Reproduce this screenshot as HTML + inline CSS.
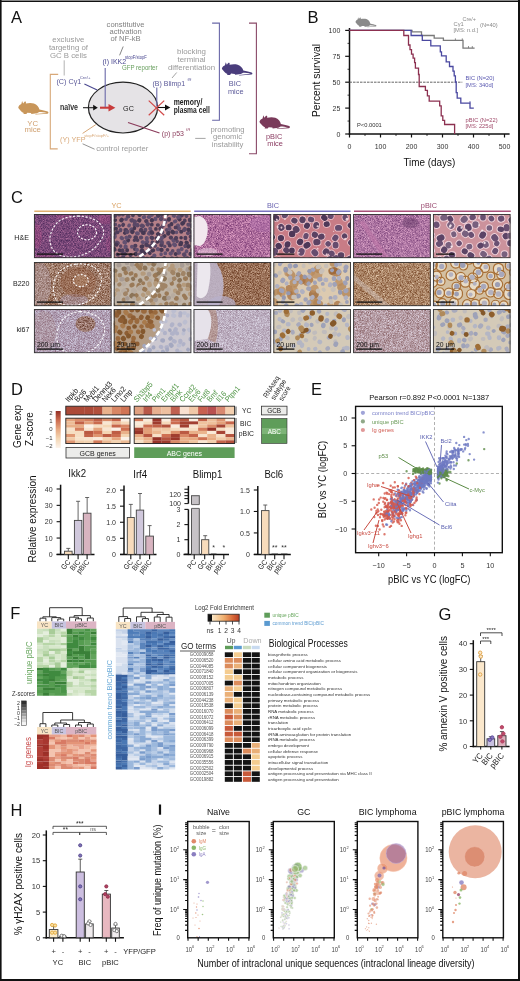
<!DOCTYPE html>
<html><head><meta charset="utf-8"><style>
html,body{margin:0;padding:0;background:#fff;}
body{width:520px;height:981px;overflow:hidden;}
svg{display:block;will-change:transform;}
text{font-family:"Liberation Sans",sans-serif;}
</style></head><body>
<svg width="520" height="981" viewBox="0 0 520 981">
<defs><filter id="tHE1" x="0" y="0" width="100%" height="100%" color-interpolation-filters="sRGB"><feTurbulence type="fractalNoise" baseFrequency="1.4" numOctaves="2" seed="3"/><feColorMatrix type="matrix" values="0.600 0 0 0 0.182  0.413 0 0 0 0.080  0.400 0 0 0 0.278  0 0 0 0 1"/></filter><filter id="tHE3" x="0" y="0" width="100%" height="100%" color-interpolation-filters="sRGB"><feTurbulence type="fractalNoise" baseFrequency="1.4" numOctaves="2" seed="4"/><feColorMatrix type="matrix" values="0.707 0 0 0 0.333  0.707 0 0 0 0.082  0.560 0 0 0 0.340  0 0 0 0 1"/></filter><filter id="tHE5" x="0" y="0" width="100%" height="100%" color-interpolation-filters="sRGB"><feTurbulence type="fractalNoise" baseFrequency="1.4" numOctaves="2" seed="5"/><feColorMatrix type="matrix" values="0.613 0 0 0 0.376  0.613 0 0 0 0.156  0.493 0 0 0 0.393  0 0 0 0 1"/></filter><filter id="tB1" x="0" y="0" width="100%" height="100%" color-interpolation-filters="sRGB"><feTurbulence type="fractalNoise" baseFrequency="1.4" numOctaves="2" seed="6"/><feColorMatrix type="matrix" values="0.707 0 0 0 0.270  0.853 0 0 0 0.060  0.933 0 0 0 -0.051  0 0 0 0 1"/></filter><filter id="tB3" x="0" y="0" width="100%" height="100%" color-interpolation-filters="sRGB"><feTurbulence type="fractalNoise" baseFrequency="1.4" numOctaves="2" seed="7"/><feColorMatrix type="matrix" values="0.640 0 0 0 0.284  0.733 0 0 0 0.076  0.747 0 0 0 -0.028  0 0 0 0 1"/></filter><filter id="tB5" x="0" y="0" width="100%" height="100%" color-interpolation-filters="sRGB"><feTurbulence type="fractalNoise" baseFrequency="1.4" numOctaves="2" seed="8"/><feColorMatrix type="matrix" values="0.653 0 0 0 0.344  0.787 0 0 0 0.128  0.813 0 0 0 -0.003  0 0 0 0 1"/></filter><filter id="tK1" x="0" y="0" width="100%" height="100%" color-interpolation-filters="sRGB"><feTurbulence type="fractalNoise" baseFrequency="1.4" numOctaves="2" seed="9"/><feColorMatrix type="matrix" values="0.464 0 0 0 0.454  0.640 0 0 0 0.296  0.627 0 0 0 0.384  0 0 0 0 1"/></filter><filter id="tK3" x="0" y="0" width="100%" height="100%" color-interpolation-filters="sRGB"><feTurbulence type="fractalNoise" baseFrequency="1.4" numOctaves="2" seed="10"/><feColorMatrix type="matrix" values="0.439 0 0 0 0.522  0.552 0 0 0 0.414  0.515 0 0 0 0.500  0 0 0 0 1"/></filter><filter id="tK1b" x="0" y="0" width="100%" height="100%" color-interpolation-filters="sRGB"><feTurbulence type="fractalNoise" baseFrequency="1.4" numOctaves="2" seed="12"/><feColorMatrix type="matrix" values="0.664 0 0 0 0.268  0.762 0 0 0 0.082  0.833 0 0 0 0.011  0 0 0 0 1"/></filter><filter id="tK5" x="0" y="0" width="100%" height="100%" color-interpolation-filters="sRGB"><feTurbulence type="fractalNoise" baseFrequency="1.4" numOctaves="2" seed="11"/><feColorMatrix type="matrix" values="0.540 0 0 0 0.440  0.703 0 0 0 0.260  0.753 0 0 0 0.267  0 0 0 0 1"/></filter><clipPath id="c00"><rect x="34.0" y="214.1" width="77.5" height="44"/></clipPath><clipPath id="c10"><rect x="113.8" y="214.1" width="77.5" height="44"/></clipPath><clipPath id="c20"><rect x="193.6" y="214.1" width="77.5" height="44"/></clipPath><clipPath id="c30"><rect x="273.4" y="214.1" width="77.5" height="44"/></clipPath><clipPath id="c40"><rect x="353.2" y="214.1" width="77.5" height="44"/></clipPath><clipPath id="c50"><rect x="433.0" y="214.1" width="77.5" height="44"/></clipPath><clipPath id="c01"><rect x="34.0" y="262.1" width="77.5" height="44"/></clipPath><clipPath id="c11"><rect x="113.8" y="262.1" width="77.5" height="44"/></clipPath><clipPath id="c21"><rect x="193.6" y="262.1" width="77.5" height="44"/></clipPath><clipPath id="c31"><rect x="273.4" y="262.1" width="77.5" height="44"/></clipPath><clipPath id="c41"><rect x="353.2" y="262.1" width="77.5" height="44"/></clipPath><clipPath id="c51"><rect x="433.0" y="262.1" width="77.5" height="44"/></clipPath><clipPath id="c02"><rect x="34.0" y="309.1" width="77.5" height="44"/></clipPath><clipPath id="c12"><rect x="113.8" y="309.1" width="77.5" height="44"/></clipPath><clipPath id="c22"><rect x="193.6" y="309.1" width="77.5" height="44"/></clipPath><clipPath id="c32"><rect x="273.4" y="309.1" width="77.5" height="44"/></clipPath><clipPath id="c42"><rect x="353.2" y="309.1" width="77.5" height="44"/></clipPath><clipPath id="c52"><rect x="433.0" y="309.1" width="77.5" height="44"/></clipPath><clipPath id="k1in"><ellipse cx="85.5" cy="323.90000000000003" rx="10" ry="8"/></clipPath><clipPath id="ecl"><rect x="355.6" y="406.4" width="146.7" height="146.30000000000007"/></clipPath><linearGradient id="lfe" x1="0" x2="1" y1="0" y2="0"><stop offset="0" stop-color="#111"/><stop offset="0.12" stop-color="#111"/><stop offset="0.14" stop-color="#fbe6c4"/><stop offset="0.5" stop-color="#f0b070"/><stop offset="0.8" stop-color="#d86838"/><stop offset="1" stop-color="#b83c24"/></linearGradient></defs>
<rect x="0" y="0" width="520" height="981" fill="#fff"/>
<text x="11.00" y="23.30" font-size="16.5" fill="#111" text-anchor="start">A</text>
<text x="68.40" y="42.40" font-size="7.8" fill="#9a9a9a" text-anchor="middle">exclusive</text>
<text x="68.40" y="50.35" font-size="7.8" fill="#9a9a9a" text-anchor="middle">targeting of</text>
<text x="68.40" y="58.30" font-size="7.8" fill="#9a9a9a" text-anchor="middle">GC B cells</text>
<line x1="64.20" y1="60.30" x2="64.20" y2="75.50" stroke="#aaa" stroke-width="0.9"/>
<text x="125.60" y="26.50" font-size="7.6" fill="#808080" text-anchor="middle">constitutive</text>
<text x="125.60" y="33.90" font-size="7.6" fill="#808080" text-anchor="middle">activation</text>
<text x="125.60" y="41.30" font-size="7.6" fill="#808080" text-anchor="middle">of NF-kB</text>
<line x1="123.20" y1="46.50" x2="119.60" y2="55.30" stroke="#777" stroke-width="0.9"/>
<text x="191.50" y="53.80" font-size="7.9" fill="#9a9a9a" text-anchor="middle">blocking</text>
<text x="191.50" y="62.05" font-size="7.9" fill="#9a9a9a" text-anchor="middle">terminal</text>
<text x="191.50" y="70.30" font-size="7.9" fill="#9a9a9a" text-anchor="middle">differentiation</text>
<line x1="176.70" y1="72.50" x2="172.00" y2="78.00" stroke="#9a9a9a" stroke-width="0.9"/>
<text x="227.50" y="131.90" font-size="7.7" fill="#9a9a9a" text-anchor="middle">promoting</text>
<text x="227.50" y="139.40" font-size="7.7" fill="#9a9a9a" text-anchor="middle">genomic</text>
<text x="227.50" y="146.90" font-size="7.7" fill="#9a9a9a" text-anchor="middle">instability</text>
<line x1="195.20" y1="138.40" x2="205.60" y2="138.40" stroke="#9a9a9a" stroke-width="0.9"/>
<line x1="82.60" y1="143.80" x2="94.60" y2="149.20" stroke="#888" stroke-width="0.9"/>
<text x="96.20" y="151.20" font-size="7.7" fill="#9a9a9a" text-anchor="start">control reporter</text>
<ellipse cx="123" cy="107.6" rx="34.6" ry="25.4" fill="#e5e3e6" stroke="#222" stroke-width="1.2"/>
<text transform="translate(128.50 111.00) scale(0.9 1)" font-size="8" fill="#222" text-anchor="middle">GC</text>
<text transform="translate(60.00 109.70) scale(0.82 1)" font-size="8.6" fill="#333" text-anchor="start" font-weight="bold">naïve</text>
<line x1="83.00" y1="107.70" x2="94.50" y2="107.70" stroke="#222" stroke-width="1.1"/>
<path d="M93.2,104.8 L97.8,107.7 L93.2,110.6 Z" fill="#111" stroke="none" stroke-width="1"/>
<line x1="100.00" y1="107.70" x2="110.50" y2="107.70" stroke="#c83c3c" stroke-width="2.1"/>
<path d="M108.5,104 L115.4,107.7 L108.5,111.4 Z" fill="#c83c3c" stroke="none" stroke-width="1"/>
<line x1="105.20" y1="68.00" x2="105.20" y2="107.00" stroke="#6a68a8" stroke-width="1.1"/>
<text transform="translate(102.40 64.20) scale(0.92 1)" font-size="7.6" fill="#4a4890" text-anchor="start">(I) IKK2</text>
<text transform="translate(125.00 58.80) scale(0.9 1)" font-size="4.6" fill="#4a4890" text-anchor="start">stopF/stopF</text>
<text transform="translate(121.90 70.00) scale(0.93 1)" font-size="6.6" fill="#6aa060" text-anchor="start">GFP reporter</text>
<text transform="translate(56.40 83.80) scale(0.95 1)" font-size="7.6" fill="#5a5898" text-anchor="start">(C) Cγ1</text>
<text x="79.70" y="78.50" font-size="4.4" fill="#5a5898" text-anchor="start">Cre/+</text>
<line x1="84.40" y1="84.10" x2="97.20" y2="89.90" stroke="#4a4890" stroke-width="1.1"/>
<text transform="translate(60.00 142.30) scale(0.95 1)" font-size="7.6" fill="#d8a878" text-anchor="start">(Y) YFP</text>
<text transform="translate(84.20 137.00) scale(0.92 1)" font-size="4.4" fill="#d8a878" text-anchor="start">stopF/stopF/+</text>
<line x1="82.60" y1="133.40" x2="95.80" y2="124.60" stroke="#d8a878" stroke-width="1"/>
<text transform="translate(152.50 85.80) scale(0.92 1)" font-size="7.6" fill="#5a5898" text-anchor="start">(B) Blimp1</text>
<text x="187.60" y="80.70" font-size="4.4" fill="#5a5898" text-anchor="start">f/f</text>
<line x1="156.80" y1="87.60" x2="156.80" y2="106.60" stroke="#6a68a8" stroke-width="1.1"/>
<line x1="157.50" y1="107.50" x2="166.00" y2="107.50" stroke="#111" stroke-width="1.1"/>
<path d="M165,104.6 L170.3,107.5 L165,110.4 Z" fill="#111" stroke="none" stroke-width="1"/>
<line x1="148.70" y1="100.60" x2="164.20" y2="115.30" stroke="#d04848" stroke-width="1.2"/>
<line x1="148.70" y1="115.30" x2="164.20" y2="100.60" stroke="#d04848" stroke-width="1.2"/>
<text transform="translate(173.70 104.90) scale(0.8 1)" font-size="8.6" fill="#222" text-anchor="start" font-weight="bold">memory/</text>
<text transform="translate(173.70 113.00) scale(0.78 1)" font-size="8.6" fill="#222" text-anchor="start" font-weight="bold">plasma cell</text>
<line x1="128.00" y1="122.50" x2="159.50" y2="133.00" stroke="#8a3a5a" stroke-width="1.1"/>
<text transform="translate(161.80 136.10) scale(0.92 1)" font-size="7.6" fill="#8a3a5a" text-anchor="start">(p) p53</text>
<text x="186.30" y="131.20" font-size="4.4" fill="#8a3a5a" text-anchor="start">f/f</text>
<polyline points="58.20,74.40 50.30,74.40 50.30,148.90 57.70,148.90" fill="none" stroke="#d8a878" stroke-width="1.1"/>
<polyline points="212.10,23.10 219.40,23.10 219.40,120.20 212.10,120.20" fill="none" stroke="#6a68a8" stroke-width="1.1"/>
<polyline points="249.00,23.10 256.40,23.10 256.40,153.70 249.00,153.70" fill="none" stroke="#8a4a68" stroke-width="1.1"/>
<path transform="translate(18.3,100.4) scale(1.007,1.029)" d="M0,6.6C0.5,5 2,4 3,3.6L3.8,0.6L4.8,3L6.2,1.2C7,0.6 7.8,1.2 7.6,2.2L7.5,3C10,2.4 13,2.2 15.5,3C18.5,4 20.5,6.5 21,8.8C24,9.6 27,10.2 29.2,10.8C30.2,11.3 30.2,12.6 29,12.9L17,13.8L17,13.3L28.2,12.2C26,11.6 23,11.3 20.8,11.2L18.6,12.4L15,13L13,13.2L12.6,12.3L9,12L8,13.3L5,13.3L5.5,12.3C4,11.6 2.5,10.5 1.5,9C0.7,8.2 0,7.5 0,6.6Z" fill="#c8965a"/>
<text x="32.70" y="125.50" font-size="7.8" fill="#d0a070" text-anchor="middle">YC</text>
<text x="32.70" y="132.30" font-size="7.8" fill="#d0a070" text-anchor="middle">mice</text>
<path transform="translate(221.9,61.7) scale(1.020,0.993)" d="M0,6.6C0.5,5 2,4 3,3.6L3.8,0.6L4.8,3L6.2,1.2C7,0.6 7.8,1.2 7.6,2.2L7.5,3C10,2.4 13,2.2 15.5,3C18.5,4 20.5,6.5 21,8.8C24,9.6 27,10.2 29.2,10.8C30.2,11.3 30.2,12.6 29,12.9L17,13.8L17,13.3L28.2,12.2C26,11.6 23,11.3 20.8,11.2L18.6,12.4L15,13L13,13.2L12.6,12.3L9,12L8,13.3L5,13.3L5.5,12.3C4,11.6 2.5,10.5 1.5,9C0.7,8.2 0,7.5 0,6.6Z" fill="#4a3d7c"/>
<text transform="translate(234.90 85.60) scale(0.95 1)" font-size="7.8" fill="#5a5898" text-anchor="middle">BIC</text>
<text transform="translate(235.70 93.50) scale(0.95 1)" font-size="7.8" fill="#5a5898" text-anchor="middle">mice</text>
<path transform="translate(259.5,114.7) scale(1.017,1.043)" d="M0,6.6C0.5,5 2,4 3,3.6L3.8,0.6L4.8,3L6.2,1.2C7,0.6 7.8,1.2 7.6,2.2L7.5,3C10,2.4 13,2.2 15.5,3C18.5,4 20.5,6.5 21,8.8C24,9.6 27,10.2 29.2,10.8C30.2,11.3 30.2,12.6 29,12.9L17,13.8L17,13.3L28.2,12.2C26,11.6 23,11.3 20.8,11.2L18.6,12.4L15,13L13,13.2L12.6,12.3L9,12L8,13.3L5,13.3L5.5,12.3C4,11.6 2.5,10.5 1.5,9C0.7,8.2 0,7.5 0,6.6Z" fill="#7a3a5a"/>
<text transform="translate(274.20 138.90) scale(0.95 1)" font-size="7.8" fill="#8a3a60" text-anchor="middle">pBIC</text>
<text transform="translate(275.10 145.80) scale(0.95 1)" font-size="7.8" fill="#8a3a60" text-anchor="middle">mice</text>
<text x="307.50" y="22.50" font-size="16.5" fill="#111" text-anchor="start">B</text>
<line x1="349.50" y1="28.00" x2="349.50" y2="134.80" stroke="#111" stroke-width="1.5"/>
<line x1="348.80" y1="134.00" x2="509.60" y2="134.00" stroke="#111" stroke-width="1.5"/>
<line x1="345.20" y1="134.00" x2="349.50" y2="134.00" stroke="#111" stroke-width="1.2"/>
<text x="340.30" y="136.50" font-size="7" fill="#333" text-anchor="end">0</text>
<line x1="345.20" y1="108.10" x2="349.50" y2="108.10" stroke="#111" stroke-width="1.2"/>
<text x="340.30" y="110.60" font-size="7" fill="#333" text-anchor="end">25</text>
<line x1="345.20" y1="82.20" x2="349.50" y2="82.20" stroke="#111" stroke-width="1.2"/>
<text x="340.30" y="84.70" font-size="7" fill="#333" text-anchor="end">50</text>
<line x1="345.20" y1="56.30" x2="349.50" y2="56.30" stroke="#111" stroke-width="1.2"/>
<text x="340.30" y="58.80" font-size="7" fill="#333" text-anchor="end">75</text>
<line x1="345.20" y1="30.40" x2="349.50" y2="30.40" stroke="#111" stroke-width="1.2"/>
<text x="340.30" y="32.90" font-size="7" fill="#333" text-anchor="end">100</text>
<line x1="347.50" y1="121.05" x2="349.50" y2="121.05" stroke="#111" stroke-width="0.8"/>
<line x1="347.50" y1="95.15" x2="349.50" y2="95.15" stroke="#111" stroke-width="0.8"/>
<line x1="347.50" y1="69.25" x2="349.50" y2="69.25" stroke="#111" stroke-width="0.8"/>
<line x1="347.50" y1="43.35" x2="349.50" y2="43.35" stroke="#111" stroke-width="0.8"/>
<line x1="349.50" y1="134.00" x2="349.50" y2="137.50" stroke="#111" stroke-width="1.2"/>
<text x="349.50" y="149.40" font-size="7" fill="#333" text-anchor="middle">0</text>
<line x1="380.50" y1="134.00" x2="380.50" y2="137.50" stroke="#111" stroke-width="1.2"/>
<text x="380.50" y="149.40" font-size="7" fill="#333" text-anchor="middle">100</text>
<line x1="411.50" y1="134.00" x2="411.50" y2="137.50" stroke="#111" stroke-width="1.2"/>
<text x="411.50" y="149.40" font-size="7" fill="#333" text-anchor="middle">200</text>
<line x1="442.50" y1="134.00" x2="442.50" y2="137.50" stroke="#111" stroke-width="1.2"/>
<text x="442.50" y="149.40" font-size="7" fill="#333" text-anchor="middle">300</text>
<line x1="473.50" y1="134.00" x2="473.50" y2="137.50" stroke="#111" stroke-width="1.2"/>
<text x="473.50" y="149.40" font-size="7" fill="#333" text-anchor="middle">400</text>
<line x1="504.50" y1="134.00" x2="504.50" y2="137.50" stroke="#111" stroke-width="1.2"/>
<text x="504.50" y="149.40" font-size="7" fill="#333" text-anchor="middle">500</text>
<line x1="365.00" y1="134.00" x2="365.00" y2="136.00" stroke="#111" stroke-width="0.8"/>
<line x1="396.00" y1="134.00" x2="396.00" y2="136.00" stroke="#111" stroke-width="0.8"/>
<line x1="427.00" y1="134.00" x2="427.00" y2="136.00" stroke="#111" stroke-width="0.8"/>
<line x1="458.00" y1="134.00" x2="458.00" y2="136.00" stroke="#111" stroke-width="0.8"/>
<line x1="489.00" y1="134.00" x2="489.00" y2="136.00" stroke="#111" stroke-width="0.8"/>
<text transform="translate(429.30 166.00) scale(0.9 1)" font-size="11" fill="#111" text-anchor="middle">Time (days)</text>
<text transform="translate(319.60 80.50) rotate(-90) scale(0.98 1)" font-size="10.5" fill="#111" text-anchor="middle">Percent survival</text>
<line x1="349.50" y1="82.20" x2="462.30" y2="82.20" stroke="#555" stroke-width="0.9" stroke-dasharray="2.5,1"/>
<polyline points="349.50,30.40 412.00,30.40 412.00,31.90 421.50,31.90 421.50,35.50 434.20,35.50 434.20,38.10 443.40,38.10 443.40,40.40 463.00,40.40 463.00,48.10 474.60,48.10" fill="none" stroke="#7a7a7a" stroke-width="1.3"/>
<line x1="455.40" y1="38.40" x2="455.40" y2="40.40" stroke="#7a7a7a" stroke-width="0.9"/>
<line x1="462.30" y1="38.40" x2="462.30" y2="40.40" stroke="#7a7a7a" stroke-width="0.9"/>
<line x1="468.50" y1="46.10" x2="468.50" y2="48.10" stroke="#7a7a7a" stroke-width="0.9"/>
<line x1="472.30" y1="46.10" x2="472.30" y2="48.10" stroke="#7a7a7a" stroke-width="0.9"/>
<polyline points="349.50,30.40 411.10,30.40 411.10,35.50 422.30,35.50 422.30,40.40 430.80,40.40 430.80,45.80 440.30,45.80 440.30,51.90 441.50,51.90 441.50,55.80 446.20,55.80 446.20,61.90 449.50,61.90 449.50,66.50 453.00,66.50 453.00,71.20 454.20,71.20 454.20,75.80 455.40,75.80 455.40,82.00 456.20,82.00 456.20,92.70 457.20,92.70 457.20,98.10 460.80,98.10 460.80,103.20 470.00,103.20 470.00,108.10 473.80,108.10" fill="none" stroke="#4a48a0" stroke-width="1.3"/>
<line x1="470.00" y1="101.20" x2="470.00" y2="103.20" stroke="#4a48a0" stroke-width="0.9"/>
<polyline points="349.50,30.40 403.80,30.40 403.80,35.50 408.50,35.50 408.50,45.00 410.00,45.00 410.00,49.60 411.50,49.60 411.50,54.20 413.10,54.20 413.10,58.10 414.60,58.10 414.60,62.70 415.40,62.70 415.40,68.10 418.50,68.10 418.50,74.50 419.20,74.50 419.20,86.50 425.40,86.50 425.40,90.40 427.40,90.40 427.40,95.80 429.20,95.80 429.20,101.20 439.70,101.20 439.70,105.80 441.20,105.80 441.20,115.80 442.80,115.80 442.80,120.40 444.60,120.40 444.60,124.50 454.60,124.50 454.60,134.00 454.60,134.00" fill="none" stroke="#8c3050" stroke-width="1.3"/>
<text transform="translate(453.50 26.00) scale(0.93 1)" font-size="6.2" fill="#8a8a8a" text-anchor="start">Cγ1</text>
<text transform="translate(462.50 20.50) scale(0.93 1)" font-size="5.8" fill="#8a8a8a" text-anchor="start">Cre/+</text>
<text transform="translate(480.00 26.50) scale(0.93 1)" font-size="6.2" fill="#8a8a8a" text-anchor="start">(N=40)</text>
<text transform="translate(453.50 32.40) scale(0.93 1)" font-size="6.2" fill="#8a8a8a" text-anchor="start">[MS: n.d.]</text>
<text transform="translate(465.50 79.90) scale(0.93 1)" font-size="6.2" fill="#5a58b0" text-anchor="start">BIC (N=20)</text>
<text transform="translate(465.50 86.50) scale(0.93 1)" font-size="6.2" fill="#5a58b0" text-anchor="start">[MS: 340d]</text>
<text transform="translate(465.50 122.00) scale(0.93 1)" font-size="6.2" fill="#a04a6a" text-anchor="start">pBIC (N=22)</text>
<text transform="translate(465.50 128.40) scale(0.93 1)" font-size="6.2" fill="#a04a6a" text-anchor="start">[MS: 225d]</text>
<text transform="translate(357.00 126.80) scale(0.93 1)" font-size="6.2" fill="#333" text-anchor="start">P&lt;0.0001</text>
<path transform="translate(355.5,16.8) scale(0.700,0.757)" d="M0,6.6C0.5,5 2,4 3,3.6L3.8,0.6L4.8,3L6.2,1.2C7,0.6 7.8,1.2 7.6,2.2L7.5,3C10,2.4 13,2.2 15.5,3C18.5,4 20.5,6.5 21,8.8C24,9.6 27,10.2 29.2,10.8C30.2,11.3 30.2,12.6 29,12.9L17,13.8L17,13.3L28.2,12.2C26,11.6 23,11.3 20.8,11.2L18.6,12.4L15,13L13,13.2L12.6,12.3L9,12L8,13.3L5,13.3L5.5,12.3C4,11.6 2.5,10.5 1.5,9C0.7,8.2 0,7.5 0,6.6Z" fill="#8a8a8a"/>
<text x="11.00" y="202.50" font-size="16.5" fill="#111" text-anchor="start">C</text>
<text transform="translate(116.50 208.00) scale(0.92 1)" font-size="8" fill="#d8a060" text-anchor="middle">YC</text>
<text transform="translate(273.00 208.00) scale(0.92 1)" font-size="8" fill="#6a64b0" text-anchor="middle">BIC</text>
<text transform="translate(429.00 208.00) scale(0.92 1)" font-size="8" fill="#9a4a70" text-anchor="middle">pBIC</text>
<line x1="34.30" y1="211.20" x2="190.70" y2="211.20" stroke="#e0b070" stroke-width="1.4"/>
<line x1="194.20" y1="211.20" x2="350.50" y2="211.20" stroke="#7a74c0" stroke-width="1.4"/>
<line x1="354.00" y1="211.20" x2="510.80" y2="211.20" stroke="#a85078" stroke-width="1.4"/>
<text transform="translate(29.00 240.00) scale(0.95 1)" font-size="7.5" fill="#222" text-anchor="end">H&amp;E</text>
<text transform="translate(29.50 285.50) scale(0.95 1)" font-size="7.5" fill="#222" text-anchor="end">B220</text>
<text transform="translate(29.50 331.50) scale(0.95 1)" font-size="7.5" fill="#222" text-anchor="end">ki67</text>
<g clip-path="url(#c00)">
<rect x="34.0" y="214.1" width="77.5" height="44" filter="url(#tHE1)"/>
<ellipse cx="37.0" cy="236.1" rx="5" ry="12" fill="#c04a88" fill-opacity="0.25"/>
<ellipse cx="44.0" cy="257.1" rx="10" ry="3" fill="#c04a88" fill-opacity="0.2"/>
<ellipse cx="106.0" cy="219.1" rx="8" ry="5" fill="#c04a88" fill-opacity="0.25"/>
<ellipse cx="110.0" cy="244.1" rx="4" ry="8" fill="#c04a88" fill-opacity="0.2"/>
<ellipse cx="64.0" cy="216.1" rx="8" ry="3" fill="#c04a88" fill-opacity="0.2"/>
<path d="M78.0,216.1 C84.3,216.1 92.8,218.1 97.0,221.1 C101.2,224.1 104.3,229.3 103.5,234.1 C102.7,238.9 97.2,246.3 92.0,250.1 C86.8,253.9 78.2,256.8 72.0,257.1 C65.8,257.4 58.7,255.4 55.0,252.1 C51.3,248.8 49.3,242.3 50.0,237.1 C50.7,231.9 54.3,224.6 59.0,221.1 C63.7,217.6 71.7,216.1 78.0,216.1 Z" fill="none" stroke="#fff" stroke-width="1.1" stroke-dasharray="2.2,1.6" stroke-opacity="0.95"/>
<ellipse cx="87.0" cy="232.29999999999998" rx="9.5" ry="7.5" fill="none" stroke="#fff" stroke-width="1.1" stroke-dasharray="2,1.5"/>
</g>
<rect x="34.40" y="214.50" width="76.70" height="43.20" fill="none" stroke="#333" stroke-width="0.9"/>
<line x1="37.00" y1="254.10" x2="63.00" y2="254.10" stroke="#111" stroke-width="1.3"/>
<g clip-path="url(#c10)">
<rect x="113.80" y="214.10" width="77.50" height="44.00" fill="#b48088" stroke="none" stroke-width="1"/>
<path d="M173.3 240.2l0.3 0.5M131.9 246.8l0.1 0.0M147.2 241.8l-0.4 0.4M121.5 237.8l0.6 0.6M181.8 259.6l-0.0 0.0" stroke="#625070" stroke-width="3.9" stroke-linecap="round" fill="none"/>
<path d="M155.1 245.8l-0.1 0.1M185.5 245.9l-0.2 0.1M128.3 216.5l-0.5 0.1M186.4 261.1l-0.5 0.5M178.5 210.8l0.1 0.9M168.1 242.9l0.5 0.0" stroke="#5a4866" stroke-width="4.0" stroke-linecap="round" fill="none"/>
<path d="M134.9 249.1l-0.1 0.0M137.0 258.9l-0.2 0.5M176.1 263.1l-0.1 0.8M152.7 257.8l-0.8 0.0M156.2 210.5l0.0 0.0M155.3 262.4l0.1 0.0M157.7 225.0l0.4 0.0M152.4 242.3l0.2 0.1M167.5 249.8l-0.0 0.0M116.9 261.9l-0.2 0.3M117.0 232.0l0.7 0.4" stroke="#4e3e5a" stroke-width="3.7" stroke-linecap="round" fill="none"/>
<path d="M134.6 224.2l-0.2 0.7M195.2 227.7l0.1 0.1M122.8 214.6l0.1 0.0M172.7 250.9l0.0 0.0M118.7 214.6l0.6 0.1M188.2 233.3l-0.4 0.1M191.0 240.0l-0.1 0.2M186.2 215.4l0.3 0.7" stroke="#5a4866" stroke-width="3.7" stroke-linecap="round" fill="none"/>
<path d="M179.2 219.0l0.4 0.3M169.0 219.0l-0.1 0.7M151.5 261.9l0.4 0.4M153.1 250.3l-0.6 0.4M142.3 246.3l-0.7 0.3M110.8 263.3l0.7 0.3M135.8 253.8l0.0 0.4" stroke="#463852" stroke-width="4.0" stroke-linecap="round" fill="none"/>
<path d="M175.5 221.2l-0.7 0.3M131.4 229.3l-0.3 0.3M150.2 228.5l0.2 0.5M173.6 215.7l0.5 0.3M151.7 214.5l0.2 0.6M178.0 225.3l0.1 0.3M190.6 212.6l-0.2 0.7M132.6 258.9l0.2 0.3M165.3 253.0l-0.0 0.4M195.5 219.8l0.0 0.1" stroke="#625070" stroke-width="3.7" stroke-linecap="round" fill="none"/>
<path d="M172.5 231.8l0.6 0.5M190.5 253.9l0.0 0.1M132.5 231.8l-0.2 0.2M188.7 229.7l-0.1 0.2M152.0 220.2l-0.1 0.2M192.1 232.2l0.0 0.6M183.1 223.0l-0.7 0.5M168.3 232.8l-0.1 0.8" stroke="#463852" stroke-width="4.2" stroke-linecap="round" fill="none"/>
<path d="M185.7 210.5l0.5 0.5M166.7 229.8l0.0 0.3M129.4 236.5l0.5 0.3M177.1 241.3l-0.0 0.2" stroke="#5a4866" stroke-width="3.6" stroke-linecap="round" fill="none"/>
<path d="M125.8 219.2l0.4 0.0M176.5 232.3l0.0 0.1M186.6 251.1l-0.2 0.6M129.2 225.2l-0.2 0.6M179.3 252.8l-0.4 0.3M161.1 254.1l0.0 0.5" stroke="#625070" stroke-width="3.5" stroke-linecap="round" fill="none"/>
<path d="M188.8 246.1l-0.5 0.6M180.1 244.4l0.8 0.0M151.8 224.6l0.0 0.1M128.3 240.2l-0.3 0.4M146.8 258.6l0.4 0.0M156.4 238.1l0.7 0.1M164.6 236.0l-0.6 0.4M175.6 253.9l0.1 0.2M125.1 232.8l-0.2 0.2" stroke="#463852" stroke-width="3.8" stroke-linecap="round" fill="none"/>
<path d="M143.1 257.8l-0.3 0.1M178.5 250.7l-0.1 0.0M192.8 216.5l-0.3 0.2M165.0 262.4l0.4 0.3M154.4 255.7l-0.1 0.0M174.2 244.5l0.7 0.5M136.9 249.9l0.0 0.0" stroke="#625070" stroke-width="4.2" stroke-linecap="round" fill="none"/>
<path d="M151.7 237.6l0.4 0.3M111.0 246.0l0.1 0.1M176.1 238.1l-0.1 0.3M158.1 259.3l-0.1 0.6M190.6 263.3l0.1 0.9M161.6 244.2l-0.2 0.8M158.1 215.5l-0.0 0.5" stroke="#4e3e5a" stroke-width="4.2" stroke-linecap="round" fill="none"/>
<path d="M179.0 228.3l-0.2 0.5M181.7 249.0l0.0 0.1M170.7 253.5l0.1 0.1M149.5 233.0l-0.4 0.6" stroke="#625070" stroke-width="4.1" stroke-linecap="round" fill="none"/>
<path d="M141.1 229.9l-0.2 0.4M126.1 230.1l-0.7 0.0M161.0 228.1l-0.6 0.6M189.9 219.7l0.1 0.9M146.4 221.1l-0.2 0.1M127.2 261.2l0.7 0.5" stroke="#4e3e5a" stroke-width="4.1" stroke-linecap="round" fill="none"/>
<path d="M184.8 220.3l0.1 0.4M133.1 215.2l-0.2 0.3M130.0 210.9l0.2 0.3M115.0 234.1l0.0 0.0" stroke="#4e3e5a" stroke-width="3.5" stroke-linecap="round" fill="none"/>
<path d="M124.7 212.6l-0.1 0.3M139.8 254.2l-0.0 0.1M148.8 217.0l0.4 0.0M146.8 238.1l0.0 0.8M157.8 249.1l0.2 0.1M137.0 233.3l0.8 0.2" stroke="#625070" stroke-width="4.0" stroke-linecap="round" fill="none"/>
<path d="M161.7 214.3l-0.2 0.5M146.4 244.9l0.4 0.2M181.7 215.4l-0.7 0.1M151.0 245.8l-0.6 0.7M135.6 237.4l0.3 0.2" stroke="#4e3e5a" stroke-width="4.3" stroke-linecap="round" fill="none"/>
<path d="M122.4 253.9l0.0 0.0M160.5 261.1l0.7 0.5M114.8 224.4l0.4 0.0M120.5 229.8l-0.1 0.6M167.1 214.3l-0.3 0.3M113.1 259.2l-0.3 0.3M145.4 229.6l-0.1 0.7" stroke="#5a4866" stroke-width="3.8" stroke-linecap="round" fill="none"/>
<path d="M125.6 246.6l0.0 0.7M112.7 241.2l-0.0 0.2M144.3 210.7l-0.2 0.3M112.4 237.8l-0.7 0.0M124.6 242.2l0.5 0.1M178.5 217.1l-0.2 0.1M165.2 221.2l0.0 0.9M169.5 228.8l-0.1 0.0M161.7 238.0l-0.5 0.6" stroke="#625070" stroke-width="4.3" stroke-linecap="round" fill="none"/>
<path d="M171.9 258.2l0.2 0.1M187.3 258.0l-0.1 0.2M193.1 253.7l0.5 0.4M126.3 237.6l0.2 0.3M155.5 218.5l0.0 0.7M144.4 217.0l-0.7 0.3M142.6 242.1l0.7 0.3" stroke="#625070" stroke-width="3.8" stroke-linecap="round" fill="none"/>
<path d="M134.4 227.8l-0.0 0.5M127.2 250.1l-0.1 0.4M119.5 250.1l0.6 0.4M158.0 241.5l-0.6 0.3M111.8 220.6l-0.2 0.2M186.4 242.5l0.6 0.4M171.5 262.1l-0.7 0.0M122.3 261.9l0.2 0.5M145.0 252.7l-0.1 0.4M119.3 258.5l0.6 0.0M130.7 255.0l-0.2 0.1M155.9 228.9l-0.0 0.0" stroke="#463852" stroke-width="3.7" stroke-linecap="round" fill="none"/>
<path d="M111.5 212.8l0.0 0.2M163.1 225.6l0.1 0.1M188.6 224.8l-0.4 0.0M160.8 210.6l0.1 0.4M141.2 237.5l-0.4 0.1M121.7 211.2l-0.5 0.3" stroke="#5a4866" stroke-width="3.9" stroke-linecap="round" fill="none"/>
<path d="M116.9 242.7l0.8 0.4M137.4 225.0l0.2 0.3M127.4 231.7l-0.3 0.3M191.4 225.3l0.2 0.7M193.1 257.4l-0.7 0.4M168.3 259.8l-0.2 0.3M161.4 218.7l-0.3 0.4M184.8 229.1l-0.6 0.7M112.6 229.1l-0.2 0.3" stroke="#5a4866" stroke-width="4.2" stroke-linecap="round" fill="none"/>
<path d="M170.9 237.5l-0.1 0.1M115.0 215.8l0.0 0.1M140.0 214.4l-0.5 0.6M179.0 261.4l0.5 0.0M194.2 263.8l0.4 0.3M171.3 211.7l0.7 0.6M169.8 245.2l0.0 0.3" stroke="#4e3e5a" stroke-width="4.0" stroke-linecap="round" fill="none"/>
<path d="M116.2 244.5l0.3 0.3M171.5 223.9l-0.1 0.4" stroke="#463852" stroke-width="3.9" stroke-linecap="round" fill="none"/>
<path d="M185.4 237.8l-0.0 0.5M131.4 263.5l-0.6 0.3M111.3 253.3l-0.5 0.7M195.3 247.0l-0.1 0.1M175.6 227.4l0.2 0.0M135.2 245.8l0.3 0.0M123.3 257.2l-0.3 0.2M137.4 240.1l0.1 0.0M122.5 250.3l-0.0 0.4" stroke="#4e3e5a" stroke-width="3.9" stroke-linecap="round" fill="none"/>
<path d="M139.4 220.1l-0.2 0.4M114.2 249.0l0.3 0.7M158.3 234.0l-0.3 0.2M150.7 210.7l0.1 0.1M151.7 232.2l0.5 0.7M121.8 219.6l-0.5 0.7M181.2 231.7l-0.0 0.1M137.3 212.3l-0.0 0.7M143.0 232.9l0.8 0.0" stroke="#463852" stroke-width="4.1" stroke-linecap="round" fill="none"/>
<path d="M117.5 254.4l0.4 0.3M117.3 210.4l-0.4 0.2M164.3 257.9l-0.2 0.2M191.0 236.7l-0.5 0.0M175.8 211.1l0.1 0.0" stroke="#4e3e5a" stroke-width="3.8" stroke-linecap="round" fill="none"/>
<path d="M169.2 225.6l-0.0 0.1M123.3 224.5l-0.3 0.6M134.4 240.2l-0.0 0.1M129.3 259.6l-0.3 0.1M176.9 258.4l-0.7 0.4" stroke="#4e3e5a" stroke-width="3.6" stroke-linecap="round" fill="none"/>
<path d="M139.9 262.9l-0.4 0.3M124.7 253.6l0.2 0.4M148.3 250.8l-0.4 0.4M134.5 221.3l0.4 0.2" stroke="#5a4866" stroke-width="4.1" stroke-linecap="round" fill="none"/>
<path d="M142.2 250.6l-0.5 0.4M134.6 262.5l-0.1 0.2M166.2 210.2l1.0 0.1M144.6 261.2l0.2 0.8M161.4 249.9l0.2 0.0" stroke="#463852" stroke-width="4.3" stroke-linecap="round" fill="none"/>
<path d="M164.7 246.4l-0.0 0.0M120.7 246.0l0.0 0.3M119.3 225.8l-0.1 0.2" stroke="#5a4866" stroke-width="3.5" stroke-linecap="round" fill="none"/>
<path d="M115.0 236.5l-0.3 0.7M193.6 235.8l-0.4 0.4" stroke="#625070" stroke-width="3.6" stroke-linecap="round" fill="none"/>
<path d="M161.8 242.1l0.0 0.3M147.8 224.2l-0.1 0.2M142.0 225.7l0.8 0.4M162.3 232.6l-0.1 0.0M131.9 220.2l-0.3 0.2M184.1 254.5l0.3 0.5M193.4 209.9l0.3 0.7" stroke="#5a4866" stroke-width="4.3" stroke-linecap="round" fill="none"/>
<path d="M141.1 210.5l-0.3 0.0M149.7 253.1l0.1 0.1M181.1 237.8l0.0 0.0M180.9 242.6l0.5 0.2" stroke="#463852" stroke-width="3.6" stroke-linecap="round" fill="none"/>
<path d="M115.1 220.0l0.2 0.1M116.2 228.5l-0.7 0.2" stroke="#463852" stroke-width="3.5" stroke-linecap="round" fill="none"/>
<path d="M193.0 250.0l-0.2 0.1" stroke="#4e3e5a" stroke-width="4.4" stroke-linecap="round" fill="none"/>
<path d="M165.8,213.1 C163.8,234.1 153.8,250.1 132.8,260.1" fill="none" stroke="#fff" stroke-width="2.6" stroke-dasharray="5,3"/>
</g>
<rect x="114.20" y="214.50" width="76.70" height="43.20" fill="none" stroke="#333" stroke-width="0.9"/>
<line x1="116.80" y1="254.10" x2="134.80" y2="254.10" stroke="#111" stroke-width="1.3"/>
<g clip-path="url(#c20)">
<rect x="193.6" y="214.1" width="77.5" height="44" filter="url(#tHE3)"/>
<ellipse cx="263.6" cy="224.1" rx="14" ry="8" fill="#b070b0" fill-opacity="0.35"/>
<path d="M193.6,217.1 L199.6,216.1 C205.6,218.1 208.6,224.1 207.6,232.1 C206.6,240.1 203.6,245.1 199.6,246.1 L193.6,245.1 Z" fill="#f2e8ee" stroke="none" stroke-width="0"/>
<ellipse cx="207.6" cy="252.1" rx="10" ry="4" fill="#e8c8dc" fill-opacity="0.6"/>
</g>
<rect x="194.00" y="214.50" width="76.70" height="43.20" fill="none" stroke="#333" stroke-width="0.9"/>
<line x1="196.60" y1="254.10" x2="222.60" y2="254.10" stroke="#111" stroke-width="1.3"/>
<g clip-path="url(#c30)">
<rect x="273.40" y="214.10" width="77.50" height="44.00" fill="#c87c86" stroke="none" stroke-width="1"/>
<path d="M356.1 233.1l0.0 0.0M299.2 209.6l-0.5 0.9M331.5 253.3l0.4 0.4M269.8 225.8l0.1 0.0M277.0 210.8l0.2 1.0M350.8 242.7l1.0 0.8M323.9 217.4l0.9 0.8M310.6 219.4l0.9 0.2" stroke="#ecc4cc" stroke-width="7.1" stroke-linecap="round" fill="none"/>
<path d="M321.6 236.6l-0.7 0.2M314.4 252.3l0.9 1.0M314.7 234.7l0.3 0.1M340.8 255.2l0.5 0.0M317.9 261.2l0.8 1.3M278.5 260.5l0.4 0.8" stroke="#ecc4cc" stroke-width="7.6" stroke-linecap="round" fill="none"/>
<path d="M265.8 206.5l0.8 0.7M320.8 210.7l-0.1 0.0M300.9 263.6l0.3 0.2" stroke="#ecc4cc" stroke-width="6.8" stroke-linecap="round" fill="none"/>
<path d="M274.8 251.1l-0.5 1.4M349.1 208.9l0.6 1.7M296.0 229.1l0.4 0.6" stroke="#ecc4cc" stroke-width="8.0" stroke-linecap="round" fill="none"/>
<path d="M357.5 260.2l-0.1 0.4M306.1 235.5l-0.3 1.1" stroke="#ecc4cc" stroke-width="6.7" stroke-linecap="round" fill="none"/>
<path d="M355.7 220.5l-0.3 0.2M271.8 236.7l0.4 0.5M307.1 225.4l-0.3 0.6M288.8 227.4l-0.3 0.0M330.6 216.1l0.2 0.1M294.1 220.5l0.6 0.3M286.7 262.4l-0.2 0.3" stroke="#ecc4cc" stroke-width="7.3" stroke-linecap="round" fill="none"/>
<path d="M266.6 258.4l-1.6 0.1M275.7 217.8l0.6 0.3M350.6 225.3l1.1 0.9M287.5 210.1l0.4 1.0M335.6 244.7l0.0 0.8M307.6 244.8l-1.2 0.9" stroke="#ecc4cc" stroke-width="7.5" stroke-linecap="round" fill="none"/>
<path d="M281.0 227.1l0.4 0.6M307.1 261.4l-1.5 0.3M307.6 206.6l0.5 0.5M317.4 242.1l-1.0 0.1M330.1 259.2l-0.2 0.1M302.6 219.5l-0.1 0.6" stroke="#ecc4cc" stroke-width="7.9" stroke-linecap="round" fill="none"/>
<path d="M336.0 258.2l-0.9 0.5M326.3 251.4l-0.5 0.7M301.6 251.2l-0.5 1.4M278.6 245.9l0.2 0.3M280.9 238.1l0.1 0.0" stroke="#ecc4cc" stroke-width="7.8" stroke-linecap="round" fill="none"/>
<path d="M335.7 237.5l-0.7 0.9M327.0 224.1l-0.6 0.1M350.1 258.4l-1.3 0.8M286.0 250.0l0.6 0.6M337.8 227.9l1.5 0.0M355.5 250.6l1.4 0.3" stroke="#ecc4cc" stroke-width="7.2" stroke-linecap="round" fill="none"/>
<path d="M316.2 224.9l-0.1 0.9M287.6 244.1l-0.2 0.7M269.5 245.8l-0.0 1.3M291.9 250.4l-0.0 0.0" stroke="#ecc4cc" stroke-width="7.4" stroke-linecap="round" fill="none"/>
<path d="M345.1 217.4l0.2 0.8M340.6 209.8l0.1 0.5M359.0 244.4l-0.8 0.3M344.5 236.1l0.1 0.1M355.7 224.6l0.1 0.0M285.3 215.0l-0.8 0.7" stroke="#ecc4cc" stroke-width="6.9" stroke-linecap="round" fill="none"/>
<path d="M292.1 233.9l-0.0 0.1M359.7 209.5l-0.8 1.6" stroke="#ecc4cc" stroke-width="8.1" stroke-linecap="round" fill="none"/>
<path d="M328.2 208.3l-1.2 0.0M300.2 241.6l-0.3 0.5" stroke="#ecc4cc" stroke-width="7.7" stroke-linecap="round" fill="none"/>
<path d="M328.1 243.8l0.1 0.1" stroke="#ecc4cc" stroke-width="7.0" stroke-linecap="round" fill="none"/>
<path d="M356.1 233.1l0.0 0.0M323.9 217.4l0.9 0.8" stroke="#4e3858" stroke-width="5.5" stroke-linecap="round" fill="none"/>
<path d="M321.6 236.6l-0.7 0.2M314.7 234.7l0.3 0.1M340.8 255.2l0.5 0.0M278.5 260.5l0.4 0.8" stroke="#5a4262" stroke-width="6.0" stroke-linecap="round" fill="none"/>
<path d="M265.8 206.5l0.8 0.7M320.8 210.7l-0.1 0.0" stroke="#664c6e" stroke-width="5.2" stroke-linecap="round" fill="none"/>
<path d="M274.8 251.1l-0.5 1.4" stroke="#664c6e" stroke-width="6.4" stroke-linecap="round" fill="none"/>
<path d="M357.5 260.2l-0.1 0.4" stroke="#5a4262" stroke-width="5.1" stroke-linecap="round" fill="none"/>
<path d="M299.2 209.6l-0.5 0.9M331.5 253.3l0.4 0.4M269.8 225.8l0.1 0.0M310.6 219.4l0.9 0.2" stroke="#664c6e" stroke-width="5.5" stroke-linecap="round" fill="none"/>
<path d="M355.7 220.5l-0.3 0.2M294.1 220.5l0.6 0.3" stroke="#5a4262" stroke-width="5.7" stroke-linecap="round" fill="none"/>
<path d="M271.8 236.7l0.4 0.5M307.1 225.4l-0.3 0.6M288.8 227.4l-0.3 0.0M286.7 262.4l-0.2 0.3" stroke="#4e3858" stroke-width="5.7" stroke-linecap="round" fill="none"/>
<path d="M266.6 258.4l-1.6 0.1M335.6 244.7l0.0 0.8" stroke="#664c6e" stroke-width="5.9" stroke-linecap="round" fill="none"/>
<path d="M281.0 227.1l0.4 0.6M307.1 261.4l-1.5 0.3M317.4 242.1l-1.0 0.1M330.1 259.2l-0.2 0.1M302.6 219.5l-0.1 0.6" stroke="#5a4262" stroke-width="6.3" stroke-linecap="round" fill="none"/>
<path d="M336.0 258.2l-0.9 0.5M301.6 251.2l-0.5 1.4" stroke="#664c6e" stroke-width="6.2" stroke-linecap="round" fill="none"/>
<path d="M275.7 217.8l0.6 0.3M350.6 225.3l1.1 0.9M287.5 210.1l0.4 1.0M307.6 244.8l-1.2 0.9" stroke="#4e3858" stroke-width="5.9" stroke-linecap="round" fill="none"/>
<path d="M349.1 208.9l0.6 1.7M296.0 229.1l0.4 0.6" stroke="#5a4262" stroke-width="6.4" stroke-linecap="round" fill="none"/>
<path d="M300.9 263.6l0.3 0.2" stroke="#4e3858" stroke-width="5.2" stroke-linecap="round" fill="none"/>
<path d="M335.7 237.5l-0.7 0.9M337.8 227.9l1.5 0.0" stroke="#664c6e" stroke-width="5.6" stroke-linecap="round" fill="none"/>
<path d="M316.2 224.9l-0.1 0.9" stroke="#5a4262" stroke-width="5.8" stroke-linecap="round" fill="none"/>
<path d="M287.6 244.1l-0.2 0.7M291.9 250.4l-0.0 0.0" stroke="#4e3858" stroke-width="5.8" stroke-linecap="round" fill="none"/>
<path d="M345.1 217.4l0.2 0.8M285.3 215.0l-0.8 0.7" stroke="#664c6e" stroke-width="5.3" stroke-linecap="round" fill="none"/>
<path d="M340.6 209.8l0.1 0.5M359.0 244.4l-0.8 0.3M344.5 236.1l0.1 0.1" stroke="#5a4262" stroke-width="5.3" stroke-linecap="round" fill="none"/>
<path d="M327.0 224.1l-0.6 0.1M355.5 250.6l1.4 0.3" stroke="#4e3858" stroke-width="5.6" stroke-linecap="round" fill="none"/>
<path d="M292.1 233.9l-0.0 0.1" stroke="#4e3858" stroke-width="6.5" stroke-linecap="round" fill="none"/>
<path d="M328.2 208.3l-1.2 0.0" stroke="#664c6e" stroke-width="6.1" stroke-linecap="round" fill="none"/>
<path d="M326.3 251.4l-0.5 0.7" stroke="#5a4262" stroke-width="6.2" stroke-linecap="round" fill="none"/>
<path d="M306.1 235.5l-0.3 1.1" stroke="#664c6e" stroke-width="5.1" stroke-linecap="round" fill="none"/>
<path d="M350.1 258.4l-1.3 0.8M286.0 250.0l0.6 0.6" stroke="#5a4262" stroke-width="5.6" stroke-linecap="round" fill="none"/>
<path d="M307.6 206.6l0.5 0.5" stroke="#4e3858" stroke-width="6.3" stroke-linecap="round" fill="none"/>
<path d="M314.4 252.3l0.9 1.0M317.9 261.2l0.8 1.3" stroke="#664c6e" stroke-width="6.0" stroke-linecap="round" fill="none"/>
<path d="M277.0 210.8l0.2 1.0M350.8 242.7l1.0 0.8" stroke="#5a4262" stroke-width="5.5" stroke-linecap="round" fill="none"/>
<path d="M328.1 243.8l0.1 0.1" stroke="#664c6e" stroke-width="5.4" stroke-linecap="round" fill="none"/>
<path d="M269.5 245.8l-0.0 1.3" stroke="#664c6e" stroke-width="5.8" stroke-linecap="round" fill="none"/>
<path d="M278.6 245.9l0.2 0.3M280.9 238.1l0.1 0.0" stroke="#4e3858" stroke-width="6.2" stroke-linecap="round" fill="none"/>
<path d="M300.2 241.6l-0.3 0.5" stroke="#4e3858" stroke-width="6.1" stroke-linecap="round" fill="none"/>
<path d="M355.7 224.6l0.1 0.0" stroke="#4e3858" stroke-width="5.3" stroke-linecap="round" fill="none"/>
<path d="M330.6 216.1l0.2 0.1" stroke="#664c6e" stroke-width="5.7" stroke-linecap="round" fill="none"/>
<path d="M359.7 209.5l-0.8 1.6" stroke="#5a4262" stroke-width="6.5" stroke-linecap="round" fill="none"/>
<path d="M345.5 238.9l-0.5 0.3" stroke="#f0d4dc" stroke-width="2.2" stroke-linecap="round" fill="none" stroke-opacity="0.9"/>
<path d="M272.4 236.0l0.3 0.2" stroke="#f0d4dc" stroke-width="1.6" stroke-linecap="round" fill="none" stroke-opacity="0.9"/>
<path d="M276.7 219.4l0.4 0.8" stroke="#f0d4dc" stroke-width="1.7" stroke-linecap="round" fill="none" stroke-opacity="0.9"/>
<path d="M347.2 218.9l0.2 0.1M326.8 254.3l-0.2 0.3M277.6 226.9l0.1 0.1M317.9 226.2l-0.4 0.0" stroke="#f0d4dc" stroke-width="2.0" stroke-linecap="round" fill="none" stroke-opacity="0.9"/>
<path d="M346.9 218.8l-0.4 0.7" stroke="#f0d4dc" stroke-width="2.1" stroke-linecap="round" fill="none" stroke-opacity="0.9"/>
<path d="M281.5 227.3l-0.1 0.5M317.6 248.7l0.1 0.0M298.9 252.7l-0.2 0.2M285.0 218.8l-0.1 0.4" stroke="#f0d4dc" stroke-width="1.8" stroke-linecap="round" fill="none" stroke-opacity="0.9"/>
<path d="M310.9 213.9l0.7 0.1M324.7 234.4l-0.1 0.0" stroke="#f0d4dc" stroke-width="1.4" stroke-linecap="round" fill="none" stroke-opacity="0.9"/>
<path d="M333.6 231.3l0.0 0.0" stroke="#f0d4dc" stroke-width="1.3" stroke-linecap="round" fill="none" stroke-opacity="0.9"/>
<path d="M338.4 258.0l0.0 0.5" stroke="#f0d4dc" stroke-width="1.2" stroke-linecap="round" fill="none" stroke-opacity="0.9"/>
</g>
<rect x="273.80" y="214.50" width="76.70" height="43.20" fill="none" stroke="#333" stroke-width="0.9"/>
<line x1="276.40" y1="254.10" x2="294.40" y2="254.10" stroke="#111" stroke-width="1.3"/>
<g clip-path="url(#c40)">
<rect x="353.2" y="214.1" width="77.5" height="44" filter="url(#tHE5)"/>
<path d="M359.2,222.1 L383.2,258.1 L389.2,258.1 L364.2,221.1 Z" fill="#c078a8" stroke="none" stroke-width="0" fill-opacity="0.6"/>
<ellipse cx="410.2" cy="223.1" rx="8" ry="5" fill="#5a3060" fill-opacity="0.45"/>
</g>
<rect x="353.60" y="214.50" width="76.70" height="43.20" fill="none" stroke="#333" stroke-width="0.9"/>
<line x1="356.20" y1="254.10" x2="382.20" y2="254.10" stroke="#111" stroke-width="1.3"/>
<g clip-path="url(#c50)">
<rect x="433.00" y="214.10" width="77.50" height="44.00" fill="#cc929c" stroke="none" stroke-width="1"/>
<path d="M465.1 233.6l0.4 0.3M444.3 249.6l-0.2 0.3M518.1 243.2l-1.5 0.3" stroke="#f0d4dc" stroke-width="8.0" stroke-linecap="round" fill="none"/>
<path d="M485.8 244.1l0.2 0.9M489.0 258.5l-0.3 0.1M483.1 253.8l0.9 0.7M506.6 226.9l0.0 1.6" stroke="#f0d4dc" stroke-width="7.5" stroke-linecap="round" fill="none"/>
<path d="M446.5 258.3l0.2 0.1M469.6 246.6l-0.5 0.1M489.3 227.9l0.1 0.0M510.0 242.7l-0.0 0.9M429.2 259.3l-0.1 0.2M431.1 219.7l-0.0 0.0M518.7 261.4l-0.8 0.0M437.7 211.4l0.8 1.2" stroke="#f0d4dc" stroke-width="7.3" stroke-linecap="round" fill="none"/>
<path d="M468.2 226.8l0.3 1.0M509.2 209.0l-0.3 0.2M477.4 209.9l1.0 0.2M464.6 218.9l-0.8 0.8M458.7 208.6l-0.6 1.0M496.9 209.1l1.4 0.7M475.5 224.5l-0.0 0.3" stroke="#f0d4dc" stroke-width="8.2" stroke-linecap="round" fill="none"/>
<path d="M429.2 241.9l0.9 1.2M436.4 224.4l0.2 0.7M511.4 219.9l0.7 1.1" stroke="#f0d4dc" stroke-width="7.7" stroke-linecap="round" fill="none"/>
<path d="M428.1 226.0l0.1 0.8M453.7 233.9l0.2 0.7M439.5 259.4l0.4 0.4" stroke="#f0d4dc" stroke-width="6.9" stroke-linecap="round" fill="none"/>
<path d="M471.0 234.6l0.4 0.5M500.2 229.1l1.3 0.2M456.1 261.9l-1.0 0.9M451.5 254.8l1.1 0.1M516.2 228.3l0.6 0.2" stroke="#f0d4dc" stroke-width="7.2" stroke-linecap="round" fill="none"/>
<path d="M504.5 254.2l0.0 0.0M501.4 218.6l-0.5 0.1M431.4 208.8l-1.3 0.5M505.6 236.0l0.2 0.3M444.7 217.5l-1.5 0.3M521.4 211.3l-1.0 0.7" stroke="#f0d4dc" stroke-width="7.8" stroke-linecap="round" fill="none"/>
<path d="M441.4 237.6l-1.6 0.7M508.4 262.2l0.1 0.1M450.4 225.0l0.7 0.6M467.0 209.0l0.8 0.2M483.0 234.5l-0.6 1.0M494.4 237.3l0.8 1.1" stroke="#f0d4dc" stroke-width="8.1" stroke-linecap="round" fill="none"/>
<path d="M447.5 210.2l-0.1 0.1M470.3 255.0l1.2 0.7M485.5 209.5l-0.4 0.1M495.4 250.6l-0.4 0.7M483.0 216.4l0.0 1.4M431.5 235.6l0.0 0.1M473.1 217.2l-0.9 0.2" stroke="#f0d4dc" stroke-width="7.4" stroke-linecap="round" fill="none"/>
<path d="M440.1 243.2l-1.2 0.7M468.7 261.8l0.6 1.2M480.7 245.5l-0.4 0.3M514.5 252.5l0.1 0.0M464.6 251.2l0.3 0.2" stroke="#f0d4dc" stroke-width="7.6" stroke-linecap="round" fill="none"/>
<path d="M450.0 218.3l0.7 1.1M459.9 228.7l-0.3 0.5M430.7 249.9l0.7 0.8M496.9 243.3l-0.2 0.4" stroke="#f0d4dc" stroke-width="7.0" stroke-linecap="round" fill="none"/>
<path d="M491.2 218.2l0.4 0.6M459.2 243.3l-0.1 0.1" stroke="#f0d4dc" stroke-width="7.1" stroke-linecap="round" fill="none"/>
<path d="M499.1 262.4l0.0 0.2M509.9 235.7l1.2 0.1M448.5 244.9l0.1 0.6" stroke="#f0d4dc" stroke-width="7.9" stroke-linecap="round" fill="none"/>
<path d="M477.5 261.5l0.3 0.4" stroke="#f0d4dc" stroke-width="8.3" stroke-linecap="round" fill="none"/>
<path d="M465.1 233.6l0.4 0.3M518.1 243.2l-1.5 0.3" stroke="#78607e" stroke-width="6.2" stroke-linecap="round" fill="none"/>
<path d="M485.8 244.1l0.2 0.9M489.0 258.5l-0.3 0.1M483.1 253.8l0.9 0.7" stroke="#78607e" stroke-width="5.7" stroke-linecap="round" fill="none"/>
<path d="M446.5 258.3l0.2 0.1M469.6 246.6l-0.5 0.1M489.3 227.9l0.1 0.0M429.2 259.3l-0.1 0.2" stroke="#78607e" stroke-width="5.5" stroke-linecap="round" fill="none"/>
<path d="M468.2 226.8l0.3 1.0M477.4 209.9l1.0 0.2M496.9 209.1l1.4 0.7" stroke="#5c4466" stroke-width="6.4" stroke-linecap="round" fill="none"/>
<path d="M429.2 241.9l0.9 1.2M436.4 224.4l0.2 0.7" stroke="#6a5072" stroke-width="5.9" stroke-linecap="round" fill="none"/>
<path d="M428.1 226.0l0.1 0.8M453.7 233.9l0.2 0.7" stroke="#78607e" stroke-width="5.1" stroke-linecap="round" fill="none"/>
<path d="M471.0 234.6l0.4 0.5" stroke="#6a5072" stroke-width="5.4" stroke-linecap="round" fill="none"/>
<path d="M504.5 254.2l0.0 0.0M431.4 208.8l-1.3 0.5M444.7 217.5l-1.5 0.3M521.4 211.3l-1.0 0.7" stroke="#78607e" stroke-width="6.0" stroke-linecap="round" fill="none"/>
<path d="M441.4 237.6l-1.6 0.7M483.0 234.5l-0.6 1.0" stroke="#5c4466" stroke-width="6.3" stroke-linecap="round" fill="none"/>
<path d="M447.5 210.2l-0.1 0.1" stroke="#78607e" stroke-width="5.6" stroke-linecap="round" fill="none"/>
<path d="M440.1 243.2l-1.2 0.7" stroke="#6a5072" stroke-width="5.8" stroke-linecap="round" fill="none"/>
<path d="M450.0 218.3l0.7 1.1M459.9 228.7l-0.3 0.5" stroke="#5c4466" stroke-width="5.2" stroke-linecap="round" fill="none"/>
<path d="M500.2 229.1l1.3 0.2M451.5 254.8l1.1 0.1" stroke="#5c4466" stroke-width="5.4" stroke-linecap="round" fill="none"/>
<path d="M510.0 242.7l-0.0 0.9M518.7 261.4l-0.8 0.0" stroke="#5c4466" stroke-width="5.5" stroke-linecap="round" fill="none"/>
<path d="M470.3 255.0l1.2 0.7M431.5 235.6l0.0 0.1" stroke="#5c4466" stroke-width="5.6" stroke-linecap="round" fill="none"/>
<path d="M485.5 209.5l-0.4 0.1M495.4 250.6l-0.4 0.7M483.0 216.4l0.0 1.4M473.1 217.2l-0.9 0.2" stroke="#6a5072" stroke-width="5.6" stroke-linecap="round" fill="none"/>
<path d="M509.2 209.0l-0.3 0.2M464.6 218.9l-0.8 0.8M458.7 208.6l-0.6 1.0M475.5 224.5l-0.0 0.3" stroke="#78607e" stroke-width="6.4" stroke-linecap="round" fill="none"/>
<path d="M444.3 249.6l-0.2 0.3" stroke="#5c4466" stroke-width="6.2" stroke-linecap="round" fill="none"/>
<path d="M491.2 218.2l0.4 0.6M459.2 243.3l-0.1 0.1" stroke="#6a5072" stroke-width="5.3" stroke-linecap="round" fill="none"/>
<path d="M501.4 218.6l-0.5 0.1" stroke="#6a5072" stroke-width="6.0" stroke-linecap="round" fill="none"/>
<path d="M431.1 219.7l-0.0 0.0M437.7 211.4l0.8 1.2" stroke="#6a5072" stroke-width="5.5" stroke-linecap="round" fill="none"/>
<path d="M468.7 261.8l0.6 1.2M480.7 245.5l-0.4 0.3M514.5 252.5l0.1 0.0M464.6 251.2l0.3 0.2" stroke="#5c4466" stroke-width="5.8" stroke-linecap="round" fill="none"/>
<path d="M508.4 262.2l0.1 0.1M494.4 237.3l0.8 1.1" stroke="#6a5072" stroke-width="6.3" stroke-linecap="round" fill="none"/>
<path d="M499.1 262.4l0.0 0.2" stroke="#5c4466" stroke-width="6.1" stroke-linecap="round" fill="none"/>
<path d="M505.6 236.0l0.2 0.3" stroke="#5c4466" stroke-width="6.0" stroke-linecap="round" fill="none"/>
<path d="M450.4 225.0l0.7 0.6M467.0 209.0l0.8 0.2" stroke="#78607e" stroke-width="6.3" stroke-linecap="round" fill="none"/>
<path d="M477.5 261.5l0.3 0.4" stroke="#6a5072" stroke-width="6.5" stroke-linecap="round" fill="none"/>
<path d="M456.1 261.9l-1.0 0.9M516.2 228.3l0.6 0.2" stroke="#78607e" stroke-width="5.4" stroke-linecap="round" fill="none"/>
<path d="M439.5 259.4l0.4 0.4" stroke="#6a5072" stroke-width="5.1" stroke-linecap="round" fill="none"/>
<path d="M509.9 235.7l1.2 0.1M448.5 244.9l0.1 0.6" stroke="#78607e" stroke-width="6.1" stroke-linecap="round" fill="none"/>
<path d="M506.6 226.9l0.0 1.6" stroke="#6a5072" stroke-width="5.7" stroke-linecap="round" fill="none"/>
<path d="M430.7 249.9l0.7 0.8M496.9 243.3l-0.2 0.4" stroke="#6a5072" stroke-width="5.2" stroke-linecap="round" fill="none"/>
<path d="M511.4 219.9l0.7 1.1" stroke="#5c4466" stroke-width="5.9" stroke-linecap="round" fill="none"/>
<path d="M481.3 256.9l-0.3 0.2M437.2 253.5l0.2 0.2" stroke="#f8ecf0" stroke-width="1.5" stroke-linecap="round" fill="none" stroke-opacity="0.9"/>
<path d="M451.3 246.4l0.6 0.1M479.1 225.1l0.1 0.0M478.9 218.0l-0.0 0.0" stroke="#f8ecf0" stroke-width="1.7" stroke-linecap="round" fill="none" stroke-opacity="0.9"/>
<path d="M450.6 225.5l-0.6 1.0" stroke="#f8ecf0" stroke-width="2.3" stroke-linecap="round" fill="none" stroke-opacity="0.9"/>
<path d="M482.2 230.5l0.0 0.0M484.7 242.9l-0.1 0.2" stroke="#f8ecf0" stroke-width="2.1" stroke-linecap="round" fill="none" stroke-opacity="0.9"/>
<path d="M461.2 227.9l0.2 0.0M466.2 230.1l0.6 0.1" stroke="#f8ecf0" stroke-width="1.6" stroke-linecap="round" fill="none" stroke-opacity="0.9"/>
</g>
<rect x="433.40" y="214.50" width="76.70" height="43.20" fill="none" stroke="#333" stroke-width="0.9"/>
<line x1="436.00" y1="254.10" x2="454.00" y2="254.10" stroke="#111" stroke-width="1.3"/>
<g clip-path="url(#c01)">
<rect x="34.0" y="262.1" width="77.5" height="44" filter="url(#tB1)"/>
<ellipse cx="40.0" cy="284.1" rx="11" ry="22" fill="#b8acc4" fill-opacity="0.3"/>
<ellipse cx="74.0" cy="300.1" rx="14" ry="6" fill="#b0a4c8" fill-opacity="0.35"/>
<ellipse cx="78.0" cy="282.1" rx="18" ry="15" fill="#8a4e2e" fill-opacity="0.35"/>
<ellipse cx="81.0" cy="280.6" rx="7" ry="5.5" fill="#c09878" fill-opacity="0.35"/>
<path d="M76.0,264.1 C81.7,263.4 89.8,264.4 94.0,267.1 C98.2,269.8 101.5,275.1 101.5,280.1 C101.5,285.1 98.2,292.9 94.0,297.1 C89.8,301.3 82.0,304.3 76.0,305.1 C70.0,305.9 61.8,305.3 58.0,302.1 C54.2,298.9 53.2,291.3 53.5,286.1 C53.8,280.9 56.2,274.8 60.0,271.1 C63.8,267.4 70.3,264.8 76.0,264.1 Z" fill="none" stroke="#fff" stroke-width="1.1" stroke-dasharray="2.2,1.6" stroke-opacity="0.95"/>
<ellipse cx="80.8" cy="280.6" rx="7.5" ry="6" fill="none" stroke="#fff" stroke-width="1.1" stroke-dasharray="2,1.5"/>
</g>
<rect x="34.40" y="262.50" width="76.70" height="43.20" fill="none" stroke="#333" stroke-width="0.9"/>
<line x1="37.00" y1="302.10" x2="63.00" y2="302.10" stroke="#111" stroke-width="1.3"/>
<g clip-path="url(#c11)">
<rect x="113.80" y="262.10" width="77.50" height="44.00" fill="#c0b4a6" stroke="none" stroke-width="1"/>
<path d="M127.0 262.9l0.0 0.0M182.0 264.4l0.2 1.2M155.3 299.6l0.5 0.2M145.5 311.1l0.2 0.2M164.5 272.8l0.5 0.9" stroke="#a89c94" stroke-width="4.5" stroke-linecap="round" fill="none"/>
<path d="M147.3 298.6l-0.0 0.1M164.8 259.0l-0.5 1.0M164.4 298.2l0.7 0.2" stroke="#8c7458" stroke-width="4.8" stroke-linecap="round" fill="none"/>
<path d="M135.3 295.1l0.9 0.5M156.5 280.2l-0.0 0.5M155.8 275.0l-0.6 0.5M179.0 285.8l0.2 0.2M191.4 287.8l0.1 0.4M138.8 285.5l-0.1 0.7" stroke="#9a7a58" stroke-width="4.8" stroke-linecap="round" fill="none"/>
<path d="M135.7 275.0l0.0 0.7M122.2 258.9l0.2 0.1M166.5 303.7l-0.3 0.2M159.3 295.2l0.1 0.9M131.5 273.3l-1.0 0.4M184.0 295.5l0.4 0.5M143.6 306.1l0.4 0.2" stroke="#9a7a58" stroke-width="4.0" stroke-linecap="round" fill="none"/>
<path d="M164.1 285.6l1.0 0.4" stroke="#a08466" stroke-width="4.9" stroke-linecap="round" fill="none"/>
<path d="M133.0 278.7l0.2 0.3M159.2 272.8l-0.8 0.7M128.9 308.3l-0.1 1.0" stroke="#8c7458" stroke-width="4.0" stroke-linecap="round" fill="none"/>
<path d="M144.3 289.1l0.8 0.4M134.6 309.4l-0.3 1.0M137.1 265.2l-0.5 0.3M166.7 293.6l0.0 0.0" stroke="#9a7a58" stroke-width="4.6" stroke-linecap="round" fill="none"/>
<path d="M194.1 285.7l-1.2 0.1M118.1 298.3l-0.5 0.1M180.8 309.8l0.1 1.3M179.3 300.6l-0.5 0.1" stroke="#b8aca0" stroke-width="4.5" stroke-linecap="round" fill="none"/>
<path d="M136.0 257.4l-0.4 0.3M185.9 259.6l0.0 0.0M146.6 278.2l0.1 0.2" stroke="#a08466" stroke-width="4.7" stroke-linecap="round" fill="none"/>
<path d="M189.1 273.8l0.4 1.1M164.3 278.7l0.1 0.1M132.6 295.1l-0.8 0.9" stroke="#8c7458" stroke-width="4.9" stroke-linecap="round" fill="none"/>
<path d="M126.8 290.3l0.1 0.0M187.8 285.1l0.9 0.3M109.4 278.3l0.6 0.3" stroke="#a08466" stroke-width="4.8" stroke-linecap="round" fill="none"/>
<path d="M148.5 262.4l0.5 1.1M175.2 290.7l-0.0 0.1M174.1 268.7l-0.5 0.9" stroke="#b49a7c" stroke-width="4.5" stroke-linecap="round" fill="none"/>
<path d="M124.6 290.7l-1.0 0.6M140.1 287.6l-0.8 0.6M175.0 258.1l0.1 0.3M133.6 290.5l1.0 0.7" stroke="#b8aca0" stroke-width="4.9" stroke-linecap="round" fill="none"/>
<path d="M119.3 265.0l-0.7 0.2M112.5 263.9l0.3 0.4M168.1 310.3l0.3 0.6" stroke="#a89c94" stroke-width="4.4" stroke-linecap="round" fill="none"/>
<path d="M139.3 258.3l-0.3 0.4M158.5 289.6l-0.3 0.9M154.2 263.5l-0.6 0.9" stroke="#8c7458" stroke-width="4.6" stroke-linecap="round" fill="none"/>
<path d="M171.7 283.0l0.1 0.6" stroke="#9a7a58" stroke-width="4.3" stroke-linecap="round" fill="none"/>
<path d="M187.7 263.2l0.1 0.3" stroke="#a89c94" stroke-width="4.1" stroke-linecap="round" fill="none"/>
<path d="M177.9 292.7l0.4 0.2M141.2 264.8l0.0 0.0M119.8 275.3l0.2 0.0" stroke="#a08466" stroke-width="4.4" stroke-linecap="round" fill="none"/>
<path d="M161.7 284.7l0.0 0.0M191.6 260.8l-0.5 0.1M183.4 273.2l-0.2 0.7M162.6 287.4l-0.2 1.1" stroke="#a08466" stroke-width="4.6" stroke-linecap="round" fill="none"/>
<path d="M122.6 279.2l-1.1 0.1M150.3 259.9l-0.4 0.2M132.0 264.5l0.1 0.0M187.8 269.5l-0.1 0.2" stroke="#a89c94" stroke-width="4.6" stroke-linecap="round" fill="none"/>
<path d="M112.5 304.5l0.3 0.2M190.6 268.4l0.1 0.0M145.0 267.9l0.1 0.4M178.1 274.6l-0.0 0.5" stroke="#8c7458" stroke-width="4.7" stroke-linecap="round" fill="none"/>
<path d="M125.6 272.4l0.3 0.5M132.5 284.8l-1.0 0.5" stroke="#9a7a58" stroke-width="4.4" stroke-linecap="round" fill="none"/>
<path d="M156.0 260.6l-0.1 0.5M135.5 304.3l0.1 0.1M149.1 274.2l0.0 0.2" stroke="#a89c94" stroke-width="4.7" stroke-linecap="round" fill="none"/>
<path d="M190.6 304.1l-0.0 0.0M164.0 309.8l-0.3 0.3M185.3 278.6l0.4 0.0M154.8 295.5l-1.3 0.5" stroke="#9a7a58" stroke-width="4.9" stroke-linecap="round" fill="none"/>
<path d="M119.7 304.3l-0.4 0.2M143.0 294.7l0.4 0.4M138.8 298.7l-0.9 0.4M140.2 309.0l0.0 0.0M117.0 290.0l0.9 0.7M146.3 260.5l0.2 0.2" stroke="#b49a7c" stroke-width="4.0" stroke-linecap="round" fill="none"/>
<path d="M112.6 283.5l-0.0 0.0M111.3 290.3l-1.0 0.1M176.2 298.4l0.3 0.0" stroke="#9a7a58" stroke-width="4.7" stroke-linecap="round" fill="none"/>
<path d="M168.5 289.4l0.5 0.0M150.1 280.4l0.0 0.4M147.0 303.3l0.1 0.0M153.1 290.2l-0.3 0.9M134.4 267.9l-0.8 0.6" stroke="#b8aca0" stroke-width="4.0" stroke-linecap="round" fill="none"/>
<path d="M182.2 258.0l-0.1 0.7M128.1 268.1l0.3 1.1" stroke="#a89c94" stroke-width="4.3" stroke-linecap="round" fill="none"/>
<path d="M176.0 304.9l-0.2 0.0M185.5 297.8l0.1 0.1" stroke="#9a7a58" stroke-width="4.2" stroke-linecap="round" fill="none"/>
<path d="M170.3 268.7l-0.8 0.7M143.7 273.6l-1.1 0.1M109.1 310.5l1.1 0.0M180.4 269.8l-0.7 0.1" stroke="#b49a7c" stroke-width="4.2" stroke-linecap="round" fill="none"/>
<path d="M159.4 265.1l0.1 0.3M177.2 265.7l-0.8 0.4" stroke="#b8aca0" stroke-width="4.6" stroke-linecap="round" fill="none"/>
<path d="M151.2 300.5l0.1 0.3" stroke="#a08466" stroke-width="4.2" stroke-linecap="round" fill="none"/>
<path d="M158.6 269.2l-0.2 0.0M180.9 289.4l-0.9 0.0" stroke="#a08466" stroke-width="4.1" stroke-linecap="round" fill="none"/>
<path d="M125.7 293.6l-0.5 0.2M172.4 272.2l0.9 0.7M127.4 279.4l-0.6 0.2" stroke="#a08466" stroke-width="4.5" stroke-linecap="round" fill="none"/>
<path d="M152.2 269.1l0.2 0.2M123.7 299.5l-0.1 0.4" stroke="#a08466" stroke-width="4.0" stroke-linecap="round" fill="none"/>
<path d="M179.8 280.0l-0.4 0.4M174.5 309.7l0.5 0.1M114.9 270.7l0.5 0.1M140.2 280.5l0.1 0.2M124.6 268.6l-1.0 0.3" stroke="#8c7458" stroke-width="4.3" stroke-linecap="round" fill="none"/>
<path d="M150.6 307.9l-0.4 0.6M191.9 311.1l-0.2 0.5" stroke="#8c7458" stroke-width="4.4" stroke-linecap="round" fill="none"/>
<path d="M114.4 293.9l-0.4 0.7M172.4 265.9l-0.0 0.1M190.7 294.0l-0.3 0.1M149.4 283.9l0.2 1.1" stroke="#b49a7c" stroke-width="4.7" stroke-linecap="round" fill="none"/>
<path d="M143.2 283.1l-0.0 0.2" stroke="#9a7a58" stroke-width="3.9" stroke-linecap="round" fill="none"/>
<path d="M158.4 309.3l-0.3 0.4" stroke="#9a7a58" stroke-width="4.1" stroke-linecap="round" fill="none"/>
<path d="M126.3 305.7l-0.1 0.4M111.1 299.9l0.4 0.1M115.3 275.2l0.0 0.4" stroke="#b49a7c" stroke-width="4.9" stroke-linecap="round" fill="none"/>
<path d="M167.9 258.4l-0.5 0.9M117.6 308.1l-0.2 0.8M195.7 305.5l0.3 0.1M112.2 270.0l0.1 0.3" stroke="#8c7458" stroke-width="4.5" stroke-linecap="round" fill="none"/>
<path d="M115.8 279.6l0.1 0.6M153.1 303.9l-0.4 1.1M148.1 293.0l0.1 0.1M155.6 283.4l0.4 1.2" stroke="#b49a7c" stroke-width="4.6" stroke-linecap="round" fill="none"/>
<path d="M121.9 309.8l0.4 0.2M127.3 298.2l0.2 0.2" stroke="#a89c94" stroke-width="4.2" stroke-linecap="round" fill="none"/>
<path d="M160.7 304.7l-0.4 0.2M187.2 289.0l1.0 0.2" stroke="#b49a7c" stroke-width="3.9" stroke-linecap="round" fill="none"/>
<path d="M118.6 293.5l0.7 0.9M173.1 295.3l0.1 0.6" stroke="#b8aca0" stroke-width="4.4" stroke-linecap="round" fill="none"/>
<path d="M127.8 258.0l0.1 0.0M139.5 267.7l0.8 0.8M132.2 304.8l0.7 0.1M162.3 269.7l-1.1 0.6" stroke="#9a7a58" stroke-width="4.5" stroke-linecap="round" fill="none"/>
<path d="M169.1 297.8l-0.9 0.4" stroke="#a89c94" stroke-width="4.0" stroke-linecap="round" fill="none"/>
<path d="M165.9 265.7l0.1 0.0" stroke="#b49a7c" stroke-width="4.1" stroke-linecap="round" fill="none"/>
<path d="M184.3 304.8l-0.3 0.1" stroke="#8c7458" stroke-width="4.2" stroke-linecap="round" fill="none"/>
<path d="M193.5 296.2l0.1 0.0" stroke="#b8aca0" stroke-width="4.7" stroke-linecap="round" fill="none"/>
<path d="M174.3 278.5l-0.6 0.4M117.2 257.7l0.5 0.5M172.1 303.4l-0.9 0.4" stroke="#a08466" stroke-width="4.3" stroke-linecap="round" fill="none"/>
<path d="M170.1 279.5l-0.0 1.0M195.7 275.7l0.9 0.7M134.1 298.2l0.0 0.1" stroke="#b8aca0" stroke-width="4.1" stroke-linecap="round" fill="none"/>
<path d="M192.4 297.4l-0.6 1.0" stroke="#a89c94" stroke-width="4.8" stroke-linecap="round" fill="none"/>
<path d="M124.4 283.8l-0.8 0.5" stroke="#b8aca0" stroke-width="4.2" stroke-linecap="round" fill="none"/>
<path d="M186.9 309.1l-0.1 0.1" stroke="#b49a7c" stroke-width="4.8" stroke-linecap="round" fill="none"/>
<path d="M183.7 284.8l0.4 0.0M191.2 279.3l0.8 0.0" stroke="#b49a7c" stroke-width="4.3" stroke-linecap="round" fill="none"/>
<path d="M109.7 257.9l-0.1 0.2M119.6 284.4l-0.4 0.2" stroke="#a08466" stroke-width="3.9" stroke-linecap="round" fill="none"/>
<path d="M193.9 262.5l0.2 0.1" stroke="#b8aca0" stroke-width="4.8" stroke-linecap="round" fill="none"/>
<path d="M165.8,261.1 C163.8,282.1 153.8,298.1 132.8,308.1" fill="none" stroke="#fff" stroke-width="2.6" stroke-dasharray="5,3"/>
</g>
<rect x="114.20" y="262.50" width="76.70" height="43.20" fill="none" stroke="#333" stroke-width="0.9"/>
<line x1="116.80" y1="302.10" x2="134.80" y2="302.10" stroke="#111" stroke-width="1.3"/>
<g clip-path="url(#c21)">
<rect x="193.6" y="262.1" width="77.5" height="44" filter="url(#tB3)"/>
<ellipse cx="203.6" cy="286.1" rx="20" ry="30" fill="#c0b8d0" fill-opacity="0.85"/>
<ellipse cx="221.6" cy="304.1" rx="14" ry="8" fill="#b8b0cc" fill-opacity="0.7"/>
<path d="M197.6,262.1 L209.6,262.1 C211.6,272.1 209.6,284.1 207.6,292.1 C205.6,298.1 199.6,300.1 196.6,296.1 Z" fill="#ece8ee" stroke="none" stroke-width="0"/>
</g>
<rect x="194.00" y="262.50" width="76.70" height="43.20" fill="none" stroke="#333" stroke-width="0.9"/>
<line x1="196.60" y1="302.10" x2="222.60" y2="302.10" stroke="#111" stroke-width="1.3"/>
<g clip-path="url(#c31)">
<rect x="273.40" y="262.10" width="77.50" height="44.00" fill="#dccab0" stroke="none" stroke-width="1"/>
<path d="M291.6 295.7l0.5 0.1" stroke="#a87040" stroke-width="9.0" stroke-linecap="round" fill="none" stroke-opacity="0.75"/>
<path d="M273.7 302.2l0.2 1.5" stroke="#b88a5c" stroke-width="8.4" stroke-linecap="round" fill="none" stroke-opacity="0.75"/>
<path d="M342.8 286.1l-2.2 1.2M333.0 263.3l1.7 0.1" stroke="#b08050" stroke-width="6.7" stroke-linecap="round" fill="none" stroke-opacity="0.75"/>
<path d="M333.6 271.5l3.7 1.0M299.4 277.5l2.1 2.8" stroke="#a87040" stroke-width="8.3" stroke-linecap="round" fill="none" stroke-opacity="0.75"/>
<path d="M289.2 288.4l0.7 3.3" stroke="#a87040" stroke-width="6.8" stroke-linecap="round" fill="none" stroke-opacity="0.75"/>
<path d="M337.6 304.5l0.6 1.8" stroke="#a87040" stroke-width="7.4" stroke-linecap="round" fill="none" stroke-opacity="0.75"/>
<path d="M281.6 291.0l-0.1 1.5" stroke="#b88a5c" stroke-width="8.8" stroke-linecap="round" fill="none" stroke-opacity="0.75"/>
<path d="M338.9 282.1l0.0 0.1" stroke="#b88a5c" stroke-width="7.7" stroke-linecap="round" fill="none" stroke-opacity="0.75"/>
<path d="M312.8 294.0l2.1 0.7" stroke="#986030" stroke-width="7.6" stroke-linecap="round" fill="none" stroke-opacity="0.75"/>
<path d="M311.4 272.1l0.1 0.3" stroke="#b88a5c" stroke-width="6.9" stroke-linecap="round" fill="none" stroke-opacity="0.75"/>
<path d="M316.8 302.9l2.6 1.2" stroke="#b08050" stroke-width="7.2" stroke-linecap="round" fill="none" stroke-opacity="0.75"/>
<path d="M315.4 274.4l2.9 0.4" stroke="#b88a5c" stroke-width="8.2" stroke-linecap="round" fill="none" stroke-opacity="0.75"/>
<path d="M317.7 268.9l0.2 0.2" stroke="#b08050" stroke-width="7.6" stroke-linecap="round" fill="none" stroke-opacity="0.75"/>
<path d="M314.9 288.3l-1.4 0.8" stroke="#b88a5c" stroke-width="7.4" stroke-linecap="round" fill="none" stroke-opacity="0.75"/>
<path d="M313.4 302.1l2.7 0.6" stroke="#b08050" stroke-width="9.0" stroke-linecap="round" fill="none" stroke-opacity="0.75"/>
<path d="M294.6 289.6l0.5 2.0" stroke="#b88a5c" stroke-width="6.5" stroke-linecap="round" fill="none" stroke-opacity="0.75"/>
<path d="M290.5 274.1l0.8 1.1" stroke="#b08050" stroke-width="8.1" stroke-linecap="round" fill="none" stroke-opacity="0.75"/>
<path d="M309.2 279.8l-2.7 1.8" stroke="#a87040" stroke-width="7.9" stroke-linecap="round" fill="none" stroke-opacity="0.75"/>
<path d="M329.9 306.0l1.3 1.6" stroke="#b88a5c" stroke-width="7.3" stroke-linecap="round" fill="none" stroke-opacity="0.75"/>
<path d="M287.7 273.0l1.3 0.0" stroke="#b88a5c" stroke-width="6.7" stroke-linecap="round" fill="none" stroke-opacity="0.75"/>
<path d="M294.3 283.0l-0.3 0.0" stroke="#b08050" stroke-width="8.9" stroke-linecap="round" fill="none" stroke-opacity="0.75"/>
<path d="M277.6 292.7l0.2 0.2" stroke="#b08050" stroke-width="8.4" stroke-linecap="round" fill="none" stroke-opacity="0.75"/>
<path d="M349.9 291.8l-3.9 1.2" stroke="#b08050" stroke-width="8.5" stroke-linecap="round" fill="none" stroke-opacity="0.75"/>
<path d="M334.2 270.6l-2.4 0.5" stroke="#986030" stroke-width="7.0" stroke-linecap="round" fill="none" stroke-opacity="0.75"/>
<path d="M318.0 290.8l0.2 0.4M351.4 285.2l0.4 0.6" stroke="#c8c0b8" stroke-width="4.4" stroke-linecap="round" fill="none"/>
<path d="M346.3 290.7l-0.7 0.2M289.9 265.6l0.3 0.8M320.3 279.2l-0.8 0.1" stroke="#a0a2b8" stroke-width="4.7" stroke-linecap="round" fill="none"/>
<path d="M323.6 310.4l-0.4 0.2M312.8 269.4l0.5 0.5M332.1 270.2l-0.1 0.1M346.9 301.9l-0.0 0.2M280.2 263.5l-0.3 0.8M300.4 282.1l0.4 0.3M349.6 259.5l-0.1 0.1" stroke="#a0a2b8" stroke-width="3.8" stroke-linecap="round" fill="none"/>
<path d="M308.8 309.2l0.1 0.0" stroke="#a0a2b8" stroke-width="4.9" stroke-linecap="round" fill="none"/>
<path d="M270.9 260.6l0.2 0.6M326.2 266.1l-0.1 0.0M278.0 296.9l-0.4 0.1" stroke="#c8c0b8" stroke-width="4.5" stroke-linecap="round" fill="none"/>
<path d="M354.9 302.7l-0.7 0.3M288.0 293.2l0.7 0.0M347.2 278.0l-0.0 1.1" stroke="#9498b0" stroke-width="4.0" stroke-linecap="round" fill="none"/>
<path d="M309.2 271.1l0.4 0.3M345.4 270.7l-0.2 0.2M275.5 275.2l0.6 0.6" stroke="#9498b0" stroke-width="3.9" stroke-linecap="round" fill="none"/>
<path d="M330.6 298.0l-0.0 0.1M301.3 310.6l-0.5 0.2" stroke="#a0a2b8" stroke-width="4.2" stroke-linecap="round" fill="none"/>
<path d="M351.5 273.0l0.0 0.0M330.9 301.1l0.2 1.0" stroke="#c8c0b8" stroke-width="4.2" stroke-linecap="round" fill="none"/>
<path d="M325.5 279.8l0.6 0.1M302.1 291.3l0.5 0.5M346.0 297.6l-0.2 0.1" stroke="#b0b0c0" stroke-width="4.5" stroke-linecap="round" fill="none"/>
<path d="M323.5 289.4l0.4 0.5M329.1 309.4l-0.4 0.5" stroke="#c8c0b8" stroke-width="3.8" stroke-linecap="round" fill="none"/>
<path d="M283.8 297.4l-0.0 0.6M271.3 292.7l-0.5 0.1M268.5 309.4l-0.9 0.4M282.3 260.2l-0.0 1.1M304.9 276.8l-0.1 0.2" stroke="#9498b0" stroke-width="4.3" stroke-linecap="round" fill="none"/>
<path d="M333.4 289.2l-0.3 0.3M274.0 264.3l-0.0 0.3M316.5 256.9l-0.2 0.2" stroke="#c8c0b8" stroke-width="4.9" stroke-linecap="round" fill="none"/>
<path d="M319.1 266.7l-1.2 0.2M357.2 292.2l-0.7 0.1" stroke="#c8c0b8" stroke-width="4.6" stroke-linecap="round" fill="none"/>
<path d="M286.3 305.4l-0.4 0.5" stroke="#9498b0" stroke-width="4.5" stroke-linecap="round" fill="none"/>
<path d="M335.2 297.5l-0.0 0.1M338.5 308.0l0.4 1.2M297.4 278.1l0.0 0.6" stroke="#b0b0c0" stroke-width="4.9" stroke-linecap="round" fill="none"/>
<path d="M321.4 257.6l0.3 0.1M267.7 297.5l0.7 0.0" stroke="#b0b0c0" stroke-width="4.1" stroke-linecap="round" fill="none"/>
<path d="M350.6 311.7l0.5 0.3M285.0 310.0l0.0 0.1" stroke="#b0b0c0" stroke-width="3.8" stroke-linecap="round" fill="none"/>
<path d="M309.2 276.5l0.4 0.5M355.7 265.2l-0.3 0.5M309.0 256.4l-0.3 0.1M325.4 305.7l0.4 0.4M330.2 284.4l-0.2 0.9" stroke="#b0b0c0" stroke-width="4.2" stroke-linecap="round" fill="none"/>
<path d="M320.2 298.1l-0.4 0.1M339.3 263.9l0.5 0.0M290.9 313.1l-0.1 0.0M356.4 278.0l0.5 0.9" stroke="#b0b0c0" stroke-width="4.6" stroke-linecap="round" fill="none"/>
<path d="M308.8 283.5l-0.4 0.4" stroke="#a0a2b8" stroke-width="4.1" stroke-linecap="round" fill="none"/>
<path d="M272.0 302.9l0.1 0.1M292.5 256.9l0.3 0.5" stroke="#9498b0" stroke-width="4.4" stroke-linecap="round" fill="none"/>
<path d="M277.9 260.6l-0.7 0.1M319.1 302.1l-0.1 0.0M308.4 288.5l0.7 0.4M333.9 278.2l0.1 0.6" stroke="#a0a2b8" stroke-width="4.4" stroke-linecap="round" fill="none"/>
<path d="M343.9 256.8l0.1 1.2M316.5 311.3l-0.7 1.1M305.6 299.5l0.1 0.0M339.1 271.6l-0.8 0.9" stroke="#a0a2b8" stroke-width="4.5" stroke-linecap="round" fill="none"/>
<path d="M309.2 302.2l-0.6 0.7M345.1 282.5l0.4 0.8M290.2 277.4l0.1 0.6M274.7 309.5l-0.1 0.4M299.0 273.2l-0.6 0.8" stroke="#a0a2b8" stroke-width="4.3" stroke-linecap="round" fill="none"/>
<path d="M297.8 256.7l0.1 0.7M314.9 282.5l0.1 0.4M322.8 283.9l-0.1 0.0" stroke="#a0a2b8" stroke-width="3.9" stroke-linecap="round" fill="none"/>
<path d="M346.2 267.0l-0.4 0.6M283.0 280.1l-0.5 0.6" stroke="#a0a2b8" stroke-width="4.8" stroke-linecap="round" fill="none"/>
<path d="M352.6 299.0l-0.7 0.0" stroke="#9498b0" stroke-width="4.9" stroke-linecap="round" fill="none"/>
<path d="M294.6 282.2l-0.0 0.0M312.6 297.1l-0.9 0.7M277.1 286.2l0.4 0.1" stroke="#b0b0c0" stroke-width="4.3" stroke-linecap="round" fill="none"/>
<path d="M345.1 310.1l0.3 1.0" stroke="#b0b0c0" stroke-width="4.7" stroke-linecap="round" fill="none"/>
<path d="M286.8 283.3l-0.3 0.3" stroke="#b0b0c0" stroke-width="3.7" stroke-linecap="round" fill="none"/>
<path d="M338.3 259.9l-0.2 0.5M322.1 270.6l-0.8 1.1M289.7 272.2l0.4 0.1" stroke="#c8c0b8" stroke-width="4.8" stroke-linecap="round" fill="none"/>
<path d="M285.7 269.1l-0.0 1.2" stroke="#9498b0" stroke-width="4.8" stroke-linecap="round" fill="none"/>
<path d="M335.9 264.6l0.3 0.8" stroke="#a0a2b8" stroke-width="3.7" stroke-linecap="round" fill="none"/>
<path d="M340.0 291.8l0.2 0.9M295.9 265.8l-0.8 0.2" stroke="#9498b0" stroke-width="4.2" stroke-linecap="round" fill="none"/>
<path d="M296.6 305.6l1.2 0.5M269.8 269.5l-0.4 0.9M298.5 296.0l-0.7 0.2" stroke="#9498b0" stroke-width="4.7" stroke-linecap="round" fill="none"/>
<path d="M340.6 304.3l0.4 0.4" stroke="#c8c0b8" stroke-width="4.0" stroke-linecap="round" fill="none"/>
<path d="M270.7 282.4l-0.7 0.1" stroke="#a0a2b8" stroke-width="4.0" stroke-linecap="round" fill="none"/>
<path d="M310.4 262.4l-0.2 0.0M294.6 297.2l-1.1 0.0" stroke="#c8c0b8" stroke-width="4.7" stroke-linecap="round" fill="none"/>
<path d="M328.8 259.8l-0.5 0.0" stroke="#9498b0" stroke-width="4.1" stroke-linecap="round" fill="none"/>
<path d="M301.1 304.0l0.2 0.7M283.0 301.4l-0.2 0.6" stroke="#b0b0c0" stroke-width="4.0" stroke-linecap="round" fill="none"/>
<path d="M334.5 284.1l0.3 0.5M281.3 290.4l0.7 0.4" stroke="#a0a2b8" stroke-width="4.6" stroke-linecap="round" fill="none"/>
<path d="M296.8 291.0l-0.8 0.4" stroke="#b0b0c0" stroke-width="3.9" stroke-linecap="round" fill="none"/>
<path d="M339.0 278.0l-0.1 0.4" stroke="#b0b0c0" stroke-width="4.4" stroke-linecap="round" fill="none"/>
<path d="M303.6 265.4l-0.0 0.9" stroke="#c8c0b8" stroke-width="3.9" stroke-linecap="round" fill="none"/>
<path d="M279.8 272.7l-0.3 0.3" stroke="#c8c0b8" stroke-width="4.1" stroke-linecap="round" fill="none"/>
</g>
<rect x="273.80" y="262.50" width="76.70" height="43.20" fill="none" stroke="#333" stroke-width="0.9"/>
<line x1="276.40" y1="302.10" x2="294.40" y2="302.10" stroke="#111" stroke-width="1.3"/>
<g clip-path="url(#c41)">
<rect x="353.2" y="262.1" width="77.5" height="44" filter="url(#tB5)"/>
<path d="M353.2,280.1 L383.2,306.1 L391.2,306.1 L353.2,274.1 Z" fill="#d0c0b8" stroke="none" stroke-width="0" fill-opacity="0.5"/>
</g>
<rect x="353.60" y="262.50" width="76.70" height="43.20" fill="none" stroke="#333" stroke-width="0.9"/>
<line x1="356.20" y1="302.10" x2="382.20" y2="302.10" stroke="#111" stroke-width="1.3"/>
<g clip-path="url(#c51)">
<rect x="433.00" y="262.10" width="77.50" height="44.00" fill="#d4c0a2" stroke="none" stroke-width="1"/>
<path d="M426.8 257.6m-4.1 0a4.1 4.1 0 1 0 8.1 0a4.1 4.1 0 1 0 -8.1 0M439.2 256.1m-5.3 0a5.3 5.3 0 1 0 10.5 0a5.3 5.3 0 1 0 -10.5 0M451.8 254.3m-5.2 0a5.2 5.2 0 1 0 10.3 0a5.2 5.2 0 1 0 -10.3 0M461.6 259.0m-4.3 0a4.3 4.3 0 1 0 8.6 0a4.3 4.3 0 1 0 -8.6 0M468.8 259.1m-5.1 0a5.1 5.1 0 1 0 10.3 0a5.1 5.1 0 1 0 -10.3 0M479.4 255.3m-4.8 0a4.8 4.8 0 1 0 9.6 0a4.8 4.8 0 1 0 -9.6 0M493.4 256.6m-5.0 0a5.0 5.0 0 1 0 10.0 0a5.0 5.0 0 1 0 -10.0 0M499.6 256.0m-5.2 0a5.2 5.2 0 1 0 10.5 0a5.2 5.2 0 1 0 -10.5 0M511.0 255.5m-5.3 0a5.3 5.3 0 1 0 10.6 0a5.3 5.3 0 1 0 -10.6 0M432.2 264.4m-5.1 0a5.1 5.1 0 1 0 10.1 0a5.1 5.1 0 1 0 -10.1 0M441.1 266.0m-5.3 0a5.3 5.3 0 1 0 10.6 0a5.3 5.3 0 1 0 -10.6 0M455.7 263.1m-5.0 0a5.0 5.0 0 1 0 10.0 0a5.0 5.0 0 1 0 -10.0 0M463.5 265.8m-4.2 0a4.2 4.2 0 1 0 8.4 0a4.2 4.2 0 1 0 -8.4 0M477.6 263.7m-4.2 0a4.2 4.2 0 1 0 8.4 0a4.2 4.2 0 1 0 -8.4 0M484.8 267.8m-4.6 0a4.6 4.6 0 1 0 9.3 0a4.6 4.6 0 1 0 -9.3 0M498.5 269.0m-5.0 0a5.0 5.0 0 1 0 9.9 0a5.0 5.0 0 1 0 -9.9 0M509.5 265.6m-4.0 0a4.0 4.0 0 1 0 7.9 0a4.0 4.0 0 1 0 -7.9 0M516.9 268.7m-5.0 0a5.0 5.0 0 1 0 9.9 0a5.0 5.0 0 1 0 -9.9 0M427.4 272.5m-4.0 0a4.0 4.0 0 1 0 8.1 0a4.0 4.0 0 1 0 -8.1 0M436.5 276.1m-5.0 0a5.0 5.0 0 1 0 10.0 0a5.0 5.0 0 1 0 -10.0 0M451.0 275.4m-4.9 0a4.9 4.9 0 1 0 9.9 0a4.9 4.9 0 1 0 -9.9 0M460.8 277.1m-4.6 0a4.6 4.6 0 1 0 9.3 0a4.6 4.6 0 1 0 -9.3 0M472.8 277.9m-4.9 0a4.9 4.9 0 1 0 9.9 0a4.9 4.9 0 1 0 -9.9 0M478.1 272.9m-4.8 0a4.8 4.8 0 1 0 9.6 0a4.8 4.8 0 1 0 -9.6 0M490.7 276.0m-3.9 0a3.9 3.9 0 1 0 7.9 0a3.9 3.9 0 1 0 -7.9 0M500.9 274.6m-4.2 0a4.2 4.2 0 1 0 8.5 0a4.2 4.2 0 1 0 -8.5 0M513.8 272.3m-4.3 0a4.3 4.3 0 1 0 8.6 0a4.3 4.3 0 1 0 -8.6 0M432.5 281.5m-5.1 0a5.1 5.1 0 1 0 10.1 0a5.1 5.1 0 1 0 -10.1 0M440.8 281.3m-4.1 0a4.1 4.1 0 1 0 8.3 0a4.1 4.1 0 1 0 -8.3 0M456.2 286.5m-4.2 0a4.2 4.2 0 1 0 8.5 0a4.2 4.2 0 1 0 -8.5 0M465.4 281.7m-4.8 0a4.8 4.8 0 1 0 9.5 0a4.8 4.8 0 1 0 -9.5 0M474.4 284.4m-5.1 0a5.1 5.1 0 1 0 10.1 0a5.1 5.1 0 1 0 -10.1 0M483.6 286.6m-4.7 0a4.7 4.7 0 1 0 9.5 0a4.7 4.7 0 1 0 -9.5 0M497.5 284.3m-5.2 0a5.2 5.2 0 1 0 10.4 0a5.2 5.2 0 1 0 -10.4 0M508.6 286.5m-4.2 0a4.2 4.2 0 1 0 8.4 0a4.2 4.2 0 1 0 -8.4 0M514.0 284.7m-5.2 0a5.2 5.2 0 1 0 10.5 0a5.2 5.2 0 1 0 -10.5 0M430.0 293.4m-4.1 0a4.1 4.1 0 1 0 8.2 0a4.1 4.1 0 1 0 -8.2 0M440.0 292.8m-4.4 0a4.4 4.4 0 1 0 8.7 0a4.4 4.4 0 1 0 -8.7 0M448.9 292.8m-4.6 0a4.6 4.6 0 1 0 9.2 0a4.6 4.6 0 1 0 -9.2 0M457.4 293.6m-5.1 0a5.1 5.1 0 1 0 10.1 0a5.1 5.1 0 1 0 -10.1 0M471.3 294.1m-4.6 0a4.6 4.6 0 1 0 9.2 0a4.6 4.6 0 1 0 -9.2 0M479.7 290.3m-3.9 0a3.9 3.9 0 1 0 7.8 0a3.9 3.9 0 1 0 -7.8 0M490.5 292.3m-4.7 0a4.7 4.7 0 1 0 9.4 0a4.7 4.7 0 1 0 -9.4 0M498.2 293.7m-4.8 0a4.8 4.8 0 1 0 9.6 0a4.8 4.8 0 1 0 -9.6 0M509.1 293.6m-5.2 0a5.2 5.2 0 1 0 10.3 0a5.2 5.2 0 1 0 -10.3 0M434.1 305.1m-4.0 0a4.0 4.0 0 1 0 8.0 0a4.0 4.0 0 1 0 -8.0 0M442.3 303.0m-4.4 0a4.4 4.4 0 1 0 8.8 0a4.4 4.4 0 1 0 -8.8 0M454.0 302.9m-4.3 0a4.3 4.3 0 1 0 8.5 0a4.3 4.3 0 1 0 -8.5 0M467.2 305.0m-4.6 0a4.6 4.6 0 1 0 9.1 0a4.6 4.6 0 1 0 -9.1 0M475.2 303.9m-4.5 0a4.5 4.5 0 1 0 9.0 0a4.5 4.5 0 1 0 -9.0 0M484.1 302.9m-5.1 0a5.1 5.1 0 1 0 10.2 0a5.1 5.1 0 1 0 -10.2 0M495.4 304.3m-4.0 0a4.0 4.0 0 1 0 8.1 0a4.0 4.0 0 1 0 -8.1 0M503.8 305.1m-4.2 0a4.2 4.2 0 1 0 8.4 0a4.2 4.2 0 1 0 -8.4 0M514.4 304.4m-4.3 0a4.3 4.3 0 1 0 8.6 0a4.3 4.3 0 1 0 -8.6 0M427.0 312.1m-4.6 0a4.6 4.6 0 1 0 9.2 0a4.6 4.6 0 1 0 -9.2 0M438.0 312.8m-4.2 0a4.2 4.2 0 1 0 8.5 0a4.2 4.2 0 1 0 -8.5 0M448.8 309.8m-4.4 0a4.4 4.4 0 1 0 8.8 0a4.4 4.4 0 1 0 -8.8 0M456.9 314.3m-4.5 0a4.5 4.5 0 1 0 9.0 0a4.5 4.5 0 1 0 -9.0 0M471.1 312.1m-4.0 0a4.0 4.0 0 1 0 8.0 0a4.0 4.0 0 1 0 -8.0 0M482.4 308.7m-4.2 0a4.2 4.2 0 1 0 8.5 0a4.2 4.2 0 1 0 -8.5 0M488.7 313.1m-5.1 0a5.1 5.1 0 1 0 10.1 0a5.1 5.1 0 1 0 -10.1 0M499.3 311.8m-4.7 0a4.7 4.7 0 1 0 9.4 0a4.7 4.7 0 1 0 -9.4 0M512.7 314.4m-4.4 0a4.4 4.4 0 1 0 8.9 0a4.4 4.4 0 1 0 -8.9 0" fill="#e8dcc8" stroke="#a87038" stroke-width="1.2"/>
<path d="M426.5 257.7h0" stroke="#b4b2c0" stroke-width="5.0" stroke-linecap="round"/>
<path d="M440.0 256.8h0" stroke="#a8a8bc" stroke-width="4.9" stroke-linecap="round"/>
<path d="M452.2 254.3h0" stroke="#9c9eb4" stroke-width="4.4" stroke-linecap="round"/>
<path d="M461.4 260.0h0" stroke="#9c9eb4" stroke-width="5.6" stroke-linecap="round"/>
<path d="M469.7 258.2h0M509.8 294.3h0" stroke="#9c9eb4" stroke-width="5.0" stroke-linecap="round"/>
<path d="M478.5 255.4h0" stroke="#a8a8bc" stroke-width="4.2" stroke-linecap="round"/>
<path d="M492.7 256.4h0M472.2 277.3h0" stroke="#b4b2c0" stroke-width="5.4" stroke-linecap="round"/>
<path d="M498.6 256.4h0M494.4 304.5h0" stroke="#9c9eb4" stroke-width="3.9" stroke-linecap="round"/>
<path d="M511.1 255.8h0" stroke="#9c9eb4" stroke-width="4.8" stroke-linecap="round"/>
<path d="M433.0 265.1h0" stroke="#b4b2c0" stroke-width="4.5" stroke-linecap="round"/>
<path d="M441.7 266.4h0" stroke="#a8a8bc" stroke-width="5.3" stroke-linecap="round"/>
<path d="M456.3 263.7h0M490.6 276.1h0M499.4 312.3h0" stroke="#a8a8bc" stroke-width="4.7" stroke-linecap="round"/>
<path d="M462.7 265.1h0" stroke="#9c9eb4" stroke-width="5.7" stroke-linecap="round"/>
<path d="M478.4 262.7h0M440.5 281.2h0" stroke="#9c9eb4" stroke-width="4.1" stroke-linecap="round"/>
<path d="M485.8 266.9h0M450.9 274.6h0M479.8 290.3h0M453.8 303.8h0" stroke="#b4b2c0" stroke-width="4.9" stroke-linecap="round"/>
<path d="M499.1 269.4h0M515.3 303.7h0" stroke="#9c9eb4" stroke-width="4.7" stroke-linecap="round"/>
<path d="M509.0 265.9h0M484.4 303.2h0" stroke="#b4b2c0" stroke-width="5.3" stroke-linecap="round"/>
<path d="M516.3 269.1h0M513.5 284.2h0M488.1 312.2h0" stroke="#a8a8bc" stroke-width="5.5" stroke-linecap="round"/>
<path d="M426.6 271.7h0M466.9 305.4h0" stroke="#a8a8bc" stroke-width="5.1" stroke-linecap="round"/>
<path d="M436.8 276.9h0M474.7 283.8h0M449.4 309.9h0" stroke="#b4b2c0" stroke-width="4.1" stroke-linecap="round"/>
<path d="M461.1 277.8h0M474.4 304.1h0" stroke="#a8a8bc" stroke-width="5.4" stroke-linecap="round"/>
<path d="M478.4 272.3h0M501.6 274.2h0M483.6 286.5h0M457.1 313.8h0" stroke="#a8a8bc" stroke-width="5.6" stroke-linecap="round"/>
<path d="M514.2 271.5h0" stroke="#9c9eb4" stroke-width="4.6" stroke-linecap="round"/>
<path d="M432.4 282.1h0" stroke="#a8a8bc" stroke-width="3.9" stroke-linecap="round"/>
<path d="M456.7 286.2h0M442.9 303.5h0" stroke="#9c9eb4" stroke-width="5.3" stroke-linecap="round"/>
<path d="M465.7 281.2h0" stroke="#b4b2c0" stroke-width="4.7" stroke-linecap="round"/>
<path d="M497.5 284.5h0M439.1 292.4h0" stroke="#9c9eb4" stroke-width="5.2" stroke-linecap="round"/>
<path d="M508.7 286.7h0M490.8 292.5h0" stroke="#b4b2c0" stroke-width="5.6" stroke-linecap="round"/>
<path d="M429.8 292.6h0" stroke="#b4b2c0" stroke-width="4.6" stroke-linecap="round"/>
<path d="M448.7 293.2h0" stroke="#a8a8bc" stroke-width="5.0" stroke-linecap="round"/>
<path d="M456.6 294.1h0" stroke="#9c9eb4" stroke-width="4.9" stroke-linecap="round"/>
<path d="M470.5 294.6h0" stroke="#b4b2c0" stroke-width="4.2" stroke-linecap="round"/>
<path d="M498.5 294.0h0" stroke="#b4b2c0" stroke-width="5.7" stroke-linecap="round"/>
<path d="M433.8 304.7h0M513.3 315.3h0" stroke="#9c9eb4" stroke-width="4.2" stroke-linecap="round"/>
<path d="M503.0 305.4h0" stroke="#a8a8bc" stroke-width="4.5" stroke-linecap="round"/>
<path d="M426.6 311.7h0" stroke="#a8a8bc" stroke-width="4.8" stroke-linecap="round"/>
<path d="M438.9 312.4h0" stroke="#b4b2c0" stroke-width="4.8" stroke-linecap="round"/>
<path d="M470.6 311.6h0" stroke="#9c9eb4" stroke-width="5.4" stroke-linecap="round"/>
<path d="M483.4 308.4h0" stroke="#b4b2c0" stroke-width="3.9" stroke-linecap="round"/>
</g>
<rect x="433.40" y="262.50" width="76.70" height="43.20" fill="none" stroke="#333" stroke-width="0.9"/>
<line x1="436.00" y1="302.10" x2="454.00" y2="302.10" stroke="#111" stroke-width="1.3"/>
<g clip-path="url(#c02)">
<rect x="34.0" y="309.1" width="77.5" height="44" filter="url(#tK1)"/>
<g clip-path="url(#k1in)"><rect x="34.0" y="309.1" width="77.5" height="44" filter="url(#tK1b)"/></g>
<ellipse cx="44.0" cy="331.1" rx="12" ry="20" fill="#a07058" fill-opacity="0.15"/>
<path d="M80.0,311.6 C85.7,311.4 93.9,313.9 98.0,317.1 C102.1,320.4 104.9,326.1 104.6,331.1 C104.3,336.1 100.4,343.3 96.0,347.1 C91.6,350.9 83.8,353.8 78.0,354.1 C72.2,354.4 64.5,352.4 61.0,349.1 C57.5,345.8 56.5,339.3 57.0,334.1 C57.5,328.9 60.2,321.9 64.0,318.1 C67.8,314.4 74.3,311.8 80.0,311.6 Z" fill="none" stroke="#fff" stroke-width="1.1" stroke-dasharray="2.2,1.6" stroke-opacity="0.95"/>
</g>
<rect x="34.40" y="309.50" width="76.70" height="43.20" fill="none" stroke="#333" stroke-width="0.9"/>
<line x1="37.00" y1="349.10" x2="63.00" y2="349.10" stroke="#111" stroke-width="1.3"/>
<text x="37.00" y="346.60" font-size="6.8" fill="#111" text-anchor="start">200 μm</text>
<g clip-path="url(#c12)">
<rect x="113.80" y="309.10" width="77.50" height="44.00" fill="#c4c0cc" stroke="none" stroke-width="1"/>
<rect x="113.80" y="309.10" width="77.50" height="44.00" fill="#ccc8d0" stroke="none" stroke-width="1"/>
<path d="M113.8,309.1 L165.8,309.1 C163.8,329.1 153.8,345.1 132.8,355.1 L113.8,355.1 Z" fill="#b49c84"/>
<path d="M123.5 359.6l1.0 0.5M122.9 317.5l-0.7 0.7M123.3 338.5l0.2 0.2" stroke="#84582e" stroke-width="5.1" stroke-linecap="round" fill="none"/>
<path d="M119.4 343.0l0.0 0.0M147.7 305.3l-0.9 0.3" stroke="#84582e" stroke-width="4.4" stroke-linecap="round" fill="none"/>
<path d="M128.8 328.0l-0.2 0.0" stroke="#8e5e34" stroke-width="4.6" stroke-linecap="round" fill="none"/>
<path d="M141.5 336.5l-0.1 0.2M159.5 304.7l-0.5 0.0M112.7 312.1l0.8 0.0M110.2 306.2l0.1 0.1" stroke="#84582e" stroke-width="4.8" stroke-linecap="round" fill="none"/>
<path d="M116.0 327.5l-0.5 1.0" stroke="#a87a4c" stroke-width="4.3" stroke-linecap="round" fill="none"/>
<path d="M137.0 320.5l-0.1 1.1M151.7 306.0l-0.0 0.4M129.6 315.7l0.8 0.0" stroke="#9a6a3e" stroke-width="4.9" stroke-linecap="round" fill="none"/>
<path d="M163.6 304.8l-0.4 0.2M117.2 348.2l-0.3 0.2M150.8 311.6l0.4 0.9M157.5 317.7l0.3 0.1" stroke="#8e5e34" stroke-width="4.5" stroke-linecap="round" fill="none"/>
<path d="M122.7 325.7l0.2 0.2M125.7 312.1l0.6 1.0M113.1 322.9l0.0 0.0" stroke="#a87a4c" stroke-width="4.8" stroke-linecap="round" fill="none"/>
<path d="M109.8 348.9l-1.0 0.5M129.9 352.0l1.0 0.9M142.0 307.1l0.2 0.8" stroke="#a87a4c" stroke-width="5.0" stroke-linecap="round" fill="none"/>
<path d="M130.0 305.9l-0.3 0.5M133.7 307.1l-0.0 0.3M118.7 311.6l-0.0 0.8" stroke="#84582e" stroke-width="5.0" stroke-linecap="round" fill="none"/>
<path d="M116.0 314.8l0.9 0.5M126.9 333.2l0.1 0.1M133.1 342.4l-0.1 0.0M131.9 310.1l-0.2 0.0M137.2 343.9l-0.1 0.0M149.9 321.5l1.0 0.4" stroke="#8e5e34" stroke-width="4.9" stroke-linecap="round" fill="none"/>
<path d="M131.0 321.2l-0.8 0.9M117.9 338.2l0.0 0.6M138.1 331.8l0.4 0.1" stroke="#9a6a3e" stroke-width="4.6" stroke-linecap="round" fill="none"/>
<path d="M124.8 320.8l-0.0 1.2M110.5 336.9l-0.2 0.8M125.1 351.8l-0.1 0.0M161.6 310.2l0.7 0.7M128.7 335.8l-0.1 0.3" stroke="#84582e" stroke-width="4.9" stroke-linecap="round" fill="none"/>
<path d="M134.6 326.5l-0.1 0.0" stroke="#84582e" stroke-width="4.6" stroke-linecap="round" fill="none"/>
<path d="M111.1 357.7l0.5 0.9M134.0 347.9l-0.9 0.0" stroke="#8e5e34" stroke-width="4.3" stroke-linecap="round" fill="none"/>
<path d="M119.4 332.1l0.8 0.6M143.0 331.1l-0.0 0.7M124.8 344.1l0.1 0.0" stroke="#84582e" stroke-width="4.7" stroke-linecap="round" fill="none"/>
<path d="M112.4 316.5l-0.3 0.6M114.7 331.0l-0.6 0.1" stroke="#a87a4c" stroke-width="4.7" stroke-linecap="round" fill="none"/>
<path d="M155.0 312.4l0.4 0.0" stroke="#9a6a3e" stroke-width="4.8" stroke-linecap="round" fill="none"/>
<path d="M143.6 311.1l0.7 0.0M152.0 326.0l-1.0 0.4" stroke="#9a6a3e" stroke-width="5.1" stroke-linecap="round" fill="none"/>
<path d="M144.5 322.2l-0.1 0.1M115.2 343.1l-0.1 1.1M130.4 331.7l0.4 0.2" stroke="#a87a4c" stroke-width="4.6" stroke-linecap="round" fill="none"/>
<path d="M151.9 315.9l-0.0 0.3" stroke="#a87a4c" stroke-width="5.1" stroke-linecap="round" fill="none"/>
<path d="M133.3 317.8l0.0 0.0M116.4 306.0l1.3 0.1M112.7 325.4l-0.9 0.3" stroke="#8e5e34" stroke-width="5.0" stroke-linecap="round" fill="none"/>
<path d="M123.0 305.9l0.0 0.1" stroke="#a87a4c" stroke-width="4.5" stroke-linecap="round" fill="none"/>
<path d="M137.8 310.1l-0.3 0.1M112.4 354.4l0.3 0.2M147.8 317.3l-0.3 0.7" stroke="#84582e" stroke-width="4.5" stroke-linecap="round" fill="none"/>
<path d="M127.5 357.0l-0.2 0.2M141.5 326.5l0.1 0.1" stroke="#9a6a3e" stroke-width="4.3" stroke-linecap="round" fill="none"/>
<path d="M123.0 348.9l0.5 0.3M147.6 325.6l-0.0 0.0" stroke="#9a6a3e" stroke-width="5.0" stroke-linecap="round" fill="none"/>
<path d="M133.6 338.1l-0.1 0.5" stroke="#9a6a3e" stroke-width="4.7" stroke-linecap="round" fill="none"/>
<path d="M141.5 316.9l-0.5 0.8" stroke="#8e5e34" stroke-width="4.7" stroke-linecap="round" fill="none"/>
<path d="M120.4 352.5l-0.0 0.3" stroke="#8e5e34" stroke-width="4.4" stroke-linecap="round" fill="none"/>
<path d="M115.9 359.5l0.2 0.5M120.5 320.3l1.0 0.2" stroke="#8e5e34" stroke-width="5.1" stroke-linecap="round" fill="none"/>
<path d="M128.8 348.4l0.0 0.0" stroke="#84582e" stroke-width="4.3" stroke-linecap="round" fill="none"/>
<path d="M170.9 344.8l0.6 0.8M194.2 337.9l-0.3 0.9M149.7 350.1l-0.5 1.1" stroke="#a4a8c0" stroke-width="4.4" stroke-linecap="round" fill="none"/>
<path d="M157.9 358.4l-0.6 0.5M180.5 352.5l0.7 1.0" stroke="#bcbed0" stroke-width="4.4" stroke-linecap="round" fill="none"/>
<path d="M196.6 352.2l0.0 0.1M166.2 357.5l-0.2 0.2M181.9 306.7l0.2 0.0M165.1 321.2l0.6 0.1" stroke="#bcbed0" stroke-width="3.9" stroke-linecap="round" fill="none"/>
<path d="M174.2 310.8l-0.7 0.5M173.2 315.5l1.1 0.4M193.6 311.5l0.4 0.0M140.4 354.9l-0.9 0.4M157.5 352.3l-0.6 0.3M175.5 305.6l0.0 0.0" stroke="#bcbed0" stroke-width="4.2" stroke-linecap="round" fill="none"/>
<path d="M180.0 315.7l0.3 0.0" stroke="#b0b2c8" stroke-width="3.7" stroke-linecap="round" fill="none"/>
<path d="M153.5 347.3l-0.0 0.1M192.1 354.6l0.4 0.6M162.9 351.6l0.6 0.8" stroke="#a4a8c0" stroke-width="4.0" stroke-linecap="round" fill="none"/>
<path d="M157.6 334.2l-0.1 0.9M179.4 345.4l-0.8 0.0M195.8 327.0l0.0 0.1" stroke="#bcbed0" stroke-width="4.0" stroke-linecap="round" fill="none"/>
<path d="M172.3 355.3l0.0 0.0" stroke="#b0b2c8" stroke-width="3.8" stroke-linecap="round" fill="none"/>
<path d="M177.1 333.2l0.0 0.2M183.5 357.7l0.1 1.1M160.8 346.8l0.5 0.3M167.0 347.2l-0.5 0.1" stroke="#b0b2c8" stroke-width="4.1" stroke-linecap="round" fill="none"/>
<path d="M179.5 324.6l0.3 0.2M188.7 307.2l0.0 0.1M173.8 341.0l0.9 0.5M164.9 332.9l-0.0 0.3" stroke="#b0b2c8" stroke-width="4.2" stroke-linecap="round" fill="none"/>
<path d="M144.3 345.8l0.6 0.7M194.8 315.9l0.1 0.2M192.9 321.3l0.1 0.3M167.2 349.5l0.0 0.5" stroke="#a4a8c0" stroke-width="3.9" stroke-linecap="round" fill="none"/>
<path d="M134.8 356.2l0.4 0.9M180.4 313.2l0.2 0.2M177.2 350.6l0.2 0.5M167.3 315.6l0.0 0.0" stroke="#b0b2c8" stroke-width="4.0" stroke-linecap="round" fill="none"/>
<path d="M170.9 338.2l-0.9 0.6M188.0 349.6l0.1 0.1" stroke="#a4a8c0" stroke-width="3.8" stroke-linecap="round" fill="none"/>
<path d="M150.8 338.3l-0.3 0.0M183.5 332.9l-0.1 0.7M188.9 329.5l0.5 0.8M162.3 329.7l0.1 0.5" stroke="#bcbed0" stroke-width="3.8" stroke-linecap="round" fill="none"/>
<path d="M192.5 343.6l0.5 0.9" stroke="#b0b2c8" stroke-width="3.9" stroke-linecap="round" fill="none"/>
<path d="M162.3 340.4l0.7 0.1" stroke="#a4a8c0" stroke-width="4.3" stroke-linecap="round" fill="none"/>
<path d="M183.7 330.0l0.4 0.1" stroke="#a4a8c0" stroke-width="3.4" stroke-linecap="round" fill="none"/>
<path d="M175.8 329.3l-0.6 1.1M172.1 333.4l0.8 0.2M172.3 324.4l-0.5 0.8" stroke="#b0b2c8" stroke-width="4.3" stroke-linecap="round" fill="none"/>
<path d="M143.3 351.4l-0.6 0.3" stroke="#a4a8c0" stroke-width="3.5" stroke-linecap="round" fill="none"/>
<path d="M192.6 333.2l0.2 0.1M179.5 357.1l-0.1 0.7" stroke="#a4a8c0" stroke-width="4.1" stroke-linecap="round" fill="none"/>
<path d="M188.0 315.1l-0.2 0.7M154.3 329.8l0.0 0.1M153.5 355.6l-0.1 0.3" stroke="#bcbed0" stroke-width="3.6" stroke-linecap="round" fill="none"/>
<path d="M185.2 321.9l-0.4 0.5M196.8 307.2l-0.3 0.2" stroke="#bcbed0" stroke-width="4.3" stroke-linecap="round" fill="none"/>
<path d="M184.0 313.0l0.9 0.1" stroke="#bcbed0" stroke-width="3.7" stroke-linecap="round" fill="none"/>
<path d="M160.9 322.0l0.6 0.8" stroke="#bcbed0" stroke-width="3.4" stroke-linecap="round" fill="none"/>
<path d="M183.8 343.9l-0.6 0.7" stroke="#b0b2c8" stroke-width="3.5" stroke-linecap="round" fill="none"/>
<path d="M190.5 339.2l0.0 0.1M154.8 338.5l0.3 0.3" stroke="#a4a8c0" stroke-width="4.2" stroke-linecap="round" fill="none"/>
<path d="M169.8 330.1l0.1 0.1" stroke="#a4a8c0" stroke-width="3.7" stroke-linecap="round" fill="none"/>
<path d="M146.8 356.3l0.1 0.8" stroke="#b0b2c8" stroke-width="3.6" stroke-linecap="round" fill="none"/>
<path d="M180.3 341.0l0.1 0.9" stroke="#b0b2c8" stroke-width="4.4" stroke-linecap="round" fill="none"/>
<path d="M165.8,308.1 C163.8,329.1 153.8,345.1 132.8,355.1" fill="none" stroke="#fff" stroke-width="2.6" stroke-dasharray="5,3"/>
</g>
<rect x="114.20" y="309.50" width="76.70" height="43.20" fill="none" stroke="#333" stroke-width="0.9"/>
<line x1="116.80" y1="349.10" x2="134.80" y2="349.10" stroke="#111" stroke-width="1.3"/>
<text x="116.80" y="346.60" font-size="6.8" fill="#111" text-anchor="start">20 μm</text>
<g clip-path="url(#c22)">
<rect x="193.6" y="309.1" width="77.5" height="44" filter="url(#tK3)"/>
<path d="M193.6,309.1 L207.6,309.1 C213.6,317.1 211.6,329.1 207.6,339.1 L193.6,341.1 Z" fill="#e6e2ea" stroke="none" stroke-width="0"/>
<path d="M207.6,309.1 C213.6,317.1 211.6,329.1 207.6,339.1 L215.6,343.1 C219.6,329.1 217.6,317.1 215.6,309.1 Z" fill="#a87a60" stroke="none" stroke-width="0" fill-opacity="0.45"/>
</g>
<rect x="194.00" y="309.50" width="76.70" height="43.20" fill="none" stroke="#333" stroke-width="0.9"/>
<line x1="196.60" y1="349.10" x2="222.60" y2="349.10" stroke="#111" stroke-width="1.3"/>
<text x="196.60" y="346.60" font-size="6.8" fill="#111" text-anchor="start">200 μm</text>
<g clip-path="url(#c32)">
<rect x="273.40" y="309.10" width="77.50" height="44.00" fill="#d4cab8" stroke="none" stroke-width="1"/>
<path d="M327.3 313.7l-0.0 0.3M352.3 303.8l-0.7 0.6M335.9 328.5l-0.2 0.3M346.9 324.7l0.1 0.5" stroke="#b4b6c4" stroke-width="4.1" stroke-linecap="round" fill="none"/>
<path d="M310.7 306.4l-0.0 0.0M333.5 304.8l0.1 0.1M311.6 324.6l0.1 0.5M319.0 305.2l0.0 0.6M282.4 321.1l0.9 0.5M286.5 358.0l0.2 0.6" stroke="#9ea2b8" stroke-width="3.8" stroke-linecap="round" fill="none"/>
<path d="M354.8 323.9l0.1 0.2M334.4 362.4l-0.1 0.2M315.4 348.8l-0.3 0.1M343.8 348.5l-0.0 0.1" stroke="#b4b6c4" stroke-width="4.0" stroke-linecap="round" fill="none"/>
<path d="M354.6 339.3l-0.6 1.0M331.3 328.1l0.0 0.1M292.9 319.7l-0.2 0.2" stroke="#c0bcbc" stroke-width="4.5" stroke-linecap="round" fill="none"/>
<path d="M323.2 304.0l0.8 0.8M338.8 305.0l1.2 0.0M272.1 305.9l0.1 0.0" stroke="#a8aabc" stroke-width="4.4" stroke-linecap="round" fill="none"/>
<path d="M300.7 335.4l-0.3 0.3M327.0 320.2l-0.4 0.6" stroke="#9ea2b8" stroke-width="4.4" stroke-linecap="round" fill="none"/>
<path d="M278.2 307.0l0.2 0.2M319.0 311.3l0.1 0.1M290.1 355.5l0.1 0.3M280.8 338.5l-0.2 0.7M313.9 356.2l0.1 0.2" stroke="#9ea2b8" stroke-width="4.3" stroke-linecap="round" fill="none"/>
<path d="M308.6 348.9l-0.0 0.1M294.1 345.9l-0.9 0.1M272.0 327.5l0.2 0.0" stroke="#b4b6c4" stroke-width="3.9" stroke-linecap="round" fill="none"/>
<path d="M308.7 330.8l-1.1 0.7M274.9 331.7l0.0 0.4M358.6 332.5l-0.6 0.6" stroke="#9ea2b8" stroke-width="4.5" stroke-linecap="round" fill="none"/>
<path d="M323.4 325.1l-0.2 0.8" stroke="#9ea2b8" stroke-width="4.7" stroke-linecap="round" fill="none"/>
<path d="M292.5 331.7l0.3 0.9M279.3 355.7l0.2 0.5M329.0 337.3l-0.3 0.3M355.0 312.0l-0.2 0.3" stroke="#a8aabc" stroke-width="4.0" stroke-linecap="round" fill="none"/>
<path d="M270.0 359.1l0.3 0.9M339.2 334.4l-0.6 0.5" stroke="#b4b6c4" stroke-width="3.8" stroke-linecap="round" fill="none"/>
<path d="M276.0 312.9l0.0 0.0M296.1 304.1l0.1 0.7" stroke="#a8aabc" stroke-width="4.2" stroke-linecap="round" fill="none"/>
<path d="M315.2 332.6l-1.0 0.3M314.9 337.8l-0.3 0.9M337.1 355.7l-1.0 0.4" stroke="#c0bcbc" stroke-width="3.9" stroke-linecap="round" fill="none"/>
<path d="M288.0 324.2l0.4 0.0M306.3 324.7l0.6 0.3M355.2 349.1l0.1 0.2M300.0 342.4l-0.9 0.3" stroke="#b4b6c4" stroke-width="4.6" stroke-linecap="round" fill="none"/>
<path d="M348.6 316.4l-0.1 0.3" stroke="#c0bcbc" stroke-width="4.8" stroke-linecap="round" fill="none"/>
<path d="M319.6 341.9l0.4 0.2M307.9 361.7l0.1 0.2M280.0 310.1l-0.1 0.7M347.5 337.3l0.1 0.5M346.3 348.1l1.2 0.1M274.0 341.4l0.6 0.3" stroke="#b4b6c4" stroke-width="4.5" stroke-linecap="round" fill="none"/>
<path d="M273.8 354.5l0.1 0.0" stroke="#9ea2b8" stroke-width="4.0" stroke-linecap="round" fill="none"/>
<path d="M323.8 331.9l1.1 0.2M317.3 321.2l0.3 0.3M290.5 310.4l0.3 0.7M299.2 312.5l0.1 0.6" stroke="#c0bcbc" stroke-width="4.1" stroke-linecap="round" fill="none"/>
<path d="M287.1 337.7l0.6 0.3M335.3 341.6l0.1 0.1" stroke="#c0bcbc" stroke-width="4.2" stroke-linecap="round" fill="none"/>
<path d="M270.8 348.7l0.0 0.1M300.1 318.9l0.5 0.5M279.4 326.8l-1.1 0.2" stroke="#c0bcbc" stroke-width="4.3" stroke-linecap="round" fill="none"/>
<path d="M341.9 359.4l0.9 0.3M336.0 343.8l-0.4 0.8M342.6 351.5l0.1 0.2M301.1 302.6l0.3 0.3M360.1 363.5l0.0 0.2M303.4 309.6l-0.6 1.0" stroke="#9ea2b8" stroke-width="4.6" stroke-linecap="round" fill="none"/>
<path d="M343.9 319.4l-0.1 0.8" stroke="#9ea2b8" stroke-width="4.1" stroke-linecap="round" fill="none"/>
<path d="M284.5 330.7l-0.4 0.0M311.1 309.2l0.9 0.7M352.0 330.8l-0.6 0.2M279.6 319.2l0.0 0.1M302.1 344.6l-0.2 1.2" stroke="#b4b6c4" stroke-width="4.3" stroke-linecap="round" fill="none"/>
<path d="M343.8 309.2l0.9 0.5M301.6 363.2l1.1 0.1" stroke="#a8aabc" stroke-width="4.5" stroke-linecap="round" fill="none"/>
<path d="M327.9 362.2l0.2 0.2M298.2 353.1l-0.1 0.1M334.2 320.8l0.1 0.0" stroke="#9ea2b8" stroke-width="4.2" stroke-linecap="round" fill="none"/>
<path d="M319.2 361.5l0.1 0.9M327.9 348.3l-0.4 0.3" stroke="#a8aabc" stroke-width="4.3" stroke-linecap="round" fill="none"/>
<path d="M271.2 320.5l-0.1 0.0M271.4 334.8l-0.4 0.5" stroke="#9ea2b8" stroke-width="3.9" stroke-linecap="round" fill="none"/>
<path d="M288.1 307.6l0.1 0.3" stroke="#c0bcbc" stroke-width="4.0" stroke-linecap="round" fill="none"/>
<path d="M298.9 324.1l-0.8 0.6M328.2 353.9l-0.2 0.8M319.9 352.2l0.4 0.7" stroke="#a8aabc" stroke-width="3.9" stroke-linecap="round" fill="none"/>
<path d="M347.0 361.5l-0.1 0.5M278.2 344.3l-0.4 0.7" stroke="#b4b6c4" stroke-width="4.4" stroke-linecap="round" fill="none"/>
<path d="M336.1 313.8l-0.3 0.3" stroke="#c0bcbc" stroke-width="4.6" stroke-linecap="round" fill="none"/>
<path d="M309.6 317.1l0.2 0.1" stroke="#a8aabc" stroke-width="4.1" stroke-linecap="round" fill="none"/>
<path d="M292.4 361.6l0.5 1.1M277.6 361.0l0.0 0.0" stroke="#c0bcbc" stroke-width="4.4" stroke-linecap="round" fill="none"/>
<path d="M354.7 321.0l0.4 0.6" stroke="#a8aabc" stroke-width="4.6" stroke-linecap="round" fill="none"/>
<path d="M354.0 351.8l-0.3 0.4M334.8 333.7l-0.5 0.5M283.9 347.5l-0.1 0.8" stroke="#c0bcbc" stroke-width="4.7" stroke-linecap="round" fill="none"/>
<path d="M305.7 339.9l0.7 0.3" stroke="#c0bcbc" stroke-width="3.8" stroke-linecap="round" fill="none"/>
<path d="M307.6 354.3l-0.9 0.2" stroke="#b4b6c4" stroke-width="3.7" stroke-linecap="round" fill="none"/>
<path d="M355.2 306.0l0.1 0.7" stroke="#b4b6c4" stroke-width="4.7" stroke-linecap="round" fill="none"/>
<path d="M339.1 316.1l0.4 0.3" stroke="#9e6e38" stroke-width="5.3" stroke-linecap="round" fill="none"/>
<path d="M301.6 335.8l0.4 0.2" stroke="#9e6e38" stroke-width="4.4" stroke-linecap="round" fill="none"/>
<path d="M303.2 330.6l-0.2 0.7M288.2 331.4l-0.1 0.1" stroke="#8e5e2c" stroke-width="4.8" stroke-linecap="round" fill="none"/>
<path d="M287.2 314.0l-0.2 0.5" stroke="#b08a5a" stroke-width="5.1" stroke-linecap="round" fill="none"/>
<path d="M306.6 317.9l-0.9 0.2" stroke="#9e6e38" stroke-width="5.0" stroke-linecap="round" fill="none"/>
<path d="M301.2 328.3l0.4 0.8" stroke="#b08a5a" stroke-width="5.7" stroke-linecap="round" fill="none"/>
<path d="M351.0 328.9l0.7 0.9" stroke="#b08a5a" stroke-width="5.9" stroke-linecap="round" fill="none"/>
<path d="M299.7 351.9l0.2 0.5" stroke="#b08a5a" stroke-width="4.5" stroke-linecap="round" fill="none"/>
<path d="M273.0 353.6l-0.3 1.0" stroke="#b08a5a" stroke-width="5.0" stroke-linecap="round" fill="none"/>
<path d="M321.1 318.1l-0.1 0.8" stroke="#8e5e2c" stroke-width="5.5" stroke-linecap="round" fill="none"/>
<path d="M312.3 312.9l-0.0 0.1" stroke="#8e5e2c" stroke-width="5.4" stroke-linecap="round" fill="none"/>
<path d="M277.9 340.5l-0.7 0.5" stroke="#b08a5a" stroke-width="4.4" stroke-linecap="round" fill="none"/>
<path d="M297.7 337.7l-0.3 0.3" stroke="#b08a5a" stroke-width="4.6" stroke-linecap="round" fill="none"/>
<path d="M280.5 348.6l0.2 0.4" stroke="#8e5e2c" stroke-width="4.7" stroke-linecap="round" fill="none"/>
<path d="M282.4 335.0l0.6 0.7" stroke="#9e6e38" stroke-width="5.1" stroke-linecap="round" fill="none"/>
<path d="M286.3 311.5l0.0 0.0" stroke="#9e6e38" stroke-width="5.4" stroke-linecap="round" fill="none"/>
<path d="M333.6 322.9l-0.8 0.8" stroke="#84582a" stroke-width="5.6" stroke-linecap="round" fill="none"/>
<path d="M306.5 330.0l-0.7 0.3" stroke="#84582a" stroke-width="4.5" stroke-linecap="round" fill="none"/>
<path d="M330.6 336.1l-0.2 0.4" stroke="#84582a" stroke-width="4.6" stroke-linecap="round" fill="none"/>
</g>
<rect x="273.80" y="309.50" width="76.70" height="43.20" fill="none" stroke="#333" stroke-width="0.9"/>
<line x1="276.40" y1="349.10" x2="294.40" y2="349.10" stroke="#111" stroke-width="1.3"/>
<text x="276.40" y="346.60" font-size="6.8" fill="#111" text-anchor="start">20 μm</text>
<g clip-path="url(#c42)">
<rect x="353.2" y="309.1" width="77.5" height="44" filter="url(#tK5)"/>
</g>
<rect x="353.60" y="309.50" width="76.70" height="43.20" fill="none" stroke="#333" stroke-width="0.9"/>
<line x1="356.20" y1="349.10" x2="382.20" y2="349.10" stroke="#111" stroke-width="1.3"/>
<text x="356.20" y="346.60" font-size="6.8" fill="#111" text-anchor="start">200 μm</text>
<g clip-path="url(#c52)">
<rect x="433.00" y="309.10" width="77.50" height="44.00" fill="#d4cab8" stroke="none" stroke-width="1"/>
<path d="M458.6 354.2l-0.3 0.0M508.8 316.6l-0.5 0.1M489.5 309.4l0.0 0.6M487.1 357.7l-0.8 0.6M503.3 331.7l0.9 0.4" stroke="#9ea2b8" stroke-width="4.5" stroke-linecap="round" fill="none"/>
<path d="M489.4 337.1l0.2 0.9M435.2 354.2l0.9 0.6M443.2 338.5l-0.2 0.2M429.4 349.3l-0.9 0.2" stroke="#b4b6c4" stroke-width="4.1" stroke-linecap="round" fill="none"/>
<path d="M506.5 348.6l0.4 1.0M507.4 326.4l0.2 0.7M467.5 345.6l-0.6 0.7M482.9 352.9l-0.7 0.3M455.2 333.6l-0.3 0.0" stroke="#a8aabc" stroke-width="4.0" stroke-linecap="round" fill="none"/>
<path d="M515.4 346.8l0.0 0.2M447.3 348.9l-0.1 0.2M462.4 361.2l-0.4 0.5" stroke="#9ea2b8" stroke-width="3.9" stroke-linecap="round" fill="none"/>
<path d="M429.8 319.5l0.9 0.7M453.4 358.0l-0.2 0.3" stroke="#a8aabc" stroke-width="4.3" stroke-linecap="round" fill="none"/>
<path d="M510.0 355.8l0.8 0.4M443.2 324.3l-1.0 0.5M476.2 349.5l-0.2 0.1" stroke="#9ea2b8" stroke-width="4.1" stroke-linecap="round" fill="none"/>
<path d="M443.4 353.3l0.2 0.0M493.7 330.9l-0.1 0.1M446.7 312.2l0.4 0.4" stroke="#9ea2b8" stroke-width="3.8" stroke-linecap="round" fill="none"/>
<path d="M499.4 348.0l-1.1 0.4M488.1 327.7l0.3 0.2M487.2 333.6l1.1 0.1M450.6 338.7l0.4 1.0M459.2 340.3l-0.0 0.7" stroke="#b4b6c4" stroke-width="4.4" stroke-linecap="round" fill="none"/>
<path d="M463.2 332.3l-0.2 0.1" stroke="#b4b6c4" stroke-width="3.9" stroke-linecap="round" fill="none"/>
<path d="M499.7 312.0l-0.7 0.4M503.6 310.3l0.5 0.4M472.1 353.4l-0.5 0.8" stroke="#9ea2b8" stroke-width="4.3" stroke-linecap="round" fill="none"/>
<path d="M447.5 304.0l-0.4 0.0M438.6 348.5l-0.8 0.7M446.9 320.7l0.3 0.1M475.2 315.9l0.7 1.1M460.0 324.7l-0.8 0.4M439.2 316.9l-0.3 1.3" stroke="#9ea2b8" stroke-width="4.6" stroke-linecap="round" fill="none"/>
<path d="M475.0 306.0l0.1 0.0" stroke="#c0bcbc" stroke-width="4.1" stroke-linecap="round" fill="none"/>
<path d="M430.5 342.2l0.0 0.0M492.8 304.0l0.5 0.4M498.8 355.9l0.5 0.5" stroke="#b4b6c4" stroke-width="4.6" stroke-linecap="round" fill="none"/>
<path d="M447.1 351.0l0.6 0.4M482.7 338.9l0.8 0.1M426.0 362.7l0.4 0.2" stroke="#c0bcbc" stroke-width="3.9" stroke-linecap="round" fill="none"/>
<path d="M500.3 359.8l-0.0 0.1M503.4 339.8l-0.1 0.1M517.6 331.0l-0.3 0.6" stroke="#9ea2b8" stroke-width="4.2" stroke-linecap="round" fill="none"/>
<path d="M464.7 311.1l-0.0 0.1M434.9 333.0l-0.2 1.0" stroke="#c0bcbc" stroke-width="4.4" stroke-linecap="round" fill="none"/>
<path d="M475.4 314.1l-0.6 0.3M512.1 324.2l-0.7 0.9M475.5 333.8l0.2 0.1" stroke="#9ea2b8" stroke-width="4.0" stroke-linecap="round" fill="none"/>
<path d="M508.0 335.3l-0.3 0.4M485.6 319.7l-0.0 0.0M490.7 349.5l-0.3 0.2" stroke="#a8aabc" stroke-width="4.5" stroke-linecap="round" fill="none"/>
<path d="M483.8 305.9l-0.8 0.2M518.2 307.4l-0.8 0.2M430.8 330.3l-0.5 1.1" stroke="#c0bcbc" stroke-width="4.7" stroke-linecap="round" fill="none"/>
<path d="M466.5 359.3l-0.1 0.3M464.8 356.3l-0.1 0.1M441.6 313.6l-1.0 0.5" stroke="#b4b6c4" stroke-width="4.3" stroke-linecap="round" fill="none"/>
<path d="M470.6 321.0l-0.2 0.0M433.2 327.3l-0.3 0.4M495.2 361.4l0.8 0.1" stroke="#b4b6c4" stroke-width="4.0" stroke-linecap="round" fill="none"/>
<path d="M507.9 352.7l-0.5 0.9M477.2 358.1l0.8 0.3" stroke="#a8aabc" stroke-width="4.1" stroke-linecap="round" fill="none"/>
<path d="M480.9 325.6l-0.6 0.8M431.7 310.4l-0.8 0.0M519.1 316.2l0.4 0.1" stroke="#a8aabc" stroke-width="4.6" stroke-linecap="round" fill="none"/>
<path d="M470.9 338.5l-0.9 0.7M460.6 317.7l0.1 0.3M499.5 306.3l-1.2 0.1M439.2 359.5l0.1 1.2" stroke="#c0bcbc" stroke-width="4.3" stroke-linecap="round" fill="none"/>
<path d="M498.8 326.0l0.7 0.2M426.2 304.9l0.2 0.7M512.9 310.4l0.7 0.6M452.2 348.2l0.6 0.2M449.5 327.1l0.2 0.1" stroke="#c0bcbc" stroke-width="4.6" stroke-linecap="round" fill="none"/>
<path d="M487.0 354.5l-0.7 0.7" stroke="#c0bcbc" stroke-width="4.0" stroke-linecap="round" fill="none"/>
<path d="M519.2 358.7l0.0 0.1M445.7 360.2l0.1 0.1" stroke="#a8aabc" stroke-width="4.2" stroke-linecap="round" fill="none"/>
<path d="M509.0 363.5l0.6 0.1M486.7 347.5l0.5 0.8" stroke="#c0bcbc" stroke-width="4.8" stroke-linecap="round" fill="none"/>
<path d="M470.4 306.3l-0.8 0.6M471.2 333.2l-0.4 0.3M438.5 302.4l0.8 0.3" stroke="#a8aabc" stroke-width="4.4" stroke-linecap="round" fill="none"/>
<path d="M452.8 319.8l0.1 0.0M499.0 337.7l0.0 0.1" stroke="#b4b6c4" stroke-width="4.7" stroke-linecap="round" fill="none"/>
<path d="M462.7 304.8l0.1 0.1M475.1 326.0l-0.2 0.2" stroke="#b4b6c4" stroke-width="4.2" stroke-linecap="round" fill="none"/>
<path d="M483.3 311.3l0.1 0.2M447.6 332.1l0.0 0.0" stroke="#b4b6c4" stroke-width="3.8" stroke-linecap="round" fill="none"/>
<path d="M502.2 318.3l-0.7 0.9" stroke="#c0bcbc" stroke-width="4.2" stroke-linecap="round" fill="none"/>
<path d="M510.5 342.5l-0.4 0.0M453.5 302.7l-0.1 0.6" stroke="#a8aabc" stroke-width="3.9" stroke-linecap="round" fill="none"/>
<path d="M464.1 340.0l0.3 0.2M463.4 345.5l0.1 0.6" stroke="#9ea2b8" stroke-width="4.4" stroke-linecap="round" fill="none"/>
<path d="M491.6 316.5l-0.0 0.0" stroke="#c0bcbc" stroke-width="3.8" stroke-linecap="round" fill="none"/>
<path d="M463.0 327.8l0.7 0.6" stroke="#a8aabc" stroke-width="3.8" stroke-linecap="round" fill="none"/>
<path d="M455.1 310.1l-1.1 0.3" stroke="#a8aabc" stroke-width="4.8" stroke-linecap="round" fill="none"/>
<path d="M510.4 303.3l0.7 0.1" stroke="#c0bcbc" stroke-width="4.5" stroke-linecap="round" fill="none"/>
<path d="M442.9 313.6l-1.1 0.3" stroke="#b08a5a" stroke-width="4.9" stroke-linecap="round" fill="none"/>
<path d="M502.0 328.6l1.2 0.3" stroke="#8e5e2c" stroke-width="5.8" stroke-linecap="round" fill="none"/>
<path d="M467.0 319.9l0.1 0.0" stroke="#9e6e38" stroke-width="5.4" stroke-linecap="round" fill="none"/>
<path d="M452.1 333.2l-0.1 0.2M481.4 309.8l0.2 0.1" stroke="#8e5e2c" stroke-width="4.6" stroke-linecap="round" fill="none"/>
<path d="M506.8 308.1l-0.4 0.5" stroke="#9e6e38" stroke-width="5.1" stroke-linecap="round" fill="none"/>
<path d="M491.7 314.3l0.2 0.2" stroke="#8e5e2c" stroke-width="5.5" stroke-linecap="round" fill="none"/>
<path d="M482.9 312.9l0.3 0.3" stroke="#84582a" stroke-width="4.6" stroke-linecap="round" fill="none"/>
<path d="M477.8 346.5l0.5 1.1" stroke="#9e6e38" stroke-width="5.3" stroke-linecap="round" fill="none"/>
<path d="M440.6 308.5l-0.6 0.9M483.8 351.2l0.2 0.0" stroke="#b08a5a" stroke-width="5.1" stroke-linecap="round" fill="none"/>
<path d="M449.9 324.8l0.1 0.9" stroke="#b08a5a" stroke-width="4.7" stroke-linecap="round" fill="none"/>
<path d="M453.5 350.5l-0.7 0.7" stroke="#8e5e2c" stroke-width="5.7" stroke-linecap="round" fill="none"/>
<path d="M459.4 350.1l-0.1 0.1" stroke="#84582a" stroke-width="4.4" stroke-linecap="round" fill="none"/>
<path d="M508.1 330.9l-0.1 0.1" stroke="#b08a5a" stroke-width="5.2" stroke-linecap="round" fill="none"/>
<path d="M451.1 342.8l-0.2 0.2" stroke="#b08a5a" stroke-width="5.4" stroke-linecap="round" fill="none"/>
<path d="M455.0 351.6l0.0 0.7" stroke="#b08a5a" stroke-width="4.4" stroke-linecap="round" fill="none"/>
<path d="M466.2 334.5l-0.0 0.0" stroke="#84582a" stroke-width="4.9" stroke-linecap="round" fill="none"/>
<path d="M510.0 310.3l-0.2 0.2" stroke="#8e5e2c" stroke-width="4.9" stroke-linecap="round" fill="none"/>
<path d="M496.3 307.3l0.1 0.1" stroke="#84582a" stroke-width="5.1" stroke-linecap="round" fill="none"/>
</g>
<rect x="433.40" y="309.50" width="76.70" height="43.20" fill="none" stroke="#333" stroke-width="0.9"/>
<line x1="436.00" y1="349.10" x2="454.00" y2="349.10" stroke="#111" stroke-width="1.3"/>
<text x="436.00" y="346.60" font-size="6.8" fill="#111" text-anchor="start">20 μm</text>
<text x="11.00" y="395.00" font-size="16.5" fill="#111" text-anchor="start">D</text>
<text transform="translate(20.50 426.50) rotate(-90) scale(0.95 1)" font-size="10.5" fill="#111" text-anchor="middle">Gene exp</text>
<text transform="translate(33.20 429.00) rotate(-90) scale(0.95 1)" font-size="10.5" fill="#111" text-anchor="middle">Z-score</text>
<rect x="55.70" y="411.00" width="5.00" height="1.05" fill="#963228" stroke="none" stroke-width="1"/>
<rect x="55.70" y="412.00" width="5.00" height="1.05" fill="#9c382c" stroke="none" stroke-width="1"/>
<rect x="55.70" y="413.00" width="5.00" height="1.05" fill="#a23f30" stroke="none" stroke-width="1"/>
<rect x="55.70" y="414.00" width="5.00" height="1.05" fill="#a84635" stroke="none" stroke-width="1"/>
<rect x="55.70" y="415.00" width="5.00" height="1.05" fill="#ae4c39" stroke="none" stroke-width="1"/>
<rect x="55.70" y="416.00" width="5.00" height="1.05" fill="#b5533e" stroke="none" stroke-width="1"/>
<rect x="55.70" y="417.00" width="5.00" height="1.05" fill="#bb5a42" stroke="none" stroke-width="1"/>
<rect x="55.70" y="418.00" width="5.00" height="1.05" fill="#c16047" stroke="none" stroke-width="1"/>
<rect x="55.70" y="419.00" width="5.00" height="1.05" fill="#c7674b" stroke="none" stroke-width="1"/>
<rect x="55.70" y="420.00" width="5.00" height="1.05" fill="#ce6e50" stroke="none" stroke-width="1"/>
<rect x="55.70" y="421.00" width="5.00" height="1.05" fill="#d07455" stroke="none" stroke-width="1"/>
<rect x="55.70" y="422.00" width="5.00" height="1.05" fill="#d37b5b" stroke="none" stroke-width="1"/>
<rect x="55.70" y="423.00" width="5.00" height="1.05" fill="#d68260" stroke="none" stroke-width="1"/>
<rect x="55.70" y="424.00" width="5.00" height="1.05" fill="#d98866" stroke="none" stroke-width="1"/>
<rect x="55.70" y="425.00" width="5.00" height="1.05" fill="#dc8f6b" stroke="none" stroke-width="1"/>
<rect x="55.70" y="426.00" width="5.00" height="1.05" fill="#df9671" stroke="none" stroke-width="1"/>
<rect x="55.70" y="427.00" width="5.00" height="1.05" fill="#e29c76" stroke="none" stroke-width="1"/>
<rect x="55.70" y="428.00" width="5.00" height="1.05" fill="#e5a37c" stroke="none" stroke-width="1"/>
<rect x="55.70" y="429.00" width="5.00" height="1.05" fill="#e8aa82" stroke="none" stroke-width="1"/>
<rect x="55.70" y="430.00" width="5.00" height="1.05" fill="#e9ae87" stroke="none" stroke-width="1"/>
<rect x="55.70" y="431.00" width="5.00" height="1.05" fill="#eab38d" stroke="none" stroke-width="1"/>
<rect x="55.70" y="432.00" width="5.00" height="1.05" fill="#ecb892" stroke="none" stroke-width="1"/>
<rect x="55.70" y="433.00" width="5.00" height="1.05" fill="#edbd98" stroke="none" stroke-width="1"/>
<rect x="55.70" y="434.00" width="5.00" height="1.05" fill="#eec29d" stroke="none" stroke-width="1"/>
<rect x="55.70" y="435.00" width="5.00" height="1.05" fill="#f0c7a3" stroke="none" stroke-width="1"/>
<rect x="55.70" y="436.00" width="5.00" height="1.05" fill="#f1cca8" stroke="none" stroke-width="1"/>
<rect x="55.70" y="437.00" width="5.00" height="1.05" fill="#f2d1ae" stroke="none" stroke-width="1"/>
<rect x="55.70" y="438.00" width="5.00" height="1.05" fill="#f4d6b4" stroke="none" stroke-width="1"/>
<rect x="55.70" y="439.00" width="5.00" height="1.05" fill="#f4d9b9" stroke="none" stroke-width="1"/>
<rect x="55.70" y="440.00" width="5.00" height="1.05" fill="#f5dcbf" stroke="none" stroke-width="1"/>
<rect x="55.70" y="441.00" width="5.00" height="1.05" fill="#f6dfc5" stroke="none" stroke-width="1"/>
<rect x="55.70" y="442.00" width="5.00" height="1.05" fill="#f7e2cb" stroke="none" stroke-width="1"/>
<rect x="55.70" y="443.00" width="5.00" height="1.05" fill="#f8e5d0" stroke="none" stroke-width="1"/>
<rect x="55.70" y="444.00" width="5.00" height="1.05" fill="#f9e8d6" stroke="none" stroke-width="1"/>
<rect x="55.70" y="445.00" width="5.00" height="1.05" fill="#faebdc" stroke="none" stroke-width="1"/>
<rect x="55.70" y="446.00" width="5.00" height="1.05" fill="#fbeee2" stroke="none" stroke-width="1"/>
<rect x="55.70" y="447.00" width="5.00" height="1.05" fill="#fcf2e8" stroke="none" stroke-width="1"/>
<text x="52.50" y="415.00" font-size="6" fill="#333" text-anchor="end">2</text>
<text x="52.50" y="423.20" font-size="6" fill="#333" text-anchor="end">1</text>
<text x="52.50" y="431.40" font-size="6" fill="#333" text-anchor="end">0</text>
<text x="52.50" y="439.60" font-size="6" fill="#333" text-anchor="end">−1</text>
<text x="52.50" y="447.80" font-size="6" fill="#333" text-anchor="end">−2</text>
<rect x="65.80" y="406.20" width="9.27" height="8.70" fill="#ac4a38" stroke="none" stroke-width="1"/>
<rect x="74.97" y="406.20" width="9.27" height="8.70" fill="#ac4a38" stroke="none" stroke-width="1"/>
<rect x="84.14" y="406.20" width="9.27" height="8.70" fill="#ac4a38" stroke="none" stroke-width="1"/>
<rect x="93.31" y="406.20" width="9.27" height="8.70" fill="#b2503c" stroke="none" stroke-width="1"/>
<rect x="102.49" y="406.20" width="9.27" height="8.70" fill="#eab28c" stroke="none" stroke-width="1"/>
<rect x="111.66" y="406.20" width="9.27" height="8.70" fill="#d88664" stroke="none" stroke-width="1"/>
<rect x="120.83" y="406.20" width="9.27" height="8.70" fill="#d07455" stroke="none" stroke-width="1"/>
<rect x="65.80" y="418.20" width="9.27" height="3.26" fill="#e4a27c" stroke="none" stroke-width="1"/>
<rect x="74.97" y="418.20" width="9.27" height="3.26" fill="#da8a67" stroke="none" stroke-width="1"/>
<rect x="84.14" y="418.20" width="9.27" height="3.26" fill="#d57f5e" stroke="none" stroke-width="1"/>
<rect x="93.31" y="418.20" width="9.27" height="3.26" fill="#c26147" stroke="none" stroke-width="1"/>
<rect x="102.49" y="418.20" width="9.27" height="3.26" fill="#da8b68" stroke="none" stroke-width="1"/>
<rect x="111.66" y="418.20" width="9.27" height="3.26" fill="#c6654a" stroke="none" stroke-width="1"/>
<rect x="120.83" y="418.20" width="9.27" height="3.26" fill="#fbefe2" stroke="none" stroke-width="1"/>
<rect x="65.80" y="421.36" width="9.27" height="3.26" fill="#edbc96" stroke="none" stroke-width="1"/>
<rect x="74.97" y="421.36" width="9.27" height="3.26" fill="#c26147" stroke="none" stroke-width="1"/>
<rect x="84.14" y="421.36" width="9.27" height="3.26" fill="#e29d77" stroke="none" stroke-width="1"/>
<rect x="93.31" y="421.36" width="9.27" height="3.26" fill="#ca6a4d" stroke="none" stroke-width="1"/>
<rect x="102.49" y="421.36" width="9.27" height="3.26" fill="#f8e7d3" stroke="none" stroke-width="1"/>
<rect x="111.66" y="421.36" width="9.27" height="3.26" fill="#ecbb96" stroke="none" stroke-width="1"/>
<rect x="120.83" y="421.36" width="9.27" height="3.26" fill="#f5dabc" stroke="none" stroke-width="1"/>
<rect x="65.80" y="424.52" width="9.27" height="3.26" fill="#e9b089" stroke="none" stroke-width="1"/>
<rect x="74.97" y="424.52" width="9.27" height="3.26" fill="#e8ac84" stroke="none" stroke-width="1"/>
<rect x="84.14" y="424.52" width="9.27" height="3.26" fill="#fbf0e5" stroke="none" stroke-width="1"/>
<rect x="93.31" y="424.52" width="9.27" height="3.26" fill="#f6ddc1" stroke="none" stroke-width="1"/>
<rect x="102.49" y="424.52" width="9.27" height="3.26" fill="#f4d7b6" stroke="none" stroke-width="1"/>
<rect x="111.66" y="424.52" width="9.27" height="3.26" fill="#c7674b" stroke="none" stroke-width="1"/>
<rect x="120.83" y="424.52" width="9.27" height="3.26" fill="#d88563" stroke="none" stroke-width="1"/>
<rect x="65.80" y="427.69" width="9.27" height="3.26" fill="#f7e2cb" stroke="none" stroke-width="1"/>
<rect x="74.97" y="427.69" width="9.27" height="3.26" fill="#d57f5e" stroke="none" stroke-width="1"/>
<rect x="84.14" y="427.69" width="9.27" height="3.26" fill="#f8e4cf" stroke="none" stroke-width="1"/>
<rect x="93.31" y="427.69" width="9.27" height="3.26" fill="#e5a47d" stroke="none" stroke-width="1"/>
<rect x="102.49" y="427.69" width="9.27" height="3.26" fill="#f8e5d1" stroke="none" stroke-width="1"/>
<rect x="111.66" y="427.69" width="9.27" height="3.26" fill="#fbf1e7" stroke="none" stroke-width="1"/>
<rect x="120.83" y="427.69" width="9.27" height="3.26" fill="#ce7051" stroke="none" stroke-width="1"/>
<rect x="65.80" y="430.85" width="9.27" height="3.26" fill="#f6dec2" stroke="none" stroke-width="1"/>
<rect x="74.97" y="430.85" width="9.27" height="3.26" fill="#f6ddc1" stroke="none" stroke-width="1"/>
<rect x="84.14" y="430.85" width="9.27" height="3.26" fill="#ba5942" stroke="none" stroke-width="1"/>
<rect x="93.31" y="430.85" width="9.27" height="3.26" fill="#ce7051" stroke="none" stroke-width="1"/>
<rect x="102.49" y="430.85" width="9.27" height="3.26" fill="#f4d6b4" stroke="none" stroke-width="1"/>
<rect x="111.66" y="430.85" width="9.27" height="3.26" fill="#be5d45" stroke="none" stroke-width="1"/>
<rect x="120.83" y="430.85" width="9.27" height="3.26" fill="#e9b18a" stroke="none" stroke-width="1"/>
<rect x="65.80" y="434.01" width="9.27" height="3.26" fill="#e09772" stroke="none" stroke-width="1"/>
<rect x="74.97" y="434.01" width="9.27" height="3.26" fill="#f6dec3" stroke="none" stroke-width="1"/>
<rect x="84.14" y="434.01" width="9.27" height="3.26" fill="#c26248" stroke="none" stroke-width="1"/>
<rect x="93.31" y="434.01" width="9.27" height="3.26" fill="#de9570" stroke="none" stroke-width="1"/>
<rect x="102.49" y="434.01" width="9.27" height="3.26" fill="#bd5c44" stroke="none" stroke-width="1"/>
<rect x="111.66" y="434.01" width="9.27" height="3.26" fill="#cb6b4e" stroke="none" stroke-width="1"/>
<rect x="120.83" y="434.01" width="9.27" height="3.26" fill="#f3d5b3" stroke="none" stroke-width="1"/>
<rect x="65.80" y="437.18" width="9.27" height="3.26" fill="#f1cba8" stroke="none" stroke-width="1"/>
<rect x="74.97" y="437.18" width="9.27" height="3.26" fill="#f7e2ca" stroke="none" stroke-width="1"/>
<rect x="84.14" y="437.18" width="9.27" height="3.26" fill="#f8e4ce" stroke="none" stroke-width="1"/>
<rect x="93.31" y="437.18" width="9.27" height="3.26" fill="#faebdc" stroke="none" stroke-width="1"/>
<rect x="102.49" y="437.18" width="9.27" height="3.26" fill="#f3d4b2" stroke="none" stroke-width="1"/>
<rect x="111.66" y="437.18" width="9.27" height="3.26" fill="#e6a67f" stroke="none" stroke-width="1"/>
<rect x="120.83" y="437.18" width="9.27" height="3.26" fill="#fbf1e7" stroke="none" stroke-width="1"/>
<rect x="65.80" y="440.34" width="9.27" height="3.26" fill="#e09772" stroke="none" stroke-width="1"/>
<rect x="74.97" y="440.34" width="9.27" height="3.26" fill="#f2cfac" stroke="none" stroke-width="1"/>
<rect x="84.14" y="440.34" width="9.27" height="3.26" fill="#f3d3b1" stroke="none" stroke-width="1"/>
<rect x="93.31" y="440.34" width="9.27" height="3.26" fill="#d37b5a" stroke="none" stroke-width="1"/>
<rect x="102.49" y="440.34" width="9.27" height="3.26" fill="#ecba94" stroke="none" stroke-width="1"/>
<rect x="111.66" y="440.34" width="9.27" height="3.26" fill="#f3d2b0" stroke="none" stroke-width="1"/>
<rect x="120.83" y="440.34" width="9.27" height="3.26" fill="#ecba94" stroke="none" stroke-width="1"/>
<rect x="65.80" y="406.20" width="64.20" height="8.70" fill="none" stroke="#222" stroke-width="0.9"/>
<rect x="65.80" y="418.20" width="64.20" height="25.30" fill="none" stroke="#222" stroke-width="0.9"/>
<rect x="134.20" y="406.20" width="9.23" height="8.70" fill="#e0a080" stroke="none" stroke-width="1"/>
<rect x="143.33" y="406.20" width="9.23" height="8.70" fill="#b85848" stroke="none" stroke-width="1"/>
<rect x="152.45" y="406.20" width="9.23" height="8.70" fill="#e8b090" stroke="none" stroke-width="1"/>
<rect x="161.58" y="406.20" width="9.23" height="8.70" fill="#eec0a0" stroke="none" stroke-width="1"/>
<rect x="170.71" y="406.20" width="9.23" height="8.70" fill="#c06050" stroke="none" stroke-width="1"/>
<rect x="179.84" y="406.20" width="9.23" height="8.70" fill="#f8e0d0" stroke="none" stroke-width="1"/>
<rect x="188.96" y="406.20" width="9.23" height="8.70" fill="#f0c8a8" stroke="none" stroke-width="1"/>
<rect x="198.09" y="406.20" width="9.23" height="8.70" fill="#c86050" stroke="none" stroke-width="1"/>
<rect x="207.22" y="406.20" width="9.23" height="8.70" fill="#b85050" stroke="none" stroke-width="1"/>
<rect x="216.35" y="406.20" width="9.23" height="8.70" fill="#d88870" stroke="none" stroke-width="1"/>
<rect x="225.47" y="406.20" width="9.23" height="8.70" fill="#f4d0b0" stroke="none" stroke-width="1"/>
<rect x="134.20" y="418.20" width="9.23" height="3.26" fill="#d17757" stroke="none" stroke-width="1"/>
<rect x="143.33" y="418.20" width="9.23" height="3.26" fill="#f9e8d7" stroke="none" stroke-width="1"/>
<rect x="152.45" y="418.20" width="9.23" height="3.26" fill="#9b372b" stroke="none" stroke-width="1"/>
<rect x="161.58" y="418.20" width="9.23" height="3.26" fill="#faecde" stroke="none" stroke-width="1"/>
<rect x="170.71" y="418.20" width="9.23" height="3.26" fill="#cc6c4f" stroke="none" stroke-width="1"/>
<rect x="179.84" y="418.20" width="9.23" height="3.26" fill="#b75640" stroke="none" stroke-width="1"/>
<rect x="188.96" y="418.20" width="9.23" height="3.26" fill="#faeddf" stroke="none" stroke-width="1"/>
<rect x="198.09" y="418.20" width="9.23" height="3.26" fill="#c46349" stroke="none" stroke-width="1"/>
<rect x="207.22" y="418.20" width="9.23" height="3.26" fill="#edbe99" stroke="none" stroke-width="1"/>
<rect x="216.35" y="418.20" width="9.23" height="3.26" fill="#de9470" stroke="none" stroke-width="1"/>
<rect x="225.47" y="418.20" width="9.23" height="3.26" fill="#faeee0" stroke="none" stroke-width="1"/>
<rect x="134.20" y="421.36" width="9.23" height="3.26" fill="#f9ead9" stroke="none" stroke-width="1"/>
<rect x="143.33" y="421.36" width="9.23" height="3.26" fill="#f5dbbe" stroke="none" stroke-width="1"/>
<rect x="152.45" y="421.36" width="9.23" height="3.26" fill="#9f3c2e" stroke="none" stroke-width="1"/>
<rect x="161.58" y="421.36" width="9.23" height="3.26" fill="#f5d9ba" stroke="none" stroke-width="1"/>
<rect x="170.71" y="421.36" width="9.23" height="3.26" fill="#cb6b4e" stroke="none" stroke-width="1"/>
<rect x="179.84" y="421.36" width="9.23" height="3.26" fill="#a54232" stroke="none" stroke-width="1"/>
<rect x="188.96" y="421.36" width="9.23" height="3.26" fill="#a23f31" stroke="none" stroke-width="1"/>
<rect x="198.09" y="421.36" width="9.23" height="3.26" fill="#eec29d" stroke="none" stroke-width="1"/>
<rect x="207.22" y="421.36" width="9.23" height="3.26" fill="#eec09b" stroke="none" stroke-width="1"/>
<rect x="216.35" y="421.36" width="9.23" height="3.26" fill="#e4a17a" stroke="none" stroke-width="1"/>
<rect x="225.47" y="421.36" width="9.23" height="3.26" fill="#c7664b" stroke="none" stroke-width="1"/>
<rect x="134.20" y="424.52" width="9.23" height="3.26" fill="#f7e3cc" stroke="none" stroke-width="1"/>
<rect x="143.33" y="424.52" width="9.23" height="3.26" fill="#cc6c4f" stroke="none" stroke-width="1"/>
<rect x="152.45" y="424.52" width="9.23" height="3.26" fill="#c26147" stroke="none" stroke-width="1"/>
<rect x="161.58" y="424.52" width="9.23" height="3.26" fill="#b4523d" stroke="none" stroke-width="1"/>
<rect x="170.71" y="424.52" width="9.23" height="3.26" fill="#faebdb" stroke="none" stroke-width="1"/>
<rect x="179.84" y="424.52" width="9.23" height="3.26" fill="#a13e30" stroke="none" stroke-width="1"/>
<rect x="188.96" y="424.52" width="9.23" height="3.26" fill="#f8e5d0" stroke="none" stroke-width="1"/>
<rect x="198.09" y="424.52" width="9.23" height="3.26" fill="#eec39e" stroke="none" stroke-width="1"/>
<rect x="207.22" y="424.52" width="9.23" height="3.26" fill="#db8d69" stroke="none" stroke-width="1"/>
<rect x="216.35" y="424.52" width="9.23" height="3.26" fill="#a74534" stroke="none" stroke-width="1"/>
<rect x="225.47" y="424.52" width="9.23" height="3.26" fill="#eec39e" stroke="none" stroke-width="1"/>
<rect x="134.20" y="427.69" width="9.23" height="3.26" fill="#a64333" stroke="none" stroke-width="1"/>
<rect x="143.33" y="427.69" width="9.23" height="3.26" fill="#e29c76" stroke="none" stroke-width="1"/>
<rect x="152.45" y="427.69" width="9.23" height="3.26" fill="#f0c7a4" stroke="none" stroke-width="1"/>
<rect x="161.58" y="427.69" width="9.23" height="3.26" fill="#efc7a3" stroke="none" stroke-width="1"/>
<rect x="170.71" y="427.69" width="9.23" height="3.26" fill="#f5dbbe" stroke="none" stroke-width="1"/>
<rect x="179.84" y="427.69" width="9.23" height="3.26" fill="#f8e6d2" stroke="none" stroke-width="1"/>
<rect x="188.96" y="427.69" width="9.23" height="3.26" fill="#f6dec4" stroke="none" stroke-width="1"/>
<rect x="198.09" y="427.69" width="9.23" height="3.26" fill="#d37a5a" stroke="none" stroke-width="1"/>
<rect x="207.22" y="427.69" width="9.23" height="3.26" fill="#963228" stroke="none" stroke-width="1"/>
<rect x="216.35" y="427.69" width="9.23" height="3.26" fill="#f6ddc2" stroke="none" stroke-width="1"/>
<rect x="225.47" y="427.69" width="9.23" height="3.26" fill="#f9e9d8" stroke="none" stroke-width="1"/>
<rect x="134.20" y="430.85" width="9.23" height="3.26" fill="#98352a" stroke="none" stroke-width="1"/>
<rect x="143.33" y="430.85" width="9.23" height="3.26" fill="#e39f78" stroke="none" stroke-width="1"/>
<rect x="152.45" y="430.85" width="9.23" height="3.26" fill="#ebb791" stroke="none" stroke-width="1"/>
<rect x="161.58" y="430.85" width="9.23" height="3.26" fill="#f3d4b2" stroke="none" stroke-width="1"/>
<rect x="170.71" y="430.85" width="9.23" height="3.26" fill="#dd916d" stroke="none" stroke-width="1"/>
<rect x="179.84" y="430.85" width="9.23" height="3.26" fill="#bb5a43" stroke="none" stroke-width="1"/>
<rect x="188.96" y="430.85" width="9.23" height="3.26" fill="#e9af88" stroke="none" stroke-width="1"/>
<rect x="198.09" y="430.85" width="9.23" height="3.26" fill="#ebb58e" stroke="none" stroke-width="1"/>
<rect x="207.22" y="430.85" width="9.23" height="3.26" fill="#f9e9d7" stroke="none" stroke-width="1"/>
<rect x="216.35" y="430.85" width="9.23" height="3.26" fill="#a84535" stroke="none" stroke-width="1"/>
<rect x="225.47" y="430.85" width="9.23" height="3.26" fill="#faebdc" stroke="none" stroke-width="1"/>
<rect x="134.20" y="434.01" width="9.23" height="3.26" fill="#e7a880" stroke="none" stroke-width="1"/>
<rect x="143.33" y="434.01" width="9.23" height="3.26" fill="#b95741" stroke="none" stroke-width="1"/>
<rect x="152.45" y="434.01" width="9.23" height="3.26" fill="#f7e0c8" stroke="none" stroke-width="1"/>
<rect x="161.58" y="434.01" width="9.23" height="3.26" fill="#cf7052" stroke="none" stroke-width="1"/>
<rect x="170.71" y="434.01" width="9.23" height="3.26" fill="#a03d2f" stroke="none" stroke-width="1"/>
<rect x="179.84" y="434.01" width="9.23" height="3.26" fill="#d98866" stroke="none" stroke-width="1"/>
<rect x="188.96" y="434.01" width="9.23" height="3.26" fill="#c46349" stroke="none" stroke-width="1"/>
<rect x="198.09" y="434.01" width="9.23" height="3.26" fill="#f7e3cd" stroke="none" stroke-width="1"/>
<rect x="207.22" y="434.01" width="9.23" height="3.26" fill="#eab38c" stroke="none" stroke-width="1"/>
<rect x="216.35" y="434.01" width="9.23" height="3.26" fill="#f6dec4" stroke="none" stroke-width="1"/>
<rect x="225.47" y="434.01" width="9.23" height="3.26" fill="#b75640" stroke="none" stroke-width="1"/>
<rect x="134.20" y="437.18" width="9.23" height="3.26" fill="#f1cba7" stroke="none" stroke-width="1"/>
<rect x="143.33" y="437.18" width="9.23" height="3.26" fill="#e9af88" stroke="none" stroke-width="1"/>
<rect x="152.45" y="437.18" width="9.23" height="3.26" fill="#963228" stroke="none" stroke-width="1"/>
<rect x="161.58" y="437.18" width="9.23" height="3.26" fill="#b6543f" stroke="none" stroke-width="1"/>
<rect x="170.71" y="437.18" width="9.23" height="3.26" fill="#9b372b" stroke="none" stroke-width="1"/>
<rect x="179.84" y="437.18" width="9.23" height="3.26" fill="#e9af88" stroke="none" stroke-width="1"/>
<rect x="188.96" y="437.18" width="9.23" height="3.26" fill="#e7a981" stroke="none" stroke-width="1"/>
<rect x="198.09" y="437.18" width="9.23" height="3.26" fill="#cf7152" stroke="none" stroke-width="1"/>
<rect x="207.22" y="437.18" width="9.23" height="3.26" fill="#e8ab83" stroke="none" stroke-width="1"/>
<rect x="216.35" y="437.18" width="9.23" height="3.26" fill="#f1cba8" stroke="none" stroke-width="1"/>
<rect x="225.47" y="437.18" width="9.23" height="3.26" fill="#ebb892" stroke="none" stroke-width="1"/>
<rect x="134.20" y="440.34" width="9.23" height="3.26" fill="#f6dfc5" stroke="none" stroke-width="1"/>
<rect x="143.33" y="440.34" width="9.23" height="3.26" fill="#edbc97" stroke="none" stroke-width="1"/>
<rect x="152.45" y="440.34" width="9.23" height="3.26" fill="#983429" stroke="none" stroke-width="1"/>
<rect x="161.58" y="440.34" width="9.23" height="3.26" fill="#9e3b2e" stroke="none" stroke-width="1"/>
<rect x="170.71" y="440.34" width="9.23" height="3.26" fill="#d98966" stroke="none" stroke-width="1"/>
<rect x="179.84" y="440.34" width="9.23" height="3.26" fill="#e6a77f" stroke="none" stroke-width="1"/>
<rect x="188.96" y="440.34" width="9.23" height="3.26" fill="#eec39e" stroke="none" stroke-width="1"/>
<rect x="198.09" y="440.34" width="9.23" height="3.26" fill="#f8e5d0" stroke="none" stroke-width="1"/>
<rect x="207.22" y="440.34" width="9.23" height="3.26" fill="#f2ceab" stroke="none" stroke-width="1"/>
<rect x="216.35" y="440.34" width="9.23" height="3.26" fill="#c5654a" stroke="none" stroke-width="1"/>
<rect x="225.47" y="440.34" width="9.23" height="3.26" fill="#b2513c" stroke="none" stroke-width="1"/>
<rect x="134.20" y="406.20" width="100.40" height="8.70" fill="none" stroke="#222" stroke-width="0.9"/>
<rect x="134.20" y="418.20" width="100.40" height="25.30" fill="none" stroke="#222" stroke-width="0.9"/>
<text transform="translate(68.69 402.50) rotate(-48) scale(0.9 1)" font-size="7.8" fill="#111" text-anchor="start">Itpkb</text>
<text transform="translate(77.86 402.50) rotate(-48) scale(0.9 1)" font-size="7.8" fill="#111" text-anchor="start">Bcl6</text>
<text transform="translate(87.03 402.50) rotate(-48) scale(0.9 1)" font-size="7.8" fill="#111" text-anchor="start">Mybl1</text>
<text transform="translate(96.20 402.50) rotate(-48) scale(0.9 1)" font-size="7.8" fill="#111" text-anchor="start">Dennd3</text>
<text transform="translate(105.37 402.50) rotate(-48) scale(0.9 1)" font-size="7.8" fill="#111" text-anchor="start">Nek6</text>
<text transform="translate(114.54 402.50) rotate(-48) scale(0.9 1)" font-size="7.8" fill="#111" text-anchor="start">Lmo2</text>
<text transform="translate(123.71 402.50) rotate(-48) scale(0.9 1)" font-size="7.8" fill="#111" text-anchor="start">Lmp</text>
<text transform="translate(137.06 402.50) rotate(-48) scale(0.9 1)" font-size="7.8" fill="#4e9444" text-anchor="start">Sh3bp5</text>
<text transform="translate(146.19 402.50) rotate(-48) scale(0.9 1)" font-size="7.8" fill="#4e9444" text-anchor="start">Irf4</text>
<text transform="translate(155.32 402.50) rotate(-48) scale(0.9 1)" font-size="7.8" fill="#4e9444" text-anchor="start">Pim1</text>
<text transform="translate(164.45 402.50) rotate(-48) scale(0.9 1)" font-size="7.8" fill="#4e9444" text-anchor="start">Entpd1</text>
<text transform="translate(173.57 402.50) rotate(-48) scale(0.9 1)" font-size="7.8" fill="#4e9444" text-anchor="start">Blnk</text>
<text transform="translate(182.70 402.50) rotate(-48) scale(0.9 1)" font-size="7.8" fill="#4e9444" text-anchor="start">Ccnd2</text>
<text transform="translate(191.83 402.50) rotate(-48) scale(0.9 1)" font-size="7.8" fill="#4e9444" text-anchor="start">Etv6</text>
<text transform="translate(200.95 402.50) rotate(-48) scale(0.9 1)" font-size="7.8" fill="#4e9444" text-anchor="start">Fut8</text>
<text transform="translate(210.08 402.50) rotate(-48) scale(0.9 1)" font-size="7.8" fill="#4e9444" text-anchor="start">Bmf</text>
<text transform="translate(219.21 402.50) rotate(-48) scale(0.9 1)" font-size="7.8" fill="#4e9444" text-anchor="start">Il16</text>
<text transform="translate(228.34 402.50) rotate(-48) scale(0.9 1)" font-size="7.8" fill="#4e9444" text-anchor="start">Ptpn1</text>
<rect x="66.00" y="447.50" width="63.50" height="10.50" fill="#ececea" stroke="#333" stroke-width="0.8"/>
<text x="97.70" y="455.50" font-size="7" fill="#222" text-anchor="middle">GCB genes</text>
<rect x="134.20" y="447.30" width="100.40" height="10.70" fill="#5f9d5a" stroke="none" stroke-width="1"/>
<text x="184.40" y="455.50" font-size="7" fill="#fff" text-anchor="middle">ABC genes</text>
<line x1="236.00" y1="418.00" x2="236.00" y2="443.00" stroke="#222" stroke-width="0.8"/>
<line x1="236.00" y1="406.50" x2="236.00" y2="415.00" stroke="#222" stroke-width="0.8"/>
<text transform="translate(242.00 413.00) scale(0.92 1)" font-size="7.4" fill="#222" text-anchor="start">YC</text>
<text transform="translate(240.00 426.30) scale(0.92 1)" font-size="7.4" fill="#222" text-anchor="start">BIC</text>
<text transform="translate(238.80 435.60) scale(0.92 1)" font-size="7.4" fill="#222" text-anchor="start">pBIC</text>
<rect x="261.50" y="406.20" width="25.50" height="8.70" fill="#ececea" stroke="#333" stroke-width="0.8"/>
<text x="274.20" y="413.00" font-size="6.4" fill="#222" text-anchor="middle">GCB</text>
<rect x="261.50" y="418.50" width="25.50" height="25.00" fill="#5f9d5a" stroke="#333" stroke-width="0.6"/>
<rect x="262.00" y="428.00" width="24.50" height="6.00" fill="#9ccc94" stroke="none" stroke-width="1" fill-opacity="0.5"/>
<text x="274.20" y="433.50" font-size="6.4" fill="#fff" text-anchor="middle">ABC</text>
<text transform="translate(267.00 398.50) rotate(-58) scale(0.88 1)" font-size="7.4" fill="#222" text-anchor="start">RNAseq</text>
<text transform="translate(274.50 400.50) rotate(-58) scale(0.88 1)" font-size="7.4" fill="#222" text-anchor="start">subtype</text>
<text transform="translate(282.50 401.50) rotate(-58) scale(0.88 1)" font-size="7.4" fill="#222" text-anchor="start">score</text>
<text transform="translate(35.50 519.00) rotate(-90) scale(0.95 1)" font-size="10.5" fill="#111" text-anchor="middle">Relative expression</text>
<line x1="60.60" y1="484.70" x2="60.60" y2="555.10" stroke="#111" stroke-width="1.5"/>
<line x1="56.60" y1="554.40" x2="94.50" y2="554.40" stroke="#111" stroke-width="1.5"/>
<line x1="56.60" y1="554.40" x2="60.60" y2="554.40" stroke="#111" stroke-width="1.1"/>
<text transform="translate(52.60 557.00) scale(0.95 1)" font-size="7.4" fill="#333" text-anchor="end">0</text>
<line x1="56.60" y1="538.05" x2="60.60" y2="538.05" stroke="#111" stroke-width="1.1"/>
<text transform="translate(52.60 540.65) scale(0.95 1)" font-size="7.4" fill="#333" text-anchor="end">10</text>
<line x1="56.60" y1="521.70" x2="60.60" y2="521.70" stroke="#111" stroke-width="1.1"/>
<text transform="translate(52.60 524.30) scale(0.95 1)" font-size="7.4" fill="#333" text-anchor="end">20</text>
<line x1="56.60" y1="505.35" x2="60.60" y2="505.35" stroke="#111" stroke-width="1.1"/>
<text transform="translate(52.60 507.95) scale(0.95 1)" font-size="7.4" fill="#333" text-anchor="end">30</text>
<line x1="56.60" y1="489.00" x2="60.60" y2="489.00" stroke="#111" stroke-width="1.1"/>
<text transform="translate(52.60 491.60) scale(0.95 1)" font-size="7.4" fill="#333" text-anchor="end">40</text>
<line x1="68.30" y1="551.20" x2="68.30" y2="548.40" stroke="#555" stroke-width="0.9"/>
<line x1="66.30" y1="548.40" x2="70.30" y2="548.40" stroke="#555" stroke-width="0.9"/>
<rect x="64.50" y="551.20" width="7.60" height="3.20" fill="#f8dcbc" stroke="#444" stroke-width="0.9"/>
<line x1="78.10" y1="520.40" x2="78.10" y2="501.30" stroke="#555" stroke-width="0.9"/>
<line x1="76.10" y1="501.30" x2="80.10" y2="501.30" stroke="#555" stroke-width="0.9"/>
<rect x="74.40" y="520.40" width="7.40" height="34.00" fill="#d0c8dc" stroke="#444" stroke-width="0.9"/>
<line x1="87.15" y1="513.20" x2="87.15" y2="497.50" stroke="#555" stroke-width="0.9"/>
<line x1="85.15" y1="497.50" x2="89.15" y2="497.50" stroke="#555" stroke-width="0.9"/>
<rect x="83.30" y="513.20" width="7.70" height="41.20" fill="#d8b4c0" stroke="#444" stroke-width="0.9"/>
<line x1="68.30" y1="554.40" x2="68.30" y2="559.30" stroke="#111" stroke-width="1.1"/>
<text transform="translate(70.80 562.50) rotate(-50) scale(0.92 1)" font-size="7.4" fill="#222" text-anchor="end">GC</text>
<line x1="78.10" y1="554.40" x2="78.10" y2="559.30" stroke="#111" stroke-width="1.1"/>
<text transform="translate(80.60 562.50) rotate(-50) scale(0.92 1)" font-size="7.4" fill="#222" text-anchor="end">BIC</text>
<line x1="87.10" y1="554.40" x2="87.10" y2="559.30" stroke="#111" stroke-width="1.1"/>
<text transform="translate(89.60 562.50) rotate(-50) scale(0.92 1)" font-size="7.4" fill="#222" text-anchor="end">pBIC</text>
<text transform="translate(77.20 477.10) scale(0.92 1)" font-size="10.5" fill="#111" text-anchor="middle">Ikk2</text>
<line x1="124.00" y1="485.50" x2="124.00" y2="555.10" stroke="#111" stroke-width="1.5"/>
<line x1="120.00" y1="554.40" x2="156.50" y2="554.40" stroke="#111" stroke-width="1.5"/>
<line x1="120.00" y1="554.40" x2="124.00" y2="554.40" stroke="#111" stroke-width="1.1"/>
<text transform="translate(116.00 557.00) scale(0.95 1)" font-size="7.4" fill="#333" text-anchor="end">0</text>
<line x1="120.00" y1="538.32" x2="124.00" y2="538.32" stroke="#111" stroke-width="1.1"/>
<text transform="translate(116.00 540.92) scale(0.95 1)" font-size="7.4" fill="#333" text-anchor="end">0.5</text>
<line x1="120.00" y1="522.25" x2="124.00" y2="522.25" stroke="#111" stroke-width="1.1"/>
<text transform="translate(116.00 524.85) scale(0.95 1)" font-size="7.4" fill="#333" text-anchor="end">1.0</text>
<line x1="120.00" y1="506.17" x2="124.00" y2="506.17" stroke="#111" stroke-width="1.1"/>
<text transform="translate(116.00 508.77) scale(0.95 1)" font-size="7.4" fill="#333" text-anchor="end">1.5</text>
<line x1="120.00" y1="490.10" x2="124.00" y2="490.10" stroke="#111" stroke-width="1.1"/>
<text transform="translate(116.00 492.70) scale(0.95 1)" font-size="7.4" fill="#333" text-anchor="end">2.0</text>
<line x1="130.80" y1="517.50" x2="130.80" y2="504.40" stroke="#555" stroke-width="0.9"/>
<line x1="128.80" y1="504.40" x2="132.80" y2="504.40" stroke="#555" stroke-width="0.9"/>
<rect x="127.30" y="517.50" width="7.00" height="36.90" fill="#f8dcbc" stroke="#444" stroke-width="0.9"/>
<line x1="140.00" y1="510.10" x2="140.00" y2="493.50" stroke="#555" stroke-width="0.9"/>
<line x1="138.00" y1="493.50" x2="142.00" y2="493.50" stroke="#555" stroke-width="0.9"/>
<rect x="136.30" y="510.10" width="7.40" height="44.30" fill="#d0c8dc" stroke="#444" stroke-width="0.9"/>
<line x1="149.60" y1="536.10" x2="149.60" y2="525.60" stroke="#555" stroke-width="0.9"/>
<line x1="147.60" y1="525.60" x2="151.60" y2="525.60" stroke="#555" stroke-width="0.9"/>
<rect x="145.80" y="536.10" width="7.60" height="18.30" fill="#d8b4c0" stroke="#444" stroke-width="0.9"/>
<line x1="130.80" y1="554.40" x2="130.80" y2="559.30" stroke="#111" stroke-width="1.1"/>
<text transform="translate(133.30 562.50) rotate(-50) scale(0.92 1)" font-size="7.4" fill="#222" text-anchor="end">GC</text>
<line x1="140.00" y1="554.40" x2="140.00" y2="559.30" stroke="#111" stroke-width="1.1"/>
<text transform="translate(142.50 562.50) rotate(-50) scale(0.92 1)" font-size="7.4" fill="#222" text-anchor="end">BIC</text>
<line x1="149.60" y1="554.40" x2="149.60" y2="559.30" stroke="#111" stroke-width="1.1"/>
<text transform="translate(152.10 562.50) rotate(-50) scale(0.92 1)" font-size="7.4" fill="#222" text-anchor="end">pBIC</text>
<text transform="translate(140.20 478.30) scale(0.92 1)" font-size="10.5" fill="#111" text-anchor="middle">Irf4</text>
<line x1="188.40" y1="485.90" x2="188.40" y2="503.60" stroke="#111" stroke-width="1.5"/>
<line x1="188.40" y1="509.40" x2="188.40" y2="555.10" stroke="#111" stroke-width="1.5"/>
<line x1="183.50" y1="554.40" x2="229.00" y2="554.40" stroke="#111" stroke-width="1.5"/>
<line x1="184.40" y1="554.20" x2="188.40" y2="554.20" stroke="#111" stroke-width="1.1"/>
<text transform="translate(180.40 556.80) scale(0.95 1)" font-size="7.4" fill="#333" text-anchor="end">0</text>
<line x1="184.40" y1="539.70" x2="188.40" y2="539.70" stroke="#111" stroke-width="1.1"/>
<text transform="translate(180.40 542.30) scale(0.95 1)" font-size="7.4" fill="#333" text-anchor="end">1</text>
<line x1="184.40" y1="524.60" x2="188.40" y2="524.60" stroke="#111" stroke-width="1.1"/>
<text transform="translate(180.40 527.20) scale(0.95 1)" font-size="7.4" fill="#333" text-anchor="end">2</text>
<line x1="184.40" y1="509.40" x2="188.40" y2="509.40" stroke="#111" stroke-width="1.1"/>
<text transform="translate(180.40 512.00) scale(0.95 1)" font-size="7.4" fill="#333" text-anchor="end">3</text>
<line x1="184.40" y1="489.20" x2="188.40" y2="489.20" stroke="#111" stroke-width="1.0"/>
<line x1="184.40" y1="492.60" x2="188.40" y2="492.60" stroke="#111" stroke-width="1.0"/>
<line x1="184.40" y1="495.70" x2="188.40" y2="495.70" stroke="#111" stroke-width="1.0"/>
<line x1="184.40" y1="498.60" x2="188.40" y2="498.60" stroke="#111" stroke-width="1.0"/>
<line x1="184.40" y1="503.60" x2="188.40" y2="503.60" stroke="#111" stroke-width="1.0"/>
<text transform="translate(181.00 497.20) scale(0.95 1)" font-size="7.4" fill="#333" text-anchor="end">120</text>
<text transform="translate(181.00 506.40) scale(0.95 1)" font-size="7.4" fill="#333" text-anchor="end">100</text>
<rect x="191.50" y="495.70" width="7.80" height="58.70" fill="#c6c2c6" stroke="#555" stroke-width="1.0"/>
<rect x="190.00" y="504.60" width="11.00" height="3.80" fill="#fff" stroke="none" stroke-width="1"/>
<line x1="191.50" y1="504.60" x2="199.30" y2="504.60" stroke="#555" stroke-width="0.9"/>
<line x1="191.50" y1="508.40" x2="199.30" y2="508.40" stroke="#555" stroke-width="0.9"/>
<line x1="205.20" y1="539.70" x2="205.20" y2="535.70" stroke="#555" stroke-width="0.9"/>
<line x1="203.20" y1="535.70" x2="207.20" y2="535.70" stroke="#555" stroke-width="0.9"/>
<rect x="201.60" y="539.70" width="7.20" height="14.70" fill="#f8dcbc" stroke="#444" stroke-width="0.9"/>
<text x="213.70" y="549.50" font-size="7" fill="#333" text-anchor="middle">*</text>
<text x="223.80" y="549.50" font-size="7" fill="#333" text-anchor="middle">*</text>
<line x1="211.00" y1="553.80" x2="216.50" y2="553.80" stroke="#444" stroke-width="0.7"/>
<line x1="194.20" y1="554.40" x2="194.20" y2="559.30" stroke="#111" stroke-width="1.1"/>
<text transform="translate(196.70 562.50) rotate(-50) scale(0.92 1)" font-size="7.4" fill="#222" text-anchor="end">PC</text>
<line x1="204.70" y1="554.40" x2="204.70" y2="559.30" stroke="#111" stroke-width="1.1"/>
<text transform="translate(207.20 562.50) rotate(-50) scale(0.92 1)" font-size="7.4" fill="#222" text-anchor="end">GC</text>
<line x1="213.70" y1="554.40" x2="213.70" y2="559.30" stroke="#111" stroke-width="1.1"/>
<text transform="translate(216.20 562.50) rotate(-50) scale(0.92 1)" font-size="7.4" fill="#222" text-anchor="end">BIC</text>
<line x1="223.80" y1="554.40" x2="223.80" y2="559.30" stroke="#111" stroke-width="1.1"/>
<text transform="translate(226.30 562.50) rotate(-50) scale(0.92 1)" font-size="7.4" fill="#222" text-anchor="end">pBIC</text>
<text transform="translate(207.50 478.00) scale(0.92 1)" font-size="10.5" fill="#111" text-anchor="middle">Blimp1</text>
<line x1="257.80" y1="486.00" x2="257.80" y2="555.10" stroke="#111" stroke-width="1.5"/>
<line x1="253.80" y1="554.40" x2="290.80" y2="554.40" stroke="#111" stroke-width="1.5"/>
<line x1="253.80" y1="554.40" x2="257.80" y2="554.40" stroke="#111" stroke-width="1.1"/>
<text transform="translate(249.80 557.00) scale(0.95 1)" font-size="7.4" fill="#333" text-anchor="end">0</text>
<line x1="253.80" y1="532.93" x2="257.80" y2="532.93" stroke="#111" stroke-width="1.1"/>
<text transform="translate(249.80 535.53) scale(0.95 1)" font-size="7.4" fill="#333" text-anchor="end">0.5</text>
<line x1="253.80" y1="511.47" x2="257.80" y2="511.47" stroke="#111" stroke-width="1.1"/>
<text transform="translate(249.80 514.07) scale(0.95 1)" font-size="7.4" fill="#333" text-anchor="end">1.0</text>
<line x1="253.80" y1="490.00" x2="257.80" y2="490.00" stroke="#111" stroke-width="1.1"/>
<text transform="translate(249.80 492.60) scale(0.95 1)" font-size="7.4" fill="#333" text-anchor="end">1.5</text>
<line x1="265.25" y1="510.61" x2="265.25" y2="505.03" stroke="#555" stroke-width="0.9"/>
<line x1="263.25" y1="505.03" x2="267.25" y2="505.03" stroke="#555" stroke-width="0.9"/>
<rect x="261.50" y="510.61" width="7.50" height="43.79" fill="#f8dcbc" stroke="#444" stroke-width="0.9"/>
<text x="274.70" y="550.00" font-size="7" fill="#333" text-anchor="middle">**</text>
<text x="284.00" y="550.00" font-size="7" fill="#333" text-anchor="middle">**</text>
<line x1="271.50" y1="553.80" x2="278.00" y2="553.80" stroke="#444" stroke-width="0.7"/>
<line x1="281.00" y1="553.80" x2="287.50" y2="553.80" stroke="#444" stroke-width="0.7"/>
<line x1="265.20" y1="554.40" x2="265.20" y2="559.30" stroke="#111" stroke-width="1.1"/>
<text transform="translate(267.70 562.50) rotate(-50) scale(0.92 1)" font-size="7.4" fill="#222" text-anchor="end">GC</text>
<line x1="274.70" y1="554.40" x2="274.70" y2="559.30" stroke="#111" stroke-width="1.1"/>
<text transform="translate(277.20 562.50) rotate(-50) scale(0.92 1)" font-size="7.4" fill="#222" text-anchor="end">BIC</text>
<line x1="284.00" y1="554.40" x2="284.00" y2="559.30" stroke="#111" stroke-width="1.1"/>
<text transform="translate(286.50 562.50) rotate(-50) scale(0.92 1)" font-size="7.4" fill="#222" text-anchor="end">pBIC</text>
<text transform="translate(273.80 478.00) scale(0.92 1)" font-size="10.5" fill="#111" text-anchor="middle">Bcl6</text>
<text x="311.00" y="395.00" font-size="16.5" fill="#111" text-anchor="start">E</text>
<line x1="434.50" y1="406.40" x2="434.50" y2="552.70" stroke="#b0b0b0" stroke-width="1.0" stroke-dasharray="3,2.2"/>
<line x1="355.60" y1="473.50" x2="502.30" y2="473.50" stroke="#b0b0b0" stroke-width="1.0" stroke-dasharray="3,2.2"/>
<g clip-path="url(#ecl)">
<path d="M397.7 489.8h0M442.1 465.9h0M430.8 476.2h0M426.7 471.6h0M452.3 458.7h0M430.5 477.0h0M402.5 499.0h0M453.4 451.9h0M428.4 474.4h0M397.7 506.5h0M420.0 488.0h0M438.3 473.2h0M430.0 479.4h0M430.4 475.5h0M420.3 481.5h0M440.3 467.4h0M408.0 492.5h0M447.4 454.2h0M458.2 448.5h0M456.9 460.4h0M424.8 487.0h0M426.1 474.7h0M429.3 478.8h0M451.2 467.0h0M426.6 488.5h0M427.2 478.0h0M442.2 473.9h0M424.9 479.1h0M421.2 486.4h0M409.7 494.0h0M440.7 470.2h0M400.4 494.0h0M403.9 508.3h0M423.5 479.2h0M417.8 486.5h0M425.4 477.4h0M410.4 485.9h0M417.8 485.8h0M409.1 498.3h0M411.1 494.7h0M449.8 456.3h0M438.5 468.5h0M449.0 459.8h0M409.9 494.4h0M399.0 502.9h0M411.9 488.5h0M401.7 499.4h0M406.6 498.0h0M409.4 492.1h0M400.4 505.6h0M403.6 508.7h0M453.5 462.2h0M413.7 493.9h0M416.7 493.0h0M407.9 495.9h0M439.1 464.6h0M421.0 484.2h0M406.8 492.7h0M439.6 472.0h0M402.3 500.9h0M428.9 474.7h0M429.9 478.0h0M430.5 474.5h0M447.0 464.7h0M420.5 486.3h0M438.2 469.0h0M437.9 469.0h0M407.6 499.8h0M426.2 475.1h0M396.6 507.7h0M427.9 484.2h0M425.4 474.3h0M401.5 491.8h0M414.8 488.0h0M454.0 465.5h0M445.9 469.8h0M446.2 465.7h0M426.4 480.0h0M438.7 473.5h0M409.1 500.4h0M413.8 490.3h0M444.3 464.3h0M465.2 448.1h0M409.4 494.4h0M417.8 491.7h0M415.6 489.6h0M451.2 457.7h0M404.4 492.9h0M397.6 501.5h0M423.6 485.3h0M396.4 508.3h0M449.8 462.3h0M458.7 453.2h0M419.0 485.9h0M430.8 478.4h0M424.3 485.8h0M393.6 500.2h0M443.2 458.1h0M400.4 497.6h0M448.4 467.0h0M427.6 474.9h0M448.4 460.5h0M417.2 492.6h0M409.3 498.8h0M390.8 499.2h0M398.8 504.3h0M428.2 478.4h0M406.5 501.7h0M416.2 487.6h0M399.8 494.0h0M387.1 512.1h0M425.0 480.5h0M438.6 478.3h0M412.5 481.1h0M454.8 456.7h0M420.8 474.0h0M420.9 480.1h0M422.0 478.8h0M418.1 479.9h0M419.4 485.3h0M419.1 485.4h0M430.8 476.8h0" stroke="#6d78c2" stroke-width="2.4" stroke-linecap="round" stroke-opacity="0.8"/>
<path d="M448.2 471.9h0M430.1 470.5h0M423.6 471.9h0M427.7 471.4h0M449.0 472.1h0M445.7 473.9h0M428.5 471.0h0M423.2 471.8h0M427.5 472.9h0M429.7 470.1h0M430.6 471.0h0M421.1 472.0h0M427.6 472.7h0M416.3 468.8h0M448.7 471.8h0M442.0 470.7h0M442.7 475.1h0M417.7 471.5h0M429.5 470.7h0M445.4 473.6h0M424.8 469.7h0M430.5 472.5h0M430.5 472.6h0M428.1 472.9h0M450.4 472.1h0M430.1 472.5h0M447.4 469.4h0M422.2 471.3h0M430.4 471.0h0M421.9 469.8h0M445.5 471.0h0M444.1 477.1h0M425.8 469.1h0M440.7 471.9h0M450.3 472.0h0M441.7 476.2h0" stroke="#5e8c48" stroke-width="2.4" stroke-linecap="round" stroke-opacity="0.8"/>
<path d="M410.1 505.6h0M386.0 512.8h0M385.3 513.6h0M381.3 509.7h0M411.4 499.6h0M401.0 503.0h0M386.4 506.8h0M399.6 510.4h0M398.7 519.7h0M394.8 482.3h0M405.9 494.9h0M383.2 483.0h0M398.6 503.2h0M410.8 493.3h0M402.7 483.2h0M382.8 514.2h0M399.7 518.1h0M390.3 514.9h0M398.1 514.3h0M398.1 513.4h0M383.4 497.9h0M401.7 525.9h0M394.8 487.4h0M410.1 501.5h0M414.0 496.1h0M387.6 518.7h0M390.4 502.8h0M407.3 496.3h0M407.9 506.1h0M392.9 505.1h0M382.3 521.0h0M403.0 498.4h0M394.5 507.1h0M400.9 520.3h0M398.6 507.5h0M399.4 493.2h0M386.5 492.6h0M398.8 509.2h0M378.4 511.1h0M402.7 495.7h0M383.7 516.8h0M400.7 513.7h0" stroke="#d4584a" stroke-width="2.4" stroke-linecap="round" stroke-opacity="0.8"/>
<path d="M389.8 518.7h0M429.5 478.3h0M438.5 473.1h0M425.3 481.0h0M458.5 454.4h0M400.8 504.5h0M393.7 506.1h0M438.5 471.2h0M445.5 461.5h0M444.8 461.7h0M459.3 445.1h0M449.0 467.3h0M414.3 489.3h0M401.8 517.1h0M451.8 455.7h0M410.8 489.3h0M429.4 475.5h0M405.1 485.7h0M426.7 471.2h0M419.5 483.8h0M411.5 485.1h0M443.7 464.9h0M417.3 481.5h0M439.9 467.1h0M441.8 470.2h0M393.3 513.9h0M400.4 495.5h0M424.0 483.7h0M437.9 474.9h0M392.6 500.5h0M425.6 484.7h0M446.9 464.4h0M423.5 479.5h0M388.8 503.8h0M428.1 478.9h0M405.3 498.8h0M430.4 477.6h0M430.4 475.4h0M422.9 483.1h0M440.3 467.5h0M458.1 451.5h0M430.7 477.6h0M445.7 470.8h0M447.0 471.2h0M426.3 475.7h0M416.8 500.1h0M455.3 449.9h0M408.7 500.2h0M445.8 460.8h0M443.4 464.9h0M442.5 472.1h0M453.1 451.9h0M409.7 491.5h0M424.0 478.0h0M410.6 501.5h0M430.5 478.9h0M438.2 477.9h0M408.4 505.3h0M404.7 492.2h0M430.6 481.9h0M427.4 471.2h0M445.4 455.6h0M429.5 479.4h0M391.4 507.2h0M456.0 465.5h0M402.1 509.5h0M430.4 480.3h0M453.0 452.8h0M400.9 505.4h0M419.3 476.2h0M450.0 458.1h0M423.4 492.6h0M438.0 474.4h0M439.3 473.0h0M394.7 507.6h0M427.5 483.2h0M420.2 482.2h0M430.9 483.2h0M406.2 483.7h0M415.9 484.4h0M408.7 494.9h0M430.7 477.8h0M418.3 486.1h0M428.5 473.9h0M459.1 456.9h0M427.0 469.9h0M413.8 491.5h0M403.1 498.3h0M401.0 510.1h0M448.8 458.7h0M386.1 524.5h0M419.6 477.6h0M448.5 463.1h0M390.5 507.2h0M385.6 515.0h0M413.5 491.5h0M452.6 455.8h0M392.0 503.9h0M438.2 469.7h0M388.2 515.7h0M438.5 479.6h0M455.7 450.2h0M395.2 504.4h0M396.2 511.8h0M427.0 480.1h0M430.1 479.4h0M407.6 496.1h0M385.0 515.7h0M468.0 445.8h0M418.6 483.2h0M412.9 483.6h0M403.7 499.8h0M466.3 440.1h0M407.2 490.4h0M425.0 470.8h0M409.6 502.8h0M418.7 485.2h0M422.1 481.5h0M417.7 489.4h0M445.1 466.2h0M399.9 502.6h0M461.8 449.3h0M438.0 471.6h0" stroke="#6d78c2" stroke-width="2.4" stroke-linecap="round" stroke-opacity="0.8"/>
<path d="M414.4 470.7h0M422.3 472.1h0M429.0 473.2h0M446.2 474.0h0M429.1 471.2h0M442.5 474.9h0M430.3 471.3h0M425.2 471.4h0M427.7 471.1h0M441.9 470.1h0M430.7 471.3h0M446.8 480.2h0M429.5 471.1h0M430.6 470.5h0M439.9 471.1h0M444.2 476.0h0M447.4 473.1h0M430.1 472.3h0M422.6 469.2h0M438.0 474.6h0M430.7 471.4h0M441.6 474.9h0M413.6 470.1h0M442.0 468.2h0M420.8 471.5h0M439.5 483.5h0M417.6 469.7h0M438.1 473.8h0M427.1 468.2h0M414.2 469.1h0" stroke="#5e8c48" stroke-width="2.4" stroke-linecap="round" stroke-opacity="0.8"/>
<path d="M387.3 515.9h0M416.6 500.3h0M386.9 500.1h0M413.6 495.2h0M387.8 518.1h0M392.7 522.5h0M391.1 525.9h0M399.1 504.1h0M400.5 496.1h0M385.0 513.0h0M384.6 512.5h0M382.8 524.5h0M394.0 516.2h0M414.4 491.9h0M416.6 497.4h0M398.6 515.4h0M392.9 513.7h0M392.2 507.9h0M402.7 505.8h0M409.7 486.4h0M393.0 517.8h0M405.7 512.7h0M396.9 509.7h0M405.0 499.4h0M410.5 500.9h0M378.0 515.0h0M398.0 519.1h0M388.1 505.2h0M384.6 519.5h0M402.9 506.1h0M403.1 500.8h0M393.9 506.7h0M402.5 513.5h0M403.8 497.0h0M391.4 492.1h0M388.4 503.0h0M390.2 518.5h0M400.6 498.4h0M399.5 496.7h0M397.2 510.2h0M388.8 510.7h0M400.4 503.3h0M409.1 496.0h0M394.7 510.9h0M376.1 513.3h0M399.2 503.1h0M385.7 514.5h0" stroke="#d4584a" stroke-width="2.4" stroke-linecap="round" stroke-opacity="0.8"/>
<path d="M483.6 432.4h0M425.7 477.2h0M446.7 451.4h0M427.8 480.2h0M413.2 492.6h0M438.5 470.2h0M458.4 452.2h0M427.8 478.9h0M438.6 474.5h0M385.7 506.8h0M414.6 482.3h0M406.8 491.9h0M396.8 505.1h0M421.8 478.7h0M438.6 471.5h0M409.2 492.6h0M403.0 497.4h0M417.1 485.8h0M437.9 473.1h0M440.9 468.8h0M408.0 494.2h0M424.0 478.5h0M387.1 509.5h0M429.2 483.8h0M426.3 482.0h0M410.5 493.3h0M445.4 462.9h0M438.4 469.7h0M421.7 472.6h0M420.2 488.5h0M442.6 465.0h0M464.8 449.4h0M442.4 468.3h0M425.0 476.5h0M426.9 471.8h0M419.3 483.8h0M404.1 497.9h0M405.8 494.3h0M455.1 455.1h0M422.2 482.4h0M398.2 500.9h0M406.0 496.6h0M419.0 480.0h0M410.5 493.5h0M439.7 472.3h0M425.4 474.7h0M422.6 481.2h0M393.1 515.2h0M408.2 499.5h0M445.2 466.6h0M420.2 481.9h0M441.4 465.2h0M392.5 514.7h0M438.3 471.0h0M421.4 483.5h0M385.0 514.7h0M454.2 448.0h0M429.5 478.2h0M438.5 475.2h0M426.6 479.7h0M422.9 477.9h0M426.2 477.8h0M441.5 466.9h0M437.9 471.0h0M429.5 476.5h0M423.9 489.2h0M405.5 497.5h0M417.8 481.7h0M425.3 477.2h0M430.5 472.1h0M410.0 492.7h0M437.9 482.6h0M421.1 488.8h0M428.7 484.7h0M423.9 476.4h0M418.5 488.0h0M458.4 455.7h0M409.5 486.6h0M430.6 473.4h0M450.5 468.6h0M425.9 481.9h0M450.9 462.4h0M449.7 459.4h0M409.1 495.9h0M400.1 506.7h0M446.3 463.4h0M457.4 449.9h0M444.1 464.9h0M445.4 466.5h0M399.8 514.1h0M410.7 489.4h0M444.6 461.5h0M438.4 467.2h0M438.4 473.1h0M403.8 498.4h0M430.9 470.8h0M453.0 454.8h0M419.3 485.7h0M431.1 479.2h0M392.3 502.6h0M419.4 484.0h0M438.5 474.4h0M407.5 497.2h0M442.7 473.9h0M427.6 479.8h0M398.5 506.5h0M438.6 475.6h0M438.1 477.6h0M427.3 476.0h0M442.8 475.0h0M411.1 495.7h0M425.1 482.8h0M417.6 490.1h0M402.7 503.4h0M440.5 473.1h0M460.7 450.0h0M430.7 475.3h0M430.7 480.5h0M421.7 483.7h0M395.9 509.9h0M402.7 495.3h0M426.7 476.4h0M404.3 497.9h0M424.5 477.7h0M403.6 498.4h0M402.0 500.2h0M455.5 450.7h0" stroke="#6d78c2" stroke-width="2.4" stroke-linecap="round" stroke-opacity="0.8"/>
<path d="M428.4 470.9h0M429.4 471.0h0M446.0 473.9h0M427.7 469.0h0M422.2 469.6h0M484.2 449.1h0M427.2 471.4h0M439.0 470.5h0M417.7 471.1h0M428.8 473.8h0M418.8 470.0h0M429.6 471.1h0M413.2 471.4h0M430.2 472.0h0M441.4 478.2h0M442.8 474.2h0M431.1 472.7h0M423.3 472.3h0M428.0 471.4h0M428.0 471.1h0M448.4 476.3h0M420.1 472.3h0M415.1 469.4h0M426.2 471.1h0M416.5 468.1h0M431.0 473.0h0M418.5 471.1h0" stroke="#5e8c48" stroke-width="2.4" stroke-linecap="round" stroke-opacity="0.8"/>
<path d="M399.6 513.6h0M398.6 522.0h0M392.0 516.8h0M412.5 490.9h0M398.3 493.4h0M392.2 502.5h0M387.3 517.3h0M406.7 496.1h0M380.0 517.2h0M394.1 516.0h0M412.2 484.6h0M392.1 492.5h0M380.6 514.2h0M397.6 502.3h0M373.7 499.4h0M406.9 498.1h0M379.6 529.5h0M402.4 505.1h0M386.8 507.0h0M375.9 525.8h0M387.1 493.8h0M411.3 482.7h0M380.7 497.6h0M410.8 497.7h0M413.5 492.5h0M403.5 499.6h0M419.4 494.0h0M387.6 512.5h0M384.7 504.3h0M413.4 491.5h0M394.3 507.8h0M392.9 516.2h0M389.7 506.8h0M377.2 504.9h0M387.4 518.5h0M394.6 506.2h0M384.5 515.5h0M396.4 502.4h0M388.3 511.6h0M396.8 494.6h0M415.8 490.5h0M387.3 493.1h0M394.1 508.1h0M404.3 502.2h0M397.8 486.2h0M384.6 507.3h0" stroke="#d4584a" stroke-width="2.4" stroke-linecap="round" stroke-opacity="0.8"/>
<path d="M417.1 482.9h0M428.9 484.5h0M421.4 473.3h0M428.3 477.1h0M409.4 489.4h0M414.5 480.1h0M403.9 494.4h0M468.7 439.0h0M429.8 475.2h0M406.2 491.3h0M428.7 479.4h0M439.3 475.3h0M423.8 478.7h0M453.2 451.0h0M407.0 502.8h0M408.3 508.7h0M399.7 509.7h0M408.3 492.6h0M441.2 476.9h0M419.6 487.4h0M407.4 488.6h0M424.1 478.5h0M427.2 481.4h0M422.2 486.8h0M412.1 499.5h0M426.3 479.4h0M425.7 480.3h0M399.9 496.0h0M438.6 476.4h0M400.1 498.8h0M439.2 473.8h0M406.2 498.0h0M413.8 491.3h0M442.6 465.7h0M447.2 469.4h0M430.5 473.6h0M418.9 486.9h0M408.9 489.0h0M458.7 450.9h0M408.4 496.5h0M391.7 498.7h0M403.0 499.1h0M428.0 477.0h0M416.5 478.8h0M391.1 507.8h0M399.0 494.8h0M424.3 475.2h0M414.9 483.9h0M408.6 486.2h0M444.5 474.3h0M403.4 509.9h0M426.5 488.5h0M467.9 443.9h0M408.3 502.8h0M427.4 477.0h0M438.0 466.4h0M439.7 467.3h0M415.2 485.0h0M419.3 479.7h0M427.3 481.0h0M407.3 488.5h0M394.5 502.1h0M406.0 508.6h0M440.7 468.8h0M400.7 501.7h0M465.7 444.1h0M423.8 485.9h0M395.1 493.5h0M422.5 476.6h0M415.2 485.0h0M428.6 474.6h0M408.2 491.0h0M421.1 479.8h0M421.4 476.4h0M428.2 476.0h0M420.5 487.9h0M453.4 457.6h0M440.2 466.3h0M427.1 473.0h0M405.4 501.9h0M438.2 468.3h0M411.9 493.2h0M403.7 498.5h0M439.8 476.1h0M438.3 467.5h0M422.5 479.0h0M412.0 488.6h0M441.7 467.6h0M396.5 510.6h0M441.2 474.7h0M458.2 453.8h0M418.5 488.6h0M406.3 491.3h0M413.6 493.8h0M444.8 466.1h0M429.3 471.2h0M430.7 480.5h0M457.0 456.6h0M414.1 483.7h0M428.0 479.4h0M423.0 481.3h0M407.5 504.0h0M428.1 478.8h0M442.5 467.2h0M406.3 510.8h0M420.6 485.2h0M388.7 516.7h0M395.1 512.1h0M427.5 476.2h0M453.8 469.0h0M413.2 505.1h0M421.4 487.3h0M430.5 477.3h0M414.2 490.9h0M431.0 477.5h0M423.0 481.5h0" stroke="#6d78c2" stroke-width="2.4" stroke-linecap="round" stroke-opacity="0.8"/>
<path d="M443.2 472.4h0M417.4 472.4h0M420.9 473.2h0M415.8 472.5h0M429.3 469.4h0M445.4 476.3h0M428.9 473.6h0M438.7 472.5h0M430.7 473.8h0M419.6 471.4h0M421.1 469.1h0M442.9 476.7h0M441.4 472.7h0M429.4 470.4h0M429.4 472.6h0M414.4 470.7h0M446.5 479.5h0M426.4 472.1h0M447.2 475.9h0M417.8 468.5h0M419.6 470.3h0M406.6 471.3h0M428.3 472.6h0M441.5 477.0h0M446.7 472.6h0M429.0 473.4h0M445.9 472.9h0M425.2 470.3h0M423.7 470.0h0M427.7 471.1h0M443.9 472.5h0M427.0 470.8h0M443.8 476.5h0M443.4 476.5h0M428.4 468.7h0M440.3 472.4h0M431.1 469.6h0M427.8 471.9h0M446.4 470.7h0M419.3 468.6h0M419.1 471.9h0" stroke="#5e8c48" stroke-width="2.4" stroke-linecap="round" stroke-opacity="0.8"/>
<path d="M383.3 501.7h0M384.5 516.3h0M396.1 507.6h0M398.8 514.1h0M396.6 496.2h0M387.5 515.2h0M417.4 491.4h0M412.9 490.3h0M377.9 525.9h0M391.6 501.6h0M408.6 478.0h0M406.3 512.7h0M421.5 483.2h0M399.3 507.3h0M415.8 476.6h0M392.3 519.7h0M406.0 484.4h0M399.3 502.1h0M385.9 506.6h0M382.1 520.3h0M422.4 478.8h0M391.5 504.9h0M402.3 504.7h0M406.1 498.8h0M387.3 512.8h0M409.8 498.4h0M405.4 515.3h0M404.9 500.3h0M417.0 490.7h0M400.1 511.1h0M413.4 491.8h0M387.9 511.4h0M398.7 504.9h0M410.6 493.0h0M414.0 480.1h0M389.8 526.9h0M396.6 501.9h0M389.1 517.0h0M400.2 505.5h0M415.7 501.3h0M387.8 504.6h0M397.1 508.9h0M405.4 505.1h0" stroke="#d4584a" stroke-width="2.4" stroke-linecap="round" stroke-opacity="0.8"/>
<path d="M428.4 472.3h0M440.4 465.8h0M446.4 468.5h0M443.2 467.7h0M442.0 473.3h0M422.6 491.5h0M421.7 482.0h0M438.6 474.3h0M439.3 470.6h0M430.6 479.3h0M442.6 470.3h0M426.7 478.7h0M427.3 481.6h0M410.0 510.3h0M415.1 484.6h0M465.9 445.2h0M401.7 500.1h0M450.2 451.9h0M431.0 473.2h0M445.1 459.9h0M398.8 503.0h0M438.1 475.2h0M427.9 483.6h0M464.1 436.9h0M422.5 480.3h0M412.4 489.5h0M394.9 506.1h0M421.6 485.2h0M430.6 470.2h0M429.4 486.6h0M391.3 521.3h0M441.9 458.4h0M424.4 483.0h0M404.9 491.0h0M396.6 503.6h0M411.3 489.3h0M446.8 458.1h0M401.1 492.2h0M430.1 473.1h0M403.5 490.2h0M463.2 451.4h0M438.2 475.0h0M410.7 497.4h0M428.8 476.8h0M453.1 451.7h0M417.2 492.6h0M457.1 458.6h0M421.8 484.6h0M451.2 456.4h0M413.8 486.5h0M429.0 470.8h0M430.6 479.3h0M428.1 479.7h0M398.6 490.3h0M393.2 509.9h0M419.2 490.8h0M410.7 493.9h0M422.9 480.1h0M410.1 494.2h0M427.1 475.6h0M398.5 496.0h0M430.7 479.7h0M419.6 482.2h0M439.7 471.3h0M439.8 460.3h0M426.4 474.5h0M443.4 458.6h0M415.9 491.5h0M409.8 495.8h0M420.5 480.1h0M430.9 480.0h0M409.9 503.2h0M420.3 483.9h0M402.0 511.7h0M422.9 480.0h0M440.5 467.4h0M423.9 482.4h0M420.3 487.9h0M396.1 512.3h0M404.1 502.6h0M474.1 459.6h0M421.3 480.9h0M446.0 466.5h0M417.8 490.7h0M418.4 485.6h0M416.3 482.2h0M439.9 467.0h0M443.6 462.2h0M442.9 467.4h0M394.6 510.5h0M419.0 477.4h0M446.2 457.0h0M438.4 469.8h0M442.2 467.3h0M415.8 487.4h0M437.9 475.9h0M426.0 475.8h0M442.8 469.7h0M414.9 489.3h0M429.4 474.5h0M401.6 514.0h0M415.4 481.9h0M428.2 474.4h0M442.3 472.8h0M408.2 487.1h0M400.3 517.6h0M451.9 452.6h0M423.1 478.4h0M451.2 462.2h0" stroke="#6d78c2" stroke-width="2.4" stroke-linecap="round" stroke-opacity="0.8"/>
<path d="M426.7 471.1h0M414.1 470.6h0M419.4 467.8h0M415.9 470.8h0M425.6 473.0h0M427.6 471.5h0M429.7 469.9h0M442.3 472.2h0M429.3 469.4h0M430.9 473.2h0M443.0 473.8h0M427.3 471.9h0M430.4 471.7h0M418.9 471.5h0M428.5 470.4h0M468.5 460.2h0M445.4 471.0h0M419.5 470.3h0M430.2 470.6h0M430.4 472.6h0M427.5 469.9h0M446.7 472.4h0M441.4 471.0h0M425.5 470.7h0M444.5 473.5h0M422.7 469.4h0M445.4 473.8h0M443.4 469.2h0M430.2 470.9h0M430.3 470.3h0M428.2 471.0h0M430.7 470.7h0M428.3 471.9h0M440.6 472.6h0M420.0 470.3h0M438.3 474.8h0M438.9 470.5h0M426.6 471.6h0M456.8 463.5h0M426.2 472.4h0M427.1 469.9h0M423.6 471.0h0M423.9 470.4h0M418.7 469.7h0M423.1 468.4h0M430.0 472.1h0M446.5 474.3h0" stroke="#5e8c48" stroke-width="2.4" stroke-linecap="round" stroke-opacity="0.8"/>
<path d="M406.4 508.5h0M399.4 507.0h0M401.5 505.7h0M397.3 499.8h0M388.0 507.1h0M383.7 526.4h0M398.3 507.4h0M412.6 504.7h0M400.9 505.6h0M387.9 515.1h0M401.4 492.6h0M397.9 486.2h0M380.8 514.0h0M378.5 485.4h0M400.3 500.9h0M396.3 506.1h0M398.1 515.6h0M410.2 497.8h0M386.0 515.6h0M396.2 508.4h0M385.8 518.3h0M391.6 508.0h0M389.1 494.1h0M408.5 492.9h0M390.8 491.5h0M408.4 492.0h0M406.4 502.8h0M383.2 515.0h0M395.9 508.3h0M397.6 522.3h0M396.2 501.0h0M397.2 500.9h0M374.3 517.1h0M394.0 521.5h0M406.5 499.3h0M414.0 493.8h0M410.9 497.5h0M393.7 503.7h0M377.5 512.1h0M393.6 505.1h0M400.9 506.3h0M411.1 498.7h0M376.4 510.9h0M395.9 507.2h0" stroke="#d4584a" stroke-width="2.4" stroke-linecap="round" stroke-opacity="0.8"/>
<path d="M438.0 476.0h0M392.3 504.0h0M394.6 516.2h0M428.2 485.3h0M408.3 491.9h0M399.2 494.4h0M404.5 492.2h0M423.1 487.0h0M420.2 484.2h0M403.5 493.8h0M403.1 495.6h0M422.2 487.0h0M442.9 458.3h0M399.1 509.0h0M404.1 489.7h0M425.6 477.4h0M443.1 464.5h0M438.5 470.1h0M428.8 476.3h0M389.0 514.4h0M439.2 458.2h0M404.0 508.9h0M415.8 483.6h0M440.2 470.1h0M407.9 494.8h0M429.4 479.9h0M431.0 477.3h0M395.8 495.6h0M441.2 463.5h0M430.5 478.8h0M438.1 472.5h0M410.0 496.0h0M409.6 495.7h0M430.5 479.9h0M410.3 484.0h0M427.4 479.4h0M428.3 478.0h0M400.8 501.5h0M407.3 497.0h0M443.7 463.8h0M386.7 513.2h0M413.2 497.0h0M404.3 493.9h0M410.3 490.9h0M426.5 473.1h0M397.8 502.2h0M427.7 473.5h0M415.5 484.1h0M447.1 461.8h0M430.4 477.4h0M440.1 464.1h0M389.0 513.4h0M397.9 493.5h0M421.7 478.5h0M391.9 512.2h0M447.0 461.8h0M431.0 474.7h0M460.8 449.3h0M396.6 517.8h0M438.6 462.0h0M406.9 498.3h0M421.4 478.7h0M410.5 494.0h0M403.6 492.7h0M431.1 477.0h0M430.8 480.5h0M422.6 486.6h0M429.8 477.9h0M446.4 461.7h0M424.4 477.1h0M407.4 489.5h0M440.9 465.0h0M454.7 449.4h0M458.7 449.7h0M393.2 506.1h0M441.8 471.5h0M418.3 484.2h0M440.9 474.0h0M411.3 483.8h0M414.3 492.6h0M425.4 475.2h0M423.4 473.2h0M430.7 475.7h0M401.0 498.9h0M428.8 485.0h0M421.1 480.3h0M411.4 486.4h0M410.0 492.8h0M391.6 498.2h0M442.6 462.3h0M430.3 476.3h0M397.0 504.2h0M430.8 472.4h0M464.1 444.6h0M414.0 487.2h0M424.6 476.6h0M454.3 455.9h0M438.7 474.4h0M401.9 492.3h0M455.5 453.2h0M414.8 484.1h0M456.3 443.0h0M406.6 499.2h0M429.5 477.0h0M456.2 458.2h0M450.7 465.5h0M425.5 481.2h0M407.9 492.2h0M429.8 473.9h0M421.5 486.5h0M410.6 502.1h0M387.1 524.7h0M395.5 508.0h0M429.1 481.8h0" stroke="#6d78c2" stroke-width="2.4" stroke-linecap="round" stroke-opacity="0.8"/>
<path d="M431.1 472.9h0M427.3 471.6h0M441.7 472.7h0M417.5 469.7h0M417.9 471.2h0M429.2 474.0h0M440.3 474.8h0M443.2 473.1h0M413.0 473.9h0M428.8 471.6h0M427.8 473.0h0M415.3 469.7h0M429.8 473.2h0M423.6 471.9h0M413.5 469.3h0M430.9 470.9h0M430.0 472.6h0M431.0 470.4h0M415.8 469.8h0M427.4 470.3h0M417.1 470.4h0M427.8 469.9h0M442.8 474.9h0M446.6 475.0h0" stroke="#5e8c48" stroke-width="2.4" stroke-linecap="round" stroke-opacity="0.8"/>
<path d="M414.4 502.9h0M394.0 504.0h0M392.9 487.5h0M408.5 495.5h0M413.1 488.4h0M392.9 512.1h0M411.1 505.0h0M393.2 505.9h0M379.1 499.5h0M391.5 490.5h0M399.1 516.3h0M391.1 506.7h0M395.2 504.2h0M391.4 495.0h0M416.5 477.7h0M391.1 502.1h0M399.7 512.9h0M397.1 500.7h0M387.9 510.6h0M401.1 513.2h0M388.0 508.6h0M374.6 507.8h0M391.3 496.3h0M412.6 493.8h0M413.8 492.9h0M416.5 498.9h0M396.8 505.2h0M378.8 503.0h0M413.3 495.1h0M393.8 507.3h0M385.4 498.2h0M395.8 513.4h0M394.1 515.6h0M410.6 506.2h0M408.5 486.2h0M396.7 508.3h0M399.9 513.9h0M393.8 494.5h0M396.4 514.3h0M399.5 523.7h0M384.5 534.3h0M394.9 507.6h0M389.5 490.3h0M402.5 500.7h0M398.7 505.7h0M387.3 507.4h0M400.8 494.4h0M408.6 497.6h0M386.2 506.0h0M399.2 490.7h0M391.7 505.1h0M387.4 511.5h0M401.9 512.8h0M387.1 499.7h0M395.4 507.3h0M384.7 493.5h0M405.2 501.6h0M405.9 498.1h0M398.1 498.4h0M419.9 487.7h0M398.0 502.1h0M415.0 489.0h0" stroke="#d4584a" stroke-width="2.4" stroke-linecap="round" stroke-opacity="0.8"/>
<path d="M404.8 490.4h0M396.3 501.8h0M415.9 488.9h0M398.2 518.1h0M424.8 471.5h0M410.6 493.0h0M446.5 457.0h0M422.0 484.9h0M406.9 498.7h0M438.5 472.7h0M443.7 469.8h0M442.7 461.2h0M420.5 477.8h0M443.0 472.4h0M447.2 463.0h0M396.6 509.9h0M441.1 468.6h0M421.0 478.8h0M438.4 471.3h0M443.8 467.4h0M414.8 494.5h0M443.4 469.9h0M426.8 475.2h0M416.9 492.8h0M406.7 502.1h0M399.3 504.2h0M430.8 478.9h0M439.8 474.6h0M439.5 474.6h0M428.6 477.8h0M444.7 458.0h0M438.3 469.5h0M398.3 506.1h0M426.2 477.6h0M401.9 487.6h0M410.8 486.6h0M443.7 477.0h0M410.9 500.7h0M418.1 487.1h0M442.4 463.3h0M391.1 506.1h0M422.9 475.5h0M444.5 465.1h0M427.7 470.8h0M416.1 494.4h0M421.0 485.5h0M424.2 477.6h0M451.6 451.0h0M427.3 475.6h0M429.5 477.6h0M411.4 488.5h0M429.5 479.8h0M440.4 468.0h0M452.3 457.7h0M403.3 493.6h0M430.7 473.6h0M425.7 476.4h0M429.3 469.7h0M427.7 477.6h0M403.5 492.2h0M427.1 481.4h0M427.1 472.1h0M403.3 510.8h0M423.4 486.2h0M441.0 467.3h0M399.0 510.1h0M411.2 492.6h0M400.6 500.2h0M429.0 479.5h0M402.0 493.3h0M389.0 514.7h0M443.9 470.4h0M442.5 473.2h0M401.4 497.6h0M401.3 488.1h0M442.2 468.9h0M424.7 481.9h0M401.7 503.7h0M469.7 454.1h0M406.8 497.3h0M441.2 471.4h0M446.5 453.3h0M423.2 485.1h0M415.6 489.0h0M424.3 478.2h0M426.6 481.9h0M424.2 483.6h0M422.4 482.4h0M447.4 461.6h0M417.9 490.5h0M395.3 500.4h0M404.9 492.3h0M427.7 480.0h0M409.6 502.3h0M412.1 499.8h0M440.8 476.2h0M426.3 483.0h0M455.6 455.2h0M410.1 495.6h0M401.9 507.7h0M396.1 506.8h0M430.3 478.0h0M411.5 494.6h0M420.2 490.5h0" stroke="#6d78c2" stroke-width="2.4" stroke-linecap="round" stroke-opacity="0.8"/>
<path d="M440.4 473.9h0M429.9 473.6h0M430.9 473.5h0M445.3 473.7h0M446.0 474.9h0M437.9 477.3h0M430.0 471.2h0M419.6 471.2h0M415.1 472.0h0M430.9 471.8h0M429.8 472.5h0M444.5 475.7h0M430.6 472.1h0M439.3 476.0h0M440.3 472.8h0M421.0 469.6h0M443.6 474.9h0M430.5 473.2h0M429.0 472.8h0M418.4 471.6h0M447.3 474.0h0M423.2 473.0h0M428.8 472.2h0" stroke="#5e8c48" stroke-width="2.4" stroke-linecap="round" stroke-opacity="0.8"/>
<path d="M410.1 503.9h0M392.3 512.8h0M384.6 498.8h0M383.8 514.6h0M385.8 510.9h0M400.3 511.3h0M399.6 495.5h0M399.6 507.0h0M385.6 511.1h0M391.2 502.8h0M391.9 500.1h0M397.0 520.5h0M404.4 487.8h0M399.9 509.1h0M390.7 485.8h0M405.9 508.2h0M390.8 509.2h0M371.3 509.5h0M393.5 507.7h0M390.2 507.2h0M405.6 502.2h0M391.4 511.0h0M417.3 483.2h0M391.7 497.6h0M388.0 518.2h0M385.1 503.0h0M384.1 511.6h0M394.6 519.1h0M377.7 509.4h0M392.6 514.7h0M408.2 494.7h0M392.8 503.3h0M394.7 511.4h0M393.8 508.6h0M390.0 509.8h0M394.6 499.3h0" stroke="#d4584a" stroke-width="2.4" stroke-linecap="round" stroke-opacity="0.8"/>
</g>
<rect x="355.60" y="406.40" width="146.70" height="146.30" fill="none" stroke="#111" stroke-width="1.4"/>
<line x1="378.70" y1="552.70" x2="378.70" y2="556.20" stroke="#111" stroke-width="1.1"/>
<text transform="translate(378.70 568.00) scale(0.95 1)" font-size="7.6" fill="#333" text-anchor="middle">−10</text>
<line x1="351.60" y1="529.00" x2="355.60" y2="529.00" stroke="#111" stroke-width="1.1"/>
<text transform="translate(347.30 531.70) scale(0.95 1)" font-size="7.6" fill="#333" text-anchor="end">−10</text>
<line x1="406.60" y1="552.70" x2="406.60" y2="556.20" stroke="#111" stroke-width="1.1"/>
<text transform="translate(406.60 568.00) scale(0.95 1)" font-size="7.6" fill="#333" text-anchor="middle">−5</text>
<line x1="351.60" y1="501.25" x2="355.60" y2="501.25" stroke="#111" stroke-width="1.1"/>
<text transform="translate(347.30 503.95) scale(0.95 1)" font-size="7.6" fill="#333" text-anchor="end">−5</text>
<line x1="434.50" y1="552.70" x2="434.50" y2="556.20" stroke="#111" stroke-width="1.1"/>
<text transform="translate(434.50 568.00) scale(0.95 1)" font-size="7.6" fill="#333" text-anchor="middle">0</text>
<line x1="351.60" y1="473.50" x2="355.60" y2="473.50" stroke="#111" stroke-width="1.1"/>
<text transform="translate(347.30 476.20) scale(0.95 1)" font-size="7.6" fill="#333" text-anchor="end">0</text>
<line x1="462.40" y1="552.70" x2="462.40" y2="556.20" stroke="#111" stroke-width="1.1"/>
<text transform="translate(462.40 568.00) scale(0.95 1)" font-size="7.6" fill="#333" text-anchor="middle">5</text>
<line x1="351.60" y1="445.75" x2="355.60" y2="445.75" stroke="#111" stroke-width="1.1"/>
<text transform="translate(347.30 448.45) scale(0.95 1)" font-size="7.6" fill="#333" text-anchor="end">5</text>
<line x1="490.30" y1="552.70" x2="490.30" y2="556.20" stroke="#111" stroke-width="1.1"/>
<text transform="translate(490.30 568.00) scale(0.95 1)" font-size="7.6" fill="#333" text-anchor="middle">10</text>
<line x1="351.60" y1="418.00" x2="355.60" y2="418.00" stroke="#111" stroke-width="1.1"/>
<text transform="translate(347.30 420.70) scale(0.95 1)" font-size="7.6" fill="#333" text-anchor="end">10</text>
<text transform="translate(429.20 399.70) scale(0.95 1)" font-size="8" fill="#111" text-anchor="middle">Pearson  r=0.892  P&lt;0.0001  N=1387</text>
<text transform="translate(429.20 582.70) scale(0.9 1)" font-size="10.5" fill="#111" text-anchor="middle">pBIC vs YC (logFC)</text>
<text transform="translate(325.50 479.50) rotate(-90) scale(0.9 1)" font-size="10.5" fill="#111" text-anchor="middle">BIC vs YC (logFC)</text>
<circle cx="362.90" cy="412.80" r="2.10" fill="#a0a4d8" stroke="none" stroke-width="1"/>
<text transform="translate(371.90 415.00) scale(0.93 1)" font-size="6.2" fill="#7a80c8" text-anchor="start">common trend BIC/pBIC</text>
<circle cx="362.90" cy="421.40" r="2.10" fill="#90a888" stroke="none" stroke-width="1"/>
<text transform="translate(371.90 423.60) scale(0.93 1)" font-size="6.2" fill="#6a9a58" text-anchor="start">unique pBIC</text>
<circle cx="362.90" cy="430.00" r="2.10" fill="#e09898" stroke="none" stroke-width="1"/>
<text transform="translate(371.90 432.20) scale(0.93 1)" font-size="6.2" fill="#d05a50" text-anchor="start">Ig genes</text>
<text transform="translate(420.00 439.20) scale(0.93 1)" font-size="6.2" fill="#5a60b0" text-anchor="start">IKK2</text>
<line x1="425.50" y1="441.50" x2="437.00" y2="467.00" stroke="#5a60b0" stroke-width="0.9"/>
<text transform="translate(440.50 442.80) scale(0.93 1)" font-size="6.2" fill="#5a60b0" text-anchor="start">Bcl2</text>
<line x1="441.50" y1="445.00" x2="440.00" y2="464.00" stroke="#5a60b0" stroke-width="0.9"/>
<text transform="translate(378.50 458.30) scale(0.93 1)" font-size="6.2" fill="#5a8a44" text-anchor="start">p53</text>
<line x1="398.50" y1="457.50" x2="418.50" y2="469.50" stroke="#5a8a44" stroke-width="1.0"/>
<text transform="translate(469.50 491.50) scale(0.93 1)" font-size="6.2" fill="#5a8a44" text-anchor="start">c-Myc</text>
<line x1="469.00" y1="489.00" x2="443.00" y2="477.00" stroke="#5a8a44" stroke-width="1.0"/>
<text transform="translate(367.00 487.20) scale(0.93 1)" font-size="6.2" fill="#c84a40" text-anchor="start">Igha</text>
<line x1="381.00" y1="486.50" x2="413.00" y2="497.00" stroke="#c84a40" stroke-width="1.0"/>
<text transform="translate(445.00 505.80) scale(0.93 1)" font-size="6.2" fill="#5a60b0" text-anchor="start">Ciita</text>
<line x1="443.50" y1="502.00" x2="428.00" y2="483.00" stroke="#5a60b0" stroke-width="0.9"/>
<text transform="translate(441.00 528.50) scale(0.93 1)" font-size="6.2" fill="#5a60b0" text-anchor="start">Bcl6</text>
<line x1="439.50" y1="525.00" x2="397.00" y2="500.00" stroke="#5a60b0" stroke-width="0.9"/>
<text transform="translate(408.00 538.30) scale(0.93 1)" font-size="6.2" fill="#c84a40" text-anchor="start">Ighg1</text>
<line x1="411.00" y1="533.00" x2="397.00" y2="503.00" stroke="#c84a40" stroke-width="1.0"/>
<text transform="translate(357.00 535.00) scale(0.93 1)" font-size="6.2" fill="#c84a40" text-anchor="start">Igkv3−11</text>
<line x1="364.00" y1="530.00" x2="377.00" y2="512.00" stroke="#c84a40" stroke-width="1.0"/>
<text transform="translate(368.00 548.30) scale(0.93 1)" font-size="6.2" fill="#c84a40" text-anchor="start">Ighv3−6</text>
<line x1="373.00" y1="543.00" x2="379.00" y2="520.00" stroke="#c84a40" stroke-width="1.0"/>
<text x="10.30" y="618.70" font-size="16.5" fill="#111" text-anchor="start">F</text>
<rect x="37.00" y="621.40" width="14.80" height="7.40" fill="#f8e4c4" stroke="none" stroke-width="1"/>
<rect x="51.80" y="621.40" width="14.20" height="7.40" fill="#c8c4e0" stroke="none" stroke-width="1"/>
<rect x="66.00" y="621.40" width="30.30" height="7.40" fill="#dcb4c4" stroke="none" stroke-width="1"/>
<text transform="translate(44.40 627.40) scale(0.92 1)" font-size="5.8" fill="#555" text-anchor="middle">YC</text>
<text transform="translate(58.90 627.40) scale(0.92 1)" font-size="5.8" fill="#555" text-anchor="middle">BIC</text>
<text transform="translate(81.20 627.40) scale(0.92 1)" font-size="5.8" fill="#555" text-anchor="middle">pBIC</text>
<path d="M37.0 628.8h6.1v2.9h-6.1zM37.0 631.6h6.1v2.9h-6.1zM54.8 631.6h6.1v2.9h-6.1zM42.9 634.4h6.1v2.9h-6.1zM54.8 639.9h6.1v2.9h-6.1zM37.0 642.7h6.1v2.9h-6.1zM37.0 651.1h6.1v2.9h-6.1zM60.7 653.9h6.1v2.9h-6.1zM60.7 656.6h6.1v2.9h-6.1zM54.8 659.4h6.1v2.9h-6.1zM66.7 667.8h6.1v2.9h-6.1zM72.6 670.5h6.1v2.9h-6.1zM84.4 673.3h6.1v2.9h-6.1zM78.5 678.9h6.1v2.9h-6.1zM90.4 681.7h6.1v2.9h-6.1zM72.6 684.5h6.1v2.9h-6.1zM72.6 690.0h6.1v2.9h-6.1z" fill="#cfe3c2"/>
<path d="M42.9 628.8h6.1v2.9h-6.1zM54.8 628.8h6.1v2.9h-6.1zM42.9 637.1h6.1v2.9h-6.1zM48.9 639.9h6.1v2.9h-6.1zM54.8 642.7h6.1v2.9h-6.1zM42.9 645.5h6.1v2.9h-6.1zM37.0 648.3h6.1v2.9h-6.1zM42.9 648.3h6.1v2.9h-6.1zM48.9 653.9h6.1v2.9h-6.1zM37.0 662.2h6.1v2.9h-6.1zM48.9 662.2h6.1v2.9h-6.1zM78.5 667.8h6.1v2.9h-6.1zM84.4 667.8h6.1v2.9h-6.1zM90.4 667.8h6.1v2.9h-6.1zM90.4 673.3h6.1v2.9h-6.1zM84.4 678.9h6.1v2.9h-6.1zM78.5 681.7h6.1v2.9h-6.1zM78.5 684.5h6.1v2.9h-6.1zM84.4 684.5h6.1v2.9h-6.1zM90.4 687.2h6.1v2.9h-6.1zM66.7 692.8h6.1v2.9h-6.1zM84.4 692.8h6.1v2.9h-6.1z" fill="#c8dfbc"/>
<path d="M48.9 628.8h6.1v2.9h-6.1zM48.9 631.6h6.1v2.9h-6.1zM60.7 634.4h6.1v2.9h-6.1zM37.0 637.1h6.1v2.9h-6.1zM37.0 639.9h6.1v2.9h-6.1zM60.7 642.7h6.1v2.9h-6.1zM48.9 648.3h6.1v2.9h-6.1zM54.8 648.3h6.1v2.9h-6.1zM42.9 653.9h6.1v2.9h-6.1zM48.9 656.6h6.1v2.9h-6.1zM54.8 662.2h6.1v2.9h-6.1zM54.8 665.0h6.1v2.9h-6.1zM78.5 670.5h6.1v2.9h-6.1zM72.6 676.1h6.1v2.9h-6.1zM90.4 678.9h6.1v2.9h-6.1z" fill="#a8cc98"/>
<path d="M60.7 628.8h6.1v2.9h-6.1zM42.9 631.6h6.1v2.9h-6.1zM37.0 634.4h6.1v2.9h-6.1zM60.7 637.1h6.1v2.9h-6.1zM42.9 639.9h6.1v2.9h-6.1zM60.7 639.9h6.1v2.9h-6.1zM60.7 645.5h6.1v2.9h-6.1zM48.9 651.1h6.1v2.9h-6.1zM42.9 659.4h6.1v2.9h-6.1zM60.7 662.2h6.1v2.9h-6.1zM48.9 665.0h6.1v2.9h-6.1zM60.7 665.0h6.1v2.9h-6.1zM84.4 670.5h6.1v2.9h-6.1zM84.4 676.1h6.1v2.9h-6.1zM66.7 678.9h6.1v2.9h-6.1zM72.6 678.9h6.1v2.9h-6.1zM72.6 681.7h6.1v2.9h-6.1zM66.7 690.0h6.1v2.9h-6.1zM78.5 692.8h6.1v2.9h-6.1z" fill="#e4eedc"/>
<path d="M66.7 628.8h6.1v2.9h-6.1zM66.7 631.6h6.1v2.9h-6.1zM90.4 631.6h6.1v2.9h-6.1zM72.6 634.4h6.1v2.9h-6.1zM78.5 645.5h6.1v2.9h-6.1zM66.7 648.3h6.1v2.9h-6.1zM78.5 648.3h6.1v2.9h-6.1zM72.6 651.1h6.1v2.9h-6.1zM78.5 651.1h6.1v2.9h-6.1zM84.4 651.1h6.1v2.9h-6.1zM66.7 653.9h6.1v2.9h-6.1zM84.4 653.9h6.1v2.9h-6.1zM72.6 656.6h6.1v2.9h-6.1zM84.4 656.6h6.1v2.9h-6.1zM66.7 659.4h6.1v2.9h-6.1zM78.5 659.4h6.1v2.9h-6.1zM37.0 667.8h6.1v2.9h-6.1zM42.9 673.3h6.1v2.9h-6.1zM48.9 678.9h6.1v2.9h-6.1zM54.8 681.7h6.1v2.9h-6.1zM60.7 681.7h6.1v2.9h-6.1zM42.9 687.2h6.1v2.9h-6.1zM48.9 687.2h6.1v2.9h-6.1zM42.9 692.8h6.1v2.9h-6.1z" fill="#3a8038"/>
<path d="M72.6 628.8h6.1v2.9h-6.1zM78.5 628.8h6.1v2.9h-6.1zM90.4 628.8h6.1v2.9h-6.1zM66.7 634.4h6.1v2.9h-6.1zM90.4 634.4h6.1v2.9h-6.1zM84.4 639.9h6.1v2.9h-6.1zM84.4 642.7h6.1v2.9h-6.1zM72.6 648.3h6.1v2.9h-6.1zM90.4 648.3h6.1v2.9h-6.1zM90.4 653.9h6.1v2.9h-6.1zM90.4 656.6h6.1v2.9h-6.1zM66.7 662.2h6.1v2.9h-6.1zM78.5 662.2h6.1v2.9h-6.1zM66.7 665.0h6.1v2.9h-6.1zM72.6 665.0h6.1v2.9h-6.1zM54.8 667.8h6.1v2.9h-6.1zM37.0 670.5h6.1v2.9h-6.1zM60.7 670.5h6.1v2.9h-6.1zM37.0 676.1h6.1v2.9h-6.1zM60.7 678.9h6.1v2.9h-6.1zM37.0 687.2h6.1v2.9h-6.1zM37.0 692.8h6.1v2.9h-6.1zM48.9 692.8h6.1v2.9h-6.1z" fill="#62a45c"/>
<path d="M84.4 628.8h6.1v2.9h-6.1zM72.6 637.1h6.1v2.9h-6.1zM78.5 653.9h6.1v2.9h-6.1zM84.4 662.2h6.1v2.9h-6.1zM90.4 665.0h6.1v2.9h-6.1zM37.0 673.3h6.1v2.9h-6.1zM60.7 673.3h6.1v2.9h-6.1zM42.9 676.1h6.1v2.9h-6.1zM37.0 684.5h6.1v2.9h-6.1zM42.9 684.5h6.1v2.9h-6.1zM60.7 684.5h6.1v2.9h-6.1zM60.7 687.2h6.1v2.9h-6.1zM42.9 690.0h6.1v2.9h-6.1zM60.7 690.0h6.1v2.9h-6.1z" fill="#4a9448"/>
<path d="M60.7 631.6h6.1v2.9h-6.1zM48.9 634.4h6.1v2.9h-6.1zM42.9 642.7h6.1v2.9h-6.1zM48.9 642.7h6.1v2.9h-6.1zM60.7 648.3h6.1v2.9h-6.1zM42.9 651.1h6.1v2.9h-6.1zM54.8 651.1h6.1v2.9h-6.1zM37.0 656.6h6.1v2.9h-6.1zM37.0 659.4h6.1v2.9h-6.1zM48.9 659.4h6.1v2.9h-6.1zM60.7 659.4h6.1v2.9h-6.1zM37.0 665.0h6.1v2.9h-6.1zM42.9 665.0h6.1v2.9h-6.1zM66.7 670.5h6.1v2.9h-6.1zM66.7 673.3h6.1v2.9h-6.1zM78.5 676.1h6.1v2.9h-6.1zM66.7 681.7h6.1v2.9h-6.1zM66.7 684.5h6.1v2.9h-6.1zM90.4 684.5h6.1v2.9h-6.1zM84.4 690.0h6.1v2.9h-6.1zM90.4 690.0h6.1v2.9h-6.1zM90.4 692.8h6.1v2.9h-6.1z" fill="#b8d6a8"/>
<path d="M72.6 631.6h6.1v2.9h-6.1zM84.4 631.6h6.1v2.9h-6.1zM78.5 634.4h6.1v2.9h-6.1zM84.4 634.4h6.1v2.9h-6.1zM66.7 637.1h6.1v2.9h-6.1zM84.4 637.1h6.1v2.9h-6.1zM66.7 639.9h6.1v2.9h-6.1zM78.5 639.9h6.1v2.9h-6.1zM90.4 639.9h6.1v2.9h-6.1zM78.5 642.7h6.1v2.9h-6.1zM84.4 645.5h6.1v2.9h-6.1zM90.4 645.5h6.1v2.9h-6.1zM84.4 648.3h6.1v2.9h-6.1zM90.4 651.1h6.1v2.9h-6.1zM72.6 653.9h6.1v2.9h-6.1zM66.7 656.6h6.1v2.9h-6.1zM78.5 656.6h6.1v2.9h-6.1zM84.4 659.4h6.1v2.9h-6.1zM90.4 659.4h6.1v2.9h-6.1zM72.6 662.2h6.1v2.9h-6.1zM90.4 662.2h6.1v2.9h-6.1zM48.9 667.8h6.1v2.9h-6.1zM54.8 676.1h6.1v2.9h-6.1zM60.7 676.1h6.1v2.9h-6.1zM54.8 678.9h6.1v2.9h-6.1zM37.0 681.7h6.1v2.9h-6.1zM48.9 681.7h6.1v2.9h-6.1zM48.9 684.5h6.1v2.9h-6.1zM54.8 687.2h6.1v2.9h-6.1zM37.0 690.0h6.1v2.9h-6.1zM48.9 690.0h6.1v2.9h-6.1zM54.8 690.0h6.1v2.9h-6.1zM54.8 692.8h6.1v2.9h-6.1zM60.7 692.8h6.1v2.9h-6.1z" fill="#559c50"/>
<path d="M78.5 631.6h6.1v2.9h-6.1zM78.5 637.1h6.1v2.9h-6.1zM90.4 637.1h6.1v2.9h-6.1zM72.6 639.9h6.1v2.9h-6.1zM66.7 642.7h6.1v2.9h-6.1zM72.6 642.7h6.1v2.9h-6.1zM90.4 642.7h6.1v2.9h-6.1zM66.7 645.5h6.1v2.9h-6.1zM72.6 645.5h6.1v2.9h-6.1zM66.7 651.1h6.1v2.9h-6.1zM72.6 659.4h6.1v2.9h-6.1zM78.5 665.0h6.1v2.9h-6.1zM84.4 665.0h6.1v2.9h-6.1zM42.9 667.8h6.1v2.9h-6.1zM60.7 667.8h6.1v2.9h-6.1zM42.9 670.5h6.1v2.9h-6.1zM48.9 670.5h6.1v2.9h-6.1zM54.8 670.5h6.1v2.9h-6.1zM48.9 673.3h6.1v2.9h-6.1zM54.8 673.3h6.1v2.9h-6.1zM48.9 676.1h6.1v2.9h-6.1zM37.0 678.9h6.1v2.9h-6.1zM42.9 678.9h6.1v2.9h-6.1zM42.9 681.7h6.1v2.9h-6.1zM54.8 684.5h6.1v2.9h-6.1z" fill="#3f8a3f"/>
<path d="M54.8 634.4h6.1v2.9h-6.1zM48.9 637.1h6.1v2.9h-6.1zM54.8 637.1h6.1v2.9h-6.1zM37.0 645.5h6.1v2.9h-6.1zM48.9 645.5h6.1v2.9h-6.1zM54.8 645.5h6.1v2.9h-6.1zM60.7 651.1h6.1v2.9h-6.1zM37.0 653.9h6.1v2.9h-6.1zM54.8 653.9h6.1v2.9h-6.1zM42.9 656.6h6.1v2.9h-6.1zM54.8 656.6h6.1v2.9h-6.1zM42.9 662.2h6.1v2.9h-6.1zM72.6 667.8h6.1v2.9h-6.1zM90.4 670.5h6.1v2.9h-6.1zM72.6 673.3h6.1v2.9h-6.1zM78.5 673.3h6.1v2.9h-6.1zM66.7 676.1h6.1v2.9h-6.1zM90.4 676.1h6.1v2.9h-6.1zM84.4 681.7h6.1v2.9h-6.1zM66.7 687.2h6.1v2.9h-6.1zM72.6 687.2h6.1v2.9h-6.1zM78.5 687.2h6.1v2.9h-6.1zM84.4 687.2h6.1v2.9h-6.1zM78.5 690.0h6.1v2.9h-6.1zM72.6 692.8h6.1v2.9h-6.1z" fill="#d8e8cc"/>
<path d="M40.0 621.2V618.2H45.9V621.2M57.8 621.2V619.0H63.7V621.2M51.8 621.2V617.6H60.7V619.0M42.9 618.2V616.8H56.3V617.6M75.5 621.2V618.8H81.5V621.2M69.6 621.2V617.2H78.5V618.8M87.4 621.2V618.0H93.3V621.2M74.1 617.2V615.6H90.4V618.0M49.6 616.8V607.7H82.2V615.6" fill="none" stroke="#222" stroke-width="0.9"/>
<text transform="translate(32.20 662.70) rotate(-90) scale(0.92 1)" font-size="8.4" fill="#6aa860" text-anchor="middle">unique pBIC</text>
<text transform="translate(12.00 695.50) scale(0.9 1)" font-size="6.6" fill="#333" text-anchor="start">Z-scores</text>
<rect x="21.40" y="700.90" width="5.00" height="3.10" fill="#303030" stroke="none" stroke-width="1"/>
<rect x="21.40" y="703.98" width="5.00" height="3.10" fill="#4c4c4c" stroke="none" stroke-width="1"/>
<rect x="21.40" y="707.06" width="5.00" height="3.10" fill="#686868" stroke="none" stroke-width="1"/>
<rect x="21.40" y="710.14" width="5.00" height="3.10" fill="#838383" stroke="none" stroke-width="1"/>
<rect x="21.40" y="713.22" width="5.00" height="3.10" fill="#a0a0a0" stroke="none" stroke-width="1"/>
<rect x="21.40" y="716.30" width="5.00" height="3.10" fill="#bcbcbc" stroke="none" stroke-width="1"/>
<rect x="21.40" y="719.38" width="5.00" height="3.10" fill="#d8d8d8" stroke="none" stroke-width="1"/>
<rect x="21.40" y="722.46" width="5.00" height="3.10" fill="#f4f4f4" stroke="none" stroke-width="1"/>
<rect x="21.40" y="700.90" width="5.00" height="24.60" fill="none" stroke="#333" stroke-width="0.5"/>
<text x="19.80" y="704.50" font-size="5.2" fill="#333" text-anchor="end">2</text>
<text x="19.80" y="709.80" font-size="5.2" fill="#333" text-anchor="end">1</text>
<text x="19.80" y="715.10" font-size="5.2" fill="#333" text-anchor="end">0</text>
<text x="19.80" y="720.40" font-size="5.2" fill="#333" text-anchor="end">−1</text>
<text x="19.80" y="725.70" font-size="5.2" fill="#333" text-anchor="end">−2</text>
<rect x="37.00" y="727.00" width="14.80" height="7.70" fill="#f8e4c4" stroke="none" stroke-width="1"/>
<rect x="51.80" y="727.00" width="14.20" height="7.70" fill="#c8c4e0" stroke="none" stroke-width="1"/>
<rect x="66.00" y="727.00" width="30.30" height="7.70" fill="#dcb4c4" stroke="none" stroke-width="1"/>
<text transform="translate(44.40 733.20) scale(0.92 1)" font-size="5.8" fill="#555" text-anchor="middle">YC</text>
<text transform="translate(58.90 733.20) scale(0.92 1)" font-size="5.8" fill="#555" text-anchor="middle">BIC</text>
<text transform="translate(81.20 733.20) scale(0.92 1)" font-size="5.8" fill="#555" text-anchor="middle">pBIC</text>
<path d="M37.0 734.4h6.1v2.6h-6.1zM37.0 736.9h6.1v2.6h-6.1zM37.0 744.2h6.1v2.6h-6.1zM42.9 751.6h6.1v2.6h-6.1zM37.0 759.0h6.1v2.6h-6.1zM42.9 761.4h6.1v2.6h-6.1zM42.9 766.3h6.1v2.6h-6.1z" fill="#9a3028"/>
<path d="M42.9 734.4h6.1v2.6h-6.1zM42.9 744.2h6.1v2.6h-6.1zM42.9 746.7h6.1v2.6h-6.1zM42.9 754.1h6.1v2.6h-6.1zM37.0 763.9h6.1v2.6h-6.1zM42.9 763.9h6.1v2.6h-6.1zM37.0 766.3h6.1v2.6h-6.1z" fill="#a03028"/>
<path d="M48.9 734.4h6.1v2.6h-6.1zM54.8 734.4h6.1v2.6h-6.1zM84.4 736.9h6.1v2.6h-6.1zM72.6 744.2h6.1v2.6h-6.1zM78.5 744.2h6.1v2.6h-6.1zM78.5 746.7h6.1v2.6h-6.1zM60.7 749.1h6.1v2.6h-6.1zM72.6 749.1h6.1v2.6h-6.1zM54.8 751.6h6.1v2.6h-6.1zM84.4 754.1h6.1v2.6h-6.1zM54.8 756.5h6.1v2.6h-6.1zM90.4 759.0h6.1v2.6h-6.1zM54.8 763.9h6.1v2.6h-6.1zM66.7 763.9h6.1v2.6h-6.1zM90.4 763.9h6.1v2.6h-6.1zM72.6 766.3h6.1v2.6h-6.1z" fill="#e8a08a"/>
<path d="M60.7 734.4h6.1v2.6h-6.1zM84.4 734.4h6.1v2.6h-6.1zM54.8 736.9h6.1v2.6h-6.1zM66.7 736.9h6.1v2.6h-6.1zM48.9 739.3h6.1v2.6h-6.1zM54.8 744.2h6.1v2.6h-6.1zM66.7 744.2h6.1v2.6h-6.1zM84.4 744.2h6.1v2.6h-6.1zM90.4 744.2h6.1v2.6h-6.1zM54.8 746.7h6.1v2.6h-6.1zM66.7 746.7h6.1v2.6h-6.1zM72.6 746.7h6.1v2.6h-6.1zM84.4 746.7h6.1v2.6h-6.1zM72.6 751.6h6.1v2.6h-6.1zM90.4 751.6h6.1v2.6h-6.1zM66.7 754.1h6.1v2.6h-6.1zM78.5 756.5h6.1v2.6h-6.1zM60.7 761.4h6.1v2.6h-6.1zM72.6 763.9h6.1v2.6h-6.1zM84.4 763.9h6.1v2.6h-6.1z" fill="#f0b8a0"/>
<path d="M66.7 734.4h6.1v2.6h-6.1zM48.9 736.9h6.1v2.6h-6.1zM60.7 739.3h6.1v2.6h-6.1zM78.5 739.3h6.1v2.6h-6.1zM54.8 741.8h6.1v2.6h-6.1zM60.7 741.8h6.1v2.6h-6.1zM84.4 741.8h6.1v2.6h-6.1zM60.7 754.1h6.1v2.6h-6.1zM72.6 756.5h6.1v2.6h-6.1zM84.4 759.0h6.1v2.6h-6.1zM72.6 761.4h6.1v2.6h-6.1zM84.4 761.4h6.1v2.6h-6.1zM90.4 761.4h6.1v2.6h-6.1zM90.4 766.3h6.1v2.6h-6.1z" fill="#d87a64"/>
<path d="M72.6 734.4h6.1v2.6h-6.1zM90.4 734.4h6.1v2.6h-6.1zM72.6 736.9h6.1v2.6h-6.1zM54.8 739.3h6.1v2.6h-6.1zM84.4 739.3h6.1v2.6h-6.1zM66.7 741.8h6.1v2.6h-6.1zM72.6 741.8h6.1v2.6h-6.1zM78.5 741.8h6.1v2.6h-6.1zM90.4 741.8h6.1v2.6h-6.1zM48.9 744.2h6.1v2.6h-6.1zM48.9 746.7h6.1v2.6h-6.1zM60.7 746.7h6.1v2.6h-6.1zM66.7 749.1h6.1v2.6h-6.1zM90.4 749.1h6.1v2.6h-6.1zM60.7 751.6h6.1v2.6h-6.1zM66.7 751.6h6.1v2.6h-6.1zM54.8 754.1h6.1v2.6h-6.1zM72.6 754.1h6.1v2.6h-6.1zM90.4 756.5h6.1v2.6h-6.1zM60.7 759.0h6.1v2.6h-6.1zM48.9 761.4h6.1v2.6h-6.1zM48.9 766.3h6.1v2.6h-6.1zM78.5 766.3h6.1v2.6h-6.1z" fill="#e49478"/>
<path d="M78.5 734.4h6.1v2.6h-6.1zM66.7 739.3h6.1v2.6h-6.1zM72.6 739.3h6.1v2.6h-6.1zM90.4 739.3h6.1v2.6h-6.1zM60.7 744.2h6.1v2.6h-6.1zM84.4 751.6h6.1v2.6h-6.1zM78.5 754.1h6.1v2.6h-6.1zM90.4 754.1h6.1v2.6h-6.1zM48.9 756.5h6.1v2.6h-6.1zM60.7 756.5h6.1v2.6h-6.1zM66.7 756.5h6.1v2.6h-6.1zM84.4 756.5h6.1v2.6h-6.1zM48.9 759.0h6.1v2.6h-6.1zM72.6 759.0h6.1v2.6h-6.1zM78.5 759.0h6.1v2.6h-6.1zM54.8 761.4h6.1v2.6h-6.1zM78.5 761.4h6.1v2.6h-6.1zM48.9 763.9h6.1v2.6h-6.1zM60.7 763.9h6.1v2.6h-6.1zM60.7 766.3h6.1v2.6h-6.1zM66.7 766.3h6.1v2.6h-6.1z" fill="#dc8a72"/>
<path d="M42.9 736.9h6.1v2.6h-6.1zM42.9 739.3h6.1v2.6h-6.1zM42.9 741.8h6.1v2.6h-6.1zM42.9 749.1h6.1v2.6h-6.1zM37.0 756.5h6.1v2.6h-6.1zM42.9 759.0h6.1v2.6h-6.1zM37.0 761.4h6.1v2.6h-6.1z" fill="#a83830"/>
<path d="M60.7 736.9h6.1v2.6h-6.1zM78.5 736.9h6.1v2.6h-6.1zM90.4 736.9h6.1v2.6h-6.1zM48.9 741.8h6.1v2.6h-6.1zM90.4 746.7h6.1v2.6h-6.1zM48.9 749.1h6.1v2.6h-6.1zM54.8 749.1h6.1v2.6h-6.1zM78.5 749.1h6.1v2.6h-6.1zM84.4 749.1h6.1v2.6h-6.1zM48.9 751.6h6.1v2.6h-6.1zM78.5 751.6h6.1v2.6h-6.1zM48.9 754.1h6.1v2.6h-6.1zM54.8 759.0h6.1v2.6h-6.1zM66.7 759.0h6.1v2.6h-6.1zM66.7 761.4h6.1v2.6h-6.1zM78.5 763.9h6.1v2.6h-6.1zM54.8 766.3h6.1v2.6h-6.1zM84.4 766.3h6.1v2.6h-6.1z" fill="#f4c4b0"/>
<path d="M37.0 739.3h6.1v2.6h-6.1zM37.0 741.8h6.1v2.6h-6.1zM37.0 746.7h6.1v2.6h-6.1zM37.0 749.1h6.1v2.6h-6.1zM37.0 751.6h6.1v2.6h-6.1zM37.0 754.1h6.1v2.6h-6.1zM42.9 756.5h6.1v2.6h-6.1z" fill="#b04038"/>
<path d="M40.0 727.0V723.7H45.9V727.0M51.8 727.0V725.0H57.8V727.0M63.7 727.0V724.5H69.6V727.0M54.8 725.0V723.0H66.6V724.5M75.5 727.0V725.0H81.5V727.0M87.4 727.0V724.0H93.3V727.0M78.5 725.0V722.5H90.4V724.0M60.7 723.0V720.0H84.4V722.5M42.9 723.7V712.5H72.6V720.0" fill="none" stroke="#222" stroke-width="0.9"/>
<text transform="translate(30.80 752.20) rotate(-90) scale(0.92 1)" font-size="8.6" fill="#c84848" text-anchor="middle">Ig genes</text>
<rect x="115.80" y="621.90" width="14.50" height="7.40" fill="#f8e4c4" stroke="none" stroke-width="1"/>
<rect x="130.30" y="621.90" width="15.00" height="7.40" fill="#c8c4e0" stroke="none" stroke-width="1"/>
<rect x="145.30" y="621.90" width="29.70" height="7.40" fill="#dcb4c4" stroke="none" stroke-width="1"/>
<text transform="translate(123.00 627.80) scale(0.92 1)" font-size="5.8" fill="#555" text-anchor="middle">YC</text>
<text transform="translate(137.80 627.80) scale(0.92 1)" font-size="5.8" fill="#555" text-anchor="middle">BIC</text>
<text transform="translate(160.10 627.80) scale(0.92 1)" font-size="5.8" fill="#555" text-anchor="middle">pBIC</text>
<path d="M115.8 629.3h6.1v2.4h-6.1zM121.7 629.3h6.1v2.4h-6.1zM121.7 631.6h6.1v2.4h-6.1zM115.8 636.1h6.1v2.4h-6.1zM121.7 636.1h6.1v2.4h-6.1zM115.8 647.4h6.1v2.4h-6.1zM115.8 672.2h6.1v2.4h-6.1zM151.3 674.5h6.1v2.4h-6.1zM163.2 674.5h6.1v2.4h-6.1zM163.2 690.3h6.1v2.4h-6.1zM139.5 692.6h6.1v2.4h-6.1zM127.6 694.8h6.1v2.4h-6.1zM151.3 694.8h6.1v2.4h-6.1zM127.6 697.1h6.1v2.4h-6.1zM157.2 699.3h6.1v2.4h-6.1zM169.1 699.3h6.1v2.4h-6.1zM139.5 703.9h6.1v2.4h-6.1zM151.3 703.9h6.1v2.4h-6.1zM157.2 703.9h6.1v2.4h-6.1zM145.4 706.1h6.1v2.4h-6.1zM151.3 712.9h6.1v2.4h-6.1zM169.1 724.2h6.1v2.4h-6.1zM133.6 731.0h6.1v2.4h-6.1zM169.1 731.0h6.1v2.4h-6.1zM151.3 737.8h6.1v2.4h-6.1zM133.6 742.3h6.1v2.4h-6.1zM145.4 742.3h6.1v2.4h-6.1zM127.6 746.8h6.1v2.4h-6.1zM127.6 749.1h6.1v2.4h-6.1zM157.2 749.1h6.1v2.4h-6.1zM139.5 753.6h6.1v2.4h-6.1zM151.3 760.4h6.1v2.4h-6.1zM151.3 762.6h6.1v2.4h-6.1zM169.1 762.6h6.1v2.4h-6.1zM163.2 764.9h6.1v2.4h-6.1z" fill="#c4d2e8"/>
<path d="M127.6 629.3h6.1v2.4h-6.1zM127.6 631.6h6.1v2.4h-6.1zM133.6 631.6h6.1v2.4h-6.1zM169.1 631.6h6.1v2.4h-6.1zM139.5 633.8h6.1v2.4h-6.1zM151.3 633.8h6.1v2.4h-6.1zM127.6 636.1h6.1v2.4h-6.1zM133.6 636.1h6.1v2.4h-6.1zM139.5 636.1h6.1v2.4h-6.1zM151.3 636.1h6.1v2.4h-6.1zM157.2 640.6h6.1v2.4h-6.1zM145.4 642.9h6.1v2.4h-6.1zM145.4 647.4h6.1v2.4h-6.1zM145.4 649.6h6.1v2.4h-6.1zM163.2 649.6h6.1v2.4h-6.1zM169.1 651.9h6.1v2.4h-6.1zM145.4 656.4h6.1v2.4h-6.1zM169.1 656.4h6.1v2.4h-6.1zM145.4 665.5h6.1v2.4h-6.1zM163.2 667.7h6.1v2.4h-6.1z" fill="#4e7cb8"/>
<path d="M133.6 629.3h6.1v2.4h-6.1zM139.5 629.3h6.1v2.4h-6.1zM145.4 629.3h6.1v2.4h-6.1zM157.2 629.3h6.1v2.4h-6.1zM163.2 629.3h6.1v2.4h-6.1zM139.5 631.6h6.1v2.4h-6.1zM157.2 631.6h6.1v2.4h-6.1zM127.6 633.8h6.1v2.4h-6.1zM157.2 636.1h6.1v2.4h-6.1zM139.5 638.3h6.1v2.4h-6.1zM145.4 638.3h6.1v2.4h-6.1zM127.6 640.6h6.1v2.4h-6.1zM139.5 642.9h6.1v2.4h-6.1zM139.5 645.1h6.1v2.4h-6.1zM151.3 645.1h6.1v2.4h-6.1zM139.5 647.4h6.1v2.4h-6.1zM169.1 647.4h6.1v2.4h-6.1zM157.2 649.6h6.1v2.4h-6.1zM127.6 651.9h6.1v2.4h-6.1zM139.5 651.9h6.1v2.4h-6.1zM151.3 651.9h6.1v2.4h-6.1zM157.2 651.9h6.1v2.4h-6.1zM163.2 651.9h6.1v2.4h-6.1zM133.6 656.4h6.1v2.4h-6.1zM163.2 658.7h6.1v2.4h-6.1zM151.3 660.9h6.1v2.4h-6.1zM127.6 663.2h6.1v2.4h-6.1zM163.2 663.2h6.1v2.4h-6.1zM169.1 663.2h6.1v2.4h-6.1zM127.6 667.7h6.1v2.4h-6.1zM157.2 667.7h6.1v2.4h-6.1z" fill="#5a84bc"/>
<path d="M151.3 629.3h6.1v2.4h-6.1zM163.2 636.1h6.1v2.4h-6.1zM163.2 642.9h6.1v2.4h-6.1zM169.1 642.9h6.1v2.4h-6.1zM157.2 647.4h6.1v2.4h-6.1zM163.2 647.4h6.1v2.4h-6.1zM169.1 649.6h6.1v2.4h-6.1zM145.4 654.2h6.1v2.4h-6.1zM163.2 654.2h6.1v2.4h-6.1zM151.3 658.7h6.1v2.4h-6.1zM169.1 667.7h6.1v2.4h-6.1zM163.2 672.2h6.1v2.4h-6.1zM169.1 672.2h6.1v2.4h-6.1zM121.7 679.0h6.1v2.4h-6.1zM115.8 681.3h6.1v2.4h-6.1zM115.8 683.5h6.1v2.4h-6.1zM121.7 692.6h6.1v2.4h-6.1zM121.7 697.1h6.1v2.4h-6.1zM115.8 699.3h6.1v2.4h-6.1zM115.8 701.6h6.1v2.4h-6.1zM121.7 701.6h6.1v2.4h-6.1zM121.7 703.9h6.1v2.4h-6.1zM121.7 710.6h6.1v2.4h-6.1zM115.8 712.9h6.1v2.4h-6.1zM115.8 715.2h6.1v2.4h-6.1zM121.7 717.4h6.1v2.4h-6.1zM121.7 719.7h6.1v2.4h-6.1zM115.8 733.2h6.1v2.4h-6.1zM121.7 737.8h6.1v2.4h-6.1zM115.8 740.0h6.1v2.4h-6.1zM115.8 744.5h6.1v2.4h-6.1zM115.8 746.8h6.1v2.4h-6.1zM121.7 746.8h6.1v2.4h-6.1zM121.7 749.1h6.1v2.4h-6.1zM115.8 751.3h6.1v2.4h-6.1zM115.8 755.8h6.1v2.4h-6.1zM121.7 764.9h6.1v2.4h-6.1z" fill="#3c66a4"/>
<path d="M169.1 629.3h6.1v2.4h-6.1zM151.3 631.6h6.1v2.4h-6.1zM163.2 633.8h6.1v2.4h-6.1zM151.3 642.9h6.1v2.4h-6.1zM163.2 645.1h6.1v2.4h-6.1zM151.3 649.6h6.1v2.4h-6.1zM157.2 654.2h6.1v2.4h-6.1zM157.2 660.9h6.1v2.4h-6.1zM169.1 660.9h6.1v2.4h-6.1zM151.3 663.2h6.1v2.4h-6.1zM169.1 670.0h6.1v2.4h-6.1zM151.3 672.2h6.1v2.4h-6.1zM121.7 676.8h6.1v2.4h-6.1zM121.7 683.5h6.1v2.4h-6.1zM121.7 688.1h6.1v2.4h-6.1zM115.8 690.3h6.1v2.4h-6.1zM121.7 699.3h6.1v2.4h-6.1zM121.7 706.1h6.1v2.4h-6.1zM121.7 708.4h6.1v2.4h-6.1zM115.8 717.4h6.1v2.4h-6.1zM121.7 721.9h6.1v2.4h-6.1zM121.7 740.0h6.1v2.4h-6.1zM121.7 742.3h6.1v2.4h-6.1zM121.7 751.3h6.1v2.4h-6.1zM121.7 762.6h6.1v2.4h-6.1zM115.8 764.9h6.1v2.4h-6.1zM121.7 767.1h6.1v2.4h-6.1z" fill="#4a78b4"/>
<path d="M115.8 631.6h6.1v2.4h-6.1zM121.7 638.3h6.1v2.4h-6.1zM115.8 649.6h6.1v2.4h-6.1zM121.7 649.6h6.1v2.4h-6.1zM121.7 663.2h6.1v2.4h-6.1zM115.8 665.5h6.1v2.4h-6.1zM121.7 665.5h6.1v2.4h-6.1zM115.8 667.7h6.1v2.4h-6.1zM121.7 667.7h6.1v2.4h-6.1zM115.8 670.0h6.1v2.4h-6.1zM121.7 670.0h6.1v2.4h-6.1zM139.5 679.0h6.1v2.4h-6.1zM145.4 679.0h6.1v2.4h-6.1zM157.2 679.0h6.1v2.4h-6.1zM133.6 681.3h6.1v2.4h-6.1zM139.5 681.3h6.1v2.4h-6.1zM151.3 688.1h6.1v2.4h-6.1zM127.6 690.3h6.1v2.4h-6.1zM139.5 690.3h6.1v2.4h-6.1zM145.4 692.6h6.1v2.4h-6.1zM133.6 699.3h6.1v2.4h-6.1zM145.4 699.3h6.1v2.4h-6.1zM127.6 708.4h6.1v2.4h-6.1zM169.1 708.4h6.1v2.4h-6.1zM133.6 710.6h6.1v2.4h-6.1zM169.1 710.6h6.1v2.4h-6.1zM163.2 712.9h6.1v2.4h-6.1zM133.6 715.2h6.1v2.4h-6.1zM157.2 715.2h6.1v2.4h-6.1zM127.6 717.4h6.1v2.4h-6.1zM133.6 717.4h6.1v2.4h-6.1zM151.3 721.9h6.1v2.4h-6.1zM163.2 724.2h6.1v2.4h-6.1zM127.6 728.7h6.1v2.4h-6.1zM145.4 733.2h6.1v2.4h-6.1zM139.5 742.3h6.1v2.4h-6.1zM163.2 751.3h6.1v2.4h-6.1zM127.6 753.6h6.1v2.4h-6.1zM133.6 762.6h6.1v2.4h-6.1zM145.4 762.6h6.1v2.4h-6.1zM157.2 762.6h6.1v2.4h-6.1zM151.3 767.1h6.1v2.4h-6.1z" fill="#d0dcec"/>
<path d="M145.4 631.6h6.1v2.4h-6.1zM163.2 631.6h6.1v2.4h-6.1zM145.4 636.1h6.1v2.4h-6.1zM169.1 636.1h6.1v2.4h-6.1zM157.2 638.3h6.1v2.4h-6.1zM169.1 640.6h6.1v2.4h-6.1zM145.4 645.1h6.1v2.4h-6.1zM157.2 645.1h6.1v2.4h-6.1zM151.3 656.4h6.1v2.4h-6.1zM163.2 656.4h6.1v2.4h-6.1zM157.2 658.7h6.1v2.4h-6.1zM145.4 663.2h6.1v2.4h-6.1zM157.2 663.2h6.1v2.4h-6.1zM151.3 665.5h6.1v2.4h-6.1zM145.4 670.0h6.1v2.4h-6.1zM151.3 670.0h6.1v2.4h-6.1zM163.2 670.0h6.1v2.4h-6.1zM145.4 672.2h6.1v2.4h-6.1zM115.8 674.5h6.1v2.4h-6.1zM121.7 674.5h6.1v2.4h-6.1zM115.8 676.8h6.1v2.4h-6.1zM115.8 679.0h6.1v2.4h-6.1zM121.7 681.3h6.1v2.4h-6.1zM121.7 685.8h6.1v2.4h-6.1zM115.8 688.1h6.1v2.4h-6.1zM115.8 692.6h6.1v2.4h-6.1zM115.8 694.8h6.1v2.4h-6.1zM115.8 697.1h6.1v2.4h-6.1zM115.8 706.1h6.1v2.4h-6.1zM115.8 710.6h6.1v2.4h-6.1zM121.7 712.9h6.1v2.4h-6.1zM121.7 715.2h6.1v2.4h-6.1zM115.8 719.7h6.1v2.4h-6.1zM121.7 724.2h6.1v2.4h-6.1zM115.8 726.5h6.1v2.4h-6.1zM115.8 728.7h6.1v2.4h-6.1zM121.7 728.7h6.1v2.4h-6.1zM121.7 731.0h6.1v2.4h-6.1zM115.8 735.5h6.1v2.4h-6.1zM121.7 735.5h6.1v2.4h-6.1zM115.8 753.6h6.1v2.4h-6.1zM121.7 753.6h6.1v2.4h-6.1zM121.7 755.8h6.1v2.4h-6.1zM121.7 758.1h6.1v2.4h-6.1zM115.8 760.4h6.1v2.4h-6.1zM115.8 767.1h6.1v2.4h-6.1z" fill="#365e9c"/>
<path d="M115.8 633.8h6.1v2.4h-6.1zM115.8 638.3h6.1v2.4h-6.1zM115.8 640.6h6.1v2.4h-6.1zM115.8 642.9h6.1v2.4h-6.1zM115.8 645.1h6.1v2.4h-6.1zM121.7 645.1h6.1v2.4h-6.1zM121.7 647.4h6.1v2.4h-6.1zM121.7 651.9h6.1v2.4h-6.1zM115.8 656.4h6.1v2.4h-6.1zM121.7 656.4h6.1v2.4h-6.1zM115.8 658.7h6.1v2.4h-6.1zM121.7 658.7h6.1v2.4h-6.1zM115.8 660.9h6.1v2.4h-6.1zM121.7 660.9h6.1v2.4h-6.1zM121.7 672.2h6.1v2.4h-6.1zM157.2 674.5h6.1v2.4h-6.1zM169.1 674.5h6.1v2.4h-6.1zM139.5 676.8h6.1v2.4h-6.1zM157.2 676.8h6.1v2.4h-6.1zM163.2 676.8h6.1v2.4h-6.1zM151.3 679.0h6.1v2.4h-6.1zM169.1 685.8h6.1v2.4h-6.1zM145.4 688.1h6.1v2.4h-6.1zM133.6 694.8h6.1v2.4h-6.1zM157.2 701.6h6.1v2.4h-6.1zM169.1 703.9h6.1v2.4h-6.1zM127.6 706.1h6.1v2.4h-6.1zM145.4 708.4h6.1v2.4h-6.1zM127.6 710.6h6.1v2.4h-6.1zM133.6 712.9h6.1v2.4h-6.1zM139.5 712.9h6.1v2.4h-6.1zM151.3 715.2h6.1v2.4h-6.1zM163.2 715.2h6.1v2.4h-6.1zM157.2 717.4h6.1v2.4h-6.1zM145.4 719.7h6.1v2.4h-6.1zM157.2 719.7h6.1v2.4h-6.1zM139.5 721.9h6.1v2.4h-6.1zM169.1 721.9h6.1v2.4h-6.1zM151.3 724.2h6.1v2.4h-6.1zM157.2 726.5h6.1v2.4h-6.1zM133.6 728.7h6.1v2.4h-6.1zM145.4 728.7h6.1v2.4h-6.1zM145.4 735.5h6.1v2.4h-6.1zM157.2 735.5h6.1v2.4h-6.1zM127.6 740.0h6.1v2.4h-6.1zM145.4 740.0h6.1v2.4h-6.1zM157.2 740.0h6.1v2.4h-6.1zM127.6 742.3h6.1v2.4h-6.1zM157.2 746.8h6.1v2.4h-6.1zM139.5 749.1h6.1v2.4h-6.1zM133.6 751.3h6.1v2.4h-6.1zM127.6 755.8h6.1v2.4h-6.1zM133.6 755.8h6.1v2.4h-6.1zM139.5 760.4h6.1v2.4h-6.1zM169.1 760.4h6.1v2.4h-6.1zM139.5 764.9h6.1v2.4h-6.1zM157.2 764.9h6.1v2.4h-6.1z" fill="#dae2ef"/>
<path d="M121.7 633.8h6.1v2.4h-6.1zM121.7 640.6h6.1v2.4h-6.1zM121.7 642.9h6.1v2.4h-6.1zM115.8 651.9h6.1v2.4h-6.1zM115.8 654.2h6.1v2.4h-6.1zM121.7 654.2h6.1v2.4h-6.1zM115.8 663.2h6.1v2.4h-6.1zM133.6 674.5h6.1v2.4h-6.1zM151.3 676.8h6.1v2.4h-6.1zM133.6 679.0h6.1v2.4h-6.1zM127.6 683.5h6.1v2.4h-6.1zM145.4 683.5h6.1v2.4h-6.1zM157.2 683.5h6.1v2.4h-6.1zM169.1 692.6h6.1v2.4h-6.1zM151.3 701.6h6.1v2.4h-6.1zM133.6 703.9h6.1v2.4h-6.1zM139.5 708.4h6.1v2.4h-6.1zM157.2 708.4h6.1v2.4h-6.1zM163.2 719.7h6.1v2.4h-6.1zM145.4 726.5h6.1v2.4h-6.1zM151.3 735.5h6.1v2.4h-6.1zM127.6 737.8h6.1v2.4h-6.1zM133.6 744.5h6.1v2.4h-6.1zM127.6 758.1h6.1v2.4h-6.1zM133.6 758.1h6.1v2.4h-6.1zM157.2 758.1h6.1v2.4h-6.1zM133.6 764.9h6.1v2.4h-6.1zM139.5 767.1h6.1v2.4h-6.1zM145.4 767.1h6.1v2.4h-6.1zM169.1 767.1h6.1v2.4h-6.1z" fill="#e2e8f2"/>
<path d="M133.6 633.8h6.1v2.4h-6.1zM169.1 633.8h6.1v2.4h-6.1zM151.3 638.3h6.1v2.4h-6.1zM169.1 638.3h6.1v2.4h-6.1zM163.2 640.6h6.1v2.4h-6.1zM157.2 642.9h6.1v2.4h-6.1zM169.1 645.1h6.1v2.4h-6.1zM151.3 647.4h6.1v2.4h-6.1zM145.4 651.9h6.1v2.4h-6.1zM151.3 654.2h6.1v2.4h-6.1zM157.2 656.4h6.1v2.4h-6.1zM169.1 658.7h6.1v2.4h-6.1zM163.2 660.9h6.1v2.4h-6.1zM163.2 665.5h6.1v2.4h-6.1zM151.3 667.7h6.1v2.4h-6.1zM157.2 670.0h6.1v2.4h-6.1z" fill="#6890c4"/>
<path d="M145.4 633.8h6.1v2.4h-6.1zM157.2 633.8h6.1v2.4h-6.1zM163.2 638.3h6.1v2.4h-6.1zM145.4 640.6h6.1v2.4h-6.1zM151.3 640.6h6.1v2.4h-6.1zM169.1 654.2h6.1v2.4h-6.1zM145.4 658.7h6.1v2.4h-6.1zM145.4 660.9h6.1v2.4h-6.1zM157.2 665.5h6.1v2.4h-6.1zM169.1 665.5h6.1v2.4h-6.1zM145.4 667.7h6.1v2.4h-6.1zM157.2 672.2h6.1v2.4h-6.1zM115.8 685.8h6.1v2.4h-6.1zM121.7 690.3h6.1v2.4h-6.1zM121.7 694.8h6.1v2.4h-6.1zM115.8 703.9h6.1v2.4h-6.1zM115.8 708.4h6.1v2.4h-6.1zM115.8 721.9h6.1v2.4h-6.1zM115.8 724.2h6.1v2.4h-6.1zM121.7 726.5h6.1v2.4h-6.1zM115.8 731.0h6.1v2.4h-6.1zM121.7 733.2h6.1v2.4h-6.1zM115.8 737.8h6.1v2.4h-6.1zM115.8 742.3h6.1v2.4h-6.1zM121.7 744.5h6.1v2.4h-6.1zM115.8 749.1h6.1v2.4h-6.1zM115.8 758.1h6.1v2.4h-6.1zM121.7 760.4h6.1v2.4h-6.1zM115.8 762.6h6.1v2.4h-6.1z" fill="#4470ac"/>
<path d="M127.6 638.3h6.1v2.4h-6.1zM139.5 640.6h6.1v2.4h-6.1zM127.6 656.4h6.1v2.4h-6.1zM139.5 667.7h6.1v2.4h-6.1zM127.6 670.0h6.1v2.4h-6.1zM139.5 670.0h6.1v2.4h-6.1zM133.6 676.8h6.1v2.4h-6.1zM145.4 681.3h6.1v2.4h-6.1zM133.6 683.5h6.1v2.4h-6.1zM139.5 683.5h6.1v2.4h-6.1zM169.1 683.5h6.1v2.4h-6.1zM145.4 685.8h6.1v2.4h-6.1zM145.4 690.3h6.1v2.4h-6.1zM145.4 697.1h6.1v2.4h-6.1zM151.3 708.4h6.1v2.4h-6.1zM169.1 712.9h6.1v2.4h-6.1zM145.4 715.2h6.1v2.4h-6.1zM151.3 726.5h6.1v2.4h-6.1zM151.3 728.7h6.1v2.4h-6.1zM169.1 728.7h6.1v2.4h-6.1zM133.6 733.2h6.1v2.4h-6.1zM163.2 733.2h6.1v2.4h-6.1zM151.3 740.0h6.1v2.4h-6.1zM157.2 742.3h6.1v2.4h-6.1zM145.4 744.5h6.1v2.4h-6.1zM157.2 744.5h6.1v2.4h-6.1zM169.1 744.5h6.1v2.4h-6.1zM163.2 746.8h6.1v2.4h-6.1zM139.5 751.3h6.1v2.4h-6.1zM163.2 753.6h6.1v2.4h-6.1zM145.4 755.8h6.1v2.4h-6.1zM139.5 758.1h6.1v2.4h-6.1zM133.6 767.1h6.1v2.4h-6.1z" fill="#7a9ccc"/>
<path d="M133.6 638.3h6.1v2.4h-6.1zM127.6 642.9h6.1v2.4h-6.1zM133.6 645.1h6.1v2.4h-6.1zM139.5 649.6h6.1v2.4h-6.1zM133.6 654.2h6.1v2.4h-6.1zM133.6 658.7h6.1v2.4h-6.1zM133.6 663.2h6.1v2.4h-6.1zM133.6 670.0h6.1v2.4h-6.1zM127.6 672.2h6.1v2.4h-6.1zM139.5 672.2h6.1v2.4h-6.1zM169.1 679.0h6.1v2.4h-6.1zM127.6 681.3h6.1v2.4h-6.1zM163.2 681.3h6.1v2.4h-6.1zM133.6 685.8h6.1v2.4h-6.1zM151.3 692.6h6.1v2.4h-6.1zM163.2 692.6h6.1v2.4h-6.1zM163.2 694.8h6.1v2.4h-6.1zM127.6 703.9h6.1v2.4h-6.1zM133.6 708.4h6.1v2.4h-6.1zM157.2 712.9h6.1v2.4h-6.1zM145.4 717.4h6.1v2.4h-6.1zM127.6 719.7h6.1v2.4h-6.1zM157.2 721.9h6.1v2.4h-6.1zM163.2 726.5h6.1v2.4h-6.1zM169.1 726.5h6.1v2.4h-6.1zM145.4 731.0h6.1v2.4h-6.1zM127.6 735.5h6.1v2.4h-6.1zM157.2 737.8h6.1v2.4h-6.1zM163.2 742.3h6.1v2.4h-6.1zM169.1 742.3h6.1v2.4h-6.1zM139.5 744.5h6.1v2.4h-6.1zM163.2 749.1h6.1v2.4h-6.1zM151.3 751.3h6.1v2.4h-6.1zM133.6 753.6h6.1v2.4h-6.1zM157.2 753.6h6.1v2.4h-6.1zM163.2 758.1h6.1v2.4h-6.1zM145.4 764.9h6.1v2.4h-6.1zM163.2 767.1h6.1v2.4h-6.1z" fill="#b8cce6"/>
<path d="M133.6 640.6h6.1v2.4h-6.1zM133.6 642.9h6.1v2.4h-6.1zM133.6 647.4h6.1v2.4h-6.1zM127.6 649.6h6.1v2.4h-6.1zM133.6 649.6h6.1v2.4h-6.1zM127.6 658.7h6.1v2.4h-6.1zM139.5 658.7h6.1v2.4h-6.1zM139.5 660.9h6.1v2.4h-6.1zM127.6 665.5h6.1v2.4h-6.1zM139.5 665.5h6.1v2.4h-6.1zM127.6 676.8h6.1v2.4h-6.1zM157.2 681.3h6.1v2.4h-6.1zM151.3 683.5h6.1v2.4h-6.1zM163.2 683.5h6.1v2.4h-6.1zM127.6 685.8h6.1v2.4h-6.1zM163.2 685.8h6.1v2.4h-6.1zM163.2 688.1h6.1v2.4h-6.1zM133.6 690.3h6.1v2.4h-6.1zM151.3 690.3h6.1v2.4h-6.1zM133.6 697.1h6.1v2.4h-6.1zM157.2 697.1h6.1v2.4h-6.1zM169.1 697.1h6.1v2.4h-6.1zM127.6 699.3h6.1v2.4h-6.1zM139.5 701.6h6.1v2.4h-6.1zM163.2 701.6h6.1v2.4h-6.1zM133.6 706.1h6.1v2.4h-6.1zM139.5 706.1h6.1v2.4h-6.1zM163.2 706.1h6.1v2.4h-6.1zM169.1 706.1h6.1v2.4h-6.1zM157.2 710.6h6.1v2.4h-6.1zM163.2 710.6h6.1v2.4h-6.1zM127.6 715.2h6.1v2.4h-6.1zM139.5 715.2h6.1v2.4h-6.1zM169.1 715.2h6.1v2.4h-6.1zM139.5 717.4h6.1v2.4h-6.1zM151.3 717.4h6.1v2.4h-6.1zM163.2 721.9h6.1v2.4h-6.1zM127.6 724.2h6.1v2.4h-6.1zM133.6 726.5h6.1v2.4h-6.1zM139.5 728.7h6.1v2.4h-6.1zM127.6 731.0h6.1v2.4h-6.1zM139.5 731.0h6.1v2.4h-6.1zM151.3 731.0h6.1v2.4h-6.1zM127.6 733.2h6.1v2.4h-6.1zM139.5 733.2h6.1v2.4h-6.1zM151.3 733.2h6.1v2.4h-6.1zM157.2 733.2h6.1v2.4h-6.1zM133.6 735.5h6.1v2.4h-6.1zM163.2 735.5h6.1v2.4h-6.1zM169.1 735.5h6.1v2.4h-6.1zM163.2 737.8h6.1v2.4h-6.1zM169.1 737.8h6.1v2.4h-6.1zM133.6 740.0h6.1v2.4h-6.1zM163.2 740.0h6.1v2.4h-6.1zM151.3 742.3h6.1v2.4h-6.1zM151.3 744.5h6.1v2.4h-6.1zM163.2 744.5h6.1v2.4h-6.1zM133.6 746.8h6.1v2.4h-6.1zM169.1 751.3h6.1v2.4h-6.1zM163.2 755.8h6.1v2.4h-6.1zM169.1 758.1h6.1v2.4h-6.1zM127.6 760.4h6.1v2.4h-6.1zM157.2 760.4h6.1v2.4h-6.1zM163.2 760.4h6.1v2.4h-6.1zM127.6 762.6h6.1v2.4h-6.1zM139.5 762.6h6.1v2.4h-6.1zM127.6 764.9h6.1v2.4h-6.1zM169.1 764.9h6.1v2.4h-6.1zM127.6 767.1h6.1v2.4h-6.1z" fill="#9cb8dc"/>
<path d="M127.6 645.1h6.1v2.4h-6.1zM127.6 647.4h6.1v2.4h-6.1zM139.5 654.2h6.1v2.4h-6.1zM139.5 656.4h6.1v2.4h-6.1zM139.5 663.2h6.1v2.4h-6.1zM133.6 665.5h6.1v2.4h-6.1zM133.6 667.7h6.1v2.4h-6.1zM139.5 674.5h6.1v2.4h-6.1zM169.1 676.8h6.1v2.4h-6.1zM127.6 679.0h6.1v2.4h-6.1zM151.3 681.3h6.1v2.4h-6.1zM151.3 685.8h6.1v2.4h-6.1zM133.6 688.1h6.1v2.4h-6.1zM157.2 690.3h6.1v2.4h-6.1zM157.2 692.6h6.1v2.4h-6.1zM139.5 694.8h6.1v2.4h-6.1zM169.1 694.8h6.1v2.4h-6.1zM163.2 697.1h6.1v2.4h-6.1zM139.5 699.3h6.1v2.4h-6.1zM163.2 699.3h6.1v2.4h-6.1zM127.6 701.6h6.1v2.4h-6.1zM145.4 701.6h6.1v2.4h-6.1zM145.4 703.9h6.1v2.4h-6.1zM151.3 706.1h6.1v2.4h-6.1zM163.2 708.4h6.1v2.4h-6.1zM127.6 712.9h6.1v2.4h-6.1zM163.2 717.4h6.1v2.4h-6.1zM133.6 719.7h6.1v2.4h-6.1zM139.5 719.7h6.1v2.4h-6.1zM127.6 721.9h6.1v2.4h-6.1zM145.4 721.9h6.1v2.4h-6.1zM139.5 724.2h6.1v2.4h-6.1zM127.6 726.5h6.1v2.4h-6.1zM157.2 731.0h6.1v2.4h-6.1zM133.6 737.8h6.1v2.4h-6.1zM151.3 746.8h6.1v2.4h-6.1zM133.6 749.1h6.1v2.4h-6.1zM151.3 749.1h6.1v2.4h-6.1zM127.6 751.3h6.1v2.4h-6.1zM145.4 751.3h6.1v2.4h-6.1zM151.3 753.6h6.1v2.4h-6.1zM169.1 755.8h6.1v2.4h-6.1zM151.3 758.1h6.1v2.4h-6.1zM151.3 764.9h6.1v2.4h-6.1z" fill="#a8c0e0"/>
<path d="M133.6 651.9h6.1v2.4h-6.1zM127.6 654.2h6.1v2.4h-6.1zM127.6 660.9h6.1v2.4h-6.1zM133.6 660.9h6.1v2.4h-6.1zM133.6 672.2h6.1v2.4h-6.1zM127.6 674.5h6.1v2.4h-6.1zM145.4 674.5h6.1v2.4h-6.1zM145.4 676.8h6.1v2.4h-6.1zM163.2 679.0h6.1v2.4h-6.1zM169.1 681.3h6.1v2.4h-6.1zM139.5 685.8h6.1v2.4h-6.1zM157.2 685.8h6.1v2.4h-6.1zM127.6 688.1h6.1v2.4h-6.1zM139.5 688.1h6.1v2.4h-6.1zM157.2 688.1h6.1v2.4h-6.1zM169.1 688.1h6.1v2.4h-6.1zM169.1 690.3h6.1v2.4h-6.1zM127.6 692.6h6.1v2.4h-6.1zM133.6 692.6h6.1v2.4h-6.1zM145.4 694.8h6.1v2.4h-6.1zM157.2 694.8h6.1v2.4h-6.1zM139.5 697.1h6.1v2.4h-6.1zM151.3 697.1h6.1v2.4h-6.1zM151.3 699.3h6.1v2.4h-6.1zM133.6 701.6h6.1v2.4h-6.1zM169.1 701.6h6.1v2.4h-6.1zM163.2 703.9h6.1v2.4h-6.1zM157.2 706.1h6.1v2.4h-6.1zM139.5 710.6h6.1v2.4h-6.1zM145.4 710.6h6.1v2.4h-6.1zM151.3 710.6h6.1v2.4h-6.1zM145.4 712.9h6.1v2.4h-6.1zM169.1 717.4h6.1v2.4h-6.1zM151.3 719.7h6.1v2.4h-6.1zM169.1 719.7h6.1v2.4h-6.1zM133.6 721.9h6.1v2.4h-6.1zM133.6 724.2h6.1v2.4h-6.1zM145.4 724.2h6.1v2.4h-6.1zM157.2 724.2h6.1v2.4h-6.1zM139.5 726.5h6.1v2.4h-6.1zM157.2 728.7h6.1v2.4h-6.1zM163.2 728.7h6.1v2.4h-6.1zM163.2 731.0h6.1v2.4h-6.1zM169.1 733.2h6.1v2.4h-6.1zM139.5 735.5h6.1v2.4h-6.1zM139.5 737.8h6.1v2.4h-6.1zM145.4 737.8h6.1v2.4h-6.1zM139.5 740.0h6.1v2.4h-6.1zM169.1 740.0h6.1v2.4h-6.1zM127.6 744.5h6.1v2.4h-6.1zM139.5 746.8h6.1v2.4h-6.1zM145.4 746.8h6.1v2.4h-6.1zM169.1 746.8h6.1v2.4h-6.1zM145.4 749.1h6.1v2.4h-6.1zM169.1 749.1h6.1v2.4h-6.1zM157.2 751.3h6.1v2.4h-6.1zM145.4 753.6h6.1v2.4h-6.1zM169.1 753.6h6.1v2.4h-6.1zM139.5 755.8h6.1v2.4h-6.1zM151.3 755.8h6.1v2.4h-6.1zM157.2 755.8h6.1v2.4h-6.1zM145.4 758.1h6.1v2.4h-6.1zM133.6 760.4h6.1v2.4h-6.1zM145.4 760.4h6.1v2.4h-6.1zM163.2 762.6h6.1v2.4h-6.1zM157.2 767.1h6.1v2.4h-6.1z" fill="#8aaad4"/>
<path d="M124.7 621.9V618.5H130.6V621.9M118.8 621.9V616.6H127.6V618.5M142.4 621.9V618.6H148.4V621.9M136.5 621.9V616.8H145.4V618.6M154.3 621.9V617.0H160.2V621.9M166.1 621.9V617.2H172.0V621.9M157.2 617.0V614.5H169.1V617.2M141.0 616.8V612.3H163.2V614.5M123.2 616.6V608.0H152.1V612.3" fill="none" stroke="#222" stroke-width="0.9"/>
<text transform="translate(112.00 699.80) rotate(-90) scale(0.92 1)" font-size="8" fill="#6aaad8" text-anchor="middle">common trend BIC/pBIC</text>
<text transform="translate(195.00 610.30) scale(0.84 1)" font-size="7.2" fill="#333" text-anchor="start">Log2 Fold Enrichment</text>
<rect x="208.00" y="614.20" width="31.20" height="7.00" fill="url(#lfe)" stroke="#222" stroke-width="0.8"/>
<line x1="210.00" y1="621.20" x2="210.00" y2="624.50" stroke="#222" stroke-width="0.8"/>
<text transform="translate(210.00 633.00) scale(0.9 1)" font-size="7.4" fill="#333" text-anchor="middle">ns</text>
<line x1="219.50" y1="621.20" x2="219.50" y2="624.50" stroke="#222" stroke-width="0.8"/>
<text transform="translate(219.50 633.00) scale(0.9 1)" font-size="7.4" fill="#333" text-anchor="middle">1</text>
<line x1="226.00" y1="621.20" x2="226.00" y2="624.50" stroke="#222" stroke-width="0.8"/>
<text transform="translate(226.00 633.00) scale(0.9 1)" font-size="7.4" fill="#333" text-anchor="middle">2</text>
<line x1="232.50" y1="621.20" x2="232.50" y2="624.50" stroke="#222" stroke-width="0.8"/>
<text transform="translate(232.50 633.00) scale(0.9 1)" font-size="7.4" fill="#333" text-anchor="middle">3</text>
<line x1="239.00" y1="621.20" x2="239.00" y2="624.50" stroke="#222" stroke-width="0.8"/>
<text transform="translate(239.00 633.00) scale(0.9 1)" font-size="7.4" fill="#333" text-anchor="middle">4</text>
<rect x="264.30" y="612.70" width="5.60" height="5.00" fill="#5f9d5a" stroke="none" stroke-width="1"/>
<text transform="translate(272.50 616.60) scale(0.88 1)" font-size="5.4" fill="#6aa860" text-anchor="start">unique pBIC</text>
<rect x="264.30" y="620.90" width="5.60" height="5.00" fill="#5a9ad0" stroke="none" stroke-width="1"/>
<text transform="translate(272.50 624.80) scale(0.88 1)" font-size="5.4" fill="#5a9ad0" text-anchor="start">common trend BIC/pBIC</text>
<text transform="translate(181.00 648.50) scale(0.85 1)" font-size="9.5" fill="#222" text-anchor="start">GO terms</text>
<line x1="180.00" y1="651.00" x2="215.00" y2="651.00" stroke="#333" stroke-width="0.8"/>
<text transform="translate(231.00 643.00) scale(0.9 1)" font-size="8" fill="#555" text-anchor="middle">Up</text>
<text transform="translate(252.40 643.00) scale(0.9 1)" font-size="8" fill="#aaa" text-anchor="middle">Down</text>
<rect x="225.00" y="645.80" width="8.00" height="3.40" fill="#5f9d5a" stroke="none" stroke-width="1"/>
<rect x="233.80" y="645.80" width="8.00" height="3.40" fill="#5a9ad0" stroke="none" stroke-width="1"/>
<rect x="242.90" y="645.80" width="8.00" height="3.40" fill="#c8dcc0" stroke="none" stroke-width="1"/>
<rect x="251.70" y="645.80" width="8.00" height="3.40" fill="#c8daf0" stroke="none" stroke-width="1"/>
<text transform="translate(268.80 646.60) scale(0.81 1)" font-size="10.6" fill="#111" text-anchor="start">Biological Processes</text>
<rect x="224.80" y="652.30" width="8.10" height="4.77" fill="#141414" stroke="none" stroke-width="1"/>
<rect x="233.80" y="652.30" width="8.10" height="4.77" fill="#f4cc90" stroke="none" stroke-width="1"/>
<rect x="242.90" y="652.30" width="8.10" height="4.77" fill="#141414" stroke="none" stroke-width="1"/>
<rect x="251.70" y="652.30" width="8.10" height="4.77" fill="#141414" stroke="none" stroke-width="1"/>
<text transform="translate(213.50 656.20) scale(0.95 1)" font-size="4.6" fill="#555" text-anchor="end">GO0009058</text>
<text x="268.00" y="656.20" font-size="4.4" fill="#333" text-anchor="start">biosynthetic process</text>
<rect x="224.80" y="657.97" width="8.10" height="4.77" fill="#dc8c5c" stroke="none" stroke-width="1"/>
<rect x="233.80" y="657.97" width="8.10" height="4.77" fill="#dc8c5c" stroke="none" stroke-width="1"/>
<rect x="242.90" y="657.97" width="8.10" height="4.77" fill="#141414" stroke="none" stroke-width="1"/>
<rect x="251.70" y="657.97" width="8.10" height="4.77" fill="#141414" stroke="none" stroke-width="1"/>
<text transform="translate(213.50 661.87) scale(0.95 1)" font-size="4.6" fill="#555" text-anchor="end">GO0006520</text>
<text x="268.00" y="661.87" font-size="4.4" fill="#333" text-anchor="start">cellular amino acid metabolic process</text>
<rect x="224.80" y="663.64" width="8.10" height="4.77" fill="#dc8c5c" stroke="none" stroke-width="1"/>
<rect x="233.80" y="663.64" width="8.10" height="4.77" fill="#eab078" stroke="none" stroke-width="1"/>
<rect x="242.90" y="663.64" width="8.10" height="4.77" fill="#141414" stroke="none" stroke-width="1"/>
<rect x="251.70" y="663.64" width="8.10" height="4.77" fill="#141414" stroke="none" stroke-width="1"/>
<text transform="translate(213.50 667.54) scale(0.95 1)" font-size="4.6" fill="#555" text-anchor="end">GO0044085</text>
<text x="268.00" y="667.54" font-size="4.4" fill="#333" text-anchor="start">cellular component biogenesis</text>
<rect x="224.80" y="669.31" width="8.10" height="4.77" fill="#f4cc90" stroke="none" stroke-width="1"/>
<rect x="233.80" y="669.31" width="8.10" height="4.77" fill="#141414" stroke="none" stroke-width="1"/>
<rect x="242.90" y="669.31" width="8.10" height="4.77" fill="#141414" stroke="none" stroke-width="1"/>
<rect x="251.70" y="669.31" width="8.10" height="4.77" fill="#141414" stroke="none" stroke-width="1"/>
<text transform="translate(213.50 673.21) scale(0.95 1)" font-size="4.6" fill="#555" text-anchor="end">GO0071840</text>
<text x="268.00" y="673.21" font-size="4.4" fill="#333" text-anchor="start">cellular component organization or biogenesis</text>
<rect x="224.80" y="674.98" width="8.10" height="4.77" fill="#f4cc90" stroke="none" stroke-width="1"/>
<rect x="233.80" y="674.98" width="8.10" height="4.77" fill="#f4cc90" stroke="none" stroke-width="1"/>
<rect x="242.90" y="674.98" width="8.10" height="4.77" fill="#141414" stroke="none" stroke-width="1"/>
<rect x="251.70" y="674.98" width="8.10" height="4.77" fill="#141414" stroke="none" stroke-width="1"/>
<text transform="translate(213.50 678.88) scale(0.95 1)" font-size="4.6" fill="#555" text-anchor="end">GO0008152</text>
<text x="268.00" y="678.88" font-size="4.4" fill="#333" text-anchor="start">metabolic process</text>
<rect x="224.80" y="680.65" width="8.10" height="4.77" fill="#141414" stroke="none" stroke-width="1"/>
<rect x="233.80" y="680.65" width="8.10" height="4.77" fill="#dc8c5c" stroke="none" stroke-width="1"/>
<rect x="242.90" y="680.65" width="8.10" height="4.77" fill="#141414" stroke="none" stroke-width="1"/>
<rect x="251.70" y="680.65" width="8.10" height="4.77" fill="#141414" stroke="none" stroke-width="1"/>
<text transform="translate(213.50 684.55) scale(0.95 1)" font-size="4.6" fill="#555" text-anchor="end">GO0007005</text>
<text x="268.00" y="684.55" font-size="4.4" fill="#333" text-anchor="start">mitochondrion organization</text>
<rect x="224.80" y="686.32" width="8.10" height="4.77" fill="#eab078" stroke="none" stroke-width="1"/>
<rect x="233.80" y="686.32" width="8.10" height="4.77" fill="#f4cc90" stroke="none" stroke-width="1"/>
<rect x="242.90" y="686.32" width="8.10" height="4.77" fill="#141414" stroke="none" stroke-width="1"/>
<rect x="251.70" y="686.32" width="8.10" height="4.77" fill="#141414" stroke="none" stroke-width="1"/>
<text transform="translate(213.50 690.22) scale(0.95 1)" font-size="4.6" fill="#555" text-anchor="end">GO0006807</text>
<text x="268.00" y="690.22" font-size="4.4" fill="#333" text-anchor="start">nitrogen compound metabolic process</text>
<rect x="224.80" y="691.99" width="8.10" height="4.77" fill="#eab078" stroke="none" stroke-width="1"/>
<rect x="233.80" y="691.99" width="8.10" height="4.77" fill="#141414" stroke="none" stroke-width="1"/>
<rect x="242.90" y="691.99" width="8.10" height="4.77" fill="#141414" stroke="none" stroke-width="1"/>
<rect x="251.70" y="691.99" width="8.10" height="4.77" fill="#141414" stroke="none" stroke-width="1"/>
<text transform="translate(213.50 695.89) scale(0.95 1)" font-size="4.6" fill="#555" text-anchor="end">GO0006139</text>
<text x="268.00" y="695.89" font-size="4.4" fill="#333" text-anchor="start">nucleobase-containing compound metabolic process</text>
<rect x="224.80" y="697.66" width="8.10" height="4.77" fill="#eab078" stroke="none" stroke-width="1"/>
<rect x="233.80" y="697.66" width="8.10" height="4.77" fill="#f4cc90" stroke="none" stroke-width="1"/>
<rect x="242.90" y="697.66" width="8.10" height="4.77" fill="#141414" stroke="none" stroke-width="1"/>
<rect x="251.70" y="697.66" width="8.10" height="4.77" fill="#141414" stroke="none" stroke-width="1"/>
<text transform="translate(213.50 701.56) scale(0.95 1)" font-size="4.6" fill="#555" text-anchor="end">GO0044238</text>
<text x="268.00" y="701.56" font-size="4.4" fill="#333" text-anchor="start">primary metabolic process</text>
<rect x="224.80" y="703.33" width="8.10" height="4.77" fill="#141414" stroke="none" stroke-width="1"/>
<rect x="233.80" y="703.33" width="8.10" height="4.77" fill="#f4cc90" stroke="none" stroke-width="1"/>
<rect x="242.90" y="703.33" width="8.10" height="4.77" fill="#141414" stroke="none" stroke-width="1"/>
<rect x="251.70" y="703.33" width="8.10" height="4.77" fill="#141414" stroke="none" stroke-width="1"/>
<text transform="translate(213.50 707.23) scale(0.95 1)" font-size="4.6" fill="#555" text-anchor="end">GO0019538</text>
<text x="268.00" y="707.23" font-size="4.4" fill="#333" text-anchor="start">protein metabolic process</text>
<rect x="224.80" y="709.00" width="8.10" height="4.77" fill="#dc8c5c" stroke="none" stroke-width="1"/>
<rect x="233.80" y="709.00" width="8.10" height="4.77" fill="#eab078" stroke="none" stroke-width="1"/>
<rect x="242.90" y="709.00" width="8.10" height="4.77" fill="#141414" stroke="none" stroke-width="1"/>
<rect x="251.70" y="709.00" width="8.10" height="4.77" fill="#141414" stroke="none" stroke-width="1"/>
<text transform="translate(213.50 712.90) scale(0.95 1)" font-size="4.6" fill="#555" text-anchor="end">GO0016070</text>
<text x="268.00" y="712.90" font-size="4.4" fill="#333" text-anchor="start">RNA metabolic process</text>
<rect x="224.80" y="714.67" width="8.10" height="4.77" fill="#c85a3a" stroke="none" stroke-width="1"/>
<rect x="233.80" y="714.67" width="8.10" height="4.77" fill="#dc8c5c" stroke="none" stroke-width="1"/>
<rect x="242.90" y="714.67" width="8.10" height="4.77" fill="#141414" stroke="none" stroke-width="1"/>
<rect x="251.70" y="714.67" width="8.10" height="4.77" fill="#141414" stroke="none" stroke-width="1"/>
<text transform="translate(213.50 718.57) scale(0.95 1)" font-size="4.6" fill="#555" text-anchor="end">GO0016072</text>
<text x="268.00" y="718.57" font-size="4.4" fill="#333" text-anchor="start">rRNA metabolic process</text>
<rect x="224.80" y="720.34" width="8.10" height="4.77" fill="#dc8c5c" stroke="none" stroke-width="1"/>
<rect x="233.80" y="720.34" width="8.10" height="4.77" fill="#eab078" stroke="none" stroke-width="1"/>
<rect x="242.90" y="720.34" width="8.10" height="4.77" fill="#141414" stroke="none" stroke-width="1"/>
<rect x="251.70" y="720.34" width="8.10" height="4.77" fill="#141414" stroke="none" stroke-width="1"/>
<text transform="translate(213.50 724.24) scale(0.95 1)" font-size="4.6" fill="#555" text-anchor="end">GO0006412</text>
<text x="268.00" y="724.24" font-size="4.4" fill="#333" text-anchor="start">translation</text>
<rect x="224.80" y="726.01" width="8.10" height="4.77" fill="#c85a3a" stroke="none" stroke-width="1"/>
<rect x="233.80" y="726.01" width="8.10" height="4.77" fill="#141414" stroke="none" stroke-width="1"/>
<rect x="242.90" y="726.01" width="8.10" height="4.77" fill="#141414" stroke="none" stroke-width="1"/>
<rect x="251.70" y="726.01" width="8.10" height="4.77" fill="#141414" stroke="none" stroke-width="1"/>
<text transform="translate(213.50 729.91) scale(0.95 1)" font-size="4.6" fill="#555" text-anchor="end">GO0006099</text>
<text x="268.00" y="729.91" font-size="4.4" fill="#333" text-anchor="start">tricarboxylic acid cycle</text>
<rect x="224.80" y="731.68" width="8.10" height="4.77" fill="#c85a3a" stroke="none" stroke-width="1"/>
<rect x="233.80" y="731.68" width="8.10" height="4.77" fill="#c85a3a" stroke="none" stroke-width="1"/>
<rect x="242.90" y="731.68" width="8.10" height="4.77" fill="#141414" stroke="none" stroke-width="1"/>
<rect x="251.70" y="731.68" width="8.10" height="4.77" fill="#141414" stroke="none" stroke-width="1"/>
<text transform="translate(213.50 735.58) scale(0.95 1)" font-size="4.6" fill="#555" text-anchor="end">GO0006418</text>
<text x="268.00" y="735.58" font-size="4.4" fill="#333" text-anchor="start">tRNA aminoacylation for protein translation</text>
<rect x="224.80" y="737.35" width="8.10" height="4.77" fill="#dc8c5c" stroke="none" stroke-width="1"/>
<rect x="233.80" y="737.35" width="8.10" height="4.77" fill="#dc8c5c" stroke="none" stroke-width="1"/>
<rect x="242.90" y="737.35" width="8.10" height="4.77" fill="#141414" stroke="none" stroke-width="1"/>
<rect x="251.70" y="737.35" width="8.10" height="4.77" fill="#141414" stroke="none" stroke-width="1"/>
<text transform="translate(213.50 741.25) scale(0.95 1)" font-size="4.6" fill="#555" text-anchor="end">GO0006399</text>
<text x="268.00" y="741.25" font-size="4.4" fill="#333" text-anchor="start">tRNA metabolic process</text>
<rect x="224.80" y="743.02" width="8.10" height="4.77" fill="#141414" stroke="none" stroke-width="1"/>
<rect x="233.80" y="743.02" width="8.10" height="4.77" fill="#141414" stroke="none" stroke-width="1"/>
<rect x="242.90" y="743.02" width="8.10" height="4.77" fill="#141414" stroke="none" stroke-width="1"/>
<rect x="251.70" y="743.02" width="8.10" height="4.77" fill="#eab078" stroke="none" stroke-width="1"/>
<text transform="translate(213.50 746.92) scale(0.95 1)" font-size="4.6" fill="#555" text-anchor="end">GO0009790</text>
<text x="268.00" y="746.92" font-size="4.4" fill="#333" text-anchor="start">embryo development</text>
<rect x="224.80" y="748.69" width="8.10" height="4.77" fill="#141414" stroke="none" stroke-width="1"/>
<rect x="233.80" y="748.69" width="8.10" height="4.77" fill="#141414" stroke="none" stroke-width="1"/>
<rect x="242.90" y="748.69" width="8.10" height="4.77" fill="#dc8c5c" stroke="none" stroke-width="1"/>
<rect x="251.70" y="748.69" width="8.10" height="4.77" fill="#eab078" stroke="none" stroke-width="1"/>
<text transform="translate(213.50 752.59) scale(0.95 1)" font-size="4.6" fill="#555" text-anchor="end">GO0006968</text>
<text x="268.00" y="752.59" font-size="4.4" fill="#333" text-anchor="start">cellular defense response</text>
<rect x="224.80" y="754.36" width="8.10" height="4.77" fill="#141414" stroke="none" stroke-width="1"/>
<rect x="233.80" y="754.36" width="8.10" height="4.77" fill="#141414" stroke="none" stroke-width="1"/>
<rect x="242.90" y="754.36" width="8.10" height="4.77" fill="#141414" stroke="none" stroke-width="1"/>
<rect x="251.70" y="754.36" width="8.10" height="4.77" fill="#f4cc90" stroke="none" stroke-width="1"/>
<text transform="translate(213.50 758.26) scale(0.95 1)" font-size="4.6" fill="#555" text-anchor="end">GO0006915</text>
<text x="268.00" y="758.26" font-size="4.4" fill="#333" text-anchor="start">apoptotic process</text>
<rect x="224.80" y="760.03" width="8.10" height="4.77" fill="#141414" stroke="none" stroke-width="1"/>
<rect x="233.80" y="760.03" width="8.10" height="4.77" fill="#141414" stroke="none" stroke-width="1"/>
<rect x="242.90" y="760.03" width="8.10" height="4.77" fill="#141414" stroke="none" stroke-width="1"/>
<rect x="251.70" y="760.03" width="8.10" height="4.77" fill="#f4cc90" stroke="none" stroke-width="1"/>
<text transform="translate(213.50 763.93) scale(0.95 1)" font-size="4.6" fill="#555" text-anchor="end">GO0035556</text>
<text x="268.00" y="763.93" font-size="4.4" fill="#333" text-anchor="start">intracellular signal transduction</text>
<rect x="224.80" y="765.70" width="8.10" height="4.77" fill="#141414" stroke="none" stroke-width="1"/>
<rect x="233.80" y="765.70" width="8.10" height="4.77" fill="#141414" stroke="none" stroke-width="1"/>
<rect x="242.90" y="765.70" width="8.10" height="4.77" fill="#141414" stroke="none" stroke-width="1"/>
<rect x="251.70" y="765.70" width="8.10" height="4.77" fill="#f4cc90" stroke="none" stroke-width="1"/>
<text transform="translate(213.50 769.60) scale(0.95 1)" font-size="4.6" fill="#555" text-anchor="end">GO0032502</text>
<text x="268.00" y="769.60" font-size="4.4" fill="#333" text-anchor="start">developmental process</text>
<rect x="224.80" y="771.37" width="8.10" height="4.77" fill="#141414" stroke="none" stroke-width="1"/>
<rect x="233.80" y="771.37" width="8.10" height="4.77" fill="#141414" stroke="none" stroke-width="1"/>
<rect x="242.90" y="771.37" width="8.10" height="4.77" fill="#c85a3a" stroke="none" stroke-width="1"/>
<rect x="251.70" y="771.37" width="8.10" height="4.77" fill="#141414" stroke="none" stroke-width="1"/>
<text transform="translate(213.50 775.27) scale(0.95 1)" font-size="4.6" fill="#555" text-anchor="end">GO0002504</text>
<text x="268.00" y="775.27" font-size="4.4" fill="#333" text-anchor="start">antigen processing and presentation via MHC class II</text>
<rect x="224.80" y="777.04" width="8.10" height="4.77" fill="#141414" stroke="none" stroke-width="1"/>
<rect x="233.80" y="777.04" width="8.10" height="4.77" fill="#141414" stroke="none" stroke-width="1"/>
<rect x="242.90" y="777.04" width="8.10" height="4.77" fill="#c85a3a" stroke="none" stroke-width="1"/>
<rect x="251.70" y="777.04" width="8.10" height="4.77" fill="#141414" stroke="none" stroke-width="1"/>
<text transform="translate(213.50 780.94) scale(0.95 1)" font-size="4.6" fill="#555" text-anchor="end">GO0019882</text>
<text x="268.00" y="780.94" font-size="4.4" fill="#333" text-anchor="start">antigen processing and presentation</text>
<line x1="224.00" y1="742.52" x2="261.00" y2="742.52" stroke="#fff" stroke-width="0.8"/>
<text x="438.60" y="620.00" font-size="16.5" fill="#111" text-anchor="start">G</text>
<line x1="473.30" y1="640.20" x2="473.30" y2="747.20" stroke="#111" stroke-width="1.5"/>
<line x1="472.60" y1="746.50" x2="509.60" y2="746.50" stroke="#111" stroke-width="1.5"/>
<line x1="469.80" y1="746.50" x2="473.30" y2="746.50" stroke="#111" stroke-width="1.1"/>
<text x="467.30" y="749.20" font-size="7.6" fill="#333" text-anchor="end">0</text>
<line x1="469.80" y1="720.80" x2="473.30" y2="720.80" stroke="#111" stroke-width="1.1"/>
<text x="467.30" y="723.50" font-size="7.6" fill="#333" text-anchor="end">10</text>
<line x1="469.80" y1="695.10" x2="473.30" y2="695.10" stroke="#111" stroke-width="1.1"/>
<text x="467.30" y="697.80" font-size="7.6" fill="#333" text-anchor="end">20</text>
<line x1="469.80" y1="669.40" x2="473.30" y2="669.40" stroke="#111" stroke-width="1.1"/>
<text x="467.30" y="672.10" font-size="7.6" fill="#333" text-anchor="end">30</text>
<line x1="469.80" y1="643.70" x2="473.30" y2="643.70" stroke="#111" stroke-width="1.1"/>
<text x="467.30" y="646.40" font-size="7.6" fill="#333" text-anchor="end">40</text>
<rect x="476.70" y="661.69" width="8.00" height="84.81" fill="#fbe8cc" stroke="#333" stroke-width="0.9"/>
<line x1="480.70" y1="661.69" x2="480.70" y2="655.78" stroke="#333" stroke-width="0.8"/>
<line x1="478.70" y1="655.78" x2="482.70" y2="655.78" stroke="#333" stroke-width="0.8"/>
<rect x="487.00" y="738.79" width="7.70" height="7.71" fill="#c8c0e0" stroke="#333" stroke-width="0.9"/>
<line x1="490.85" y1="738.79" x2="490.85" y2="736.73" stroke="#333" stroke-width="0.8"/>
<line x1="488.85" y1="736.73" x2="492.85" y2="736.73" stroke="#333" stroke-width="0.8"/>
<rect x="497.80" y="735.71" width="8.20" height="10.79" fill="#dcb0bc" stroke="#333" stroke-width="0.9"/>
<line x1="501.90" y1="735.71" x2="501.90" y2="731.59" stroke="#333" stroke-width="0.8"/>
<line x1="499.90" y1="731.59" x2="503.90" y2="731.59" stroke="#333" stroke-width="0.8"/>
<circle cx="480.20" cy="652.70" r="1.70" fill="#fbe8cc" stroke="#e0a040" stroke-width="0.9"/>
<circle cx="480.80" cy="656.55" r="1.70" fill="#fbe8cc" stroke="#e0a040" stroke-width="0.9"/>
<circle cx="480.20" cy="674.54" r="1.70" fill="#fbe8cc" stroke="#e0a040" stroke-width="0.9"/>
<circle cx="492.30" cy="737.50" r="1.70" fill="#8a7ac0" stroke="#5a4a9a" stroke-width="0.9"/>
<circle cx="489.80" cy="739.82" r="1.70" fill="#8a7ac0" stroke="#5a4a9a" stroke-width="0.9"/>
<circle cx="501.90" cy="727.23" r="1.70" fill="#c04a6a" stroke="#b04060" stroke-width="0.9"/>
<circle cx="503.40" cy="733.65" r="1.70" fill="#c04a6a" stroke="#b04060" stroke-width="0.9"/>
<circle cx="500.40" cy="736.73" r="1.70" fill="#c04a6a" stroke="#b04060" stroke-width="0.9"/>
<circle cx="502.40" cy="741.36" r="1.70" fill="#c04a6a" stroke="#b04060" stroke-width="0.9"/>
<line x1="480.70" y1="746.50" x2="480.70" y2="749.50" stroke="#111" stroke-width="1"/>
<line x1="490.80" y1="746.50" x2="490.80" y2="749.50" stroke="#111" stroke-width="1"/>
<line x1="501.90" y1="746.50" x2="501.90" y2="749.50" stroke="#111" stroke-width="1"/>
<text transform="translate(483.20 756.00) rotate(-50) scale(0.9 1)" font-size="8.4" fill="#222" text-anchor="end">YC</text>
<text transform="translate(493.30 756.00) rotate(-50) scale(0.9 1)" font-size="8.4" fill="#222" text-anchor="end">BIC</text>
<text transform="translate(504.40 756.00) rotate(-50) scale(0.9 1)" font-size="8.4" fill="#222" text-anchor="end">pBIC</text>
<polyline points="480.50,644.00 480.50,641.00 490.80,641.00 490.80,644.00" fill="none" stroke="#222" stroke-width="0.8"/>
<text x="485.70" y="640.50" font-size="6" fill="#222" text-anchor="middle">***</text>
<polyline points="480.50,636.00 480.50,632.80 502.00,632.80 502.00,636.00" fill="none" stroke="#222" stroke-width="0.8"/>
<text x="491.20" y="632.30" font-size="6" fill="#222" text-anchor="middle">****</text>
<text x="447.00" y="693.80" font-size="10" fill="#111" text-anchor="middle" transform="rotate(-90 447.00 693.80)">% annexin V positive cells</text>
<text x="10.50" y="815.80" font-size="16.5" fill="#111" text-anchor="start">H</text>
<line x1="46.30" y1="830.40" x2="46.30" y2="938.50" stroke="#111" stroke-width="1.5"/>
<line x1="45.60" y1="937.80" x2="123.90" y2="937.80" stroke="#111" stroke-width="1.5"/>
<line x1="42.80" y1="937.80" x2="46.30" y2="937.80" stroke="#111" stroke-width="1.1"/>
<text x="40.30" y="940.50" font-size="7.6" fill="#333" text-anchor="end">0</text>
<line x1="42.80" y1="912.10" x2="46.30" y2="912.10" stroke="#111" stroke-width="1.1"/>
<text x="40.30" y="914.80" font-size="7.6" fill="#333" text-anchor="end">5</text>
<line x1="42.80" y1="886.40" x2="46.30" y2="886.40" stroke="#111" stroke-width="1.1"/>
<text x="40.30" y="889.10" font-size="7.6" fill="#333" text-anchor="end">10</text>
<line x1="42.80" y1="860.70" x2="46.30" y2="860.70" stroke="#111" stroke-width="1.1"/>
<text x="40.30" y="863.40" font-size="7.6" fill="#333" text-anchor="end">15</text>
<line x1="42.80" y1="835.00" x2="46.30" y2="835.00" stroke="#111" stroke-width="1.1"/>
<text x="40.30" y="837.70" font-size="7.6" fill="#333" text-anchor="end">20</text>
<rect x="49.30" y="929.58" width="8.60" height="8.22" fill="#fbeccc" stroke="#333" stroke-width="0.9"/>
<line x1="53.60" y1="929.58" x2="53.60" y2="925.98" stroke="#333" stroke-width="0.8"/>
<line x1="51.60" y1="925.98" x2="55.60" y2="925.98" stroke="#333" stroke-width="0.8"/>
<rect x="59.80" y="936.26" width="6.20" height="1.54" fill="#fff" stroke="#333" stroke-width="0.9"/>
<line x1="62.90" y1="936.26" x2="62.90" y2="935.23" stroke="#333" stroke-width="0.8"/>
<line x1="60.90" y1="935.23" x2="64.90" y2="935.23" stroke="#333" stroke-width="0.8"/>
<rect x="76.20" y="872.01" width="8.10" height="65.79" fill="#ccbee0" stroke="#333" stroke-width="0.9"/>
<line x1="80.25" y1="872.01" x2="80.25" y2="859.16" stroke="#333" stroke-width="0.8"/>
<line x1="78.25" y1="859.16" x2="82.25" y2="859.16" stroke="#333" stroke-width="0.8"/>
<rect x="85.60" y="923.92" width="7.60" height="13.88" fill="#f0ecee" stroke="#333" stroke-width="0.9"/>
<line x1="89.40" y1="923.92" x2="89.40" y2="921.35" stroke="#333" stroke-width="0.8"/>
<line x1="87.40" y1="921.35" x2="91.40" y2="921.35" stroke="#333" stroke-width="0.8"/>
<rect x="102.30" y="894.11" width="8.10" height="43.69" fill="#e8b8c0" stroke="#333" stroke-width="0.9"/>
<line x1="106.35" y1="894.11" x2="106.35" y2="890.51" stroke="#333" stroke-width="0.8"/>
<line x1="104.35" y1="890.51" x2="108.35" y2="890.51" stroke="#333" stroke-width="0.8"/>
<rect x="111.70" y="928.03" width="7.60" height="9.77" fill="#f0ecee" stroke="#333" stroke-width="0.9"/>
<line x1="115.50" y1="928.03" x2="115.50" y2="924.95" stroke="#333" stroke-width="0.8"/>
<line x1="113.50" y1="924.95" x2="117.50" y2="924.95" stroke="#333" stroke-width="0.8"/>
<circle cx="52.10" cy="924.95" r="1.60" fill="#fbe0a0" stroke="#e0a840" stroke-width="0.9"/>
<circle cx="55.10" cy="925.46" r="1.60" fill="#fbe0a0" stroke="#e0a840" stroke-width="0.9"/>
<circle cx="52.10" cy="932.66" r="1.60" fill="#fbe0a0" stroke="#e0a840" stroke-width="0.9"/>
<circle cx="55.10" cy="932.66" r="1.60" fill="#fbe0a0" stroke="#e0a840" stroke-width="0.9"/>
<circle cx="61.70" cy="935.74" r="1.60" fill="#fff" stroke="#666" stroke-width="0.8"/>
<circle cx="64.20" cy="936.26" r="1.60" fill="#fff" stroke="#666" stroke-width="0.8"/>
<circle cx="80.20" cy="845.28" r="1.60" fill="#8072b4" stroke="#4a3e86" stroke-width="0.8"/>
<circle cx="80.20" cy="855.56" r="1.60" fill="#8072b4" stroke="#4a3e86" stroke-width="0.8"/>
<circle cx="80.20" cy="886.40" r="1.60" fill="#8072b4" stroke="#4a3e86" stroke-width="0.8"/>
<circle cx="80.20" cy="899.25" r="1.60" fill="#8072b4" stroke="#4a3e86" stroke-width="0.8"/>
<circle cx="89.40" cy="921.35" r="1.60" fill="#fff" stroke="#666" stroke-width="0.8"/>
<circle cx="88.20" cy="923.41" r="1.60" fill="#fff" stroke="#666" stroke-width="0.8"/>
<circle cx="90.60" cy="924.95" r="1.60" fill="#fff" stroke="#666" stroke-width="0.8"/>
<circle cx="106.30" cy="886.40" r="1.60" fill="#b04060" stroke="#8a2a48" stroke-width="0.8"/>
<circle cx="105.10" cy="894.11" r="1.60" fill="#b04060" stroke="#8a2a48" stroke-width="0.8"/>
<circle cx="107.80" cy="896.68" r="1.60" fill="#b04060" stroke="#8a2a48" stroke-width="0.8"/>
<circle cx="115.50" cy="923.92" r="1.60" fill="#fff" stroke="#666" stroke-width="0.8"/>
<circle cx="114.30" cy="930.09" r="1.60" fill="#fff" stroke="#666" stroke-width="0.8"/>
<circle cx="116.80" cy="931.12" r="1.60" fill="#fff" stroke="#666" stroke-width="0.8"/>
<line x1="53.60" y1="937.80" x2="53.60" y2="941.80" stroke="#111" stroke-width="1.1"/>
<line x1="62.90" y1="937.80" x2="62.90" y2="941.80" stroke="#111" stroke-width="1.1"/>
<line x1="80.20" y1="937.80" x2="80.20" y2="941.80" stroke="#111" stroke-width="1.1"/>
<line x1="89.40" y1="937.80" x2="89.40" y2="941.80" stroke="#111" stroke-width="1.1"/>
<line x1="106.30" y1="937.80" x2="106.30" y2="941.80" stroke="#111" stroke-width="1.1"/>
<line x1="115.50" y1="937.80" x2="115.50" y2="941.80" stroke="#111" stroke-width="1.1"/>
<text x="53.60" y="954.00" font-size="7.6" fill="#333" text-anchor="middle">+</text>
<text x="62.90" y="954.00" font-size="7.6" fill="#333" text-anchor="middle">-</text>
<text x="80.20" y="954.00" font-size="7.6" fill="#333" text-anchor="middle">+</text>
<text x="89.40" y="954.00" font-size="7.6" fill="#333" text-anchor="middle">-</text>
<text x="106.30" y="954.00" font-size="7.6" fill="#333" text-anchor="middle">+</text>
<text x="115.50" y="954.00" font-size="7.6" fill="#333" text-anchor="middle">-</text>
<text x="123.30" y="954.20" font-size="7.6" fill="#222" text-anchor="start">YFP/GFP</text>
<text x="57.90" y="964.50" font-size="7.6" fill="#222" text-anchor="middle">YC</text>
<text x="84.80" y="964.50" font-size="7.6" fill="#222" text-anchor="middle">BIC</text>
<text x="110.40" y="964.50" font-size="7.6" fill="#222" text-anchor="middle">pBIC</text>
<polyline points="53.00,829.00 53.00,826.30 106.40,826.30 106.40,829.00" fill="none" stroke="#333" stroke-width="0.8"/>
<text x="79.70" y="825.50" font-size="6.5" fill="#222" text-anchor="middle">***</text>
<polyline points="53.00,835.00 53.00,832.40 79.70,832.40 79.70,835.00" fill="none" stroke="#333" stroke-width="0.8"/>
<polyline points="79.70,835.00 79.70,832.40 106.40,832.40 106.40,835.00" fill="none" stroke="#333" stroke-width="0.8"/>
<text x="65.40" y="832.00" font-size="6.5" fill="#222" text-anchor="middle">**</text>
<text transform="translate(93.00 831.00) scale(0.9 1)" font-size="6" fill="#555" text-anchor="middle">ns</text>
<text x="22.00" y="884.20" font-size="10" fill="#111" text-anchor="middle" transform="rotate(-90 22.00 884.20)">% γH2AX positive cells</text>
<rect x="158.90" y="804.50" width="2.20" height="10.20" fill="#111" stroke="none" stroke-width="1"/>
<text transform="translate(218.50 814.50) scale(0.92 1)" font-size="9.6" fill="#111" text-anchor="middle">Naïve</text>
<text transform="translate(303.80 814.50) scale(0.92 1)" font-size="9.6" fill="#111" text-anchor="middle">GC</text>
<text transform="translate(387.60 814.50) scale(0.92 1)" font-size="9.6" fill="#111" text-anchor="middle">BIC lymphoma</text>
<text transform="translate(473.10 814.50) scale(0.92 1)" font-size="9.6" fill="#111" text-anchor="middle">pBIC lymphoma</text>
<rect x="187.70" y="821.50" width="61.50" height="116.30" fill="none" stroke="#111" stroke-width="1.4"/>
<line x1="188.00" y1="937.80" x2="188.00" y2="940.80" stroke="#111" stroke-width="1.1"/>
<line x1="198.15" y1="937.80" x2="198.15" y2="940.80" stroke="#111" stroke-width="1.1"/>
<line x1="208.30" y1="937.80" x2="208.30" y2="940.80" stroke="#111" stroke-width="1.1"/>
<line x1="218.45" y1="937.80" x2="218.45" y2="940.80" stroke="#111" stroke-width="1.1"/>
<line x1="228.60" y1="937.80" x2="228.60" y2="940.80" stroke="#111" stroke-width="1.1"/>
<line x1="238.75" y1="937.80" x2="238.75" y2="940.80" stroke="#111" stroke-width="1.1"/>
<line x1="248.90" y1="937.80" x2="248.90" y2="940.80" stroke="#111" stroke-width="1.1"/>
<text transform="translate(188.80 951.50) scale(0.9 1)" font-size="6.6" fill="#444" text-anchor="middle">10</text>
<text transform="translate(192.00 948.00) scale(0.9 1)" font-size="4.4" fill="#444" text-anchor="start">0</text>
<text transform="translate(209.10 951.50) scale(0.9 1)" font-size="6.6" fill="#444" text-anchor="middle">10</text>
<text transform="translate(212.30 948.00) scale(0.9 1)" font-size="4.4" fill="#444" text-anchor="start">2</text>
<text transform="translate(229.40 951.50) scale(0.9 1)" font-size="6.6" fill="#444" text-anchor="middle">10</text>
<text transform="translate(232.60 948.00) scale(0.9 1)" font-size="4.4" fill="#444" text-anchor="start">4</text>
<text transform="translate(249.70 951.50) scale(0.9 1)" font-size="6.6" fill="#444" text-anchor="middle">10</text>
<text transform="translate(252.90 948.00) scale(0.9 1)" font-size="4.4" fill="#444" text-anchor="start">6</text>
<path d="M187.7 930.4h-2.6M187.7 925.1h-2.6M187.7 921.4h-2.6M187.7 918.5h-2.6M187.7 916.1h-2.6M187.7 914.1h-2.6M187.7 912.4h-2.6M187.7 910.9h-2.6M187.7 909.5h-4.5M187.7 900.5h-2.6M187.7 895.2h-2.6M187.7 891.5h-2.6M187.7 888.6h-2.6M187.7 886.2h-2.6M187.7 884.2h-2.6M187.7 882.5h-2.6M187.7 881.0h-2.6M187.7 879.6h-4.5M187.7 870.6h-2.6M187.7 865.3h-2.6M187.7 861.6h-2.6M187.7 858.7h-2.6M187.7 856.3h-2.6M187.7 854.3h-2.6M187.7 852.6h-2.6M187.7 851.1h-2.6M187.7 849.7h-4.5M187.7 840.7h-2.6M187.7 835.4h-2.6M187.7 831.7h-2.6M187.7 828.8h-2.6M187.7 826.4h-2.6M187.7 824.4h-2.6M187.7 822.7h-2.6" fill="none" stroke="#111" stroke-width="1.1"/>
<text transform="translate(176.70 852.00) scale(0.9 1)" font-size="6.6" fill="#444" text-anchor="end">10</text>
<text transform="translate(176.90 848.80) scale(0.9 1)" font-size="4.4" fill="#444" text-anchor="start">2</text>
<text transform="translate(176.70 882.40) scale(0.9 1)" font-size="6.6" fill="#444" text-anchor="end">10</text>
<text transform="translate(176.90 879.20) scale(0.9 1)" font-size="4.4" fill="#444" text-anchor="start">1</text>
<text transform="translate(176.70 911.90) scale(0.9 1)" font-size="6.6" fill="#444" text-anchor="end">10</text>
<text transform="translate(176.90 908.70) scale(0.9 1)" font-size="4.4" fill="#444" text-anchor="start">0</text>
<text transform="translate(179.70 940.00) scale(0.9 1)" font-size="6.6" fill="#444" text-anchor="end">0</text>
<rect x="273.30" y="821.50" width="61.00" height="116.30" fill="none" stroke="#111" stroke-width="1.4"/>
<line x1="273.60" y1="937.80" x2="273.60" y2="940.80" stroke="#111" stroke-width="1.1"/>
<line x1="283.67" y1="937.80" x2="283.67" y2="940.80" stroke="#111" stroke-width="1.1"/>
<line x1="293.73" y1="937.80" x2="293.73" y2="940.80" stroke="#111" stroke-width="1.1"/>
<line x1="303.80" y1="937.80" x2="303.80" y2="940.80" stroke="#111" stroke-width="1.1"/>
<line x1="313.87" y1="937.80" x2="313.87" y2="940.80" stroke="#111" stroke-width="1.1"/>
<line x1="323.93" y1="937.80" x2="323.93" y2="940.80" stroke="#111" stroke-width="1.1"/>
<line x1="334.00" y1="937.80" x2="334.00" y2="940.80" stroke="#111" stroke-width="1.1"/>
<text transform="translate(274.40 951.50) scale(0.9 1)" font-size="6.6" fill="#444" text-anchor="middle">10</text>
<text transform="translate(277.60 948.00) scale(0.9 1)" font-size="4.4" fill="#444" text-anchor="start">0</text>
<text transform="translate(294.53 951.50) scale(0.9 1)" font-size="6.6" fill="#444" text-anchor="middle">10</text>
<text transform="translate(297.73 948.00) scale(0.9 1)" font-size="4.4" fill="#444" text-anchor="start">2</text>
<text transform="translate(314.67 951.50) scale(0.9 1)" font-size="6.6" fill="#444" text-anchor="middle">10</text>
<text transform="translate(317.87 948.00) scale(0.9 1)" font-size="4.4" fill="#444" text-anchor="start">4</text>
<text transform="translate(334.80 951.50) scale(0.9 1)" font-size="6.6" fill="#444" text-anchor="middle">10</text>
<text transform="translate(338.00 948.00) scale(0.9 1)" font-size="4.4" fill="#444" text-anchor="start">6</text>
<path d="M273.3 930.4h-2.6M273.3 925.1h-2.6M273.3 921.4h-2.6M273.3 918.5h-2.6M273.3 916.1h-2.6M273.3 914.1h-2.6M273.3 912.4h-2.6M273.3 910.9h-2.6M273.3 909.5h-4.5M273.3 900.5h-2.6M273.3 895.2h-2.6M273.3 891.5h-2.6M273.3 888.6h-2.6M273.3 886.2h-2.6M273.3 884.2h-2.6M273.3 882.5h-2.6M273.3 881.0h-2.6M273.3 879.6h-4.5M273.3 870.6h-2.6M273.3 865.3h-2.6M273.3 861.6h-2.6M273.3 858.7h-2.6M273.3 856.3h-2.6M273.3 854.3h-2.6M273.3 852.6h-2.6M273.3 851.1h-2.6M273.3 849.7h-4.5M273.3 840.7h-2.6M273.3 835.4h-2.6M273.3 831.7h-2.6M273.3 828.8h-2.6M273.3 826.4h-2.6M273.3 824.4h-2.6M273.3 822.7h-2.6" fill="none" stroke="#111" stroke-width="1.1"/>
<text transform="translate(262.30 852.00) scale(0.9 1)" font-size="6.6" fill="#444" text-anchor="end">10</text>
<text transform="translate(262.50 848.80) scale(0.9 1)" font-size="4.4" fill="#444" text-anchor="start">2</text>
<text transform="translate(262.30 882.40) scale(0.9 1)" font-size="6.6" fill="#444" text-anchor="end">10</text>
<text transform="translate(262.50 879.20) scale(0.9 1)" font-size="4.4" fill="#444" text-anchor="start">1</text>
<text transform="translate(262.30 911.90) scale(0.9 1)" font-size="6.6" fill="#444" text-anchor="end">10</text>
<text transform="translate(262.50 908.70) scale(0.9 1)" font-size="4.4" fill="#444" text-anchor="start">0</text>
<text transform="translate(265.30 940.00) scale(0.9 1)" font-size="6.6" fill="#444" text-anchor="end">0</text>
<rect x="357.30" y="821.50" width="60.60" height="116.30" fill="none" stroke="#111" stroke-width="1.4"/>
<line x1="357.60" y1="937.80" x2="357.60" y2="940.80" stroke="#111" stroke-width="1.1"/>
<line x1="367.60" y1="937.80" x2="367.60" y2="940.80" stroke="#111" stroke-width="1.1"/>
<line x1="377.60" y1="937.80" x2="377.60" y2="940.80" stroke="#111" stroke-width="1.1"/>
<line x1="387.60" y1="937.80" x2="387.60" y2="940.80" stroke="#111" stroke-width="1.1"/>
<line x1="397.60" y1="937.80" x2="397.60" y2="940.80" stroke="#111" stroke-width="1.1"/>
<line x1="407.60" y1="937.80" x2="407.60" y2="940.80" stroke="#111" stroke-width="1.1"/>
<line x1="417.60" y1="937.80" x2="417.60" y2="940.80" stroke="#111" stroke-width="1.1"/>
<text transform="translate(358.40 951.50) scale(0.9 1)" font-size="6.6" fill="#444" text-anchor="middle">10</text>
<text transform="translate(361.60 948.00) scale(0.9 1)" font-size="4.4" fill="#444" text-anchor="start">0</text>
<text transform="translate(378.40 951.50) scale(0.9 1)" font-size="6.6" fill="#444" text-anchor="middle">10</text>
<text transform="translate(381.60 948.00) scale(0.9 1)" font-size="4.4" fill="#444" text-anchor="start">2</text>
<text transform="translate(398.40 951.50) scale(0.9 1)" font-size="6.6" fill="#444" text-anchor="middle">10</text>
<text transform="translate(401.60 948.00) scale(0.9 1)" font-size="4.4" fill="#444" text-anchor="start">4</text>
<text transform="translate(418.40 951.50) scale(0.9 1)" font-size="6.6" fill="#444" text-anchor="middle">10</text>
<text transform="translate(421.60 948.00) scale(0.9 1)" font-size="4.4" fill="#444" text-anchor="start">6</text>
<path d="M357.3 930.4h-2.6M357.3 925.1h-2.6M357.3 921.4h-2.6M357.3 918.5h-2.6M357.3 916.1h-2.6M357.3 914.1h-2.6M357.3 912.4h-2.6M357.3 910.9h-2.6M357.3 909.5h-4.5M357.3 900.5h-2.6M357.3 895.2h-2.6M357.3 891.5h-2.6M357.3 888.6h-2.6M357.3 886.2h-2.6M357.3 884.2h-2.6M357.3 882.5h-2.6M357.3 881.0h-2.6M357.3 879.6h-4.5M357.3 870.6h-2.6M357.3 865.3h-2.6M357.3 861.6h-2.6M357.3 858.7h-2.6M357.3 856.3h-2.6M357.3 854.3h-2.6M357.3 852.6h-2.6M357.3 851.1h-2.6M357.3 849.7h-4.5M357.3 840.7h-2.6M357.3 835.4h-2.6M357.3 831.7h-2.6M357.3 828.8h-2.6M357.3 826.4h-2.6M357.3 824.4h-2.6M357.3 822.7h-2.6" fill="none" stroke="#111" stroke-width="1.1"/>
<text transform="translate(346.30 852.00) scale(0.9 1)" font-size="6.6" fill="#444" text-anchor="end">10</text>
<text transform="translate(346.50 848.80) scale(0.9 1)" font-size="4.4" fill="#444" text-anchor="start">2</text>
<text transform="translate(346.30 882.40) scale(0.9 1)" font-size="6.6" fill="#444" text-anchor="end">10</text>
<text transform="translate(346.50 879.20) scale(0.9 1)" font-size="4.4" fill="#444" text-anchor="start">1</text>
<text transform="translate(346.30 911.90) scale(0.9 1)" font-size="6.6" fill="#444" text-anchor="end">10</text>
<text transform="translate(346.50 908.70) scale(0.9 1)" font-size="4.4" fill="#444" text-anchor="start">0</text>
<text transform="translate(349.30 940.00) scale(0.9 1)" font-size="6.6" fill="#444" text-anchor="end">0</text>
<rect x="442.80" y="821.50" width="60.60" height="116.30" fill="none" stroke="#111" stroke-width="1.4"/>
<line x1="443.10" y1="937.80" x2="443.10" y2="940.80" stroke="#111" stroke-width="1.1"/>
<line x1="453.10" y1="937.80" x2="453.10" y2="940.80" stroke="#111" stroke-width="1.1"/>
<line x1="463.10" y1="937.80" x2="463.10" y2="940.80" stroke="#111" stroke-width="1.1"/>
<line x1="473.10" y1="937.80" x2="473.10" y2="940.80" stroke="#111" stroke-width="1.1"/>
<line x1="483.10" y1="937.80" x2="483.10" y2="940.80" stroke="#111" stroke-width="1.1"/>
<line x1="493.10" y1="937.80" x2="493.10" y2="940.80" stroke="#111" stroke-width="1.1"/>
<line x1="503.10" y1="937.80" x2="503.10" y2="940.80" stroke="#111" stroke-width="1.1"/>
<text transform="translate(443.90 951.50) scale(0.9 1)" font-size="6.6" fill="#444" text-anchor="middle">10</text>
<text transform="translate(447.10 948.00) scale(0.9 1)" font-size="4.4" fill="#444" text-anchor="start">0</text>
<text transform="translate(463.90 951.50) scale(0.9 1)" font-size="6.6" fill="#444" text-anchor="middle">10</text>
<text transform="translate(467.10 948.00) scale(0.9 1)" font-size="4.4" fill="#444" text-anchor="start">2</text>
<text transform="translate(483.90 951.50) scale(0.9 1)" font-size="6.6" fill="#444" text-anchor="middle">10</text>
<text transform="translate(487.10 948.00) scale(0.9 1)" font-size="4.4" fill="#444" text-anchor="start">4</text>
<text transform="translate(503.90 951.50) scale(0.9 1)" font-size="6.6" fill="#444" text-anchor="middle">10</text>
<text transform="translate(507.10 948.00) scale(0.9 1)" font-size="4.4" fill="#444" text-anchor="start">6</text>
<path d="M442.8 930.4h-2.6M442.8 925.1h-2.6M442.8 921.4h-2.6M442.8 918.5h-2.6M442.8 916.1h-2.6M442.8 914.1h-2.6M442.8 912.4h-2.6M442.8 910.9h-2.6M442.8 909.5h-4.5M442.8 900.5h-2.6M442.8 895.2h-2.6M442.8 891.5h-2.6M442.8 888.6h-2.6M442.8 886.2h-2.6M442.8 884.2h-2.6M442.8 882.5h-2.6M442.8 881.0h-2.6M442.8 879.6h-4.5M442.8 870.6h-2.6M442.8 865.3h-2.6M442.8 861.6h-2.6M442.8 858.7h-2.6M442.8 856.3h-2.6M442.8 854.3h-2.6M442.8 852.6h-2.6M442.8 851.1h-2.6M442.8 849.7h-4.5M442.8 840.7h-2.6M442.8 835.4h-2.6M442.8 831.7h-2.6M442.8 828.8h-2.6M442.8 826.4h-2.6M442.8 824.4h-2.6M442.8 822.7h-2.6" fill="none" stroke="#111" stroke-width="1.1"/>
<text transform="translate(431.80 852.00) scale(0.9 1)" font-size="6.6" fill="#444" text-anchor="end">10</text>
<text transform="translate(432.00 848.80) scale(0.9 1)" font-size="4.4" fill="#444" text-anchor="start">2</text>
<text transform="translate(431.80 882.40) scale(0.9 1)" font-size="6.6" fill="#444" text-anchor="end">10</text>
<text transform="translate(432.00 879.20) scale(0.9 1)" font-size="4.4" fill="#444" text-anchor="start">1</text>
<text transform="translate(431.80 911.90) scale(0.9 1)" font-size="6.6" fill="#444" text-anchor="end">10</text>
<text transform="translate(432.00 908.70) scale(0.9 1)" font-size="4.4" fill="#444" text-anchor="start">0</text>
<text transform="translate(434.80 940.00) scale(0.9 1)" font-size="6.6" fill="#444" text-anchor="end">0</text>
<text transform="translate(201.30 829.30) scale(0.9 1)" font-size="6.2" fill="#555" text-anchor="middle">bubble</text>
<text transform="translate(201.30 834.60) scale(0.9 1)" font-size="6.2" fill="#555" text-anchor="middle">size</text>
<text x="213.80" y="833.00" font-size="7" fill="#555" text-anchor="middle">=</text>
<text transform="translate(224.20 829.30) scale(0.9 1)" font-size="6.2" fill="#555" text-anchor="middle">clon</text>
<text transform="translate(224.20 834.60) scale(0.9 1)" font-size="6.2" fill="#555" text-anchor="middle">size</text>
<circle cx="193.80" cy="841.30" r="2.30" fill="#e08a6a" stroke="none" stroke-width="1"/>
<text transform="translate(198.80 843.10) scale(0.9 1)" font-size="5" fill="#e08a6a" text-anchor="start">IgM</text>
<circle cx="193.80" cy="847.80" r="2.30" fill="#8ab86a" stroke="none" stroke-width="1"/>
<text transform="translate(198.80 849.60) scale(0.9 1)" font-size="5" fill="#8ab86a" text-anchor="start">IgG</text>
<circle cx="193.80" cy="854.30" r="2.30" fill="#8a7ec0" stroke="none" stroke-width="1"/>
<text transform="translate(198.80 856.10) scale(0.9 1)" font-size="5" fill="#8a7ec0" text-anchor="start">IgA</text>
<circle cx="207.5" cy="882.3" r="1.6" fill="#8a7ec0" fill-opacity="0.8"/>
<circle cx="199.0" cy="893.5" r="0.7" fill="#8a7ec0" fill-opacity="0.8"/>
<circle cx="198.5" cy="897.0" r="0.8" fill="#8a7ec0" fill-opacity="0.8"/>
<circle cx="201.0" cy="900.5" r="0.7" fill="#8a7ec0" fill-opacity="0.8"/>
<circle cx="203.0" cy="901.0" r="0.7" fill="#8ab86a" fill-opacity="0.8"/>
<circle cx="197.0" cy="904.0" r="0.6" fill="#e08a6a" fill-opacity="0.8"/>
<circle cx="196.5" cy="907.0" r="0.7" fill="#e08a6a" fill-opacity="0.8"/>
<circle cx="203.0" cy="906.5" r="0.7" fill="#8ab86a" fill-opacity="0.8"/>
<circle cx="197.0" cy="910.0" r="0.7" fill="#8a7ec0" fill-opacity="0.8"/>
<circle cx="195.8" cy="913.0" r="0.7" fill="#e08a6a" fill-opacity="0.8"/>
<circle cx="198.0" cy="915.0" r="0.6" fill="#e08a6a" fill-opacity="0.8"/>
<circle cx="202.5" cy="914.5" r="0.8" fill="#8ab86a" fill-opacity="0.8"/>
<circle cx="196.0" cy="917.5" r="0.6" fill="#e08a6a" fill-opacity="0.8"/>
<circle cx="193.0" cy="918.0" r="0.5" fill="#e08a6a" fill-opacity="0.8"/>
<circle cx="199.0" cy="928.5" r="0.8" fill="#e08a6a" fill-opacity="0.8"/>
<circle cx="197.0" cy="936.5" r="0.6" fill="#e08a6a" fill-opacity="0.8"/>
<circle cx="199.5" cy="936.5" r="0.6" fill="#8a7ec0" fill-opacity="0.8"/>
<circle cx="194.0" cy="903.0" r="0.5" fill="#e08a6a" fill-opacity="0.8"/>
<circle cx="200.0" cy="921.0" r="0.5" fill="#e08a6a" fill-opacity="0.8"/>
<circle cx="195.0" cy="925.0" r="0.5" fill="#e08a6a" fill-opacity="0.8"/>
<circle cx="295.4" cy="867.9" r="3.8" fill="#8a7ec0" fill-opacity="0.6" stroke="#eee" stroke-width="0.5"/>
<circle cx="292.9" cy="872.7" r="3.5" fill="#8ab86a" fill-opacity="0.6" stroke="#eee" stroke-width="0.5"/>
<circle cx="297.1" cy="871.0" r="3.5" fill="#8ab86a" fill-opacity="0.6" stroke="#eee" stroke-width="0.5"/>
<circle cx="295.0" cy="871.3" r="3.4" fill="#8ab86a" fill-opacity="0.6" stroke="#eee" stroke-width="0.5"/>
<circle cx="297.3" cy="869.2" r="3.4" fill="#8a7ec0" fill-opacity="0.6" stroke="#eee" stroke-width="0.5"/>
<circle cx="296.4" cy="867.5" r="3.4" fill="#8ab86a" fill-opacity="0.6" stroke="#eee" stroke-width="0.5"/>
<circle cx="295.1" cy="871.7" r="3.3" fill="#8ab86a" fill-opacity="0.6" stroke="#eee" stroke-width="0.5"/>
<circle cx="294.1" cy="875.5" r="3.2" fill="#8ab86a" fill-opacity="0.6" stroke="#eee" stroke-width="0.5"/>
<circle cx="298.0" cy="865.2" r="3.2" fill="#8ab86a" fill-opacity="0.6" stroke="#eee" stroke-width="0.5"/>
<circle cx="295.6" cy="873.7" r="3.0" fill="#8ab86a" fill-opacity="0.6" stroke="#eee" stroke-width="0.5"/>
<circle cx="294.3" cy="873.4" r="3.0" fill="#8ab86a" fill-opacity="0.6" stroke="#eee" stroke-width="0.5"/>
<circle cx="298.9" cy="869.1" r="3.0" fill="#8ab86a" fill-opacity="0.6" stroke="#eee" stroke-width="0.5"/>
<circle cx="294.0" cy="875.7" r="2.9" fill="#8ab86a" fill-opacity="0.6" stroke="#eee" stroke-width="0.5"/>
<circle cx="296.5" cy="866.5" r="2.9" fill="#8a7ec0" fill-opacity="0.6" stroke="#eee" stroke-width="0.5"/>
<circle cx="291.7" cy="871.8" r="2.9" fill="#8a7ec0" fill-opacity="0.6" stroke="#eee" stroke-width="0.5"/>
<circle cx="295.0" cy="877.5" r="2.9" fill="#8ab86a" fill-opacity="0.6" stroke="#eee" stroke-width="0.5"/>
<circle cx="294.0" cy="870.9" r="2.8" fill="#8ab86a" fill-opacity="0.6" stroke="#eee" stroke-width="0.5"/>
<circle cx="301.4" cy="869.9" r="2.8" fill="#8a7ec0" fill-opacity="0.6" stroke="#eee" stroke-width="0.5"/>
<circle cx="291.8" cy="882.2" r="2.7" fill="#8ab86a" fill-opacity="0.6" stroke="#eee" stroke-width="0.5"/>
<circle cx="292.0" cy="879.2" r="2.7" fill="#8ab86a" fill-opacity="0.6" stroke="#eee" stroke-width="0.5"/>
<circle cx="296.3" cy="875.5" r="2.7" fill="#8a7ec0" fill-opacity="0.6" stroke="#eee" stroke-width="0.5"/>
<circle cx="294.0" cy="877.5" r="2.7" fill="#8a7ec0" fill-opacity="0.6" stroke="#eee" stroke-width="0.5"/>
<circle cx="290.5" cy="870.7" r="2.7" fill="#8a7ec0" fill-opacity="0.6" stroke="#eee" stroke-width="0.5"/>
<circle cx="293.3" cy="881.4" r="2.7" fill="#8ab86a" fill-opacity="0.6" stroke="#eee" stroke-width="0.5"/>
<circle cx="295.6" cy="870.9" r="2.6" fill="#8a7ec0" fill-opacity="0.6" stroke="#eee" stroke-width="0.5"/>
<circle cx="296.6" cy="872.9" r="2.5" fill="#8ab86a" fill-opacity="0.6" stroke="#eee" stroke-width="0.5"/>
<circle cx="292.6" cy="883.9" r="2.5" fill="#8ab86a" fill-opacity="0.6" stroke="#eee" stroke-width="0.5"/>
<circle cx="305.1" cy="867.9" r="2.5" fill="#8ab86a" fill-opacity="0.6" stroke="#eee" stroke-width="0.5"/>
<circle cx="299.8" cy="868.8" r="2.5" fill="#8ab86a" fill-opacity="0.6" stroke="#eee" stroke-width="0.5"/>
<circle cx="292.5" cy="881.9" r="2.5" fill="#8a7ec0" fill-opacity="0.6" stroke="#eee" stroke-width="0.5"/>
<circle cx="294.1" cy="885.6" r="2.4" fill="#8ab86a" fill-opacity="0.6" stroke="#eee" stroke-width="0.5"/>
<circle cx="292.8" cy="880.3" r="2.4" fill="#8ab86a" fill-opacity="0.6" stroke="#eee" stroke-width="0.5"/>
<circle cx="294.3" cy="875.9" r="2.4" fill="#8ab86a" fill-opacity="0.6" stroke="#eee" stroke-width="0.5"/>
<circle cx="296.5" cy="867.9" r="2.4" fill="#8ab86a" fill-opacity="0.6" stroke="#eee" stroke-width="0.5"/>
<circle cx="294.8" cy="871.6" r="2.3" fill="#8a7ec0" fill-opacity="0.6" stroke="#eee" stroke-width="0.5"/>
<circle cx="292.3" cy="876.6" r="2.3" fill="#8ab86a" fill-opacity="0.6" stroke="#eee" stroke-width="0.5"/>
<circle cx="292.0" cy="878.5" r="2.3" fill="#8ab86a" fill-opacity="0.6" stroke="#eee" stroke-width="0.5"/>
<circle cx="291.3" cy="888.1" r="2.3" fill="#8a7ec0" fill-opacity="0.6" stroke="#eee" stroke-width="0.5"/>
<circle cx="290.6" cy="887.8" r="2.3" fill="#8ab86a" fill-opacity="0.6" stroke="#eee" stroke-width="0.5"/>
<circle cx="294.1" cy="876.0" r="2.3" fill="#8a7ec0" fill-opacity="0.6" stroke="#eee" stroke-width="0.5"/>
<circle cx="289.3" cy="876.5" r="2.3" fill="#8ab86a" fill-opacity="0.6" stroke="#eee" stroke-width="0.5"/>
<circle cx="292.7" cy="876.8" r="2.3" fill="#8ab86a" fill-opacity="0.6" stroke="#eee" stroke-width="0.5"/>
<circle cx="295.7" cy="870.5" r="2.2" fill="#e08a6a" fill-opacity="0.6" stroke="#eee" stroke-width="0.5"/>
<circle cx="293.7" cy="879.5" r="2.2" fill="#8ab86a" fill-opacity="0.6" stroke="#eee" stroke-width="0.5"/>
<circle cx="295.6" cy="875.6" r="2.1" fill="#8ab86a" fill-opacity="0.6" stroke="#eee" stroke-width="0.5"/>
<circle cx="290.9" cy="870.1" r="2.1" fill="#e08a6a" fill-opacity="0.6" stroke="#eee" stroke-width="0.5"/>
<circle cx="292.9" cy="879.5" r="2.1" fill="#8a7ec0" fill-opacity="0.6" stroke="#eee" stroke-width="0.5"/>
<circle cx="300.1" cy="875.6" r="2.1" fill="#8ab86a" fill-opacity="0.6" stroke="#eee" stroke-width="0.5"/>
<circle cx="290.0" cy="888.7" r="2.0" fill="#8a7ec0" fill-opacity="0.6" stroke="#eee" stroke-width="0.5"/>
<circle cx="291.3" cy="892.5" r="2.0" fill="#8ab86a" fill-opacity="0.6" stroke="#eee" stroke-width="0.5"/>
<circle cx="289.5" cy="887.4" r="2.0" fill="#8ab86a" fill-opacity="0.6" stroke="#eee" stroke-width="0.5"/>
<circle cx="297.2" cy="872.6" r="2.0" fill="#8ab86a" fill-opacity="0.6" stroke="#eee" stroke-width="0.5"/>
<circle cx="294.8" cy="887.7" r="2.0" fill="#8ab86a" fill-opacity="0.6" stroke="#eee" stroke-width="0.5"/>
<circle cx="295.1" cy="873.5" r="1.9" fill="#8ab86a" fill-opacity="0.6" stroke="#eee" stroke-width="0.5"/>
<circle cx="293.6" cy="878.8" r="1.9" fill="#8ab86a" fill-opacity="0.6" stroke="#eee" stroke-width="0.5"/>
<circle cx="290.5" cy="891.5" r="1.9" fill="#8a7ec0" fill-opacity="0.6" stroke="#eee" stroke-width="0.5"/>
<circle cx="294.7" cy="879.0" r="1.9" fill="#8ab86a" fill-opacity="0.6" stroke="#eee" stroke-width="0.5"/>
<circle cx="288.4" cy="888.2" r="1.9" fill="#8ab86a" fill-opacity="0.6" stroke="#eee" stroke-width="0.5"/>
<circle cx="289.3" cy="886.9" r="1.9" fill="#8a7ec0" fill-opacity="0.6" stroke="#eee" stroke-width="0.5"/>
<circle cx="296.7" cy="877.1" r="1.9" fill="#8ab86a" fill-opacity="0.6" stroke="#eee" stroke-width="0.5"/>
<circle cx="293.3" cy="885.2" r="1.8" fill="#8a7ec0" fill-opacity="0.6" stroke="#eee" stroke-width="0.5"/>
<circle cx="292.3" cy="894.8" r="1.8" fill="#8ab86a" fill-opacity="0.6" stroke="#eee" stroke-width="0.5"/>
<circle cx="293.9" cy="880.3" r="1.8" fill="#8a7ec0" fill-opacity="0.6" stroke="#eee" stroke-width="0.5"/>
<circle cx="288.8" cy="878.8" r="1.8" fill="#8ab86a" fill-opacity="0.6" stroke="#eee" stroke-width="0.5"/>
<circle cx="291.9" cy="883.8" r="1.8" fill="#8ab86a" fill-opacity="0.6" stroke="#eee" stroke-width="0.5"/>
<circle cx="290.2" cy="894.7" r="1.8" fill="#8a7ec0" fill-opacity="0.6" stroke="#eee" stroke-width="0.5"/>
<circle cx="290.6" cy="894.7" r="1.8" fill="#8a7ec0" fill-opacity="0.6" stroke="#eee" stroke-width="0.5"/>
<circle cx="296.7" cy="869.0" r="1.8" fill="#e08a6a" fill-opacity="0.6" stroke="#eee" stroke-width="0.5"/>
<circle cx="294.5" cy="888.1" r="1.8" fill="#8a7ec0" fill-opacity="0.6" stroke="#eee" stroke-width="0.5"/>
<circle cx="293.8" cy="879.2" r="1.8" fill="#8ab86a" fill-opacity="0.6" stroke="#eee" stroke-width="0.5"/>
<circle cx="294.3" cy="878.8" r="1.8" fill="#8ab86a" fill-opacity="0.6" stroke="#eee" stroke-width="0.5"/>
<circle cx="292.4" cy="891.2" r="1.7" fill="#8ab86a" fill-opacity="0.6" stroke="#eee" stroke-width="0.5"/>
<circle cx="296.5" cy="879.9" r="1.7" fill="#8a7ec0" fill-opacity="0.6" stroke="#eee" stroke-width="0.5"/>
<circle cx="288.5" cy="889.3" r="1.7" fill="#8ab86a" fill-opacity="0.6" stroke="#eee" stroke-width="0.5"/>
<circle cx="296.5" cy="890.4" r="1.7" fill="#8ab86a" fill-opacity="0.6" stroke="#eee" stroke-width="0.5"/>
<circle cx="291.8" cy="881.5" r="1.7" fill="#8ab86a" fill-opacity="0.6" stroke="#eee" stroke-width="0.5"/>
<circle cx="286.4" cy="897.8" r="1.7" fill="#8a7ec0" fill-opacity="0.6" stroke="#eee" stroke-width="0.5"/>
<circle cx="288.6" cy="897.3" r="1.7" fill="#8a7ec0" fill-opacity="0.6" stroke="#eee" stroke-width="0.5"/>
<circle cx="292.9" cy="887.1" r="1.6" fill="#8a7ec0" fill-opacity="0.6" stroke="#eee" stroke-width="0.5"/>
<circle cx="290.6" cy="890.4" r="1.6" fill="#8ab86a" fill-opacity="0.6" stroke="#eee" stroke-width="0.5"/>
<circle cx="295.3" cy="879.9" r="1.6" fill="#e08a6a" fill-opacity="0.6" stroke="#eee" stroke-width="0.5"/>
<circle cx="290.8" cy="898.8" r="1.6" fill="#8a7ec0" fill-opacity="0.6" stroke="#eee" stroke-width="0.5"/>
<circle cx="285.0" cy="898.1" r="1.6" fill="#8ab86a" fill-opacity="0.6" stroke="#eee" stroke-width="0.5"/>
<circle cx="288.6" cy="898.3" r="1.6" fill="#8a7ec0" fill-opacity="0.6" stroke="#eee" stroke-width="0.5"/>
<circle cx="290.2" cy="891.5" r="1.5" fill="#8ab86a" fill-opacity="0.6" stroke="#eee" stroke-width="0.5"/>
<circle cx="292.0" cy="893.8" r="1.5" fill="#8ab86a" fill-opacity="0.6" stroke="#eee" stroke-width="0.5"/>
<circle cx="291.3" cy="898.3" r="1.5" fill="#8ab86a" fill-opacity="0.6" stroke="#eee" stroke-width="0.5"/>
<circle cx="290.5" cy="900.2" r="1.5" fill="#8ab86a" fill-opacity="0.6" stroke="#eee" stroke-width="0.5"/>
<circle cx="286.7" cy="899.1" r="1.5" fill="#8a7ec0" fill-opacity="0.6" stroke="#eee" stroke-width="0.5"/>
<circle cx="284.4" cy="895.7" r="1.5" fill="#8ab86a" fill-opacity="0.6" stroke="#eee" stroke-width="0.5"/>
<circle cx="292.2" cy="894.5" r="1.5" fill="#8ab86a" fill-opacity="0.6" stroke="#eee" stroke-width="0.5"/>
<circle cx="289.9" cy="898.3" r="1.5" fill="#8ab86a" fill-opacity="0.6" stroke="#eee" stroke-width="0.5"/>
<circle cx="289.2" cy="895.6" r="1.4" fill="#8a7ec0" fill-opacity="0.6" stroke="#eee" stroke-width="0.5"/>
<circle cx="288.9" cy="901.3" r="1.4" fill="#8a7ec0" fill-opacity="0.6" stroke="#eee" stroke-width="0.5"/>
<circle cx="290.4" cy="890.2" r="1.4" fill="#8ab86a" fill-opacity="0.6" stroke="#eee" stroke-width="0.5"/>
<circle cx="292.2" cy="888.7" r="1.4" fill="#8ab86a" fill-opacity="0.6" stroke="#eee" stroke-width="0.5"/>
<circle cx="293.9" cy="889.9" r="1.4" fill="#8ab86a" fill-opacity="0.6" stroke="#eee" stroke-width="0.5"/>
<circle cx="295.1" cy="867.7" r="1.4" fill="#e08a6a" fill-opacity="0.6" stroke="#eee" stroke-width="0.5"/>
<circle cx="291.0" cy="884.4" r="1.4" fill="#e08a6a" fill-opacity="0.6" stroke="#eee" stroke-width="0.5"/>
<circle cx="291.6" cy="901.4" r="1.4" fill="#8a7ec0" fill-opacity="0.6" stroke="#eee" stroke-width="0.5"/>
<circle cx="287.0" cy="900.8" r="1.4" fill="#8a7ec0" fill-opacity="0.6" stroke="#eee" stroke-width="0.5"/>
<circle cx="286.5" cy="894.0" r="1.4" fill="#8a7ec0" fill-opacity="0.6" stroke="#eee" stroke-width="0.5"/>
<circle cx="290.5" cy="894.3" r="1.4" fill="#8ab86a" fill-opacity="0.6" stroke="#eee" stroke-width="0.5"/>
<circle cx="292.8" cy="896.0" r="1.4" fill="#8a7ec0" fill-opacity="0.6" stroke="#eee" stroke-width="0.5"/>
<circle cx="294.1" cy="890.5" r="1.4" fill="#8ab86a" fill-opacity="0.6" stroke="#eee" stroke-width="0.5"/>
<circle cx="287.7" cy="890.4" r="1.3" fill="#e08a6a" fill-opacity="0.6" stroke="#eee" stroke-width="0.5"/>
<circle cx="296.9" cy="883.5" r="1.3" fill="#e08a6a" fill-opacity="0.6" stroke="#eee" stroke-width="0.5"/>
<circle cx="294.8" cy="898.0" r="1.3" fill="#8ab86a" fill-opacity="0.6" stroke="#eee" stroke-width="0.5"/>
<circle cx="291.7" cy="902.5" r="1.3" fill="#8ab86a" fill-opacity="0.6" stroke="#eee" stroke-width="0.5"/>
<circle cx="291.9" cy="892.0" r="1.3" fill="#8a7ec0" fill-opacity="0.6" stroke="#eee" stroke-width="0.5"/>
<circle cx="287.2" cy="903.8" r="1.3" fill="#8ab86a" fill-opacity="0.6" stroke="#eee" stroke-width="0.5"/>
<circle cx="293.4" cy="870.2" r="1.3" fill="#e08a6a" fill-opacity="0.6" stroke="#eee" stroke-width="0.5"/>
<circle cx="291.2" cy="894.8" r="1.3" fill="#8a7ec0" fill-opacity="0.6" stroke="#eee" stroke-width="0.5"/>
<circle cx="292.7" cy="870.1" r="1.2" fill="#e08a6a" fill-opacity="0.6" stroke="#eee" stroke-width="0.5"/>
<circle cx="293.9" cy="876.1" r="1.2" fill="#e08a6a" fill-opacity="0.6" stroke="#eee" stroke-width="0.5"/>
<circle cx="295.0" cy="875.6" r="1.2" fill="#e08a6a" fill-opacity="0.6" stroke="#eee" stroke-width="0.5"/>
<circle cx="290.3" cy="900.2" r="1.2" fill="#8a7ec0" fill-opacity="0.6" stroke="#eee" stroke-width="0.5"/>
<circle cx="291.6" cy="903.7" r="1.2" fill="#8ab86a" fill-opacity="0.6" stroke="#eee" stroke-width="0.5"/>
<circle cx="288.0" cy="902.7" r="1.2" fill="#8ab86a" fill-opacity="0.6" stroke="#eee" stroke-width="0.5"/>
<circle cx="289.6" cy="900.9" r="1.2" fill="#8ab86a" fill-opacity="0.6" stroke="#eee" stroke-width="0.5"/>
<circle cx="288.5" cy="896.4" r="1.2" fill="#8ab86a" fill-opacity="0.6" stroke="#eee" stroke-width="0.5"/>
<circle cx="286.5" cy="900.5" r="1.2" fill="#8a7ec0" fill-opacity="0.6" stroke="#eee" stroke-width="0.5"/>
<circle cx="285.3" cy="902.9" r="1.2" fill="#8ab86a" fill-opacity="0.6" stroke="#eee" stroke-width="0.5"/>
<circle cx="292.2" cy="897.7" r="1.2" fill="#8ab86a" fill-opacity="0.6" stroke="#eee" stroke-width="0.5"/>
<circle cx="290.1" cy="889.0" r="1.2" fill="#e08a6a" fill-opacity="0.6" stroke="#eee" stroke-width="0.5"/>
<circle cx="289.4" cy="901.0" r="1.2" fill="#8a7ec0" fill-opacity="0.6" stroke="#eee" stroke-width="0.5"/>
<circle cx="284.0" cy="900.7" r="1.1" fill="#8ab86a" fill-opacity="0.6" stroke="#eee" stroke-width="0.5"/>
<circle cx="291.2" cy="907.4" r="1.1" fill="#8ab86a" fill-opacity="0.6" stroke="#eee" stroke-width="0.5"/>
<circle cx="289.6" cy="878.2" r="1.1" fill="#e08a6a" fill-opacity="0.6" stroke="#eee" stroke-width="0.5"/>
<circle cx="287.1" cy="907.2" r="1.1" fill="#8ab86a" fill-opacity="0.6" stroke="#eee" stroke-width="0.5"/>
<circle cx="282.7" cy="906.3" r="1.1" fill="#8ab86a" fill-opacity="0.6" stroke="#eee" stroke-width="0.5"/>
<circle cx="288.1" cy="903.5" r="1.1" fill="#8ab86a" fill-opacity="0.6" stroke="#eee" stroke-width="0.5"/>
<circle cx="287.0" cy="901.7" r="1.1" fill="#8a7ec0" fill-opacity="0.6" stroke="#eee" stroke-width="0.5"/>
<circle cx="282.5" cy="908.5" r="1.1" fill="#8ab86a" fill-opacity="0.6" stroke="#eee" stroke-width="0.5"/>
<circle cx="288.5" cy="901.3" r="1.1" fill="#8a7ec0" fill-opacity="0.6" stroke="#eee" stroke-width="0.5"/>
<circle cx="291.5" cy="900.6" r="1.1" fill="#8ab86a" fill-opacity="0.6" stroke="#eee" stroke-width="0.5"/>
<circle cx="282.8" cy="909.9" r="1.1" fill="#8ab86a" fill-opacity="0.6" stroke="#eee" stroke-width="0.5"/>
<circle cx="286.9" cy="882.2" r="1.0" fill="#e08a6a" fill-opacity="0.6" stroke="#eee" stroke-width="0.5"/>
<circle cx="284.7" cy="909.8" r="1.0" fill="#8ab86a" fill-opacity="0.6" stroke="#eee" stroke-width="0.5"/>
<circle cx="286.7" cy="910.4" r="1.0" fill="#8a7ec0" fill-opacity="0.6" stroke="#eee" stroke-width="0.5"/>
<circle cx="289.3" cy="890.6" r="1.0" fill="#e08a6a" fill-opacity="0.6" stroke="#eee" stroke-width="0.5"/>
<circle cx="287.9" cy="904.8" r="1.0" fill="#8ab86a" fill-opacity="0.6" stroke="#eee" stroke-width="0.5"/>
<circle cx="286.1" cy="911.7" r="1.0" fill="#8ab86a" fill-opacity="0.6" stroke="#eee" stroke-width="0.5"/>
<circle cx="288.1" cy="910.2" r="1.0" fill="#8ab86a" fill-opacity="0.6" stroke="#eee" stroke-width="0.5"/>
<circle cx="289.4" cy="903.1" r="1.0" fill="#8ab86a" fill-opacity="0.6" stroke="#eee" stroke-width="0.5"/>
<circle cx="291.4" cy="905.6" r="1.0" fill="#8a7ec0" fill-opacity="0.6" stroke="#eee" stroke-width="0.5"/>
<circle cx="284.2" cy="910.8" r="1.0" fill="#8ab86a" fill-opacity="0.6" stroke="#eee" stroke-width="0.5"/>
<circle cx="290.1" cy="905.5" r="1.0" fill="#8ab86a" fill-opacity="0.6" stroke="#eee" stroke-width="0.5"/>
<circle cx="285.9" cy="912.8" r="0.9" fill="#8ab86a" fill-opacity="0.6" stroke="#eee" stroke-width="0.5"/>
<circle cx="288.3" cy="911.5" r="0.9" fill="#8a7ec0" fill-opacity="0.6" stroke="#eee" stroke-width="0.5"/>
<circle cx="283.7" cy="909.1" r="0.9" fill="#8a7ec0" fill-opacity="0.6" stroke="#eee" stroke-width="0.5"/>
<circle cx="288.1" cy="909.6" r="0.9" fill="#8a7ec0" fill-opacity="0.6" stroke="#eee" stroke-width="0.5"/>
<circle cx="289.8" cy="913.1" r="0.9" fill="#8ab86a" fill-opacity="0.6" stroke="#eee" stroke-width="0.5"/>
<circle cx="286.8" cy="895.1" r="0.9" fill="#e08a6a" fill-opacity="0.6" stroke="#eee" stroke-width="0.5"/>
<circle cx="291.1" cy="906.7" r="0.9" fill="#8ab86a" fill-opacity="0.6" stroke="#eee" stroke-width="0.5"/>
<circle cx="285.6" cy="913.2" r="0.9" fill="#8ab86a" fill-opacity="0.6" stroke="#eee" stroke-width="0.5"/>
<circle cx="284.1" cy="899.6" r="0.9" fill="#e08a6a" fill-opacity="0.6" stroke="#eee" stroke-width="0.5"/>
<circle cx="286.3" cy="913.1" r="0.9" fill="#8ab86a" fill-opacity="0.6" stroke="#eee" stroke-width="0.5"/>
<circle cx="288.3" cy="911.7" r="0.9" fill="#8ab86a" fill-opacity="0.6" stroke="#eee" stroke-width="0.5"/>
<circle cx="289.4" cy="911.4" r="0.9" fill="#8ab86a" fill-opacity="0.6" stroke="#eee" stroke-width="0.5"/>
<circle cx="292.4" cy="908.0" r="0.9" fill="#8ab86a" fill-opacity="0.6" stroke="#eee" stroke-width="0.5"/>
<circle cx="286.6" cy="914.4" r="0.9" fill="#8a7ec0" fill-opacity="0.6" stroke="#eee" stroke-width="0.5"/>
<circle cx="284.2" cy="916.2" r="0.9" fill="#8ab86a" fill-opacity="0.6" stroke="#eee" stroke-width="0.5"/>
<circle cx="286.4" cy="917.5" r="0.9" fill="#8ab86a" fill-opacity="0.6" stroke="#eee" stroke-width="0.5"/>
<circle cx="286.6" cy="911.7" r="0.9" fill="#8ab86a" fill-opacity="0.6" stroke="#eee" stroke-width="0.5"/>
<circle cx="283.0" cy="900.0" r="0.9" fill="#e08a6a" fill-opacity="0.6" stroke="#eee" stroke-width="0.5"/>
<circle cx="283.3" cy="914.4" r="0.9" fill="#8ab86a" fill-opacity="0.6" stroke="#eee" stroke-width="0.5"/>
<circle cx="285.0" cy="916.8" r="0.8" fill="#8ab86a" fill-opacity="0.6" stroke="#eee" stroke-width="0.5"/>
<circle cx="287.9" cy="915.7" r="0.8" fill="#8a7ec0" fill-opacity="0.6" stroke="#eee" stroke-width="0.5"/>
<circle cx="285.2" cy="916.4" r="0.8" fill="#8ab86a" fill-opacity="0.6" stroke="#eee" stroke-width="0.5"/>
<circle cx="288.9" cy="917.7" r="0.8" fill="#8a7ec0" fill-opacity="0.6" stroke="#eee" stroke-width="0.5"/>
<circle cx="290.7" cy="892.2" r="0.8" fill="#e08a6a" fill-opacity="0.6" stroke="#eee" stroke-width="0.5"/>
<circle cx="282.0" cy="915.2" r="0.8" fill="#8ab86a" fill-opacity="0.6" stroke="#eee" stroke-width="0.5"/>
<circle cx="283.2" cy="916.4" r="0.8" fill="#8ab86a" fill-opacity="0.6" stroke="#eee" stroke-width="0.5"/>
<circle cx="284.8" cy="919.0" r="0.8" fill="#8a7ec0" fill-opacity="0.6" stroke="#eee" stroke-width="0.5"/>
<circle cx="284.5" cy="911.3" r="0.8" fill="#8ab86a" fill-opacity="0.6" stroke="#eee" stroke-width="0.5"/>
<circle cx="284.9" cy="919.5" r="0.8" fill="#8ab86a" fill-opacity="0.6" stroke="#eee" stroke-width="0.5"/>
<circle cx="289.2" cy="915.3" r="0.8" fill="#8ab86a" fill-opacity="0.6" stroke="#eee" stroke-width="0.5"/>
<circle cx="282.2" cy="914.9" r="0.8" fill="#8ab86a" fill-opacity="0.6" stroke="#eee" stroke-width="0.5"/>
<circle cx="286.7" cy="892.9" r="0.8" fill="#e08a6a" fill-opacity="0.6" stroke="#eee" stroke-width="0.5"/>
<circle cx="282.0" cy="912.9" r="0.8" fill="#8a7ec0" fill-opacity="0.6" stroke="#eee" stroke-width="0.5"/>
<circle cx="287.7" cy="915.9" r="0.8" fill="#8ab86a" fill-opacity="0.6" stroke="#eee" stroke-width="0.5"/>
<circle cx="283.9" cy="914.3" r="0.8" fill="#8ab86a" fill-opacity="0.6" stroke="#eee" stroke-width="0.5"/>
<circle cx="285.6" cy="916.2" r="0.8" fill="#8a7ec0" fill-opacity="0.6" stroke="#eee" stroke-width="0.5"/>
<circle cx="285.4" cy="916.1" r="0.8" fill="#8a7ec0" fill-opacity="0.6" stroke="#eee" stroke-width="0.5"/>
<circle cx="280.8" cy="917.3" r="0.8" fill="#8ab86a" fill-opacity="0.6" stroke="#eee" stroke-width="0.5"/>
<circle cx="287.6" cy="918.4" r="0.8" fill="#8a7ec0" fill-opacity="0.6" stroke="#eee" stroke-width="0.5"/>
<circle cx="285.9" cy="917.4" r="0.8" fill="#8ab86a" fill-opacity="0.6" stroke="#eee" stroke-width="0.5"/>
<circle cx="282.6" cy="920.7" r="0.8" fill="#8ab86a" fill-opacity="0.6" stroke="#eee" stroke-width="0.5"/>
<circle cx="286.5" cy="918.1" r="0.8" fill="#8a7ec0" fill-opacity="0.6" stroke="#eee" stroke-width="0.5"/>
<circle cx="286.2" cy="918.3" r="0.8" fill="#8ab86a" fill-opacity="0.6" stroke="#eee" stroke-width="0.5"/>
<circle cx="282.8" cy="920.0" r="0.8" fill="#8ab86a" fill-opacity="0.6" stroke="#eee" stroke-width="0.5"/>
<circle cx="285.1" cy="922.9" r="0.8" fill="#8ab86a" fill-opacity="0.6" stroke="#eee" stroke-width="0.5"/>
<circle cx="283.3" cy="922.1" r="0.7" fill="#8a7ec0" fill-opacity="0.6" stroke="#eee" stroke-width="0.5"/>
<circle cx="284.1" cy="926.0" r="0.7" fill="#8ab86a" fill-opacity="0.6" stroke="#eee" stroke-width="0.5"/>
<circle cx="287.2" cy="897.4" r="0.7" fill="#e08a6a" fill-opacity="0.6" stroke="#eee" stroke-width="0.5"/>
<circle cx="280.7" cy="922.1" r="0.7" fill="#8ab86a" fill-opacity="0.6" stroke="#eee" stroke-width="0.5"/>
<circle cx="287.1" cy="900.5" r="0.7" fill="#e08a6a" fill-opacity="0.6" stroke="#eee" stroke-width="0.5"/>
<circle cx="284.7" cy="923.9" r="0.7" fill="#8a7ec0" fill-opacity="0.6" stroke="#eee" stroke-width="0.5"/>
<circle cx="288.9" cy="925.0" r="0.7" fill="#8a7ec0" fill-opacity="0.6" stroke="#eee" stroke-width="0.5"/>
<circle cx="286.2" cy="921.6" r="0.7" fill="#8ab86a" fill-opacity="0.6" stroke="#eee" stroke-width="0.5"/>
<circle cx="283.0" cy="928.2" r="0.7" fill="#8ab86a" fill-opacity="0.6" stroke="#eee" stroke-width="0.5"/>
<circle cx="286.5" cy="923.7" r="0.7" fill="#8a7ec0" fill-opacity="0.6" stroke="#eee" stroke-width="0.5"/>
<circle cx="282.3" cy="927.2" r="0.7" fill="#8a7ec0" fill-opacity="0.6" stroke="#eee" stroke-width="0.5"/>
<circle cx="285.1" cy="925.8" r="0.7" fill="#8ab86a" fill-opacity="0.6" stroke="#eee" stroke-width="0.5"/>
<circle cx="283.6" cy="925.4" r="0.7" fill="#8a7ec0" fill-opacity="0.6" stroke="#eee" stroke-width="0.5"/>
<circle cx="281.1" cy="926.4" r="0.7" fill="#8ab86a" fill-opacity="0.6" stroke="#eee" stroke-width="0.5"/>
<circle cx="284.0" cy="926.5" r="0.7" fill="#8ab86a" fill-opacity="0.6" stroke="#eee" stroke-width="0.5"/>
<circle cx="289.1" cy="928.7" r="0.7" fill="#8a7ec0" fill-opacity="0.6" stroke="#eee" stroke-width="0.5"/>
<circle cx="282.9" cy="929.0" r="0.7" fill="#8a7ec0" fill-opacity="0.6" stroke="#eee" stroke-width="0.5"/>
<circle cx="283.9" cy="926.9" r="0.7" fill="#8ab86a" fill-opacity="0.6" stroke="#eee" stroke-width="0.5"/>
<circle cx="282.8" cy="926.5" r="0.7" fill="#8ab86a" fill-opacity="0.6" stroke="#eee" stroke-width="0.5"/>
<circle cx="283.7" cy="928.3" r="0.7" fill="#8ab86a" fill-opacity="0.6" stroke="#eee" stroke-width="0.5"/>
<circle cx="284.2" cy="927.6" r="0.7" fill="#8a7ec0" fill-opacity="0.6" stroke="#eee" stroke-width="0.5"/>
<circle cx="283.4" cy="897.1" r="0.7" fill="#e08a6a" fill-opacity="0.6" stroke="#eee" stroke-width="0.5"/>
<circle cx="289.2" cy="903.2" r="0.7" fill="#e08a6a" fill-opacity="0.6" stroke="#eee" stroke-width="0.5"/>
<circle cx="283.0" cy="906.1" r="0.7" fill="#e08a6a" fill-opacity="0.6" stroke="#eee" stroke-width="0.5"/>
<circle cx="284.2" cy="908.9" r="0.6" fill="#e08a6a" fill-opacity="0.6" stroke="#eee" stroke-width="0.5"/>
<circle cx="283.8" cy="906.7" r="0.6" fill="#e08a6a" fill-opacity="0.6" stroke="#eee" stroke-width="0.5"/>
<circle cx="283.5" cy="910.2" r="0.6" fill="#e08a6a" fill-opacity="0.6" stroke="#eee" stroke-width="0.5"/>
<circle cx="282.0" cy="909.4" r="0.6" fill="#e08a6a" fill-opacity="0.6" stroke="#eee" stroke-width="0.5"/>
<circle cx="284.7" cy="914.0" r="0.6" fill="#e08a6a" fill-opacity="0.6" stroke="#eee" stroke-width="0.5"/>
<circle cx="282.9" cy="908.1" r="0.6" fill="#e08a6a" fill-opacity="0.6" stroke="#eee" stroke-width="0.5"/>
<circle cx="282.1" cy="906.1" r="0.6" fill="#e08a6a" fill-opacity="0.6" stroke="#eee" stroke-width="0.5"/>
<circle cx="281.4" cy="916.2" r="0.5" fill="#e08a6a" fill-opacity="0.6" stroke="#eee" stroke-width="0.5"/>
<circle cx="286.3" cy="921.2" r="0.4" fill="#e08a6a" fill-opacity="0.6" stroke="#eee" stroke-width="0.5"/>
<circle cx="284.9" cy="924.9" r="0.4" fill="#e08a6a" fill-opacity="0.6" stroke="#eee" stroke-width="0.5"/>
<circle cx="283.3" cy="923.3" r="0.4" fill="#e08a6a" fill-opacity="0.6" stroke="#eee" stroke-width="0.5"/>
<circle cx="279.3" cy="928.1" r="0.4" fill="#e08a6a" fill-opacity="0.6" stroke="#eee" stroke-width="0.5"/>
<circle cx="278.5" cy="927.9" r="0.4" fill="#e08a6a" fill-opacity="0.6" stroke="#eee" stroke-width="0.5"/>
<circle cx="297.6" cy="867.0" r="4.6" fill="#8ab86a" fill-opacity="0.6" stroke="#fff" stroke-width="0.5"/>
<circle cx="295.0" cy="869.0" r="3.5" fill="#8ab86a" fill-opacity="0.55" stroke="#fff" stroke-width="0.5"/>
<circle cx="372.5" cy="909.2" r="1.2" fill="#e08a6a" fill-opacity="0.6"/>
<circle cx="372.3" cy="903.8" r="1.3" fill="#8a7ec0" fill-opacity="0.6"/>
<circle cx="374.6" cy="893.8" r="1.2" fill="#8ab86a" fill-opacity="0.6"/>
<circle cx="378.4" cy="887.3" r="1.5" fill="#8a7ec0" fill-opacity="0.6"/>
<circle cx="369.5" cy="916.0" r="0.7" fill="#e08a6a" fill-opacity="0.6"/>
<circle cx="377.8" cy="899.5" r="1.1" fill="#e08a6a" fill-opacity="0.6"/>
<circle cx="371.0" cy="917.3" r="0.7" fill="#e08a6a" fill-opacity="0.6"/>
<circle cx="367.3" cy="918.8" r="0.7" fill="#e08a6a" fill-opacity="0.6"/>
<circle cx="373.8" cy="890.5" r="1.2" fill="#e08a6a" fill-opacity="0.6"/>
<circle cx="372.8" cy="915.3" r="0.9" fill="#e08a6a" fill-opacity="0.6"/>
<circle cx="378.1" cy="896.7" r="1.0" fill="#e08a6a" fill-opacity="0.6"/>
<circle cx="369.0" cy="930.8" r="0.5" fill="#e08a6a" fill-opacity="0.6"/>
<circle cx="377.9" cy="890.2" r="1.2" fill="#e08a6a" fill-opacity="0.6"/>
<circle cx="374.3" cy="905.0" r="1.3" fill="#e08a6a" fill-opacity="0.6"/>
<circle cx="375.2" cy="900.7" r="1.6" fill="#e08a6a" fill-opacity="0.6"/>
<circle cx="380.7" cy="893.2" r="1.1" fill="#e08a6a" fill-opacity="0.6"/>
<circle cx="376.8" cy="898.9" r="1.0" fill="#e08a6a" fill-opacity="0.6"/>
<circle cx="368.5" cy="913.5" r="1.1" fill="#e08a6a" fill-opacity="0.6"/>
<circle cx="379.8" cy="894.1" r="1.0" fill="#e08a6a" fill-opacity="0.6"/>
<circle cx="367.6" cy="929.6" r="0.6" fill="#e08a6a" fill-opacity="0.6"/>
<circle cx="376.4" cy="885.6" r="1.1" fill="#e08a6a" fill-opacity="0.6"/>
<circle cx="382.6" cy="882.9" r="2.0" fill="#e08a6a" fill-opacity="0.6"/>
<circle cx="368.6" cy="923.2" r="0.7" fill="#e08a6a" fill-opacity="0.6"/>
<circle cx="376.7" cy="887.8" r="1.5" fill="#e08a6a" fill-opacity="0.6"/>
<circle cx="369.8" cy="915.4" r="0.7" fill="#e08a6a" fill-opacity="0.6"/>
<circle cx="371.3" cy="908.9" r="1.0" fill="#8ab86a" fill-opacity="0.6"/>
<circle cx="374.3" cy="912.9" r="1.1" fill="#e08a6a" fill-opacity="0.6"/>
<circle cx="366.4" cy="930.3" r="0.5" fill="#e08a6a" fill-opacity="0.6"/>
<circle cx="375.2" cy="893.7" r="1.1" fill="#e08a6a" fill-opacity="0.6"/>
<circle cx="376.4" cy="924.2" r="0.7" fill="#e08a6a" fill-opacity="0.6"/>
<circle cx="379.7" cy="892.9" r="1.2" fill="#e08a6a" fill-opacity="0.6"/>
<circle cx="376.9" cy="907.6" r="1.3" fill="#e08a6a" fill-opacity="0.6"/>
<circle cx="374.1" cy="906.1" r="0.8" fill="#e08a6a" fill-opacity="0.6"/>
<circle cx="379.1" cy="881.6" r="2.1" fill="#8ab86a" fill-opacity="0.6"/>
<circle cx="366.6" cy="926.9" r="0.6" fill="#e08a6a" fill-opacity="0.6"/>
<circle cx="374.7" cy="895.2" r="1.3" fill="#e08a6a" fill-opacity="0.6"/>
<circle cx="371.4" cy="923.2" r="0.7" fill="#e08a6a" fill-opacity="0.6"/>
<circle cx="379.7" cy="884.9" r="1.4" fill="#e08a6a" fill-opacity="0.6"/>
<circle cx="376.9" cy="886.9" r="1.6" fill="#e08a6a" fill-opacity="0.6"/>
<circle cx="382.1" cy="882.6" r="1.3" fill="#e08a6a" fill-opacity="0.6"/>
<circle cx="377.5" cy="884.9" r="1.6" fill="#e08a6a" fill-opacity="0.6"/>
<circle cx="380.9" cy="892.4" r="1.2" fill="#e08a6a" fill-opacity="0.6"/>
<circle cx="372.2" cy="918.6" r="0.7" fill="#e08a6a" fill-opacity="0.6"/>
<circle cx="369.5" cy="931.5" r="0.5" fill="#e08a6a" fill-opacity="0.6"/>
<circle cx="374.8" cy="889.9" r="1.2" fill="#e08a6a" fill-opacity="0.6"/>
<circle cx="374.0" cy="893.7" r="1.2" fill="#e08a6a" fill-opacity="0.6"/>
<circle cx="374.1" cy="911.8" r="1.0" fill="#e08a6a" fill-opacity="0.6"/>
<circle cx="376.8" cy="884.4" r="1.3" fill="#e08a6a" fill-opacity="0.6"/>
<circle cx="371.0" cy="910.2" r="1.3" fill="#e08a6a" fill-opacity="0.6"/>
<circle cx="383.0" cy="884.5" r="1.7" fill="#8ab86a" fill-opacity="0.6"/>
<circle cx="375.3" cy="886.8" r="1.3" fill="#e08a6a" fill-opacity="0.6"/>
<circle cx="376.1" cy="887.0" r="2.1" fill="#e08a6a" fill-opacity="0.6"/>
<circle cx="365.4" cy="928.7" r="0.6" fill="#e08a6a" fill-opacity="0.6"/>
<circle cx="368.7" cy="920.5" r="0.8" fill="#e08a6a" fill-opacity="0.6"/>
<circle cx="369.1" cy="923.6" r="0.7" fill="#e08a6a" fill-opacity="0.6"/>
<circle cx="370.1" cy="905.7" r="1.1" fill="#e08a6a" fill-opacity="0.6"/>
<circle cx="368.8" cy="927.7" r="0.6" fill="#e08a6a" fill-opacity="0.6"/>
<circle cx="372.7" cy="909.3" r="0.8" fill="#e08a6a" fill-opacity="0.6"/>
<circle cx="369.9" cy="911.8" r="0.9" fill="#e08a6a" fill-opacity="0.6"/>
<circle cx="371.1" cy="914.7" r="0.7" fill="#8a7ec0" fill-opacity="0.6"/>
<circle cx="377.5" cy="882.9" r="1.8" fill="#e08a6a" fill-opacity="0.6"/>
<circle cx="372.3" cy="916.9" r="0.9" fill="#e08a6a" fill-opacity="0.6"/>
<circle cx="380.4" cy="887.3" r="1.6" fill="#e08a6a" fill-opacity="0.6"/>
<circle cx="375.1" cy="904.6" r="1.4" fill="#8a7ec0" fill-opacity="0.6"/>
<circle cx="372.1" cy="914.9" r="1.0" fill="#e08a6a" fill-opacity="0.6"/>
<circle cx="368.9" cy="916.1" r="0.9" fill="#e08a6a" fill-opacity="0.6"/>
<circle cx="372.3" cy="910.7" r="0.8" fill="#e08a6a" fill-opacity="0.6"/>
<circle cx="376.4" cy="903.6" r="1.2" fill="#e08a6a" fill-opacity="0.6"/>
<circle cx="373.2" cy="903.9" r="1.5" fill="#e08a6a" fill-opacity="0.6"/>
<circle cx="369.7" cy="898.8" r="1.2" fill="#e08a6a" fill-opacity="0.6"/>
<circle cx="393.4" cy="858.0" r="13.6" fill="#e8906c" fill-opacity="0.7" stroke="#f4c0a8" stroke-width="0.5"/>
<circle cx="396.1" cy="853.5" r="10.0" fill="#8a5a9a" fill-opacity="0.55" stroke="#c0b0e0" stroke-width="0.5"/>
<circle cx="382.6" cy="868.4" r="5.0" fill="#e8906c" fill-opacity="0.65" stroke="#f4c0a8" stroke-width="0.5"/>
<circle cx="384.0" cy="868.0" r="1.6" fill="#7a5a9a" fill-opacity="0.8"/>
<circle cx="379.2" cy="875.8" r="4.5" fill="#e8906c" fill-opacity="0.6" stroke="#f4c0a8" stroke-width="0.5"/>
<circle cx="379.5" cy="875.5" r="2.0" fill="#7a6ab0" fill-opacity="0.7"/>
<circle cx="377.0" cy="880.0" r="2.0" fill="#e8906c" fill-opacity="0.7"/>
<circle cx="375.0" cy="884.0" r="1.2" fill="#e8906c" fill-opacity="0.7"/>
<circle cx="374.5" cy="890.0" r="2.2" fill="#e8906c" fill-opacity="0.5"/>
<circle cx="377.5" cy="893.0" r="2.2" fill="#e8906c" fill-opacity="0.5"/>
<circle cx="373.5" cy="899.0" r="2.0" fill="#e8906c" fill-opacity="0.6"/>
<circle cx="475.2" cy="851.8" r="26.5" fill="#e8a890" fill-opacity="0.85"/>
<circle cx="474.7" cy="856.8" r="10.2" fill="#d88468" fill-opacity="0.8" stroke="#f0c0b0" stroke-width="0.5"/>
<circle cx="464.6" cy="873.6" r="2.5" fill="#e08a6a" fill-opacity="0.8"/>
<circle cx="458.8" cy="873.2" r="1.4" fill="#e08a6a" fill-opacity="0.8"/>
<circle cx="461.5" cy="882.6" r="2.3" fill="#8a7ec0" fill-opacity="0.8"/>
<circle cx="463.6" cy="887.3" r="3.0" fill="#e08a6a" fill-opacity="0.8"/>
<circle cx="461.0" cy="890.0" r="1.5" fill="#8ab86a" fill-opacity="0.8"/>
<circle cx="455.0" cy="892.5" r="1.7" fill="#e08a6a" fill-opacity="0.8"/>
<circle cx="458.5" cy="894.6" r="1.6" fill="#9a4a6a" fill-opacity="0.8"/>
<circle cx="460.0" cy="897.6" r="1.3" fill="#8ab86a" fill-opacity="0.8"/>
<circle cx="459.5" cy="903.6" r="1.2" fill="#8ab86a" fill-opacity="0.8"/>
<circle cx="456.0" cy="905.0" r="1.0" fill="#e08a6a" fill-opacity="0.8"/>
<circle cx="455.5" cy="910.0" r="1.2" fill="#e08a6a" fill-opacity="0.8"/>
<circle cx="454.0" cy="913.0" r="1.0" fill="#e08a6a" fill-opacity="0.8"/>
<circle cx="453.0" cy="922.0" r="1.2" fill="#e08a6a" fill-opacity="0.8"/>
<circle cx="452.5" cy="887.0" r="0.6" fill="#e08a6a" fill-opacity="0.8"/>
<circle cx="456.0" cy="898.0" r="0.6" fill="#e08a6a" fill-opacity="0.8"/>
<text transform="translate(161.00 880.20) rotate(-90) scale(0.9 1)" font-size="10" fill="#111" text-anchor="middle">Freq of unique mutation (%)</text>
<text transform="translate(197.30 967.00) scale(0.9 1)" font-size="10" fill="#111" text-anchor="start">Number of intraclonal unique sequences (intraclonal lineage diversity)</text>
<rect x="0" y="0" width="520" height="1" fill="#8a8a8a"/>
<rect x="0" y="1" width="520" height="1" fill="#111"/>
<rect x="0" y="0" width="1.6" height="981" fill="#111"/>
<rect x="518" y="0" width="2" height="981" fill="#111"/>
<rect x="0" y="979" width="520" height="2" fill="#111"/>
</svg>
</body></html>
